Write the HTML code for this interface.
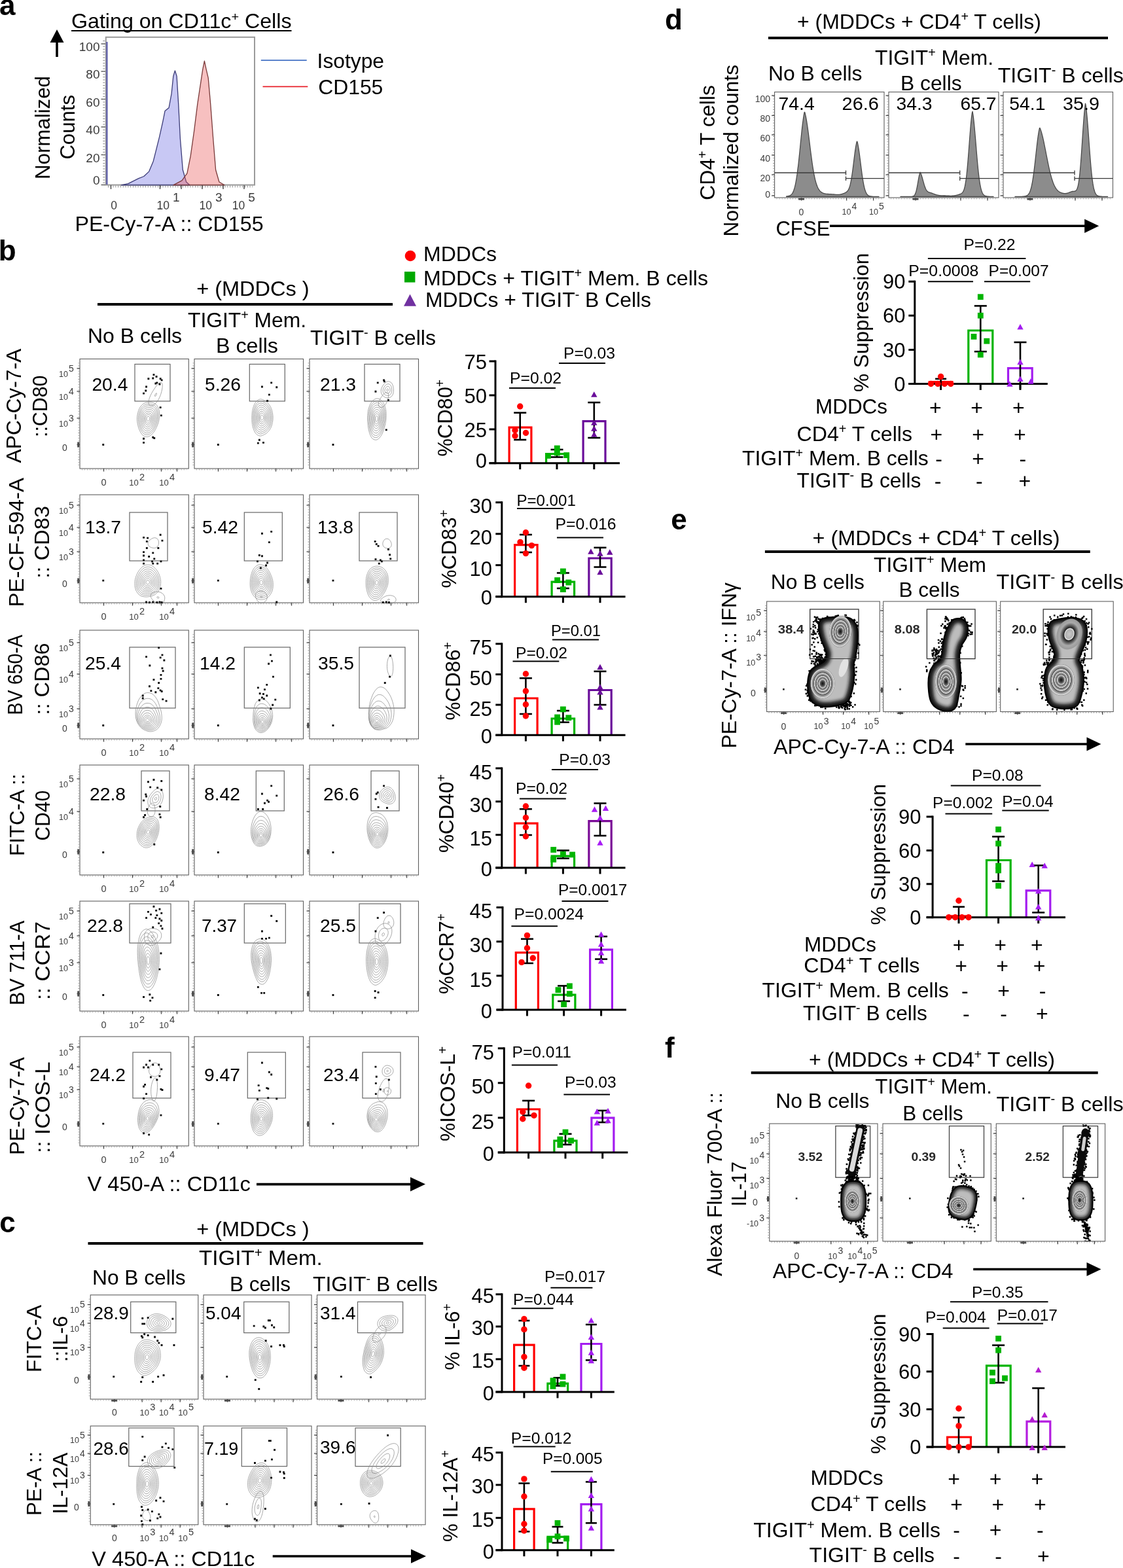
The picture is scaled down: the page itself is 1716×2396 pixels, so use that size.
<!DOCTYPE html>
<html lang="en"><head><meta charset="utf-8"><title>Figure</title>
<style>html,body{margin:0;padding:0;background:#fff}svg{display:block}text{font-family:"Liberation Sans",sans-serif}</style></head>
<body><svg width="1716" height="2396" viewBox="0 0 1716 2396">
<rect width="1716" height="2396" fill="#fff"/>
<defs>
<radialGradient id="zb"><stop offset="0" stop-color="#0c0c0c"/><stop offset="0.16" stop-color="#4a4a4a"/><stop offset="0.27" stop-color="#a8a8a8"/><stop offset="0.30" stop-color="#f0f0f0"/><stop offset="0.33" stop-color="#5a5a5a"/><stop offset="0.46" stop-color="#b4b4b4"/><stop offset="0.49" stop-color="#f0f0f0"/><stop offset="0.52" stop-color="#555"/><stop offset="0.66" stop-color="#bdbdbd"/><stop offset="0.69" stop-color="#f0f0f0"/><stop offset="0.72" stop-color="#555"/><stop offset="0.88" stop-color="#b0b0b0"/><stop offset="0.96" stop-color="#e0e0e0"/><stop offset="1" stop-color="#777"/></radialGradient>
<radialGradient id="zl"><stop offset="0" stop-color="#c8c8c8"/><stop offset="0.30" stop-color="#b0b0b0"/><stop offset="0.36" stop-color="#f0f0f0"/><stop offset="0.42" stop-color="#222"/><stop offset="0.75" stop-color="#aaa"/><stop offset="1" stop-color="#999"/></radialGradient>
<radialGradient id="hull"><stop offset="0" stop-color="#e8e8e8"/><stop offset="0.55" stop-color="#cfcfcf"/><stop offset="0.85" stop-color="#8a8a8a"/><stop offset="1" stop-color="#1a1a1a"/></radialGradient>
<linearGradient id="stk" x1="0" y1="0" x2="1" y2="0"><stop offset="0" stop-color="#222"/><stop offset="0.3" stop-color="#aaa"/><stop offset="0.55" stop-color="#d2d2d2"/><stop offset="0.8" stop-color="#999"/><stop offset="1" stop-color="#222"/></linearGradient>
<filter id="bl" x="-20%" y="-20%" width="140%" height="140%"><feGaussianBlur stdDeviation="2.6"/></filter>
</defs>
<text x="-1.1" y="23.3" font-size="44" font-weight="bold">a</text>
<text x="109" y="42.6" font-size="30.5" textLength="336.5" lengthAdjust="spacingAndGlyphs">Gating on CD11c<tspan dy="-10.98" font-size="18.91">+</tspan><tspan dy="10.98"> Cells</tspan></text>
<line x1="109" y1="47" x2="445.5" y2="47" stroke="#000" stroke-width="2.2" />
<line x1="87" y1="87" x2="87" y2="63" stroke="#000" stroke-width="3.6" />
<polygon points="87,45 76.5,65 97.5,65" fill="#000"/>
<text font-size="31" textLength="158" lengthAdjust="spacingAndGlyphs" transform="translate(75.5,274) rotate(-90)">Normalized</text>
<text font-size="31" textLength="98.6" lengthAdjust="spacingAndGlyphs" transform="translate(113.8,243.6) rotate(-90)">Counts</text>
<rect x="161.8" y="56.8" width="227.2" height="225.8" fill="#fff" stroke="#9a9a9a" stroke-width="2" />
<path d="M185.3,282.8 L195.9,280.6 L211.8,272.7 L219.8,269.5 L227.7,262.1 L234.3,246.2 L238.3,230.3 L243.6,209.2 L248.9,185.3 L252.1,169.4 L258.1,164.7 L262.1,143 L264.8,116.5 L267.4,108 L270.1,116.5 L272.7,158.9 L275.4,211.8 L279.3,259.5 L284.6,278 L289.9,282.8 Z" fill="rgba(110,110,225,0.38)" stroke="#3c3c78" stroke-width="1.3" stroke-linejoin="round"/>
<path d="M264.8,282.8 L278,275.9 L285.9,264.8 L291.2,238.3 L296.5,201.2 L301.8,158.9 L305.8,132.4 L309.8,105.9 L312.4,93.2 L315.1,105.9 L318.2,119.1 L321.7,158.9 L325.7,211.8 L329.6,259.5 L334.9,278 L342.9,282.8 Z" fill="rgba(235,90,90,0.38)" stroke="#7a3a3a" stroke-width="1.3" stroke-linejoin="round"/>
<line x1="163.4" y1="64" x2="163.4" y2="282" stroke="#5a5aa8" stroke-width="2.2" />
<text x="152.5" y="78.3" font-size="19" text-anchor="end" fill="#3a3a3a">100</text>
<line x1="154.5" y1="67" x2="161" y2="67" stroke="#555" stroke-width="1.4" />
<text x="152.5" y="120.4" font-size="19" text-anchor="end" fill="#3a3a3a">80</text>
<line x1="154.5" y1="109.1" x2="161" y2="109.1" stroke="#555" stroke-width="1.4" />
<text x="152.5" y="162.8" font-size="19" text-anchor="end" fill="#3a3a3a">60</text>
<line x1="154.5" y1="151.5" x2="161" y2="151.5" stroke="#555" stroke-width="1.4" />
<text x="152.5" y="205.3" font-size="19" text-anchor="end" fill="#3a3a3a">40</text>
<line x1="154.5" y1="194" x2="161" y2="194" stroke="#555" stroke-width="1.4" />
<text x="152.5" y="247.8" font-size="19" text-anchor="end" fill="#3a3a3a">20</text>
<line x1="154.5" y1="236.5" x2="161" y2="236.5" stroke="#555" stroke-width="1.4" />
<text x="152.5" y="281.8" font-size="19" text-anchor="end" fill="#3a3a3a">0</text>
<line x1="154.5" y1="282.5" x2="161" y2="282.5" stroke="#555" stroke-width="1.4" />
<line x1="158.8" y1="62" x2="158.8" y2="282" stroke="#888" stroke-width="3" stroke-dasharray="0.9 3.35"/>
<line x1="165" y1="285" x2="386" y2="285" stroke="#888" stroke-width="3" stroke-dasharray="0.9 2.9"/>
<line x1="169.5" y1="283" x2="169.5" y2="289" stroke="#444" stroke-width="1.4" />
<line x1="244.5" y1="283" x2="244.5" y2="289" stroke="#444" stroke-width="1.4" />
<line x1="277" y1="283" x2="277" y2="289" stroke="#444" stroke-width="1.4" />
<line x1="309" y1="283" x2="309" y2="289" stroke="#444" stroke-width="1.4" />
<line x1="341" y1="283" x2="341" y2="289" stroke="#444" stroke-width="1.4" />
<line x1="373" y1="283" x2="373" y2="289" stroke="#444" stroke-width="1.4" />
<text x="174" y="320" font-size="17.5" text-anchor="middle" fill="#3a3a3a">0</text>
<text x="239.6" y="320" font-size="17.5" fill="#3a3a3a">10</text>
<text x="264.1" y="308" font-size="19" fill="#3a3a3a">1</text>
<text x="304.5" y="320" font-size="17.5" fill="#3a3a3a">10</text>
<text x="329" y="308" font-size="19" fill="#3a3a3a">3</text>
<text x="354.8" y="320" font-size="17.5" fill="#3a3a3a">10</text>
<text x="379.3" y="308" font-size="19" fill="#3a3a3a">5</text>
<text x="114.4" y="353.4" font-size="32" textLength="288.2" lengthAdjust="spacingAndGlyphs">PE-Cy-7-A :: CD155</text>
<line x1="398.8" y1="92.2" x2="468.7" y2="92.2" stroke="#4472c4" stroke-width="1.8" />
<text x="484.6" y="104.3" font-size="32" textLength="102.4" lengthAdjust="spacingAndGlyphs">Isotype</text>
<line x1="401.5" y1="132.4" x2="470.3" y2="132.4" stroke="#e8202a" stroke-width="1.8" />
<text x="486.2" y="144" font-size="32" textLength="99.1" lengthAdjust="spacingAndGlyphs">CD155</text>
<rect x="122" y="548.5" width="166.3" height="167.5" fill="#fff" stroke="#5e5e5e" stroke-width="1.1" />
<line x1="120.5" y1="554.5" x2="120.5" y2="713" stroke="#999" stroke-width="2.2" stroke-dasharray="0.8 3.3"/>
<line x1="125" y1="717.5" x2="285.3" y2="717.5" stroke="#999" stroke-width="2.2" stroke-dasharray="0.8 3.3"/>
<line x1="117.5" y1="563" x2="122" y2="563" stroke="#444" stroke-width="1.3" />
<line x1="117.5" y1="598" x2="122" y2="598" stroke="#444" stroke-width="1.3" />
<line x1="117.5" y1="639" x2="122" y2="639" stroke="#444" stroke-width="1.3" />
<line x1="117.5" y1="679.5" x2="122" y2="679.5" stroke="#444" stroke-width="1.3" />
<line x1="158.5" y1="716" x2="158.5" y2="720.5" stroke="#444" stroke-width="1.3" />
<line x1="202.5" y1="716" x2="202.5" y2="720.5" stroke="#444" stroke-width="1.3" />
<line x1="246.5" y1="716" x2="246.5" y2="720.5" stroke="#444" stroke-width="1.3" />
<line x1="270.5" y1="716" x2="270.5" y2="720.5" stroke="#444" stroke-width="1.3" />
<rect x="118.2" y="675.5" width="3" height="8" fill="#4a4a4a"/>
<rect x="206" y="556.5" width="54" height="56.5" fill="none" stroke="#666" stroke-width="1.2" />
<g transform="translate(226.4,639.8) rotate(8)" fill="none" stroke="#8c8c8c" stroke-width="0.75"><path id="k1" d="M16.61,0C16.41,4.17 15.36,8.4 14.23,11.99C13.1,15.58 11.6,18.99 9.82,21.5C8.04,24.1 5.78,26.4 3.56,27.3C1.34,28.2 -1.31,27.8 -3.49,26.8C-5.67,25.7 -7.72,23.3 -9.51,20.9C-11.29,18.4 -12.97,15.46 -14.22,11.99C-15.48,8.51 -16.8,4.19 -17.03,0C-17.26,-4.19 -16.79,-9.51 -15.61,-13.16C-14.44,-16.81 -12.04,-19.95 -9.98,-21.9C-7.92,-23.9 -5.46,-24.3 -3.24,-24.9C-1.03,-25.4 1.06,-25.7 3.29,-25.2C5.52,-24.8 8.12,-24.3 10.14,-22.3C12.17,-20.2 14.36,-16.72 15.44,-13.01C16.52,-9.3 16.81,-4.17 16.61,0Z" vector-effect="non-scaling-stroke"/><use href="#k1" transform="scale(0.89,0.89)"/><use href="#k1" transform="scale(0.79,0.79)"/><use href="#k1" transform="scale(0.68,0.68)"/><use href="#k1" transform="scale(0.57,0.57)"/><use href="#k1" transform="scale(0.46,0.46)"/><use href="#k1" transform="scale(0.35,0.35)"/><use href="#k1" transform="scale(0.25,0.25)"/><use href="#k1" transform="scale(0.14,0.14)"/></g>
<g transform="translate(238,603.2) rotate(25)" fill="none" stroke="#8c8c8c" stroke-width="0.75"><path id="k2" d="M6.97,0C7.03,2.72 6.87,5.96 6.42,8.39C5.97,10.82 5.11,13.04 4.29,14.6C3.47,16.16 2.47,17.08 1.49,17.76C0.52,18.44 -0.54,18.99 -1.57,18.69C-2.6,18.38 -3.84,17.61 -4.68,15.93C-5.52,14.26 -6.28,11.3 -6.61,8.64C-6.94,5.99 -6.81,2.69 -6.66,0C-6.52,-2.69 -6.14,-5.08 -5.74,-7.5C-5.34,-9.92 -4.95,-12.5 -4.27,-14.54C-3.59,-16.58 -2.65,-18.88 -1.66,-19.74C-0.67,-20.6 0.66,-20.5 1.65,-19.64C2.65,-18.8 3.58,-16.65 4.32,-14.69C5.05,-12.74 5.61,-10.36 6.05,-7.91C6.49,-5.46 6.91,-2.72 6.97,0Z" vector-effect="non-scaling-stroke"/><use href="#k2" transform="scale(0.14,0.14)"/></g>
<path d="M233.5,571.2h2.9v2.9h-2.9zM237.6,574.1h2.9v2.9h-2.9zM243.7,577.3h2.9v2.9h-2.9zM225.4,577.3h2.9v2.9h-2.9zM232.3,576.5h2.9v2.9h-2.9zM238.4,583.4h2.9v2.9h-2.9zM242.5,585.5h2.9v2.9h-2.9zM236.4,584.6h2.9v2.9h-2.9zM245.7,579.4h2.9v2.9h-2.9zM222.1,589.5h2.9v2.9h-2.9zM221.3,595.6h2.9v2.9h-2.9zM218.1,599.7h2.9v2.9h-2.9zM243.7,621.2h2.9v2.9h-2.9zM244.9,633.4h2.9v2.9h-2.9zM218.1,668.8h2.9v2.9h-2.9zM218.1,674.9h2.9v2.9h-2.9zM232.3,666.8h2.9v2.9h-2.9zM234.3,668h2.9v2.9h-2.9zM156.3,678.1h2.9v2.9h-2.9z" fill="#111"/>
<text x="140.4" y="596.5" font-size="28" textLength="55" lengthAdjust="spacingAndGlyphs">20.4</text>
<rect x="297" y="548.5" width="166.5" height="167.5" fill="#fff" stroke="#5e5e5e" stroke-width="1.1" />
<line x1="295.5" y1="554.5" x2="295.5" y2="713" stroke="#999" stroke-width="2.2" stroke-dasharray="0.8 3.3"/>
<line x1="300" y1="717.5" x2="460.5" y2="717.5" stroke="#999" stroke-width="2.2" stroke-dasharray="0.8 3.3"/>
<line x1="292.5" y1="563" x2="297" y2="563" stroke="#444" stroke-width="1.3" />
<line x1="292.5" y1="598" x2="297" y2="598" stroke="#444" stroke-width="1.3" />
<line x1="292.5" y1="639" x2="297" y2="639" stroke="#444" stroke-width="1.3" />
<line x1="292.5" y1="679.5" x2="297" y2="679.5" stroke="#444" stroke-width="1.3" />
<line x1="333.5" y1="716" x2="333.5" y2="720.5" stroke="#444" stroke-width="1.3" />
<line x1="377.5" y1="716" x2="377.5" y2="720.5" stroke="#444" stroke-width="1.3" />
<line x1="421.5" y1="716" x2="421.5" y2="720.5" stroke="#444" stroke-width="1.3" />
<line x1="445.5" y1="716" x2="445.5" y2="720.5" stroke="#444" stroke-width="1.3" />
<rect x="293.2" y="675.5" width="3" height="8" fill="#4a4a4a"/>
<rect x="381.3" y="556.5" width="54" height="56.5" fill="none" stroke="#666" stroke-width="1.2" />
<g transform="translate(400.3,638.1) rotate(0)" fill="none" stroke="#8c8c8c" stroke-width="0.75"><path id="k3" d="M16.82,0C16.83,4.59 15.65,10.11 14.31,13.78C12.97,17.46 10.68,19.99 8.8,22.1C6.91,24.1 4.99,25.3 2.99,26.2C1,27.2 -1.09,28.3 -3.19,28C-5.29,27.6 -7.79,26.5 -9.62,24.1C-11.44,21.7 -13.16,17.64 -14.14,13.62C-15.12,9.6 -15.54,4.51 -15.51,0C-15.47,-4.51 -14.93,-9.45 -13.93,-13.42C-12.93,-17.39 -11.29,-21.4 -9.5,-23.8C-7.71,-26.3 -5.29,-27.6 -3.2,-28C-1.11,-28.5 1.02,-27.5 3.03,-26.6C5.04,-25.6 6.97,-24.3 8.84,-22.2C10.72,-20 12.96,-17.46 14.29,-13.76C15.62,-10.07 16.82,-4.59 16.82,0Z" vector-effect="non-scaling-stroke"/><use href="#k3" transform="scale(0.89,0.89)"/><use href="#k3" transform="scale(0.79,0.79)"/><use href="#k3" transform="scale(0.68,0.68)"/><use href="#k3" transform="scale(0.57,0.57)"/><use href="#k3" transform="scale(0.46,0.46)"/><use href="#k3" transform="scale(0.35,0.35)"/><use href="#k3" transform="scale(0.25,0.25)"/><use href="#k3" transform="scale(0.14,0.14)"/></g>
<path d="M399,589.5h2.9v2.9h-2.9zM413.2,583.4h2.9v2.9h-2.9zM421.3,590.3h2.9v2.9h-2.9zM409.9,601.7h2.9v2.9h-2.9zM407.1,611.1h2.9v2.9h-2.9zM394.9,670.8h2.9v2.9h-2.9zM392.9,675.7h2.9v2.9h-2.9zM401,674.9h2.9v2.9h-2.9zM331.9,678.1h2.9v2.9h-2.9z" fill="#111"/>
<text x="313" y="596.5" font-size="28" textLength="55" lengthAdjust="spacingAndGlyphs">5.26</text>
<rect x="473" y="548.5" width="166.5" height="167.5" fill="#fff" stroke="#5e5e5e" stroke-width="1.1" />
<line x1="471.5" y1="554.5" x2="471.5" y2="713" stroke="#999" stroke-width="2.2" stroke-dasharray="0.8 3.3"/>
<line x1="476" y1="717.5" x2="636.5" y2="717.5" stroke="#999" stroke-width="2.2" stroke-dasharray="0.8 3.3"/>
<line x1="468.5" y1="563" x2="473" y2="563" stroke="#444" stroke-width="1.3" />
<line x1="468.5" y1="598" x2="473" y2="598" stroke="#444" stroke-width="1.3" />
<line x1="468.5" y1="639" x2="473" y2="639" stroke="#444" stroke-width="1.3" />
<line x1="468.5" y1="679.5" x2="473" y2="679.5" stroke="#444" stroke-width="1.3" />
<line x1="509.5" y1="716" x2="509.5" y2="720.5" stroke="#444" stroke-width="1.3" />
<line x1="553.5" y1="716" x2="553.5" y2="720.5" stroke="#444" stroke-width="1.3" />
<line x1="597.5" y1="716" x2="597.5" y2="720.5" stroke="#444" stroke-width="1.3" />
<line x1="621.5" y1="716" x2="621.5" y2="720.5" stroke="#444" stroke-width="1.3" />
<rect x="469.2" y="675.5" width="3" height="8" fill="#4a4a4a"/>
<rect x="557" y="556.5" width="54" height="56.5" fill="none" stroke="#666" stroke-width="1.2" />
<g transform="translate(575.6,639.8) rotate(5)" fill="none" stroke="#8c8c8c" stroke-width="0.75"><path id="k4" d="M14.27,0C14.23,4.2 13.75,8.49 12.97,12.49C12.19,16.49 11.13,20.8 9.58,24C8.02,27.2 5.81,30.6 3.63,31.8C1.44,32.9 -1.44,32.6 -3.55,31.1C-5.67,29.6 -7.62,26 -9.07,22.8C-10.52,19.54 -11.41,15.6 -12.25,11.8C-13.09,8.01 -13.85,4.19 -14.11,0C-14.38,-4.19 -14.53,-9.17 -13.84,-13.33C-13.14,-17.48 -11.67,-22.1 -9.94,-24.9C-8.21,-27.8 -5.68,-29.6 -3.47,-30.4C-1.25,-31.1 1.23,-30.6 3.35,-29.4C5.48,-28.2 7.63,-26 9.26,-23.2C10.9,-20.5 12.35,-16.57 13.18,-12.7C14.02,-8.83 14.31,-4.2 14.27,0Z" vector-effect="non-scaling-stroke"/><use href="#k4" transform="scale(0.89,0.89)"/><use href="#k4" transform="scale(0.79,0.79)"/><use href="#k4" transform="scale(0.68,0.68)"/><use href="#k4" transform="scale(0.57,0.57)"/><use href="#k4" transform="scale(0.46,0.46)"/><use href="#k4" transform="scale(0.35,0.35)"/><use href="#k4" transform="scale(0.25,0.25)"/><use href="#k4" transform="scale(0.14,0.14)"/></g>
<g transform="translate(592.2,595.9) rotate(0)" fill="none" stroke="#8c8c8c" stroke-width="0.75"><path id="k5" d="M9.18,0C9.19,1.67 9.19,3.44 8.73,5.04C8.26,6.64 7.45,8.44 6.37,9.59C5.3,10.74 3.7,11.56 2.27,11.92C0.83,12.28 -0.79,12.13 -2.23,11.75C-3.68,11.37 -5.21,10.69 -6.41,9.64C-7.61,8.59 -8.83,7.05 -9.42,5.45C-10.01,3.84 -10.15,1.7 -9.95,0C-9.76,-1.7 -8.96,-3.33 -8.26,-4.78C-7.56,-6.22 -6.75,-7.45 -5.75,-8.65C-4.75,-9.86 -3.65,-11.28 -2.28,-12C-0.91,-12.72 0.98,-13.29 2.46,-12.96C3.95,-12.62 5.62,-11.33 6.65,-10.01C7.68,-8.68 8.23,-6.67 8.65,-5C9.07,-3.33 9.17,-1.67 9.18,0Z" vector-effect="non-scaling-stroke"/><use href="#k5" transform="scale(0.71,0.71)"/><use href="#k5" transform="scale(0.43,0.43)"/><use href="#k5" transform="scale(0.14,0.14)"/></g>
<g transform="translate(586.2,611.5) rotate(25)" fill="none" stroke="#8c8c8c" stroke-width="0.75"><path id="k6" d="M5.75,0C5.79,1.68 5.67,3.59 5.32,5.13C4.98,6.66 4.35,8.15 3.68,9.23C3.02,10.32 2.17,11.13 1.33,11.63C0.48,12.13 -0.5,12.47 -1.4,12.23C-2.29,11.98 -3.35,11.29 -4.04,10.14C-4.74,8.99 -5.3,7.04 -5.55,5.35C-5.8,3.66 -5.65,1.66 -5.53,0C-5.41,-1.66 -5.13,-3.11 -4.81,-4.64C-4.5,-6.17 -4.23,-7.85 -3.66,-9.19C-3.1,-10.53 -2.3,-12.11 -1.45,-12.7C-0.6,-13.3 0.59,-13.3 1.46,-12.76C2.33,-12.22 3.16,-10.77 3.77,-9.47C4.39,-8.16 4.8,-6.52 5.13,-4.94C5.46,-3.37 5.72,-1.68 5.75,0Z" vector-effect="non-scaling-stroke"/></g>
<path d="M575.8,583.4h2.9v2.9h-2.9zM585.1,579.4h2.9v2.9h-2.9zM585.9,581.4h2.9v2.9h-2.9zM572.5,596.8h2.9v2.9h-2.9zM592,609.9h2.9v2.9h-2.9zM588.8,655.4h2.9v2.9h-2.9zM507.5,678.1h2.9v2.9h-2.9z" fill="#111"/>
<text x="489" y="596.5" font-size="28" textLength="55" lengthAdjust="spacingAndGlyphs">21.3</text>
<text x="90" y="575.5" font-size="12.5" fill="#3c3c3c">10</text>
<text x="105.1" y="567.8" font-size="14" fill="#3c3c3c">5</text>
<text x="90" y="610.5" font-size="12.5" fill="#3c3c3c">10</text>
<text x="105.1" y="602.8" font-size="14" fill="#3c3c3c">4</text>
<text x="90" y="651.5" font-size="12.5" fill="#3c3c3c">10</text>
<text x="105.1" y="643.8" font-size="14" fill="#3c3c3c">3</text>
<text x="99" y="689" font-size="14" text-anchor="middle" fill="#3c3c3c">0</text>
<text x="158.5" y="742.2" font-size="14.5" text-anchor="middle" fill="#3c3c3c">0</text>
<text x="197.3" y="741.7" font-size="13" fill="#3c3c3c">10</text>
<text x="213" y="733.6" font-size="14.56" fill="#3c3c3c">2</text>
<text x="243.2" y="741.7" font-size="13" fill="#3c3c3c">10</text>
<text x="258.9" y="733.6" font-size="14.56" fill="#3c3c3c">4</text>
<rect x="122" y="756" width="166.3" height="165" fill="#fff" stroke="#5e5e5e" stroke-width="1.1" />
<line x1="120.5" y1="762" x2="120.5" y2="918" stroke="#999" stroke-width="2.2" stroke-dasharray="0.8 3.3"/>
<line x1="125" y1="922.5" x2="285.3" y2="922.5" stroke="#999" stroke-width="2.2" stroke-dasharray="0.8 3.3"/>
<line x1="117.5" y1="772" x2="122" y2="772" stroke="#444" stroke-width="1.3" />
<line x1="117.5" y1="806" x2="122" y2="806" stroke="#444" stroke-width="1.3" />
<line x1="117.5" y1="843" x2="122" y2="843" stroke="#444" stroke-width="1.3" />
<line x1="117.5" y1="887.5" x2="122" y2="887.5" stroke="#444" stroke-width="1.3" />
<line x1="158.5" y1="921" x2="158.5" y2="925.5" stroke="#444" stroke-width="1.3" />
<line x1="202.5" y1="921" x2="202.5" y2="925.5" stroke="#444" stroke-width="1.3" />
<line x1="246.5" y1="921" x2="246.5" y2="925.5" stroke="#444" stroke-width="1.3" />
<line x1="270.5" y1="921" x2="270.5" y2="925.5" stroke="#444" stroke-width="1.3" />
<rect x="118.2" y="883.5" width="3" height="8" fill="#4a4a4a"/>
<rect x="198" y="783" width="58" height="74" fill="none" stroke="#666" stroke-width="1.2" />
<g transform="translate(225.7,889.7) rotate(0)" fill="none" stroke="#8c8c8c" stroke-width="0.75"><defs><path id="k7" d="M19.93,0C20.1,3.78 19.27,8.43 17.82,11.6C16.37,14.77 13.59,17.35 11.23,19.03C8.87,20.7 6.16,21.1 3.66,21.7C1.16,22.2 -1.19,22.7 -3.79,22.4C-6.38,22.2 -9.49,21.9 -11.92,20.2C-14.35,18.46 -17.07,15.31 -18.35,11.94C-19.63,8.58 -19.95,3.76 -19.61,0C-19.28,-3.76 -17.79,-7.54 -16.35,-10.64C-14.91,-13.74 -13.03,-16.44 -10.97,-18.59C-8.91,-20.8 -6.48,-22.7 -3.98,-23.6C-1.48,-24.4 1.47,-24.5 4.02,-23.8C6.57,-23.1 9.15,-21.3 11.31,-19.16C13.47,-17.04 15.57,-14.26 17.01,-11.07C18.44,-7.87 19.79,-3.78 19.93,0Z" vector-effect="non-scaling-stroke"/></defs><use href="#k7" transform="translate(0,-1.25) scale(1,1.05)"/><use href="#k7" transform="translate(0,-0.89) scale(0.89,0.93)"/><use href="#k7" transform="translate(0,-0.6) scale(0.79,0.81)"/><use href="#k7" transform="translate(0,-0.39) scale(0.68,0.69)"/><use href="#k7" transform="translate(0,-0.23) scale(0.57,0.58)"/><use href="#k7" transform="translate(0,-0.12) scale(0.46,0.47)"/><use href="#k7" transform="translate(0,-0.06) scale(0.35,0.36)"/><use href="#k7" transform="translate(0,-0.02) scale(0.25,0.25)"/><use href="#k7" transform="translate(0,-0) scale(0.14,0.14)"/></g>
<g transform="translate(241.4,913) rotate(30)" fill="none" stroke="#8c8c8c" stroke-width="0.75"><path id="k8" d="M10.75,0C10.85,1.1 11.08,2.31 10.61,3.41C10.13,4.51 9.2,5.81 7.9,6.6C6.6,7.39 4.55,7.94 2.79,8.15C1.03,8.36 -0.96,8.16 -2.69,7.85C-4.41,7.54 -6.16,7.03 -7.55,6.31C-8.94,5.59 -10.33,4.59 -11.02,3.54C-11.71,2.49 -11.88,1.12 -11.7,0C-11.52,-1.12 -10.69,-2.2 -9.92,-3.19C-9.15,-4.17 -8.27,-5.08 -7.09,-5.93C-5.91,-6.78 -4.51,-7.8 -2.83,-8.27C-1.15,-8.74 1.22,-9.03 2.99,-8.75C4.77,-8.46 6.66,-7.46 7.82,-6.54C8.98,-5.61 9.46,-4.28 9.95,-3.19C10.44,-2.11 10.64,-1.1 10.75,0Z" vector-effect="non-scaling-stroke"/><use href="#k8" transform="scale(0.14,0.14)"/></g>
<g transform="translate(234.7,829.8) rotate(0)" fill="none" stroke="#8c8c8c" stroke-width="0.75"><path id="k9" d="M7.83,0C7.79,1.17 7.62,2.39 7.15,3.45C6.69,4.5 5.93,5.62 5.03,6.3C4.12,6.99 2.85,7.4 1.73,7.58C0.61,7.75 -0.56,7.56 -1.67,7.33C-2.79,7.1 -3.93,6.8 -4.95,6.21C-5.98,5.61 -7.19,4.8 -7.82,3.76C-8.44,2.73 -8.83,1.2 -8.71,0C-8.59,-1.2 -7.79,-2.48 -7.08,-3.41C-6.37,-4.34 -5.36,-4.94 -4.45,-5.58C-3.55,-6.23 -2.71,-6.84 -1.66,-7.26C-0.61,-7.68 0.68,-8.18 1.85,-8.09C3.02,-8 4.45,-7.49 5.37,-6.73C6.29,-5.98 6.98,-4.68 7.39,-3.56C7.8,-2.43 7.87,-1.17 7.83,0Z" vector-effect="non-scaling-stroke"/></g>
<path d="M218.1,819.9h2.9v2.9h-2.9zM224.2,820.7h2.9v2.9h-2.9zM243.7,815.8h2.9v2.9h-2.9zM222.9,825.9h2.9v2.9h-2.9zM246.5,824.7h2.9v2.9h-2.9zM222.9,836.1h2.9v2.9h-2.9zM240.4,836.1h2.9v2.9h-2.9zM218.1,842.2h2.9v2.9h-2.9zM232.3,843.4h2.9v2.9h-2.9zM218.1,847.5h2.9v2.9h-2.9zM226.2,849.1h2.9v2.9h-2.9zM234.3,852.4h2.9v2.9h-2.9zM218.1,854.4h2.9v2.9h-2.9zM231.1,856.4h2.9v2.9h-2.9zM218.1,859.7h2.9v2.9h-2.9zM232.3,859.7h2.9v2.9h-2.9zM239.2,859.7h2.9v2.9h-2.9zM244.5,856.4h2.9v2.9h-2.9zM244.5,897.9h2.9v2.9h-2.9zM156.3,885.7h2.9v2.9h-2.9zM222.1,918.6h2.9v2.9h-2.9zM227,919h2.9v2.9h-2.9zM232.3,918.6h2.9v2.9h-2.9zM238.4,919h2.9v2.9h-2.9zM242.5,918.6h2.9v2.9h-2.9zM245.7,919h2.9v2.9h-2.9z" fill="#111"/>
<text x="130" y="815" font-size="28" textLength="55" lengthAdjust="spacingAndGlyphs">13.7</text>
<rect x="297" y="756" width="166.5" height="165" fill="#fff" stroke="#5e5e5e" stroke-width="1.1" />
<line x1="295.5" y1="762" x2="295.5" y2="918" stroke="#999" stroke-width="2.2" stroke-dasharray="0.8 3.3"/>
<line x1="300" y1="922.5" x2="460.5" y2="922.5" stroke="#999" stroke-width="2.2" stroke-dasharray="0.8 3.3"/>
<line x1="292.5" y1="772" x2="297" y2="772" stroke="#444" stroke-width="1.3" />
<line x1="292.5" y1="806" x2="297" y2="806" stroke="#444" stroke-width="1.3" />
<line x1="292.5" y1="843" x2="297" y2="843" stroke="#444" stroke-width="1.3" />
<line x1="292.5" y1="887.5" x2="297" y2="887.5" stroke="#444" stroke-width="1.3" />
<line x1="333.5" y1="921" x2="333.5" y2="925.5" stroke="#444" stroke-width="1.3" />
<line x1="377.5" y1="921" x2="377.5" y2="925.5" stroke="#444" stroke-width="1.3" />
<line x1="421.5" y1="921" x2="421.5" y2="925.5" stroke="#444" stroke-width="1.3" />
<line x1="445.5" y1="921" x2="445.5" y2="925.5" stroke="#444" stroke-width="1.3" />
<rect x="293.2" y="883.5" width="3" height="8" fill="#4a4a4a"/>
<rect x="373.3" y="783" width="58" height="74" fill="none" stroke="#666" stroke-width="1.2" />
<g transform="translate(399.3,890.3) rotate(0)" fill="none" stroke="#8c8c8c" stroke-width="0.75"><path id="k10" d="M17.86,0C18.14,3.71 17.91,8.24 16.86,11.73C15.81,15.21 13.7,18.65 11.56,20.9C9.42,23.2 6.61,24.7 4.02,25.4C1.42,26.2 -1.46,26.2 -4.02,25.4C-6.57,24.6 -9.34,22.9 -11.32,20.5C-13.31,18.12 -14.98,14.51 -15.94,11.09C-16.9,7.67 -17.13,3.68 -17.1,0C-17.07,-3.68 -16.66,-7.43 -15.76,-10.96C-14.86,-14.49 -13.6,-18.46 -11.69,-21.2C-9.78,-23.9 -6.94,-26.5 -4.31,-27.3C-1.68,-28.1 1.61,-27.3 4.1,-25.9C6.58,-24.6 8.77,-21.8 10.61,-19.21C12.45,-16.65 13.94,-13.74 15.15,-10.54C16.36,-7.33 17.57,-3.71 17.86,0Z" vector-effect="non-scaling-stroke"/><use href="#k10" transform="scale(0.89,0.89)"/><use href="#k10" transform="scale(0.79,0.79)"/><use href="#k10" transform="scale(0.68,0.68)"/><use href="#k10" transform="scale(0.57,0.57)"/><use href="#k10" transform="scale(0.46,0.46)"/><use href="#k10" transform="scale(0.35,0.35)"/><use href="#k10" transform="scale(0.25,0.25)"/><use href="#k10" transform="scale(0.14,0.14)"/></g>
<g transform="translate(399.3,912) rotate(0)" fill="none" stroke="#8c8c8c" stroke-width="0.75"><path id="k11" d="M9.02,0C9.05,1.3 8.71,2.72 8.17,3.93C7.63,5.15 6.81,6.38 5.8,7.27C4.79,8.16 3.42,8.99 2.12,9.28C0.81,9.56 -0.82,9.42 -2.05,8.98C-3.28,8.54 -4.4,7.54 -5.29,6.63C-6.17,5.72 -6.77,4.64 -7.34,3.54C-7.92,2.43 -8.52,1.29 -8.74,0C-8.96,-1.29 -9.12,-2.9 -8.68,-4.18C-8.25,-5.46 -7.23,-6.89 -6.13,-7.68C-5.02,-8.48 -3.38,-8.84 -2.04,-8.95C-0.71,-9.06 0.67,-8.7 1.9,-8.32C3.12,-7.94 4.29,-7.4 5.31,-6.65C6.32,-5.91 7.35,-4.95 7.97,-3.84C8.58,-2.73 8.98,-1.3 9.02,0Z" vector-effect="non-scaling-stroke"/><use href="#k11" transform="scale(0.14,0.14)"/></g>
<path d="M399,813.8h2.9v2.9h-2.9zM413.2,810.9h2.9v2.9h-2.9zM409.9,827.2h2.9v2.9h-2.9zM394.9,847.1h2.9v2.9h-2.9zM399,848.3h2.9v2.9h-2.9zM392,856.4h2.9v2.9h-2.9zM407.1,858.5h2.9v2.9h-2.9zM405.1,862.5h2.9v2.9h-2.9zM396.9,866.6h2.9v2.9h-2.9zM421.3,918.6h2.9v2.9h-2.9zM331.9,885.7h2.9v2.9h-2.9z" fill="#111"/>
<text x="309" y="815" font-size="28" textLength="55" lengthAdjust="spacingAndGlyphs">5.42</text>
<rect x="473" y="756" width="166.5" height="165" fill="#fff" stroke="#5e5e5e" stroke-width="1.1" />
<line x1="471.5" y1="762" x2="471.5" y2="918" stroke="#999" stroke-width="2.2" stroke-dasharray="0.8 3.3"/>
<line x1="476" y1="922.5" x2="636.5" y2="922.5" stroke="#999" stroke-width="2.2" stroke-dasharray="0.8 3.3"/>
<line x1="468.5" y1="772" x2="473" y2="772" stroke="#444" stroke-width="1.3" />
<line x1="468.5" y1="806" x2="473" y2="806" stroke="#444" stroke-width="1.3" />
<line x1="468.5" y1="843" x2="473" y2="843" stroke="#444" stroke-width="1.3" />
<line x1="468.5" y1="887.5" x2="473" y2="887.5" stroke="#444" stroke-width="1.3" />
<line x1="509.5" y1="921" x2="509.5" y2="925.5" stroke="#444" stroke-width="1.3" />
<line x1="553.5" y1="921" x2="553.5" y2="925.5" stroke="#444" stroke-width="1.3" />
<line x1="597.5" y1="921" x2="597.5" y2="925.5" stroke="#444" stroke-width="1.3" />
<line x1="621.5" y1="921" x2="621.5" y2="925.5" stroke="#444" stroke-width="1.3" />
<rect x="469.2" y="883.5" width="3" height="8" fill="#4a4a4a"/>
<rect x="549" y="783" width="58" height="74" fill="none" stroke="#666" stroke-width="1.2" />
<g transform="translate(575.6,890.3) rotate(0)" fill="none" stroke="#8c8c8c" stroke-width="0.75"><path id="k12" d="M17.49,0C17.11,3.78 15.57,7.43 14.26,10.5C12.95,13.58 11.37,16.02 9.62,18.44C7.86,20.9 6.02,23.6 3.74,25.1C1.46,26.5 -1.55,27.7 -4.05,27.2C-6.55,26.6 -9.39,24.3 -11.26,21.6C-13.13,18.95 -14.4,14.84 -15.26,11.24C-16.12,7.64 -16.45,3.73 -16.43,0C-16.41,-3.73 -16.1,-7.76 -15.12,-11.13C-14.14,-14.5 -12.45,-17.97 -10.54,-20.2C-8.64,-22.5 -6.05,-23.9 -3.68,-24.6C-1.3,-25.4 1.25,-25.3 3.69,-24.8C6.14,-24.2 8.85,-23.2 10.99,-21.1C13.14,-18.99 15.46,-15.7 16.54,-12.18C17.63,-8.67 17.87,-3.78 17.49,0Z" vector-effect="non-scaling-stroke"/><use href="#k12" transform="scale(0.89,0.89)"/><use href="#k12" transform="scale(0.79,0.79)"/><use href="#k12" transform="scale(0.68,0.68)"/><use href="#k12" transform="scale(0.57,0.57)"/><use href="#k12" transform="scale(0.46,0.46)"/><use href="#k12" transform="scale(0.35,0.35)"/><use href="#k12" transform="scale(0.25,0.25)"/><use href="#k12" transform="scale(0.14,0.14)"/></g>
<g transform="translate(593.9,916.3) rotate(0)" fill="none" stroke="#8c8c8c" stroke-width="0.75"><path id="k13" d="M11.21,0C11.22,0.84 11.16,1.75 10.54,2.54C9.92,3.32 8.82,4.16 7.5,4.71C6.19,5.25 4.33,5.59 2.64,5.78C0.95,5.97 -0.91,5.97 -2.66,5.83C-4.41,5.68 -6.38,5.44 -7.88,4.94C-9.37,4.43 -10.96,3.63 -11.65,2.8C-12.33,1.98 -12.33,0.86 -12,0C-11.68,-0.86 -10.57,-1.63 -9.7,-2.34C-8.82,-3.04 -7.91,-3.63 -6.75,-4.23C-5.59,-4.84 -4.35,-5.6 -2.73,-5.98C-1.11,-6.35 1.18,-6.66 2.97,-6.5C4.76,-6.34 6.76,-5.69 8.01,-5.02C9.26,-4.36 9.95,-3.36 10.48,-2.52C11.02,-1.69 11.2,-0.84 11.21,0Z" vector-effect="non-scaling-stroke"/><use href="#k13" transform="scale(0.14,0.14)"/></g>
<g transform="translate(591.5,830.8) rotate(0)" fill="none" stroke="#8c8c8c" stroke-width="0.75"><path id="k14" d="M6.63,0C6.77,0.98 6.84,2.16 6.52,3.14C6.19,4.11 5.47,5.18 4.66,5.84C3.84,6.5 2.65,6.91 1.61,7.08C0.58,7.24 -0.57,7.1 -1.56,6.82C-2.54,6.54 -3.54,6.04 -4.3,5.4C-5.06,4.75 -5.74,3.85 -6.13,2.95C-6.52,2.05 -6.67,0.98 -6.66,0C-6.65,-0.98 -6.45,-1.99 -6.09,-2.93C-5.73,-3.88 -5.24,-4.9 -4.51,-5.65C-3.78,-6.4 -2.72,-7.17 -1.7,-7.43C-0.67,-7.69 0.67,-7.58 1.65,-7.21C2.63,-6.85 3.51,-6 4.19,-5.25C4.86,-4.51 5.29,-3.62 5.7,-2.74C6.1,-1.87 6.5,-0.98 6.63,0Z" vector-effect="non-scaling-stroke"/></g>
<path d="M571.7,825.9h2.9v2.9h-2.9zM573.8,830h2.9v2.9h-2.9zM576.6,832.9h2.9v2.9h-2.9zM592,838.1h2.9v2.9h-2.9zM594.1,846.3h2.9v2.9h-2.9zM595.3,852.4h2.9v2.9h-2.9zM572.5,853.2h2.9v2.9h-2.9zM579.9,854.4h2.9v2.9h-2.9zM581.9,856.4h2.9v2.9h-2.9zM577.8,859.7h2.9v2.9h-2.9zM507.5,885.7h2.9v2.9h-2.9zM583.9,919h2.9v2.9h-2.9zM588.8,918.6h2.9v2.9h-2.9zM592.9,919h2.9v2.9h-2.9z" fill="#111"/>
<text x="485" y="815" font-size="28" textLength="55" lengthAdjust="spacingAndGlyphs">13.8</text>
<text x="90" y="784.5" font-size="12.5" fill="#3c3c3c">10</text>
<text x="105.1" y="776.8" font-size="14" fill="#3c3c3c">5</text>
<text x="90" y="818.5" font-size="12.5" fill="#3c3c3c">10</text>
<text x="105.1" y="810.8" font-size="14" fill="#3c3c3c">4</text>
<text x="90" y="855.5" font-size="12.5" fill="#3c3c3c">10</text>
<text x="105.1" y="847.8" font-size="14" fill="#3c3c3c">3</text>
<text x="99" y="897" font-size="14" text-anchor="middle" fill="#3c3c3c">0</text>
<text x="158.5" y="947.2" font-size="14.5" text-anchor="middle" fill="#3c3c3c">0</text>
<text x="197.3" y="946.7" font-size="13" fill="#3c3c3c">10</text>
<text x="213" y="938.6" font-size="14.56" fill="#3c3c3c">2</text>
<text x="243.2" y="946.7" font-size="13" fill="#3c3c3c">10</text>
<text x="258.9" y="938.6" font-size="14.56" fill="#3c3c3c">4</text>
<rect x="122" y="963" width="166.3" height="166" fill="#fff" stroke="#5e5e5e" stroke-width="1.1" />
<line x1="120.5" y1="969" x2="120.5" y2="1126" stroke="#999" stroke-width="2.2" stroke-dasharray="0.8 3.3"/>
<line x1="125" y1="1130.5" x2="285.3" y2="1130.5" stroke="#999" stroke-width="2.2" stroke-dasharray="0.8 3.3"/>
<line x1="117.5" y1="982" x2="122" y2="982" stroke="#444" stroke-width="1.3" />
<line x1="117.5" y1="1030" x2="122" y2="1030" stroke="#444" stroke-width="1.3" />
<line x1="117.5" y1="1083" x2="122" y2="1083" stroke="#444" stroke-width="1.3" />
<line x1="117.5" y1="1108.5" x2="122" y2="1108.5" stroke="#444" stroke-width="1.3" />
<line x1="158.5" y1="1129" x2="158.5" y2="1133.5" stroke="#444" stroke-width="1.3" />
<line x1="202.5" y1="1129" x2="202.5" y2="1133.5" stroke="#444" stroke-width="1.3" />
<line x1="246.5" y1="1129" x2="246.5" y2="1133.5" stroke="#444" stroke-width="1.3" />
<line x1="270.5" y1="1129" x2="270.5" y2="1133.5" stroke="#444" stroke-width="1.3" />
<rect x="118.2" y="1104.5" width="3" height="8" fill="#4a4a4a"/>
<rect x="198" y="989" width="70" height="93" fill="none" stroke="#666" stroke-width="1.2" />
<g transform="translate(225.4,1100.3) rotate(0)" fill="none" stroke="#8c8c8c" stroke-width="0.75"><defs><path id="k15" d="M19.58,0C20.1,2.37 20.6,5.29 19.75,7.7C18.86,10.11 16.73,12.87 14.25,14.46C11.77,16.06 8.02,16.96 4.87,17.28C1.73,17.6 -1.67,17.1 -4.62,16.38C-7.56,15.67 -10.49,14.52 -12.79,12.99C-15.1,11.45 -17.23,9.35 -18.44,7.19C-19.65,5.02 -20.1,2.38 -20,0C-19.98,-2.38 -19.24,-4.79 -18.15,-7.07C-17.05,-9.35 -15.64,-11.82 -13.48,-13.68C-11.31,-15.54 -8.23,-17.57 -5.15,-18.25C-2.06,-18.93 2.07,-18.71 5.02,-17.79C7.96,-16.86 10.58,-14.59 12.52,-12.71C14.46,-10.83 15.48,-8.61 16.66,-6.49C17.84,-4.38 19.07,-2.37 19.58,0Z" vector-effect="non-scaling-stroke"/></defs><use href="#k15" transform="translate(1.66,-11.05) scale(1,1.65)"/><use href="#k15" transform="translate(1.18,-7.86) scale(0.89,1.35)"/><use href="#k15" transform="translate(0.8,-5.35) scale(0.79,1.1)"/><use href="#k15" transform="translate(0.52,-3.44) scale(0.68,0.88)"/><use href="#k15" transform="translate(0.31,-2.05) scale(0.57,0.69)"/><use href="#k15" transform="translate(0.16,-1.09) scale(0.46,0.53)"/><use href="#k15" transform="translate(0.07,-0.49) scale(0.35,0.38)"/><use href="#k15" transform="translate(0.03,-0.17) scale(0.25,0.26)"/><use href="#k15" transform="translate(0,-0.03) scale(0.14,0.14)"/></g>
<path d="M241.2,988.4h2.9v2.9h-2.9zM246.5,999.4h2.9v2.9h-2.9zM243.7,1003.4h2.9v2.9h-2.9zM249.4,1007.5h2.9v2.9h-2.9zM222.1,1002.2h2.9v2.9h-2.9zM227.4,1015.6h2.9v2.9h-2.9zM246.5,1019.7h2.9v2.9h-2.9zM247.7,1023.8h2.9v2.9h-2.9zM244.5,1029.9h2.9v2.9h-2.9zM233.5,1037.2h2.9v2.9h-2.9zM244.5,1035.9h2.9v2.9h-2.9zM241.2,1042h2.9v2.9h-2.9zM227,1047.3h2.9v2.9h-2.9zM240.4,1050.2h2.9v2.9h-2.9zM243.7,1053.4h2.9v2.9h-2.9zM229.4,1054.2h2.9v2.9h-2.9zM236.4,1056.3h2.9v2.9h-2.9zM245.7,1055.1h2.9v2.9h-2.9zM216.8,1061.6h2.9v2.9h-2.9zM216.8,1065.6h2.9v2.9h-2.9zM247.3,1067.2h2.9v2.9h-2.9zM252.6,1069.7h2.9v2.9h-2.9zM156.3,1107.1h2.9v2.9h-2.9z" fill="#111"/>
<text x="130" y="1023" font-size="28" textLength="55" lengthAdjust="spacingAndGlyphs">25.4</text>
<rect x="297" y="963" width="166.5" height="166" fill="#fff" stroke="#5e5e5e" stroke-width="1.1" />
<line x1="295.5" y1="969" x2="295.5" y2="1126" stroke="#999" stroke-width="2.2" stroke-dasharray="0.8 3.3"/>
<line x1="300" y1="1130.5" x2="460.5" y2="1130.5" stroke="#999" stroke-width="2.2" stroke-dasharray="0.8 3.3"/>
<line x1="292.5" y1="982" x2="297" y2="982" stroke="#444" stroke-width="1.3" />
<line x1="292.5" y1="1030" x2="297" y2="1030" stroke="#444" stroke-width="1.3" />
<line x1="292.5" y1="1083" x2="297" y2="1083" stroke="#444" stroke-width="1.3" />
<line x1="292.5" y1="1108.5" x2="297" y2="1108.5" stroke="#444" stroke-width="1.3" />
<line x1="333.5" y1="1129" x2="333.5" y2="1133.5" stroke="#444" stroke-width="1.3" />
<line x1="377.5" y1="1129" x2="377.5" y2="1133.5" stroke="#444" stroke-width="1.3" />
<line x1="421.5" y1="1129" x2="421.5" y2="1133.5" stroke="#444" stroke-width="1.3" />
<line x1="445.5" y1="1129" x2="445.5" y2="1133.5" stroke="#444" stroke-width="1.3" />
<rect x="293.2" y="1104.5" width="3" height="8" fill="#4a4a4a"/>
<rect x="373.3" y="989" width="70" height="93" fill="none" stroke="#666" stroke-width="1.2" />
<g transform="translate(401,1103) rotate(0)" fill="none" stroke="#8c8c8c" stroke-width="0.75"><defs><path id="k16" d="M15.63,0C15.62,2.1 14.92,4.4 13.92,6.28C12.92,8.17 11.33,9.86 9.61,11.3C7.89,12.73 5.87,14.11 3.62,14.88C1.38,15.65 -1.48,16.3 -3.88,15.92C-6.27,15.55 -9.06,14.24 -10.75,12.63C-12.43,11.03 -13.42,8.42 -13.99,6.32C-14.56,4.21 -14.28,2.05 -14.16,0C-14.05,-2.05 -13.94,-3.98 -13.31,-6.01C-12.67,-8.03 -11.9,-10.49 -10.33,-12.15C-8.77,-13.81 -6.24,-15.45 -3.89,-15.98C-1.55,-16.51 1.45,-16.09 3.74,-15.35C6.02,-14.61 8.12,-13.06 9.82,-11.55C11.53,-10.04 13,-8.23 13.96,-6.3C14.93,-4.38 15.63,-2.1 15.63,0Z" vector-effect="non-scaling-stroke"/></defs><use href="#k16" transform="translate(0,-9) scale(1,1.6)"/><use href="#k16" transform="translate(0,-6.4) scale(0.89,1.32)"/><use href="#k16" transform="translate(0,-4.35) scale(0.79,1.08)"/><use href="#k16" transform="translate(0,-2.8) scale(0.68,0.86)"/><use href="#k16" transform="translate(0,-1.67) scale(0.57,0.68)"/><use href="#k16" transform="translate(0,-0.89) scale(0.46,0.52)"/><use href="#k16" transform="translate(0,-0.4) scale(0.35,0.38)"/><use href="#k16" transform="translate(0,-0.14) scale(0.25,0.26)"/><use href="#k16" transform="translate(0,-0.02) scale(0.14,0.14)"/></g>
<path d="M412,999.4h2.9v2.9h-2.9zM414,1008.7h2.9v2.9h-2.9zM409.1,1012.8h2.9v2.9h-2.9zM416,1032.7h2.9v2.9h-2.9zM406.3,1044.9h2.9v2.9h-2.9zM392.9,1049.4h2.9v2.9h-2.9zM403,1052.2h2.9v2.9h-2.9zM395.7,1058.3h2.9v2.9h-2.9zM401,1059.1h2.9v2.9h-2.9zM406.3,1061.6h2.9v2.9h-2.9zM399,1064.4h2.9v2.9h-2.9zM401.8,1066.4h2.9v2.9h-2.9zM394.9,1068.5h2.9v2.9h-2.9zM419.3,1067.7h2.9v2.9h-2.9zM415.2,1075.8h2.9v2.9h-2.9zM412.4,1081.5h2.9v2.9h-2.9zM331.9,1107.1h2.9v2.9h-2.9z" fill="#111"/>
<text x="305" y="1023" font-size="28" textLength="55" lengthAdjust="spacingAndGlyphs">14.2</text>
<rect x="473" y="963" width="166.5" height="166" fill="#fff" stroke="#5e5e5e" stroke-width="1.1" />
<line x1="471.5" y1="969" x2="471.5" y2="1126" stroke="#999" stroke-width="2.2" stroke-dasharray="0.8 3.3"/>
<line x1="476" y1="1130.5" x2="636.5" y2="1130.5" stroke="#999" stroke-width="2.2" stroke-dasharray="0.8 3.3"/>
<line x1="468.5" y1="982" x2="473" y2="982" stroke="#444" stroke-width="1.3" />
<line x1="468.5" y1="1030" x2="473" y2="1030" stroke="#444" stroke-width="1.3" />
<line x1="468.5" y1="1083" x2="473" y2="1083" stroke="#444" stroke-width="1.3" />
<line x1="468.5" y1="1108.5" x2="473" y2="1108.5" stroke="#444" stroke-width="1.3" />
<line x1="509.5" y1="1129" x2="509.5" y2="1133.5" stroke="#444" stroke-width="1.3" />
<line x1="553.5" y1="1129" x2="553.5" y2="1133.5" stroke="#444" stroke-width="1.3" />
<line x1="597.5" y1="1129" x2="597.5" y2="1133.5" stroke="#444" stroke-width="1.3" />
<line x1="621.5" y1="1129" x2="621.5" y2="1133.5" stroke="#444" stroke-width="1.3" />
<rect x="469.2" y="1104.5" width="3" height="8" fill="#4a4a4a"/>
<rect x="549" y="989" width="70" height="93" fill="none" stroke="#666" stroke-width="1.2" />
<g transform="translate(575.6,1101.3) rotate(0)" fill="none" stroke="#8c8c8c" stroke-width="0.75"><defs><path id="k17" d="M19.68,0C19.9,2.73 19.14,6.24 17.68,8.52C16.22,10.8 13.28,12.55 10.91,13.68C8.55,14.81 5.92,14.92 3.49,15.31C1.07,15.71 -1.13,16.16 -3.66,16.06C-6.2,15.95 -9.35,15.94 -11.72,14.7C-14.09,13.46 -16.72,11.07 -17.91,8.63C-19.1,6.18 -19.2,2.7 -18.85,0C-18.49,-2.7 -17.11,-5.33 -15.78,-7.6C-14.44,-9.86 -12.81,-11.98 -10.84,-13.6C-8.87,-15.22 -6.41,-16.75 -3.96,-17.33C-1.5,-17.91 1.45,-17.71 3.89,-17.06C6.34,-16.41 8.64,-14.97 10.72,-13.44C12.79,-11.91 14.84,-10.11 16.34,-7.87C17.83,-5.63 19.46,-2.73 19.68,0Z" vector-effect="non-scaling-stroke"/></defs><use href="#k17" transform="translate(6.84,-17.1) scale(1,1.95)"/><use href="#k17" transform="translate(4.86,-12.16) scale(0.89,1.57)"/><use href="#k17" transform="translate(3.31,-8.27) scale(0.79,1.24)"/><use href="#k17" transform="translate(2.13,-5.32) scale(0.68,0.97)"/><use href="#k17" transform="translate(1.27,-3.17) scale(0.57,0.75)"/><use href="#k17" transform="translate(0.68,-1.69) scale(0.46,0.56)"/><use href="#k17" transform="translate(0.31,-0.77) scale(0.35,0.4)"/><use href="#k17" transform="translate(0.1,-0.26) scale(0.25,0.26)"/><use href="#k17" transform="translate(0.02,-0.05) scale(0.14,0.14)"/></g>
<g transform="translate(596.2,1018.2) rotate(0)" fill="none" stroke="#8c8c8c" stroke-width="0.75"><path id="k18" d="M4.48,0C4.54,2.34 4.53,5.1 4.28,7.33C4.04,9.57 3.55,12.02 3.01,13.41C2.46,14.81 1.66,15.53 1.01,15.7C0.35,15.87 -0.33,15.14 -0.93,14.45C-1.53,13.76 -2.07,12.82 -2.59,11.57C-3.12,10.32 -3.69,8.87 -4.05,6.94C-4.42,5.01 -4.74,2.37 -4.77,0C-4.81,-2.37 -4.58,-5.19 -4.26,-7.29C-3.93,-9.38 -3.36,-11.22 -2.82,-12.55C-2.27,-13.89 -1.62,-14.86 -0.98,-15.32C-0.35,-15.79 0.37,-15.87 0.99,-15.35C1.6,-14.83 2.25,-13.63 2.73,-12.19C3.22,-10.75 3.62,-8.73 3.91,-6.7C4.2,-4.66 4.42,-2.34 4.48,0Z" vector-effect="non-scaling-stroke"/></g>
<path d="M594.9,1000.6h2.9v2.9h-2.9zM594.1,1032.7h2.9v2.9h-2.9zM586.8,1042h2.9v2.9h-2.9zM507.5,1107.1h2.9v2.9h-2.9z" fill="#111"/>
<text x="486" y="1023" font-size="28" textLength="55" lengthAdjust="spacingAndGlyphs">35.5</text>
<text x="90" y="994.5" font-size="12.5" fill="#3c3c3c">10</text>
<text x="105.1" y="986.8" font-size="14" fill="#3c3c3c">5</text>
<text x="90" y="1042.5" font-size="12.5" fill="#3c3c3c">10</text>
<text x="105.1" y="1034.8" font-size="14" fill="#3c3c3c">4</text>
<text x="90" y="1095.5" font-size="12.5" fill="#3c3c3c">10</text>
<text x="105.1" y="1087.8" font-size="14" fill="#3c3c3c">3</text>
<text x="99" y="1118" font-size="14" text-anchor="middle" fill="#3c3c3c">0</text>
<text x="158.5" y="1155.2" font-size="14.5" text-anchor="middle" fill="#3c3c3c">0</text>
<text x="197.3" y="1154.7" font-size="13" fill="#3c3c3c">10</text>
<text x="213" y="1146.6" font-size="14.56" fill="#3c3c3c">2</text>
<text x="243.2" y="1154.7" font-size="13" fill="#3c3c3c">10</text>
<text x="258.9" y="1146.6" font-size="14.56" fill="#3c3c3c">4</text>
<rect x="122" y="1169" width="166.3" height="168" fill="#fff" stroke="#5e5e5e" stroke-width="1.1" />
<line x1="120.5" y1="1175" x2="120.5" y2="1334" stroke="#999" stroke-width="2.2" stroke-dasharray="0.8 3.3"/>
<line x1="125" y1="1338.5" x2="285.3" y2="1338.5" stroke="#999" stroke-width="2.2" stroke-dasharray="0.8 3.3"/>
<line x1="117.5" y1="1190" x2="122" y2="1190" stroke="#444" stroke-width="1.3" />
<line x1="117.5" y1="1240" x2="122" y2="1240" stroke="#444" stroke-width="1.3" />
<line x1="117.5" y1="1301.5" x2="122" y2="1301.5" stroke="#444" stroke-width="1.3" />
<line x1="158.5" y1="1337" x2="158.5" y2="1341.5" stroke="#444" stroke-width="1.3" />
<line x1="202.5" y1="1337" x2="202.5" y2="1341.5" stroke="#444" stroke-width="1.3" />
<line x1="246.5" y1="1337" x2="246.5" y2="1341.5" stroke="#444" stroke-width="1.3" />
<line x1="270.5" y1="1337" x2="270.5" y2="1341.5" stroke="#444" stroke-width="1.3" />
<rect x="118.2" y="1297.5" width="3" height="8" fill="#4a4a4a"/>
<rect x="216" y="1178" width="43" height="61" fill="none" stroke="#666" stroke-width="1.2" />
<g transform="translate(226.4,1271.4) rotate(15)" fill="none" stroke="#8c8c8c" stroke-width="0.75"><path id="k19" d="M15.58,0C15.53,3.9 14.9,8.19 13.85,11.56C12.8,14.93 11.09,18.16 9.3,20.2C7.52,22.3 5.22,23.4 3.15,24C1.09,24.5 -1.03,24.1 -3.08,23.4C-5.13,22.7 -7.24,21.8 -9.14,19.86C-11.03,17.97 -13.22,15.38 -14.45,12.06C-15.68,8.75 -16.6,3.95 -16.52,0C-16.43,-3.95 -15.24,-8.47 -13.94,-11.64C-12.65,-14.81 -10.57,-17.11 -8.75,-19.02C-6.93,-20.9 -5.04,-22.2 -3.04,-23.1C-1.05,-24 1.12,-24.9 3.23,-24.5C5.34,-24.2 7.81,-23.1 9.63,-20.9C11.46,-18.82 13.18,-15.32 14.17,-11.83C15.16,-8.34 15.64,-3.9 15.58,0Z" vector-effect="non-scaling-stroke"/><use href="#k19" transform="scale(0.89,0.89)"/><use href="#k19" transform="scale(0.79,0.79)"/><use href="#k19" transform="scale(0.68,0.68)"/><use href="#k19" transform="scale(0.57,0.57)"/><use href="#k19" transform="scale(0.46,0.46)"/><use href="#k19" transform="scale(0.35,0.35)"/><use href="#k19" transform="scale(0.25,0.25)"/><use href="#k19" transform="scale(0.14,0.14)"/></g>
<g transform="translate(238,1220.5) rotate(20)" fill="none" stroke="#8c8c8c" stroke-width="0.75"><path id="k20" d="M10.64,0C10.64,2.12 10.32,4.45 9.65,6.34C8.98,8.23 7.85,10.01 6.64,11.35C5.43,12.68 3.93,13.7 2.4,14.34C0.87,14.98 -0.9,15.45 -2.54,15.18C-4.18,14.91 -6.14,14.12 -7.44,12.72C-8.75,11.33 -9.88,8.93 -10.37,6.81C-10.87,4.69 -10.65,2.11 -10.4,0C-10.15,-2.11 -9.5,-3.95 -8.86,-5.82C-8.22,-7.68 -7.59,-9.59 -6.55,-11.19C-5.5,-12.79 -4.11,-14.64 -2.58,-15.42C-1.05,-16.2 1.04,-16.4 2.65,-15.85C4.26,-15.3 5.9,-13.68 7.08,-12.1C8.25,-10.52 9.09,-8.37 9.68,-6.36C10.28,-4.34 10.65,-2.12 10.64,0Z" vector-effect="non-scaling-stroke"/><use href="#k20" transform="scale(0.71,0.71)"/><use href="#k20" transform="scale(0.43,0.43)"/><use href="#k20" transform="scale(0.14,0.14)"/></g>
<g transform="translate(231.4,1238) rotate(10)" fill="none" stroke="#8c8c8c" stroke-width="0.75"><path id="k21" d="M5.72,0C5.88,1.41 6.03,3.21 5.76,4.62C5.48,6.03 4.78,7.59 4.05,8.46C3.31,9.33 2.24,9.7 1.35,9.86C0.46,10.02 -0.45,9.77 -1.29,9.42C-2.13,9.06 -3,8.56 -3.69,7.72C-4.38,6.87 -5.07,5.64 -5.42,4.35C-5.77,3.06 -5.86,1.41 -5.81,0C-5.76,-1.41 -5.48,-2.81 -5.15,-4.13C-4.81,-5.46 -4.42,-6.86 -3.8,-7.95C-3.19,-9.04 -2.33,-10.27 -1.46,-10.68C-0.59,-11.09 0.59,-10.96 1.43,-10.41C2.26,-9.87 2.99,-8.52 3.55,-7.42C4.11,-6.32 4.41,-5.07 4.77,-3.83C5.14,-2.6 5.56,-1.41 5.72,0Z" vector-effect="non-scaling-stroke"/></g>
<path d="M225,1193.3h2.9v2.9h-2.9zM233.5,1190h2.9v2.9h-2.9zM245.3,1192h2.9v2.9h-2.9zM228.2,1201.4h2.9v2.9h-2.9zM239.2,1202.2h2.9v2.9h-2.9zM245.3,1205.5h2.9v2.9h-2.9zM221.3,1212.4h2.9v2.9h-2.9zM222.1,1215.6h2.9v2.9h-2.9zM218.1,1221.7h2.9v2.9h-2.9zM223.3,1235.1h2.9v2.9h-2.9zM243.3,1231.1h2.9v2.9h-2.9zM220.1,1244.1h2.9v2.9h-2.9zM218.1,1247.3h2.9v2.9h-2.9zM242.5,1242.9h2.9v2.9h-2.9zM243.7,1247.3h2.9v2.9h-2.9zM234.3,1288.8h2.9v2.9h-2.9zM156.3,1301h2.9v2.9h-2.9z" fill="#111"/>
<text x="137" y="1223" font-size="28" textLength="55" lengthAdjust="spacingAndGlyphs">22.8</text>
<rect x="297" y="1169" width="166.5" height="168" fill="#fff" stroke="#5e5e5e" stroke-width="1.1" />
<line x1="295.5" y1="1175" x2="295.5" y2="1334" stroke="#999" stroke-width="2.2" stroke-dasharray="0.8 3.3"/>
<line x1="300" y1="1338.5" x2="460.5" y2="1338.5" stroke="#999" stroke-width="2.2" stroke-dasharray="0.8 3.3"/>
<line x1="292.5" y1="1190" x2="297" y2="1190" stroke="#444" stroke-width="1.3" />
<line x1="292.5" y1="1240" x2="297" y2="1240" stroke="#444" stroke-width="1.3" />
<line x1="292.5" y1="1301.5" x2="297" y2="1301.5" stroke="#444" stroke-width="1.3" />
<line x1="333.5" y1="1337" x2="333.5" y2="1341.5" stroke="#444" stroke-width="1.3" />
<line x1="377.5" y1="1337" x2="377.5" y2="1341.5" stroke="#444" stroke-width="1.3" />
<line x1="421.5" y1="1337" x2="421.5" y2="1341.5" stroke="#444" stroke-width="1.3" />
<line x1="445.5" y1="1337" x2="445.5" y2="1341.5" stroke="#444" stroke-width="1.3" />
<rect x="293.2" y="1297.5" width="3" height="8" fill="#4a4a4a"/>
<rect x="391.3" y="1178" width="43" height="61" fill="none" stroke="#666" stroke-width="1.2" />
<g transform="translate(398.7,1276.4) rotate(0)" fill="none" stroke="#8c8c8c" stroke-width="0.75"><defs><path id="k22" d="M15.53,0C15.57,2.85 14.83,6.25 13.69,8.64C12.55,11.03 10.51,12.96 8.72,14.33C6.93,15.69 4.89,16.3 2.93,16.83C0.97,17.36 -1.01,17.77 -3.05,17.52C-5.1,17.28 -7.51,16.8 -9.35,15.36C-11.18,13.92 -13.1,11.43 -14.06,8.87C-15.03,6.31 -15.31,2.84 -15.12,0C-14.93,-2.84 -13.97,-5.75 -12.91,-8.15C-11.85,-10.54 -10.37,-12.72 -8.74,-14.36C-7.11,-15.99 -5.11,-17.35 -3.13,-17.96C-1.15,-18.56 1.13,-18.54 3.13,-17.98C5.14,-17.43 7.18,-16.2 8.9,-14.62C10.62,-13.04 12.34,-10.92 13.45,-8.49C14.56,-6.05 15.49,-2.85 15.53,0Z" vector-effect="non-scaling-stroke"/></defs><use href="#k22" transform="translate(0,-9.03) scale(1,1.48)"/><use href="#k22" transform="translate(0,-6.42) scale(0.89,1.23)"/><use href="#k22" transform="translate(0,-4.37) scale(0.79,1.01)"/><use href="#k22" transform="translate(0,-2.81) scale(0.68,0.83)"/><use href="#k22" transform="translate(0,-1.67) scale(0.57,0.66)"/><use href="#k22" transform="translate(0,-0.89) scale(0.46,0.51)"/><use href="#k22" transform="translate(0,-0.4) scale(0.35,0.38)"/><use href="#k22" transform="translate(0,-0.14) scale(0.25,0.25)"/><use href="#k22" transform="translate(0,-0.02) scale(0.14,0.14)"/></g>
<path d="M413.2,1199.4h2.9v2.9h-2.9zM399,1211.6h2.9v2.9h-2.9zM421.3,1214.4h2.9v2.9h-2.9zM407.1,1221.7h2.9v2.9h-2.9zM409.1,1223.8h2.9v2.9h-2.9zM403,1225.8h2.9v2.9h-2.9zM392.9,1235.1h2.9v2.9h-2.9zM400.2,1235.1h2.9v2.9h-2.9zM331.9,1301h2.9v2.9h-2.9z" fill="#111"/>
<text x="312" y="1223" font-size="28" textLength="55" lengthAdjust="spacingAndGlyphs">8.42</text>
<rect x="473" y="1169" width="166.5" height="168" fill="#fff" stroke="#5e5e5e" stroke-width="1.1" />
<line x1="471.5" y1="1175" x2="471.5" y2="1334" stroke="#999" stroke-width="2.2" stroke-dasharray="0.8 3.3"/>
<line x1="476" y1="1338.5" x2="636.5" y2="1338.5" stroke="#999" stroke-width="2.2" stroke-dasharray="0.8 3.3"/>
<line x1="468.5" y1="1190" x2="473" y2="1190" stroke="#444" stroke-width="1.3" />
<line x1="468.5" y1="1240" x2="473" y2="1240" stroke="#444" stroke-width="1.3" />
<line x1="468.5" y1="1301.5" x2="473" y2="1301.5" stroke="#444" stroke-width="1.3" />
<line x1="509.5" y1="1337" x2="509.5" y2="1341.5" stroke="#444" stroke-width="1.3" />
<line x1="553.5" y1="1337" x2="553.5" y2="1341.5" stroke="#444" stroke-width="1.3" />
<line x1="597.5" y1="1337" x2="597.5" y2="1341.5" stroke="#444" stroke-width="1.3" />
<line x1="621.5" y1="1337" x2="621.5" y2="1341.5" stroke="#444" stroke-width="1.3" />
<rect x="469.2" y="1297.5" width="3" height="8" fill="#4a4a4a"/>
<rect x="567" y="1178" width="43" height="61" fill="none" stroke="#666" stroke-width="1.2" />
<g transform="translate(576.6,1274.7) rotate(0)" fill="none" stroke="#8c8c8c" stroke-width="0.75"><defs><path id="k23" d="M16.16,0C16.1,3.31 15.06,7.01 13.89,9.81C12.72,12.61 10.91,14.98 9.14,16.8C7.36,18.62 5.29,20.1 3.23,20.7C1.16,21.4 -1.2,21.5 -3.25,20.9C-5.3,20.2 -7.41,18.63 -9.09,16.72C-10.77,14.81 -12.27,12.22 -13.35,9.43C-14.44,6.65 -15.39,3.28 -15.59,0C-15.79,-3.28 -15.53,-7.3 -14.54,-10.27C-13.56,-13.24 -11.59,-16.16 -9.69,-17.82C-7.79,-19.49 -5.27,-20 -3.16,-20.3C-1.04,-20.5 0.99,-20 3.02,-19.39C5.05,-18.78 7.14,-18.12 9.01,-16.56C10.88,-15.01 13.04,-12.81 14.23,-10.05C15.43,-7.29 16.22,-3.31 16.16,0Z" vector-effect="non-scaling-stroke"/></defs><use href="#k23" transform="translate(0,-6.6) scale(1,1.3)"/><use href="#k23" transform="translate(0,-4.69) scale(0.89,1.11)"/><use href="#k23" transform="translate(0,-3.19) scale(0.79,0.93)"/><use href="#k23" transform="translate(0,-2.05) scale(0.68,0.77)"/><use href="#k23" transform="translate(0,-1.22) scale(0.57,0.63)"/><use href="#k23" transform="translate(0,-0.65) scale(0.46,0.49)"/><use href="#k23" transform="translate(0,-0.3) scale(0.35,0.37)"/><use href="#k23" transform="translate(0,-0.1) scale(0.25,0.25)"/><use href="#k23" transform="translate(0,-0.02) scale(0.14,0.14)"/></g>
<g transform="translate(592.2,1215.9) rotate(0)" fill="none" stroke="#8c8c8c" stroke-width="0.75"><path id="k24" d="M11.63,0C11.91,1.88 12.18,4.2 11.61,6.06C11.04,7.92 9.72,10.06 8.23,11.18C6.74,12.29 4.46,12.68 2.68,12.74C0.91,12.8 -0.82,12.08 -2.43,11.53C-4.03,10.98 -5.52,10.4 -6.95,9.44C-8.38,8.48 -10.06,7.32 -11.02,5.75C-11.97,4.18 -12.68,1.91 -12.68,0C-12.67,-1.91 -11.87,-4.06 -10.99,-5.73C-10.11,-7.4 -8.77,-8.85 -7.38,-10.03C-6,-11.22 -4.39,-12.34 -2.7,-12.83C-1.02,-13.33 1.08,-13.49 2.74,-13C4.4,-12.51 6.07,-11.19 7.28,-9.89C8.49,-8.59 9.25,-6.85 9.98,-5.2C10.7,-3.56 11.36,-1.88 11.63,0Z" vector-effect="non-scaling-stroke"/><use href="#k24" transform="scale(0.79,0.79)"/><use href="#k24" transform="scale(0.57,0.57)"/><use href="#k24" transform="scale(0.35,0.35)"/><use href="#k24" transform="scale(0.14,0.14)"/></g>
<path d="M585.1,1199.4h2.9v2.9h-2.9zM575.8,1209.5h2.9v2.9h-2.9zM573.8,1211.6h2.9v2.9h-2.9zM572.5,1219.7h2.9v2.9h-2.9zM576.6,1231.9h2.9v2.9h-2.9zM590,1233.1h2.9v2.9h-2.9zM507.5,1301h2.9v2.9h-2.9z" fill="#111"/>
<text x="494" y="1223" font-size="28" textLength="55" lengthAdjust="spacingAndGlyphs">26.6</text>
<text x="90" y="1202.5" font-size="12.5" fill="#3c3c3c">10</text>
<text x="105.1" y="1194.8" font-size="14" fill="#3c3c3c">5</text>
<text x="90" y="1252.5" font-size="12.5" fill="#3c3c3c">10</text>
<text x="105.1" y="1244.8" font-size="14" fill="#3c3c3c">4</text>
<text x="99" y="1311" font-size="14" text-anchor="middle" fill="#3c3c3c">0</text>
<text x="158.5" y="1363.2" font-size="14.5" text-anchor="middle" fill="#3c3c3c">0</text>
<text x="197.3" y="1362.7" font-size="13" fill="#3c3c3c">10</text>
<text x="213" y="1354.6" font-size="14.56" fill="#3c3c3c">2</text>
<text x="243.2" y="1362.7" font-size="13" fill="#3c3c3c">10</text>
<text x="258.9" y="1354.6" font-size="14.56" fill="#3c3c3c">4</text>
<rect x="122" y="1377" width="166.3" height="168" fill="#fff" stroke="#5e5e5e" stroke-width="1.1" />
<line x1="120.5" y1="1383" x2="120.5" y2="1542" stroke="#999" stroke-width="2.2" stroke-dasharray="0.8 3.3"/>
<line x1="125" y1="1546.5" x2="285.3" y2="1546.5" stroke="#999" stroke-width="2.2" stroke-dasharray="0.8 3.3"/>
<line x1="117.5" y1="1392" x2="122" y2="1392" stroke="#444" stroke-width="1.3" />
<line x1="117.5" y1="1430" x2="122" y2="1430" stroke="#444" stroke-width="1.3" />
<line x1="117.5" y1="1471" x2="122" y2="1471" stroke="#444" stroke-width="1.3" />
<line x1="117.5" y1="1518.5" x2="122" y2="1518.5" stroke="#444" stroke-width="1.3" />
<line x1="158.5" y1="1545" x2="158.5" y2="1549.5" stroke="#444" stroke-width="1.3" />
<line x1="202.5" y1="1545" x2="202.5" y2="1549.5" stroke="#444" stroke-width="1.3" />
<line x1="246.5" y1="1545" x2="246.5" y2="1549.5" stroke="#444" stroke-width="1.3" />
<line x1="270.5" y1="1545" x2="270.5" y2="1549.5" stroke="#444" stroke-width="1.3" />
<rect x="118.2" y="1514.5" width="3" height="8" fill="#4a4a4a"/>
<rect x="198" y="1381" width="63" height="60" fill="none" stroke="#666" stroke-width="1.2" />
<g transform="translate(226.4,1467.8) rotate(0)" fill="none" stroke="#8c8c8c" stroke-width="0.75"><defs><path id="k25" d="M16.97,0C16.98,6.13 16.19,12.8 15.14,18.44C14.09,24.1 12.54,29.6 10.68,33.9C8.82,38.2 6.44,42.5 3.99,44.2C1.55,46 -1.6,46.2 -4,44.3C-6.39,42.4 -8.73,37.5 -10.38,32.9C-12.02,28.3 -12.95,22.4 -13.87,16.9C-14.79,11.41 -15.55,6.04 -15.89,0C-16.23,-6.04 -16.62,-13.25 -15.9,-19.37C-15.19,-25.5 -13.58,-32.7 -11.59,-36.8C-9.59,-40.8 -6.49,-43.1 -3.95,-43.7C-1.41,-44.4 1.32,-42.5 3.65,-40.5C5.99,-38.5 8.17,-35.6 10.07,-31.9C11.97,-28.3 13.92,-23.7 15.07,-18.35C16.22,-13.03 16.96,-6.13 16.97,0Z" vector-effect="non-scaling-stroke"/></defs><use href="#k25" transform="translate(0,-2.15) scale(1,1.05)"/><use href="#k25" transform="translate(0,-1.53) scale(0.89,0.93)"/><use href="#k25" transform="translate(0,-1.04) scale(0.79,0.81)"/><use href="#k25" transform="translate(0,-0.67) scale(0.68,0.69)"/><use href="#k25" transform="translate(0,-0.4) scale(0.57,0.58)"/><use href="#k25" transform="translate(0,-0.21) scale(0.46,0.47)"/><use href="#k25" transform="translate(0,-0.1) scale(0.35,0.36)"/><use href="#k25" transform="translate(0,-0.03) scale(0.25,0.25)"/><use href="#k25" transform="translate(0,-0.01) scale(0.14,0.14)"/></g>
<g transform="translate(233,1431.2) rotate(30)" fill="none" stroke="#8c8c8c" stroke-width="0.75"><path id="k26" d="M12.04,0C11.77,1.81 11.18,3.4 10.5,5.06C9.82,6.72 9.19,8.55 7.96,9.98C6.72,11.4 4.95,13.02 3.11,13.62C1.27,14.22 -1.23,14.16 -3.1,13.59C-4.98,13.02 -6.77,11.56 -8.14,10.21C-9.51,8.85 -10.55,7.15 -11.32,5.45C-12.09,3.75 -12.71,1.84 -12.75,0C-12.79,-1.84 -12.38,-3.93 -11.56,-5.57C-10.75,-7.21 -9.3,-8.69 -7.84,-9.83C-6.38,-10.97 -4.64,-11.82 -2.83,-12.39C-1.02,-12.96 1.08,-13.45 3.02,-13.23C4.96,-13.01 7.31,-12.3 8.82,-11.06C10.34,-9.83 11.56,-7.67 12.1,-5.83C12.63,-3.98 12.3,-1.81 12.04,0Z" vector-effect="non-scaling-stroke"/><use href="#k26" transform="scale(0.57,0.57)"/><use href="#k26" transform="scale(0.14,0.14)"/></g>
<path d="M233.5,1383.8h2.9v2.9h-2.9zM225,1391.9h2.9v2.9h-2.9zM237.2,1389.9h2.9v2.9h-2.9zM242.5,1387.8h2.9v2.9h-2.9zM229,1395.9h2.9v2.9h-2.9zM238.4,1397.2h2.9v2.9h-2.9zM245.3,1393.9h2.9v2.9h-2.9zM222.1,1401.2h2.9v2.9h-2.9zM236.4,1401.2h2.9v2.9h-2.9zM242.5,1402.5h2.9v2.9h-2.9zM245.3,1405.3h2.9v2.9h-2.9zM241.2,1409.4h2.9v2.9h-2.9zM232.3,1415.5h2.9v2.9h-2.9zM244.5,1413.4h2.9v2.9h-2.9zM246.5,1417.5h2.9v2.9h-2.9zM244.5,1455.3h2.9v2.9h-2.9zM242.5,1479.7h2.9v2.9h-2.9zM218.1,1522h2.9v2.9h-2.9zM227.4,1518.3h2.9v2.9h-2.9zM231.5,1523.2h2.9v2.9h-2.9zM228.2,1527.7h2.9v2.9h-2.9zM156.3,1519.1h2.9v2.9h-2.9z" fill="#111"/>
<text x="133" y="1424" font-size="28" textLength="55" lengthAdjust="spacingAndGlyphs">22.8</text>
<rect x="297" y="1377" width="166.5" height="168" fill="#fff" stroke="#5e5e5e" stroke-width="1.1" />
<line x1="295.5" y1="1383" x2="295.5" y2="1542" stroke="#999" stroke-width="2.2" stroke-dasharray="0.8 3.3"/>
<line x1="300" y1="1546.5" x2="460.5" y2="1546.5" stroke="#999" stroke-width="2.2" stroke-dasharray="0.8 3.3"/>
<line x1="292.5" y1="1392" x2="297" y2="1392" stroke="#444" stroke-width="1.3" />
<line x1="292.5" y1="1430" x2="297" y2="1430" stroke="#444" stroke-width="1.3" />
<line x1="292.5" y1="1471" x2="297" y2="1471" stroke="#444" stroke-width="1.3" />
<line x1="292.5" y1="1518.5" x2="297" y2="1518.5" stroke="#444" stroke-width="1.3" />
<line x1="333.5" y1="1545" x2="333.5" y2="1549.5" stroke="#444" stroke-width="1.3" />
<line x1="377.5" y1="1545" x2="377.5" y2="1549.5" stroke="#444" stroke-width="1.3" />
<line x1="421.5" y1="1545" x2="421.5" y2="1549.5" stroke="#444" stroke-width="1.3" />
<line x1="445.5" y1="1545" x2="445.5" y2="1549.5" stroke="#444" stroke-width="1.3" />
<rect x="293.2" y="1514.5" width="3" height="8" fill="#4a4a4a"/>
<rect x="373.3" y="1381" width="63" height="60" fill="none" stroke="#666" stroke-width="1.2" />
<g transform="translate(399.3,1467.8) rotate(0)" fill="none" stroke="#8c8c8c" stroke-width="0.75"><path id="k27" d="M15.16,0C15.11,4.85 14.49,9.82 13.63,14.4C12.77,18.98 11.63,23.9 9.98,27.5C8.33,31 5.99,34.7 3.73,35.8C1.47,37 -1.45,36.2 -3.57,34.3C-5.69,32.5 -7.5,28.3 -9,24.7C-10.49,21.2 -11.51,17.38 -12.55,13.25C-13.59,9.13 -14.81,4.86 -15.23,0C-15.64,-4.86 -15.86,-11.14 -15.05,-15.9C-14.24,-20.7 -12.31,-25.7 -10.38,-28.5C-8.44,-31.4 -5.72,-32.6 -3.44,-33.1C-1.16,-33.6 1.15,-32.9 3.3,-31.7C5.45,-30.6 7.7,-28.9 9.47,-26C11.24,-23.2 12.99,-19.06 13.94,-14.72C14.89,-10.38 15.21,-4.85 15.16,0Z" vector-effect="non-scaling-stroke"/><use href="#k27" transform="scale(0.89,0.89)"/><use href="#k27" transform="scale(0.79,0.79)"/><use href="#k27" transform="scale(0.68,0.68)"/><use href="#k27" transform="scale(0.57,0.57)"/><use href="#k27" transform="scale(0.46,0.46)"/><use href="#k27" transform="scale(0.35,0.35)"/><use href="#k27" transform="scale(0.25,0.25)"/><use href="#k27" transform="scale(0.14,0.14)"/></g>
<path d="M413.2,1398h2.9v2.9h-2.9zM421.3,1406.1h2.9v2.9h-2.9zM399,1421.6h2.9v2.9h-2.9zM399,1432.9h2.9v2.9h-2.9zM405.1,1432.9h2.9v2.9h-2.9zM409.9,1431.7h2.9v2.9h-2.9zM392.9,1506.9h2.9v2.9h-2.9zM398.1,1515.9h2.9v2.9h-2.9zM402.2,1515.9h2.9v2.9h-2.9zM331.9,1519.1h2.9v2.9h-2.9z" fill="#111"/>
<text x="308" y="1424" font-size="28" textLength="54" lengthAdjust="spacingAndGlyphs">7.37</text>
<rect x="473" y="1377" width="166.5" height="168" fill="#fff" stroke="#5e5e5e" stroke-width="1.1" />
<line x1="471.5" y1="1383" x2="471.5" y2="1542" stroke="#999" stroke-width="2.2" stroke-dasharray="0.8 3.3"/>
<line x1="476" y1="1546.5" x2="636.5" y2="1546.5" stroke="#999" stroke-width="2.2" stroke-dasharray="0.8 3.3"/>
<line x1="468.5" y1="1392" x2="473" y2="1392" stroke="#444" stroke-width="1.3" />
<line x1="468.5" y1="1430" x2="473" y2="1430" stroke="#444" stroke-width="1.3" />
<line x1="468.5" y1="1471" x2="473" y2="1471" stroke="#444" stroke-width="1.3" />
<line x1="468.5" y1="1518.5" x2="473" y2="1518.5" stroke="#444" stroke-width="1.3" />
<line x1="509.5" y1="1545" x2="509.5" y2="1549.5" stroke="#444" stroke-width="1.3" />
<line x1="553.5" y1="1545" x2="553.5" y2="1549.5" stroke="#444" stroke-width="1.3" />
<line x1="597.5" y1="1545" x2="597.5" y2="1549.5" stroke="#444" stroke-width="1.3" />
<line x1="621.5" y1="1545" x2="621.5" y2="1549.5" stroke="#444" stroke-width="1.3" />
<rect x="469.2" y="1514.5" width="3" height="8" fill="#4a4a4a"/>
<rect x="549" y="1381" width="63" height="60" fill="none" stroke="#666" stroke-width="1.2" />
<g transform="translate(575.6,1469.4) rotate(0)" fill="none" stroke="#8c8c8c" stroke-width="0.75"><path id="k28" d="M17.36,0C17.32,5.81 16.01,12.61 14.64,17.28C13.27,22 11.03,25.2 9.12,28C7.21,30.8 5.24,32.7 3.16,34C1.09,35.3 -1.18,36.5 -3.33,35.8C-5.49,35.1 -7.94,33.2 -9.76,30C-11.58,26.8 -13.19,21.8 -14.24,16.81C-15.28,11.81 -15.93,5.71 -16.02,0C-16.11,-5.71 -15.77,-12.31 -14.76,-17.43C-13.76,-22.5 -11.91,-27.8 -9.99,-30.7C-8.08,-33.7 -5.45,-34.8 -3.27,-35.2C-1.1,-35.5 1,-34.2 3.07,-33C5.14,-31.8 7.15,-30.6 9.13,-28.1C11.1,-25.5 13.53,-22.3 14.9,-17.59C16.27,-12.91 17.41,-5.81 17.36,0Z" vector-effect="non-scaling-stroke"/><use href="#k28" transform="scale(0.89,0.89)"/><use href="#k28" transform="scale(0.79,0.79)"/><use href="#k28" transform="scale(0.68,0.68)"/><use href="#k28" transform="scale(0.57,0.57)"/><use href="#k28" transform="scale(0.46,0.46)"/><use href="#k28" transform="scale(0.35,0.35)"/><use href="#k28" transform="scale(0.25,0.25)"/><use href="#k28" transform="scale(0.14,0.14)"/></g>
<g transform="translate(593.9,1409.6) rotate(0)" fill="none" stroke="#8c8c8c" stroke-width="0.75"><path id="k29" d="M7.9,0C7.91,1.43 7.7,3.06 7.19,4.33C6.68,5.59 5.76,6.77 4.84,7.59C3.93,8.42 2.8,8.93 1.7,9.29C0.59,9.65 -0.61,9.91 -1.78,9.77C-2.96,9.62 -4.38,9.27 -5.37,8.42C-6.37,7.57 -7.34,6.07 -7.75,4.67C-8.16,3.26 -8.05,1.43 -7.85,0C-7.64,-1.43 -7.04,-2.7 -6.51,-3.92C-5.98,-5.14 -5.45,-6.3 -4.67,-7.32C-3.89,-8.34 -2.93,-9.53 -1.84,-10.05C-0.74,-10.58 0.75,-10.78 1.91,-10.44C3.07,-10.11 4.27,-9.08 5.14,-8.05C6,-7.02 6.64,-5.61 7.1,-4.27C7.56,-2.93 7.88,-1.43 7.9,0Z" vector-effect="non-scaling-stroke"/><use href="#k29" transform="scale(0.14,0.14)"/></g>
<g transform="translate(585.6,1427.9) rotate(30)" fill="none" stroke="#8c8c8c" stroke-width="0.75"><path id="k30" d="M11.84,0C11.93,2.6 11.73,5.51 11.09,8.01C10.45,10.51 9.37,13.28 7.99,15.02C6.61,16.76 4.57,18.12 2.81,18.45C1.04,18.79 -0.99,17.99 -2.59,17.05C-4.19,16.1 -5.54,14.4 -6.8,12.78C-8.05,11.16 -9.21,9.46 -10.14,7.32C-11.07,5.19 -12.09,2.63 -12.35,0C-12.61,-2.63 -12.44,-5.98 -11.69,-8.44C-10.94,-10.91 -9.37,-13.3 -7.86,-14.78C-6.35,-16.26 -4.38,-16.99 -2.64,-17.34C-0.9,-17.69 0.92,-17.48 2.56,-16.86C4.21,-16.23 5.91,-15.15 7.24,-13.61C8.56,-12.07 9.77,-9.88 10.54,-7.61C11.31,-5.35 11.75,-2.6 11.84,0Z" vector-effect="non-scaling-stroke"/><use href="#k30" transform="scale(0.57,0.57)"/><use href="#k30" transform="scale(0.14,0.14)"/></g>
<path d="M585.1,1393.1h2.9v2.9h-2.9zM575.8,1401.2h2.9v2.9h-2.9zM572.5,1421.6h2.9v2.9h-2.9zM571.7,1513h2.9v2.9h-2.9zM576.6,1515.1h2.9v2.9h-2.9zM571.7,1523.2h2.9v2.9h-2.9zM507.5,1519.1h2.9v2.9h-2.9z" fill="#111"/>
<text x="489" y="1424" font-size="28" textLength="55" lengthAdjust="spacingAndGlyphs">25.5</text>
<text x="90" y="1404.5" font-size="12.5" fill="#3c3c3c">10</text>
<text x="105.1" y="1396.8" font-size="14" fill="#3c3c3c">5</text>
<text x="90" y="1442.5" font-size="12.5" fill="#3c3c3c">10</text>
<text x="105.1" y="1434.8" font-size="14" fill="#3c3c3c">4</text>
<text x="90" y="1483.5" font-size="12.5" fill="#3c3c3c">10</text>
<text x="105.1" y="1475.8" font-size="14" fill="#3c3c3c">3</text>
<text x="99" y="1528" font-size="14" text-anchor="middle" fill="#3c3c3c">0</text>
<text x="158.5" y="1571.2" font-size="14.5" text-anchor="middle" fill="#3c3c3c">0</text>
<text x="197.3" y="1570.7" font-size="13" fill="#3c3c3c">10</text>
<text x="213" y="1562.6" font-size="14.56" fill="#3c3c3c">2</text>
<text x="243.2" y="1570.7" font-size="13" fill="#3c3c3c">10</text>
<text x="258.9" y="1562.6" font-size="14.56" fill="#3c3c3c">4</text>
<rect x="122" y="1584" width="166.3" height="167" fill="#fff" stroke="#5e5e5e" stroke-width="1.1" />
<line x1="120.5" y1="1590" x2="120.5" y2="1748" stroke="#999" stroke-width="2.2" stroke-dasharray="0.8 3.3"/>
<line x1="125" y1="1752.5" x2="285.3" y2="1752.5" stroke="#999" stroke-width="2.2" stroke-dasharray="0.8 3.3"/>
<line x1="117.5" y1="1600" x2="122" y2="1600" stroke="#444" stroke-width="1.3" />
<line x1="117.5" y1="1630" x2="122" y2="1630" stroke="#444" stroke-width="1.3" />
<line x1="117.5" y1="1665" x2="122" y2="1665" stroke="#444" stroke-width="1.3" />
<line x1="117.5" y1="1717.5" x2="122" y2="1717.5" stroke="#444" stroke-width="1.3" />
<line x1="158.5" y1="1751" x2="158.5" y2="1755.5" stroke="#444" stroke-width="1.3" />
<line x1="202.5" y1="1751" x2="202.5" y2="1755.5" stroke="#444" stroke-width="1.3" />
<line x1="246.5" y1="1751" x2="246.5" y2="1755.5" stroke="#444" stroke-width="1.3" />
<line x1="270.5" y1="1751" x2="270.5" y2="1755.5" stroke="#444" stroke-width="1.3" />
<rect x="118.2" y="1713.5" width="3" height="8" fill="#4a4a4a"/>
<rect x="203" y="1608" width="58" height="70" fill="none" stroke="#666" stroke-width="1.2" />
<g transform="translate(225.4,1709) rotate(10)" fill="none" stroke="#8c8c8c" stroke-width="0.75"><defs><path id="k31" d="M15.4,0C15.04,2.9 13.96,5.51 12.96,8.04C11.96,10.56 10.93,12.99 9.39,15.16C7.85,17.33 5.95,19.9 3.73,21C1.51,22.2 -1.55,22.7 -3.91,22C-6.27,21.3 -8.75,19.06 -10.42,16.83C-12.09,14.59 -13.14,11.44 -13.92,8.63C-14.71,5.83 -15.11,2.89 -15.12,0C-15.14,-2.89 -14.89,-6.03 -14.02,-8.69C-13.15,-11.36 -11.64,-14.08 -9.89,-15.97C-8.14,-17.85 -5.8,-19.24 -3.55,-20C-1.29,-20.8 1.29,-21.1 3.65,-20.6C6.01,-20.1 8.7,-19 10.61,-17.13C12.52,-15.26 14.29,-12.21 15.09,-9.36C15.89,-6.5 15.75,-2.9 15.4,0Z" vector-effect="non-scaling-stroke"/></defs><use href="#k31" transform="translate(0,-4.12) scale(1,1.2)"/><use href="#k31" transform="translate(0,-2.93) scale(0.89,1.03)"/><use href="#k31" transform="translate(0,-1.99) scale(0.79,0.88)"/><use href="#k31" transform="translate(0,-1.28) scale(0.68,0.74)"/><use href="#k31" transform="translate(0,-0.76) scale(0.57,0.61)"/><use href="#k31" transform="translate(0,-0.41) scale(0.46,0.48)"/><use href="#k31" transform="translate(0,-0.18) scale(0.35,0.36)"/><use href="#k31" transform="translate(0,-0.06) scale(0.25,0.25)"/><use href="#k31" transform="translate(0,-0.01) scale(0.14,0.14)"/></g>
<g transform="translate(235.7,1664.8) rotate(3)" fill="none" stroke="#8c8c8c" stroke-width="0.75"><path id="k32" d="M4.66,0C4.65,2.39 4.57,4.81 4.33,7.09C4.08,9.36 3.72,11.92 3.2,13.63C2.67,15.35 1.89,16.85 1.17,17.39C0.45,17.93 -0.43,17.59 -1.13,16.88C-1.84,16.17 -2.53,14.73 -3.08,13.13C-3.63,11.54 -4.14,9.49 -4.46,7.3C-4.78,5.12 -4.99,2.42 -4.98,0C-4.97,-2.42 -4.74,-5.07 -4.41,-7.22C-4.09,-9.38 -3.57,-11.33 -3.03,-12.9C-2.48,-14.48 -1.82,-15.91 -1.12,-16.67C-0.42,-17.44 0.44,-17.93 1.17,-17.47C1.9,-17.01 2.72,-15.63 3.26,-13.92C3.81,-12.21 4.19,-9.56 4.42,-7.24C4.65,-4.92 4.68,-2.39 4.66,0Z" vector-effect="non-scaling-stroke"/></g>
<g transform="translate(236.4,1634.9) rotate(0)" fill="none" stroke="#8c8c8c" stroke-width="0.75"><path id="k33" d="M8.53,0C8.6,1.41 8.56,3 8.08,4.33C7.61,5.65 6.72,7.04 5.7,7.95C4.69,8.85 3.29,9.45 2.01,9.76C0.72,10.08 -0.71,10.09 -2.02,9.82C-3.32,9.54 -4.77,9.01 -5.83,8.12C-6.89,7.23 -7.9,5.84 -8.39,4.49C-8.87,3.13 -8.87,1.41 -8.72,0C-8.56,-1.41 -8,-2.73 -7.45,-3.99C-6.89,-5.24 -6.28,-6.46 -5.39,-7.52C-4.5,-8.57 -3.37,-9.78 -2.11,-10.29C-0.85,-10.8 0.87,-10.97 2.18,-10.59C3.48,-10.2 4.81,-9.06 5.73,-7.98C6.64,-6.9 7.21,-5.44 7.68,-4.11C8.15,-2.78 8.47,-1.41 8.53,0Z" vector-effect="non-scaling-stroke"/></g>
<path d="M227.4,1619.4h2.9v2.9h-2.9zM222.1,1625.5h2.9v2.9h-2.9zM232.3,1625.5h2.9v2.9h-2.9zM241.2,1625.5h2.9v2.9h-2.9zM218.1,1629.5h2.9v2.9h-2.9zM225,1629.5h2.9v2.9h-2.9zM245.3,1632.4h2.9v2.9h-2.9zM229,1644.6h2.9v2.9h-2.9zM238.4,1648.6h2.9v2.9h-2.9zM242.5,1642.9h2.9v2.9h-2.9zM220.1,1655.9h2.9v2.9h-2.9zM218.1,1658.8h2.9v2.9h-2.9zM222.1,1670.2h2.9v2.9h-2.9zM244.5,1662.9h2.9v2.9h-2.9zM246.5,1664.1h2.9v2.9h-2.9zM218.1,1677.1h2.9v2.9h-2.9zM244.5,1702.7h2.9v2.9h-2.9zM218.1,1730.3h2.9v2.9h-2.9zM226.2,1732.4h2.9v2.9h-2.9zM156.3,1715.7h2.9v2.9h-2.9z" fill="#111"/>
<text x="137" y="1652" font-size="28" textLength="55" lengthAdjust="spacingAndGlyphs">24.2</text>
<rect x="297" y="1584" width="166.5" height="167" fill="#fff" stroke="#5e5e5e" stroke-width="1.1" />
<line x1="295.5" y1="1590" x2="295.5" y2="1748" stroke="#999" stroke-width="2.2" stroke-dasharray="0.8 3.3"/>
<line x1="300" y1="1752.5" x2="460.5" y2="1752.5" stroke="#999" stroke-width="2.2" stroke-dasharray="0.8 3.3"/>
<line x1="292.5" y1="1600" x2="297" y2="1600" stroke="#444" stroke-width="1.3" />
<line x1="292.5" y1="1630" x2="297" y2="1630" stroke="#444" stroke-width="1.3" />
<line x1="292.5" y1="1665" x2="297" y2="1665" stroke="#444" stroke-width="1.3" />
<line x1="292.5" y1="1717.5" x2="297" y2="1717.5" stroke="#444" stroke-width="1.3" />
<line x1="333.5" y1="1751" x2="333.5" y2="1755.5" stroke="#444" stroke-width="1.3" />
<line x1="377.5" y1="1751" x2="377.5" y2="1755.5" stroke="#444" stroke-width="1.3" />
<line x1="421.5" y1="1751" x2="421.5" y2="1755.5" stroke="#444" stroke-width="1.3" />
<line x1="445.5" y1="1751" x2="445.5" y2="1755.5" stroke="#444" stroke-width="1.3" />
<rect x="293.2" y="1713.5" width="3" height="8" fill="#4a4a4a"/>
<rect x="378.3" y="1608" width="58" height="70" fill="none" stroke="#666" stroke-width="1.2" />
<g transform="translate(399.3,1709.7) rotate(0)" fill="none" stroke="#8c8c8c" stroke-width="0.75"><defs><path id="k34" d="M17.13,0C16.87,3.44 15.63,6.9 14.41,9.79C13.19,12.69 11.58,15.1 9.81,17.36C8.03,19.62 6.09,22 3.77,23.3C1.46,24.7 -1.56,25.8 -4.08,25.3C-6.61,24.7 -9.52,22.6 -11.37,20.1C-13.22,17.64 -14.43,13.68 -15.19,10.33C-15.95,6.97 -16,3.38 -15.92,0C-15.83,-3.38 -15.54,-6.83 -14.66,-9.97C-13.78,-13.11 -12.44,-16.54 -10.64,-18.84C-8.84,-21.1 -6.25,-23 -3.84,-23.8C-1.43,-24.6 1.37,-24.4 3.82,-23.6C6.26,-22.8 8.83,-21.3 10.85,-19.2C12.86,-17.07 14.89,-14.03 15.93,-10.83C16.98,-7.63 17.38,-3.44 17.13,0Z" vector-effect="non-scaling-stroke"/></defs><use href="#k34" transform="translate(0,-2.4) scale(1,1.1)"/><use href="#k34" transform="translate(0,-1.71) scale(0.89,0.96)"/><use href="#k34" transform="translate(0,-1.16) scale(0.79,0.83)"/><use href="#k34" transform="translate(0,-0.75) scale(0.68,0.71)"/><use href="#k34" transform="translate(0,-0.44) scale(0.57,0.59)"/><use href="#k34" transform="translate(0,-0.24) scale(0.46,0.47)"/><use href="#k34" transform="translate(0,-0.11) scale(0.35,0.36)"/><use href="#k34" transform="translate(0,-0.04) scale(0.25,0.25)"/><use href="#k34" transform="translate(0,-0.01) scale(0.14,0.14)"/></g>
<path d="M399,1622.6h2.9v2.9h-2.9zM409.9,1636.8h2.9v2.9h-2.9zM413.2,1640.5h2.9v2.9h-2.9zM393.7,1657.2h2.9v2.9h-2.9zM394.9,1664.9h2.9v2.9h-2.9zM406.3,1661.2h2.9v2.9h-2.9zM408.3,1662h2.9v2.9h-2.9zM392,1678.3h2.9v2.9h-2.9zM408.3,1676.3h2.9v2.9h-2.9zM421.3,1677.5h2.9v2.9h-2.9zM331.9,1715.7h2.9v2.9h-2.9z" fill="#111"/>
<text x="312" y="1652" font-size="28" textLength="55" lengthAdjust="spacingAndGlyphs">9.47</text>
<rect x="473" y="1584" width="166.5" height="167" fill="#fff" stroke="#5e5e5e" stroke-width="1.1" />
<line x1="471.5" y1="1590" x2="471.5" y2="1748" stroke="#999" stroke-width="2.2" stroke-dasharray="0.8 3.3"/>
<line x1="476" y1="1752.5" x2="636.5" y2="1752.5" stroke="#999" stroke-width="2.2" stroke-dasharray="0.8 3.3"/>
<line x1="468.5" y1="1600" x2="473" y2="1600" stroke="#444" stroke-width="1.3" />
<line x1="468.5" y1="1630" x2="473" y2="1630" stroke="#444" stroke-width="1.3" />
<line x1="468.5" y1="1665" x2="473" y2="1665" stroke="#444" stroke-width="1.3" />
<line x1="468.5" y1="1717.5" x2="473" y2="1717.5" stroke="#444" stroke-width="1.3" />
<line x1="509.5" y1="1751" x2="509.5" y2="1755.5" stroke="#444" stroke-width="1.3" />
<line x1="553.5" y1="1751" x2="553.5" y2="1755.5" stroke="#444" stroke-width="1.3" />
<line x1="597.5" y1="1751" x2="597.5" y2="1755.5" stroke="#444" stroke-width="1.3" />
<line x1="621.5" y1="1751" x2="621.5" y2="1755.5" stroke="#444" stroke-width="1.3" />
<rect x="469.2" y="1713.5" width="3" height="8" fill="#4a4a4a"/>
<rect x="554" y="1608" width="58" height="70" fill="none" stroke="#666" stroke-width="1.2" />
<g transform="translate(574.9,1710.7) rotate(0)" fill="none" stroke="#8c8c8c" stroke-width="0.75"><defs><path id="k35" d="M15.19,0C14.92,2.79 13.97,5.51 12.95,7.9C11.92,10.29 10.64,12.6 9.03,14.35C7.43,16.1 5.38,17.75 3.32,18.43C1.26,19.1 -1.22,19.04 -3.32,18.42C-5.41,17.8 -7.5,16.35 -9.24,14.68C-10.99,13.02 -12.68,10.86 -13.78,8.41C-14.89,5.96 -15.85,2.82 -15.88,0C-15.92,-2.82 -15.15,-6.17 -13.99,-8.53C-12.82,-10.89 -10.74,-12.77 -8.92,-14.17C-7.1,-15.56 -5.07,-16.27 -3.05,-16.9C-1.02,-17.53 1.08,-18.16 3.24,-17.97C5.4,-17.78 8.03,-17.26 9.91,-15.75C11.8,-14.23 13.67,-11.5 14.54,-8.87C15.42,-6.25 15.45,-2.79 15.19,0Z" vector-effect="non-scaling-stroke"/></defs><use href="#k35" transform="translate(1.9,-4.75) scale(1,1.25)"/><use href="#k35" transform="translate(1.35,-3.38) scale(0.89,1.07)"/><use href="#k35" transform="translate(0.92,-2.3) scale(0.79,0.91)"/><use href="#k35" transform="translate(0.59,-1.48) scale(0.68,0.76)"/><use href="#k35" transform="translate(0.35,-0.88) scale(0.57,0.62)"/><use href="#k35" transform="translate(0.19,-0.47) scale(0.46,0.49)"/><use href="#k35" transform="translate(0.09,-0.21) scale(0.35,0.37)"/><use href="#k35" transform="translate(0.03,-0.07) scale(0.25,0.25)"/><use href="#k35" transform="translate(0.01,-0.01) scale(0.14,0.14)"/></g>
<g transform="translate(586.2,1666.5) rotate(15)" fill="none" stroke="#8c8c8c" stroke-width="0.75"><path id="k36" d="M7.6,0C7.73,2.37 7.77,5.24 7.36,7.53C6.96,9.83 6.09,12.23 5.17,13.76C4.24,15.3 2.96,16.25 1.8,16.76C0.64,17.27 -0.65,17.33 -1.81,16.83C-2.97,16.33 -4.26,15.33 -5.16,13.76C-6.07,12.19 -6.86,9.7 -7.24,7.41C-7.62,5.12 -7.56,2.36 -7.46,0C-7.35,-2.36 -7.02,-4.54 -6.61,-6.77C-6.21,-9 -5.8,-11.46 -5.02,-13.38C-4.25,-15.3 -3.12,-17.51 -1.96,-18.27C-0.8,-19.04 0.79,-18.86 1.93,-17.98C3.07,-17.09 4.09,-14.84 4.86,-12.96C5.63,-11.08 6.09,-8.86 6.55,-6.7C7,-4.54 7.46,-2.37 7.6,0Z" vector-effect="non-scaling-stroke"/><use href="#k36" transform="scale(0.14,0.14)"/></g>
<g transform="translate(592.2,1636.5) rotate(0)" fill="none" stroke="#8c8c8c" stroke-width="0.75"><path id="k37" d="M8.81,0C8.78,1.36 8.15,2.95 7.46,4.04C6.76,5.13 5.62,5.9 4.64,6.55C3.67,7.19 2.67,7.59 1.61,7.92C0.55,8.25 -0.59,8.61 -1.73,8.52C-2.87,8.42 -4.24,8.09 -5.22,7.36C-6.2,6.63 -7.13,5.36 -7.63,4.13C-8.13,2.91 -8.29,1.34 -8.23,0C-8.16,-1.34 -7.8,-2.77 -7.25,-3.93C-6.7,-5.09 -5.87,-6.23 -4.94,-6.97C-4.02,-7.72 -2.81,-8.2 -1.71,-8.41C-0.6,-8.61 0.57,-8.46 1.66,-8.2C2.76,-7.94 3.86,-7.53 4.86,-6.86C5.86,-6.18 7,-5.29 7.66,-4.15C8.32,-3.01 8.85,-1.36 8.81,0Z" vector-effect="non-scaling-stroke"/><use href="#k37" transform="scale(0.57,0.57)"/><use href="#k37" transform="scale(0.14,0.14)"/></g>
<g transform="translate(592.2,1667.4) rotate(0)" fill="none" stroke="#8c8c8c" stroke-width="0.75"><path id="k38" d="M5.37,0C5.35,0.9 5.02,1.91 4.64,2.68C4.26,3.45 3.67,4.12 3.07,4.63C2.48,5.13 1.77,5.51 1.08,5.69C0.39,5.86 -0.4,5.85 -1.08,5.65C-1.75,5.46 -2.43,5.02 -3,4.51C-3.56,3.99 -4.07,3.32 -4.44,2.57C-4.81,1.81 -5.16,0.9 -5.24,0C-5.31,-0.9 -5.22,-2.01 -4.88,-2.82C-4.55,-3.63 -3.87,-4.41 -3.23,-4.86C-2.59,-5.31 -1.75,-5.43 -1.05,-5.5C-0.34,-5.57 0.33,-5.45 1,-5.28C1.68,-5.12 2.38,-4.94 3,-4.52C3.62,-4.1 4.34,-3.49 4.73,-2.73C5.13,-1.98 5.38,-0.9 5.37,0Z" vector-effect="non-scaling-stroke"/><use href="#k38" transform="scale(0.14,0.14)"/></g>
<path d="M572.5,1628.7h2.9v2.9h-2.9zM573.8,1643.8h2.9v2.9h-2.9zM572.9,1653.9h2.9v2.9h-2.9zM592.9,1648.6h2.9v2.9h-2.9zM579.9,1663.3h2.9v2.9h-2.9zM572.9,1670.2h2.9v2.9h-2.9zM507.5,1715.7h2.9v2.9h-2.9z" fill="#111"/>
<text x="494" y="1652" font-size="28" textLength="55" lengthAdjust="spacingAndGlyphs">23.4</text>
<text x="90" y="1612.5" font-size="12.5" fill="#3c3c3c">10</text>
<text x="105.1" y="1604.8" font-size="14" fill="#3c3c3c">5</text>
<text x="90" y="1642.5" font-size="12.5" fill="#3c3c3c">10</text>
<text x="105.1" y="1634.8" font-size="14" fill="#3c3c3c">4</text>
<text x="90" y="1677.5" font-size="12.5" fill="#3c3c3c">10</text>
<text x="105.1" y="1669.8" font-size="14" fill="#3c3c3c">3</text>
<text x="99" y="1727" font-size="14" text-anchor="middle" fill="#3c3c3c">0</text>
<text x="158.5" y="1777.2" font-size="14.5" text-anchor="middle" fill="#3c3c3c">0</text>
<text x="197.3" y="1776.7" font-size="13" fill="#3c3c3c">10</text>
<text x="213" y="1768.6" font-size="14.56" fill="#3c3c3c">2</text>
<text x="243.2" y="1776.7" font-size="13" fill="#3c3c3c">10</text>
<text x="258.9" y="1768.6" font-size="14.56" fill="#3c3c3c">4</text>
<text font-size="32" textLength="174.8" lengthAdjust="spacingAndGlyphs" transform="translate(31.6,707.5) rotate(-90)">APC-Cy-7-A</text>
<text font-size="32" textLength="94.4" lengthAdjust="spacingAndGlyphs" transform="translate(72,668) rotate(-90)">::CD80</text>
<text font-size="32" textLength="197.5" lengthAdjust="spacingAndGlyphs" transform="translate(36,927.5) rotate(-90)">PE-CF-594-A</text>
<text font-size="32" textLength="110.8" lengthAdjust="spacingAndGlyphs" transform="translate(74.7,883.8) rotate(-90)">:: CD83</text>
<text font-size="32" textLength="122.7" lengthAdjust="spacingAndGlyphs" transform="translate(34.4,1092.5) rotate(-90)">BV 650-A</text>
<text font-size="32" textLength="110" lengthAdjust="spacingAndGlyphs" transform="translate(74.7,1092.5) rotate(-90)">:: CD86</text>
<text font-size="32" textLength="125.6" lengthAdjust="spacingAndGlyphs" transform="translate(36.7,1308) rotate(-90)">FITC-A ::</text>
<text font-size="32" textLength="77" lengthAdjust="spacingAndGlyphs" transform="translate(76,1284.8) rotate(-90)">CD40</text>
<text font-size="32" textLength="129.7" lengthAdjust="spacingAndGlyphs" transform="translate(36.7,1536.3) rotate(-90)">BV 711-A</text>
<text font-size="32" textLength="119.9" lengthAdjust="spacingAndGlyphs" transform="translate(76,1527.9) rotate(-90)">:: CCR7</text>
<text font-size="32" textLength="149.5" lengthAdjust="spacingAndGlyphs" transform="translate(36.7,1764.8) rotate(-90)">PE-Cy-7-A</text>
<text font-size="32" textLength="139.6" lengthAdjust="spacingAndGlyphs" transform="translate(76,1762) rotate(-90)">:: ICOS-L</text>
<text x="-2.3" y="398" font-size="44" font-weight="bold">b</text>
<text x="300.2" y="452" font-size="32" textLength="172.4" lengthAdjust="spacingAndGlyphs">+ (MDDCs )</text>
<line x1="149" y1="465" x2="600" y2="465" stroke="#000" stroke-width="4" />
<text x="134" y="524" font-size="32" textLength="144" lengthAdjust="spacingAndGlyphs">No B cells</text>
<text x="287" y="500" font-size="32" textLength="181" lengthAdjust="spacingAndGlyphs">TIGIT<tspan dy="-11.52" font-size="19.84">+</tspan><tspan dy="11.52"> Mem.</tspan></text>
<text x="330" y="539" font-size="32" textLength="95" lengthAdjust="spacingAndGlyphs">B cells</text>
<text x="474" y="527" font-size="32" textLength="192" lengthAdjust="spacingAndGlyphs">TIGIT<tspan dy="-11.52" font-size="19.84">-</tspan><tspan dy="11.52"> B cells</tspan></text>
<text x="133.6" y="1820" font-size="32" textLength="249.2" lengthAdjust="spacingAndGlyphs">V 450-A :: CD11c</text>
<line x1="392" y1="1809.6" x2="629" y2="1809.6" stroke="#000" stroke-width="3.6" />
<polygon points="650,1809.6 627,1798.8 627,1820.4" fill="#000"/>
<circle cx="627" cy="391" r="8.3" fill="#ff0000"/>
<text x="647" y="399" font-size="32" textLength="112" lengthAdjust="spacingAndGlyphs">MDDCs</text>
<rect x="618" y="415.1" width="16.4" height="16.4" fill="#00a800"/>
<text x="647" y="436" font-size="32" textLength="435" lengthAdjust="spacingAndGlyphs">MDDCs + TIGIT<tspan dy="-11.52" font-size="19.84">+</tspan><tspan dy="11.52"> Mem. B cells</tspan></text>
<polygon points="626.5,449.5 617,467.7 636,467.7" fill="#7030a0"/>
<text x="650" y="469" font-size="32" textLength="345" lengthAdjust="spacingAndGlyphs">MDDCs + TIGIT<tspan dy="-11.52" font-size="19.84">-</tspan><tspan dy="11.52"> B Cells</tspan></text>
<path d="M778.1,707.7 V653.1 H811.9 V707.7" fill="none" stroke="#ff0000" stroke-width="3.2"/>
<path d="M834.6,707.7 V693.6 H868.4 V707.7" fill="none" stroke="#00b400" stroke-width="3.2"/>
<path d="M891.1,707.7 V643.6 H925 V707.7" fill="none" stroke="#6a0d9a" stroke-width="3.2"/>
<line x1="794.7" y1="630.7" x2="794.7" y2="672" stroke="#000" stroke-width="2.6" />
<line x1="785.2" y1="630.7" x2="804.2" y2="630.7" stroke="#000" stroke-width="2.6" />
<line x1="785.2" y1="672" x2="804.2" y2="672" stroke="#000" stroke-width="2.6" />
<line x1="851" y1="687" x2="851" y2="698.5" stroke="#000" stroke-width="2.6" />
<line x1="841.5" y1="687" x2="860.5" y2="687" stroke="#000" stroke-width="2.6" />
<line x1="841.5" y1="698.5" x2="860.5" y2="698.5" stroke="#000" stroke-width="2.6" />
<line x1="907.8" y1="615" x2="907.8" y2="669" stroke="#000" stroke-width="2.6" />
<line x1="898.3" y1="615" x2="917.3" y2="615" stroke="#000" stroke-width="2.6" />
<line x1="898.3" y1="669" x2="917.3" y2="669" stroke="#000" stroke-width="2.6" />
<line x1="757" y1="550.5" x2="757" y2="709.2" stroke="#000" stroke-width="3" />
<line x1="747.5" y1="707.7" x2="947" y2="707.7" stroke="#000" stroke-width="3" />
<line x1="747.5" y1="552" x2="757" y2="552" stroke="#000" stroke-width="3" />
<text x="744" y="564.1" font-size="31" text-anchor="end">75</text>
<line x1="747.5" y1="604" x2="757" y2="604" stroke="#000" stroke-width="3" />
<text x="744" y="616.1" font-size="31" text-anchor="end">50</text>
<line x1="747.5" y1="656" x2="757" y2="656" stroke="#000" stroke-width="3" />
<text x="744" y="668.1" font-size="31" text-anchor="end">25</text>
<line x1="747.5" y1="707.7" x2="757" y2="707.7" stroke="#000" stroke-width="3" />
<text x="744" y="714.8" font-size="31" text-anchor="end">0</text>
<line x1="794.7" y1="707.7" x2="794.7" y2="717.2" stroke="#000" stroke-width="3" />
<line x1="851" y1="707.7" x2="851" y2="717.2" stroke="#000" stroke-width="3" />
<line x1="907.8" y1="707.7" x2="907.8" y2="717.2" stroke="#000" stroke-width="3" />
<circle cx="794.7" cy="621" r="4.7" fill="#ff0000"/>
<circle cx="787" cy="657.5" r="4.7" fill="#ff0000"/>
<circle cx="787" cy="666" r="4.7" fill="#ff0000"/>
<circle cx="803.5" cy="661.5" r="4.7" fill="#ff0000"/>
<rect x="846.9" y="680.6" width="8.8" height="8.8" fill="#00b400"/>
<rect x="846.9" y="687.6" width="8.8" height="8.8" fill="#00b400"/>
<rect x="833.1" y="692" width="8.8" height="8.8" fill="#00b400"/>
<rect x="861.3" y="691.2" width="8.8" height="8.8" fill="#00b400"/>
<polygon points="907.8,598.3 903.1,606.8 912.5,606.8" fill="#6a0d9a"/>
<polygon points="907.8,641.3 903.1,649.8 912.5,649.8" fill="#6a0d9a"/>
<polygon points="907.8,650.3 903.1,658.8 912.5,658.8" fill="#6a0d9a"/>
<polygon points="907.8,659.3 903.1,667.8 912.5,667.8" fill="#6a0d9a"/>
<text x="779" y="586" font-size="24.5" textLength="79" lengthAdjust="spacingAndGlyphs">P=0.02</text>
<line x1="778" y1="593" x2="849" y2="593" stroke="#000" stroke-width="2" />
<text x="861" y="548.4" font-size="24.5" textLength="79" lengthAdjust="spacingAndGlyphs">P=0.03</text>
<line x1="854" y1="555" x2="925" y2="555" stroke="#000" stroke-width="2" />
<text font-size="32" textLength="117.6" lengthAdjust="spacingAndGlyphs" transform="translate(691,697.6) rotate(-90)">%CD80<tspan dy="-11.52" font-size="19.84">+</tspan></text>
<path d="M786.6,911.7 V832.6 H821.1 V911.7" fill="none" stroke="#ff0000" stroke-width="3.2"/>
<path d="M843.1,911.7 V889.1 H877.6 V911.7" fill="none" stroke="#00b400" stroke-width="3.2"/>
<path d="M899.9,911.7 V853 H934.2 V911.7" fill="none" stroke="#6a0d9a" stroke-width="3.2"/>
<line x1="803.4" y1="817" x2="803.4" y2="844" stroke="#000" stroke-width="2.6" />
<line x1="793.9" y1="817" x2="812.9" y2="817" stroke="#000" stroke-width="2.6" />
<line x1="793.9" y1="844" x2="812.9" y2="844" stroke="#000" stroke-width="2.6" />
<line x1="860.4" y1="875.5" x2="860.4" y2="899" stroke="#000" stroke-width="2.6" />
<line x1="850.9" y1="875.5" x2="869.9" y2="875.5" stroke="#000" stroke-width="2.6" />
<line x1="850.9" y1="899" x2="869.9" y2="899" stroke="#000" stroke-width="2.6" />
<line x1="917" y1="836.8" x2="917" y2="866.5" stroke="#000" stroke-width="2.6" />
<line x1="907.5" y1="836.8" x2="926.5" y2="836.8" stroke="#000" stroke-width="2.6" />
<line x1="907.5" y1="866.5" x2="926.5" y2="866.5" stroke="#000" stroke-width="2.6" />
<line x1="766.8" y1="766.2" x2="766.8" y2="913.2" stroke="#000" stroke-width="3" />
<line x1="757.3" y1="911.7" x2="955.6" y2="911.7" stroke="#000" stroke-width="3" />
<line x1="757.3" y1="767.7" x2="766.8" y2="767.7" stroke="#000" stroke-width="3" />
<text x="752" y="784.3" font-size="31" text-anchor="end">30</text>
<line x1="757.3" y1="815.8" x2="766.8" y2="815.8" stroke="#000" stroke-width="3" />
<text x="752" y="832.4" font-size="31" text-anchor="end">20</text>
<line x1="757.3" y1="863.6" x2="766.8" y2="863.6" stroke="#000" stroke-width="3" />
<text x="752" y="880.2" font-size="31" text-anchor="end">10</text>
<line x1="757.3" y1="911.7" x2="766.8" y2="911.7" stroke="#000" stroke-width="3" />
<text x="752" y="924.3" font-size="31" text-anchor="end">0</text>
<line x1="803.4" y1="911.7" x2="803.4" y2="921.2" stroke="#000" stroke-width="3" />
<line x1="860.4" y1="911.7" x2="860.4" y2="921.2" stroke="#000" stroke-width="3" />
<line x1="917" y1="911.7" x2="917" y2="921.2" stroke="#000" stroke-width="3" />
<circle cx="803.4" cy="813.8" r="4.7" fill="#ff0000"/>
<circle cx="795" cy="828.4" r="4.7" fill="#ff0000"/>
<circle cx="812.4" cy="833.6" r="4.7" fill="#ff0000"/>
<circle cx="803.4" cy="845.6" r="4.7" fill="#ff0000"/>
<rect x="856" y="868.6" width="8.8" height="8.8" fill="#00b400"/>
<rect x="847.2" y="882.2" width="8.8" height="8.8" fill="#00b400"/>
<rect x="864.4" y="885.6" width="8.8" height="8.8" fill="#00b400"/>
<rect x="856" y="896.2" width="8.8" height="8.8" fill="#00b400"/>
<polygon points="902.9,838.3 898.2,846.8 907.6,846.8" fill="#6a0d9a"/>
<polygon points="917,841.3 912.3,849.8 921.7,849.8" fill="#6a0d9a"/>
<polygon points="931.8,839.3 927.1,847.8 936.5,847.8" fill="#6a0d9a"/>
<polygon points="917,869.8 912.3,878.3 921.7,878.3" fill="#6a0d9a"/>
<text x="789.4" y="773" font-size="24.5" textLength="90.4" lengthAdjust="spacingAndGlyphs">P=0.001</text>
<line x1="790" y1="777" x2="861" y2="777" stroke="#000" stroke-width="2" />
<text x="848.4" y="809" font-size="24.5" textLength="93.2" lengthAdjust="spacingAndGlyphs">P=0.016</text>
<line x1="851" y1="821.5" x2="922" y2="821.5" stroke="#000" stroke-width="2" />
<text font-size="32" textLength="119.5" lengthAdjust="spacingAndGlyphs" transform="translate(696.6,898.5) rotate(-90)">%CD83<tspan dy="-11.52" font-size="19.84">+</tspan></text>
<path d="M786.6,1123.2 V1067 H821.1 V1123.2" fill="none" stroke="#ff0000" stroke-width="3.2"/>
<path d="M843.1,1123.2 V1098 H877.6 V1123.2" fill="none" stroke="#00b400" stroke-width="3.2"/>
<path d="M899.9,1123.2 V1054.5 H934.2 V1123.2" fill="none" stroke="#6a0d9a" stroke-width="3.2"/>
<line x1="803.4" y1="1036.3" x2="803.4" y2="1091" stroke="#000" stroke-width="2.6" />
<line x1="793.9" y1="1036.3" x2="812.9" y2="1036.3" stroke="#000" stroke-width="2.6" />
<line x1="793.9" y1="1091" x2="812.9" y2="1091" stroke="#000" stroke-width="2.6" />
<line x1="860.4" y1="1086" x2="860.4" y2="1103.7" stroke="#000" stroke-width="2.6" />
<line x1="850.9" y1="1086" x2="869.9" y2="1086" stroke="#000" stroke-width="2.6" />
<line x1="850.9" y1="1103.7" x2="869.9" y2="1103.7" stroke="#000" stroke-width="2.6" />
<line x1="917" y1="1025.9" x2="917" y2="1077" stroke="#000" stroke-width="2.6" />
<line x1="907.5" y1="1025.9" x2="926.5" y2="1025.9" stroke="#000" stroke-width="2.6" />
<line x1="907.5" y1="1077" x2="926.5" y2="1077" stroke="#000" stroke-width="2.6" />
<line x1="766.8" y1="982.3" x2="766.8" y2="1124.7" stroke="#000" stroke-width="3" />
<line x1="757.3" y1="1123.2" x2="955.6" y2="1123.2" stroke="#000" stroke-width="3" />
<line x1="757.3" y1="983.8" x2="766.8" y2="983.8" stroke="#000" stroke-width="3" />
<text x="752" y="1000.4" font-size="31" text-anchor="end">75</text>
<line x1="757.3" y1="1030.5" x2="766.8" y2="1030.5" stroke="#000" stroke-width="3" />
<text x="752" y="1047.1" font-size="31" text-anchor="end">50</text>
<line x1="757.3" y1="1077" x2="766.8" y2="1077" stroke="#000" stroke-width="3" />
<text x="752" y="1093.6" font-size="31" text-anchor="end">25</text>
<line x1="757.3" y1="1123.2" x2="766.8" y2="1123.2" stroke="#000" stroke-width="3" />
<text x="752" y="1135.8" font-size="31" text-anchor="end">0</text>
<line x1="803.4" y1="1123.2" x2="803.4" y2="1132.7" stroke="#000" stroke-width="3" />
<line x1="860.4" y1="1123.2" x2="860.4" y2="1132.7" stroke="#000" stroke-width="3" />
<line x1="917" y1="1123.2" x2="917" y2="1132.7" stroke="#000" stroke-width="3" />
<circle cx="803.4" cy="1029.8" r="4.7" fill="#ff0000"/>
<circle cx="803.4" cy="1056" r="4.7" fill="#ff0000"/>
<circle cx="803.4" cy="1076.5" r="4.7" fill="#ff0000"/>
<circle cx="803.4" cy="1094" r="4.7" fill="#ff0000"/>
<rect x="856" y="1079.5" width="8.8" height="8.8" fill="#00b400"/>
<rect x="847.2" y="1091.6" width="8.8" height="8.8" fill="#00b400"/>
<rect x="864.4" y="1092.4" width="8.8" height="8.8" fill="#00b400"/>
<rect x="847.2" y="1098.9" width="8.8" height="8.8" fill="#00b400"/>
<polygon points="917,1014.7 912.3,1023.2 921.7,1023.2" fill="#6a0d9a"/>
<polygon points="917,1045.3 912.3,1053.8 921.7,1053.8" fill="#6a0d9a"/>
<polygon points="917,1053 912.3,1061.5 921.7,1061.5" fill="#6a0d9a"/>
<polygon points="917,1076 912.3,1084.5 921.7,1084.5" fill="#6a0d9a"/>
<text x="842" y="971.8" font-size="24.5" textLength="76" lengthAdjust="spacingAndGlyphs">P=0.01</text>
<line x1="844" y1="977.5" x2="915" y2="977.5" stroke="#000" stroke-width="2" />
<text x="788" y="1006" font-size="24.5" textLength="78.9" lengthAdjust="spacingAndGlyphs">P=0.02</text>
<line x1="783.5" y1="1010.6" x2="854.3" y2="1010.6" stroke="#000" stroke-width="2" />
<text font-size="32" textLength="119.6" lengthAdjust="spacingAndGlyphs" transform="translate(702.9,1100.6) rotate(-90)">%CD86<tspan dy="-11.52" font-size="19.84">+</tspan></text>
<path d="M786.6,1326 V1258.2 H821.1 V1326" fill="none" stroke="#ff0000" stroke-width="3.2"/>
<path d="M843.1,1326 V1308.1 H877.6 V1326" fill="none" stroke="#00b400" stroke-width="3.2"/>
<path d="M899.9,1326 V1254.6 H934.2 V1326" fill="none" stroke="#7a0a96" stroke-width="3.2"/>
<line x1="803.4" y1="1236.3" x2="803.4" y2="1276" stroke="#000" stroke-width="2.6" />
<line x1="793.9" y1="1236.3" x2="812.9" y2="1236.3" stroke="#000" stroke-width="2.6" />
<line x1="793.9" y1="1276" x2="812.9" y2="1276" stroke="#000" stroke-width="2.6" />
<line x1="860.4" y1="1299.5" x2="860.4" y2="1311.7" stroke="#000" stroke-width="2.6" />
<line x1="850.9" y1="1299.5" x2="869.9" y2="1299.5" stroke="#000" stroke-width="2.6" />
<line x1="850.9" y1="1311.7" x2="869.9" y2="1311.7" stroke="#000" stroke-width="2.6" />
<line x1="917" y1="1227.5" x2="917" y2="1277" stroke="#000" stroke-width="2.6" />
<line x1="907.5" y1="1227.5" x2="926.5" y2="1227.5" stroke="#000" stroke-width="2.6" />
<line x1="907.5" y1="1277" x2="926.5" y2="1277" stroke="#000" stroke-width="2.6" />
<line x1="766.8" y1="1172.5" x2="766.8" y2="1327.5" stroke="#000" stroke-width="3" />
<line x1="757.3" y1="1326" x2="955.6" y2="1326" stroke="#000" stroke-width="3" />
<line x1="757.3" y1="1174" x2="766.8" y2="1174" stroke="#000" stroke-width="3" />
<text x="752" y="1190.6" font-size="31" text-anchor="end">45</text>
<line x1="757.3" y1="1224.8" x2="766.8" y2="1224.8" stroke="#000" stroke-width="3" />
<text x="752" y="1241.4" font-size="31" text-anchor="end">30</text>
<line x1="757.3" y1="1275.7" x2="766.8" y2="1275.7" stroke="#000" stroke-width="3" />
<text x="752" y="1292.3" font-size="31" text-anchor="end">15</text>
<line x1="757.3" y1="1326" x2="766.8" y2="1326" stroke="#000" stroke-width="3" />
<text x="752" y="1338.6" font-size="31" text-anchor="end">0</text>
<line x1="803.4" y1="1326" x2="803.4" y2="1335.5" stroke="#000" stroke-width="3" />
<line x1="860.4" y1="1326" x2="860.4" y2="1335.5" stroke="#000" stroke-width="3" />
<line x1="917" y1="1326" x2="917" y2="1335.5" stroke="#000" stroke-width="3" />
<circle cx="803.4" cy="1232" r="4.7" fill="#ff0000"/>
<circle cx="803.4" cy="1249.5" r="4.7" fill="#ff0000"/>
<circle cx="803.4" cy="1264" r="4.7" fill="#ff0000"/>
<circle cx="803.4" cy="1278" r="4.7" fill="#ff0000"/>
<rect x="841.3" y="1294.1" width="8.8" height="8.8" fill="#00b400"/>
<rect x="856" y="1301" width="8.8" height="8.8" fill="#00b400"/>
<rect x="870.2" y="1301.6" width="8.8" height="8.8" fill="#00b400"/>
<rect x="841.3" y="1309" width="8.8" height="8.8" fill="#00b400"/>
<polygon points="908.5,1232.3 903.8,1240.8 913.2,1240.8" fill="#a81cf5"/>
<polygon points="925.5,1230.6 920.8,1239.1 930.2,1239.1" fill="#a81cf5"/>
<polygon points="917,1245.3 912.3,1253.8 921.7,1253.8" fill="#a81cf5"/>
<polygon points="917,1283.3 912.3,1291.8 921.7,1291.8" fill="#a81cf5"/>
<text x="854.3" y="1169.3" font-size="24.5" textLength="78.5" lengthAdjust="spacingAndGlyphs">P=0.03</text>
<line x1="843" y1="1176" x2="914" y2="1176" stroke="#000" stroke-width="2" />
<text x="788" y="1213" font-size="24.5" textLength="79" lengthAdjust="spacingAndGlyphs">P=0.02</text>
<line x1="794" y1="1220.6" x2="864.8" y2="1220.6" stroke="#000" stroke-width="2" />
<text font-size="32" textLength="120" lengthAdjust="spacingAndGlyphs" transform="translate(692.5,1303) rotate(-90)">%CD40<tspan dy="-11.52" font-size="19.84">+</tspan></text>
<path d="M788.3,1543 V1455.6 H822.4 V1543" fill="none" stroke="#ff0000" stroke-width="3.2"/>
<path d="M844.8,1543 V1520.2 H878.9 V1543" fill="none" stroke="#00b400" stroke-width="3.2"/>
<path d="M901.6,1543 V1451.1 H935.4 V1543" fill="none" stroke="#a31cf0" stroke-width="3.2"/>
<line x1="805.5" y1="1434.8" x2="805.5" y2="1471.9" stroke="#000" stroke-width="2.6" />
<line x1="796" y1="1434.8" x2="815" y2="1434.8" stroke="#000" stroke-width="2.6" />
<line x1="796" y1="1471.9" x2="815" y2="1471.9" stroke="#000" stroke-width="2.6" />
<line x1="861.6" y1="1506.4" x2="861.6" y2="1529.9" stroke="#000" stroke-width="2.6" />
<line x1="852.1" y1="1506.4" x2="871.1" y2="1506.4" stroke="#000" stroke-width="2.6" />
<line x1="852.1" y1="1529.9" x2="871.1" y2="1529.9" stroke="#000" stroke-width="2.6" />
<line x1="918.6" y1="1431" x2="918.6" y2="1465.6" stroke="#000" stroke-width="2.6" />
<line x1="909.1" y1="1431" x2="928.1" y2="1431" stroke="#000" stroke-width="2.6" />
<line x1="909.1" y1="1465.6" x2="928.1" y2="1465.6" stroke="#000" stroke-width="2.6" />
<line x1="768" y1="1385.1" x2="768" y2="1544.5" stroke="#000" stroke-width="3" />
<line x1="758.5" y1="1543" x2="957" y2="1543" stroke="#000" stroke-width="3" />
<line x1="758.5" y1="1386.6" x2="768" y2="1386.6" stroke="#000" stroke-width="3" />
<text x="752" y="1403.2" font-size="31" text-anchor="end">45</text>
<line x1="758.5" y1="1438.8" x2="768" y2="1438.8" stroke="#000" stroke-width="3" />
<text x="752" y="1455.4" font-size="31" text-anchor="end">30</text>
<line x1="758.5" y1="1491" x2="768" y2="1491" stroke="#000" stroke-width="3" />
<text x="752" y="1507.6" font-size="31" text-anchor="end">15</text>
<line x1="758.5" y1="1543" x2="768" y2="1543" stroke="#000" stroke-width="3" />
<text x="752" y="1555.6" font-size="31" text-anchor="end">0</text>
<line x1="805.5" y1="1543" x2="805.5" y2="1552.5" stroke="#000" stroke-width="3" />
<line x1="861.6" y1="1543" x2="861.6" y2="1552.5" stroke="#000" stroke-width="3" />
<line x1="918.6" y1="1543" x2="918.6" y2="1552.5" stroke="#000" stroke-width="3" />
<circle cx="805.5" cy="1429.4" r="4.7" fill="#ff0000"/>
<circle cx="805.5" cy="1448.8" r="4.7" fill="#ff0000"/>
<circle cx="797" cy="1470.4" r="4.7" fill="#ff0000"/>
<circle cx="814.3" cy="1464" r="4.7" fill="#ff0000"/>
<rect x="866" y="1502.4" width="8.8" height="8.8" fill="#00b400"/>
<rect x="848.6" y="1508.3" width="8.8" height="8.8" fill="#00b400"/>
<rect x="866" y="1514.2" width="8.8" height="8.8" fill="#00b400"/>
<rect x="857.2" y="1530.3" width="8.8" height="8.8" fill="#00b400"/>
<polygon points="918.6,1423.3 913.9,1431.8 923.3,1431.8" fill="#a31cf0"/>
<polygon points="918.6,1438.3 913.9,1446.8 923.3,1446.8" fill="#a31cf0"/>
<polygon points="918.6,1451.3 913.9,1459.8 923.3,1459.8" fill="#a31cf0"/>
<polygon points="918.6,1464 913.9,1472.5 923.3,1472.5" fill="#a31cf0"/>
<text x="853" y="1367.8" font-size="24.5" textLength="105.4" lengthAdjust="spacingAndGlyphs">P=0.0017</text>
<line x1="858.5" y1="1377" x2="929.5" y2="1377" stroke="#000" stroke-width="2" />
<text x="785.6" y="1404.9" font-size="24.5" textLength="106.4" lengthAdjust="spacingAndGlyphs">P=0.0024</text>
<line x1="781.4" y1="1415.3" x2="852" y2="1415.3" stroke="#000" stroke-width="2" />
<text font-size="32" textLength="123" lengthAdjust="spacingAndGlyphs" transform="translate(692.5,1519) rotate(-90)">%CCR7<tspan dy="-11.52" font-size="19.84">+</tspan></text>
<path d="M790.4,1761 V1695 H824.4 V1761" fill="none" stroke="#ff0000" stroke-width="3.2"/>
<path d="M846.9,1761 V1743.1 H881 V1761" fill="none" stroke="#00b400" stroke-width="3.2"/>
<path d="M903.9,1761 V1708.2 H937.9 V1761" fill="none" stroke="#a31cf0" stroke-width="3.2"/>
<line x1="807.6" y1="1681.9" x2="807.6" y2="1704.5" stroke="#000" stroke-width="2.6" />
<line x1="798.1" y1="1681.9" x2="817.1" y2="1681.9" stroke="#000" stroke-width="2.6" />
<line x1="798.1" y1="1704.5" x2="817.1" y2="1704.5" stroke="#000" stroke-width="2.6" />
<line x1="864" y1="1732.7" x2="864" y2="1749" stroke="#000" stroke-width="2.6" />
<line x1="854.5" y1="1732.7" x2="873.5" y2="1732.7" stroke="#000" stroke-width="2.6" />
<line x1="854.5" y1="1749" x2="873.5" y2="1749" stroke="#000" stroke-width="2.6" />
<line x1="920.7" y1="1697" x2="920.7" y2="1715" stroke="#000" stroke-width="2.6" />
<line x1="911.2" y1="1697" x2="930.2" y2="1697" stroke="#000" stroke-width="2.6" />
<line x1="911.2" y1="1715" x2="930.2" y2="1715" stroke="#000" stroke-width="2.6" />
<line x1="770.3" y1="1600.4" x2="770.3" y2="1762.5" stroke="#000" stroke-width="3" />
<line x1="760.8" y1="1761" x2="959.4" y2="1761" stroke="#000" stroke-width="3" />
<line x1="760.8" y1="1601.9" x2="770.3" y2="1601.9" stroke="#000" stroke-width="3" />
<text x="755" y="1618.5" font-size="31" text-anchor="end">75</text>
<line x1="760.8" y1="1654.8" x2="770.3" y2="1654.8" stroke="#000" stroke-width="3" />
<text x="755" y="1671.4" font-size="31" text-anchor="end">50</text>
<line x1="760.8" y1="1708" x2="770.3" y2="1708" stroke="#000" stroke-width="3" />
<text x="755" y="1724.6" font-size="31" text-anchor="end">25</text>
<line x1="760.8" y1="1761" x2="770.3" y2="1761" stroke="#000" stroke-width="3" />
<text x="755" y="1773.6" font-size="31" text-anchor="end">0</text>
<line x1="807.6" y1="1761" x2="807.6" y2="1770.5" stroke="#000" stroke-width="3" />
<line x1="864" y1="1761" x2="864" y2="1770.5" stroke="#000" stroke-width="3" />
<line x1="920.7" y1="1761" x2="920.7" y2="1770.5" stroke="#000" stroke-width="3" />
<circle cx="807.6" cy="1659" r="4.7" fill="#ff0000"/>
<circle cx="798.8" cy="1699" r="4.7" fill="#ff0000"/>
<circle cx="816" cy="1704.5" r="4.7" fill="#ff0000"/>
<circle cx="798.8" cy="1709.7" r="4.7" fill="#ff0000"/>
<rect x="859.6" y="1725.6" width="8.8" height="8.8" fill="#00b400"/>
<rect x="851.4" y="1736.6" width="8.8" height="8.8" fill="#00b400"/>
<rect x="868.1" y="1738.6" width="8.8" height="8.8" fill="#00b400"/>
<rect x="851.4" y="1745.1" width="8.8" height="8.8" fill="#00b400"/>
<polygon points="912.3,1693.9 907.6,1702.4 917,1702.4" fill="#a31cf0"/>
<polygon points="929,1692.9 924.3,1701.4 933.7,1701.4" fill="#a31cf0"/>
<polygon points="912.3,1711.3 907.6,1719.8 917,1719.8" fill="#a31cf0"/>
<polygon points="929,1707.7 924.3,1716.2 933.7,1716.2" fill="#a31cf0"/>
<text x="782.5" y="1615.5" font-size="24.5" textLength="90.5" lengthAdjust="spacingAndGlyphs">P=0.011</text>
<line x1="781.9" y1="1627.4" x2="852" y2="1627.4" stroke="#000" stroke-width="2" />
<text x="863" y="1662" font-size="24.5" textLength="78.6" lengthAdjust="spacingAndGlyphs">P=0.03</text>
<line x1="861.4" y1="1672.6" x2="932" y2="1672.6" stroke="#000" stroke-width="2" />
<text font-size="32" textLength="145.3" lengthAdjust="spacingAndGlyphs" transform="translate(694.5,1744) rotate(-90)">%ICOS-L<tspan dy="-11.52" font-size="19.84">+</tspan></text>
<rect x="138.2" y="1978.8" width="164.6" height="159.2" fill="#fff" stroke="#5e5e5e" stroke-width="1.1" />
<line x1="136.7" y1="1984.8" x2="136.7" y2="2135" stroke="#999" stroke-width="2.2" stroke-dasharray="0.8 3.3"/>
<line x1="141.2" y1="2139.5" x2="299.8" y2="2139.5" stroke="#999" stroke-width="2.2" stroke-dasharray="0.8 3.3"/>
<line x1="133.7" y1="1993.5" x2="138.2" y2="1993.5" stroke="#444" stroke-width="1.3" />
<line x1="133.7" y1="2022" x2="138.2" y2="2022" stroke="#444" stroke-width="1.3" />
<line x1="133.7" y1="2058.9" x2="138.2" y2="2058.9" stroke="#444" stroke-width="1.3" />
<line x1="133.7" y1="2104.2" x2="138.2" y2="2104.2" stroke="#444" stroke-width="1.3" />
<line x1="174.7" y1="2138" x2="174.7" y2="2142.5" stroke="#444" stroke-width="1.3" />
<line x1="217.2" y1="2138" x2="217.2" y2="2142.5" stroke="#444" stroke-width="1.3" />
<line x1="246.2" y1="2138" x2="246.2" y2="2142.5" stroke="#444" stroke-width="1.3" />
<line x1="275.2" y1="2138" x2="275.2" y2="2142.5" stroke="#444" stroke-width="1.3" />
<rect x="134.4" y="2100.2" width="3" height="8" fill="#4a4a4a"/>
<rect x="170.2" y="2138.8" width="9" height="2.8" fill="#4a4a4a"/>
<rect x="199.7" y="1989.3" width="69.1" height="47.3" fill="none" stroke="#666" stroke-width="1.2" />
<g transform="translate(224.8,2073.8) rotate(3)" fill="none" stroke="#8c8c8c" stroke-width="0.75"><path id="k39" d="M20.4,0C20.1,4.4 18.36,9.17 16.72,12.62C15.07,16.07 12.68,18.45 10.53,20.7C8.37,22.9 6.24,24.8 3.8,26.1C1.36,27.3 -1.47,28.6 -4.1,28.2C-6.73,27.7 -9.81,26.1 -12,23.6C-14.19,21.1 -16.08,16.95 -17.25,13.02C-18.41,9.09 -19.01,4.33 -18.99,0C-18.97,-4.33 -18.39,-9.17 -17.14,-12.94C-15.9,-16.71 -13.73,-20.4 -11.52,-22.6C-9.3,-24.9 -6.4,-25.9 -3.85,-26.4C-1.3,-27 1.22,-26.5 3.77,-25.9C6.32,-25.2 9.03,-24.5 11.44,-22.5C13.85,-20.5 16.74,-17.51 18.23,-13.76C19.71,-10.01 20.6,-4.4 20.4,0Z" vector-effect="non-scaling-stroke"/><use href="#k39" transform="scale(0.89,0.89)"/><use href="#k39" transform="scale(0.79,0.79)"/><use href="#k39" transform="scale(0.68,0.68)"/><use href="#k39" transform="scale(0.57,0.57)"/><use href="#k39" transform="scale(0.46,0.46)"/><use href="#k39" transform="scale(0.35,0.35)"/><use href="#k39" transform="scale(0.25,0.25)"/><use href="#k39" transform="scale(0.14,0.14)"/></g>
<g transform="translate(242,2021.5) rotate(0)" fill="none" stroke="#8c8c8c" stroke-width="0.75"><path id="k40" d="M19.07,0C19.34,1.85 18.86,4.11 17.67,5.82C16.49,7.53 14.21,9.12 11.97,10.27C9.73,11.42 6.96,12.25 4.24,12.72C1.52,13.18 -1.62,13.44 -4.36,13.06C-7.09,12.68 -10.15,11.72 -12.18,10.45C-14.21,9.18 -15.65,7.19 -16.52,5.44C-17.4,3.7 -17.42,1.82 -17.43,0C-17.43,-1.82 -17.34,-3.64 -16.54,-5.45C-15.74,-7.26 -14.63,-9.44 -12.64,-10.85C-10.66,-12.25 -7.45,-13.54 -4.63,-13.88C-1.81,-14.21 1.68,-13.59 4.29,-12.85C6.89,-12.12 9.05,-10.71 11.01,-9.45C12.97,-8.19 14.7,-6.86 16.05,-5.29C17.39,-3.71 18.8,-1.85 19.07,0Z" vector-effect="non-scaling-stroke"/><use href="#k40" transform="scale(0.83,0.83)"/><use href="#k40" transform="scale(0.66,0.66)"/><use href="#k40" transform="scale(0.48,0.48)"/><use href="#k40" transform="scale(0.31,0.31)"/><use href="#k40" transform="scale(0.14,0.14)"/></g>
<path d="M216.3,2013h2.9v2.9h-2.9zM224.7,2012.2h2.9v2.9h-2.9zM262.4,2013.8h2.9v2.9h-2.9zM216.3,2021.4h2.9v2.9h-2.9zM219.2,2021.4h2.9v2.9h-2.9zM215,2040.2h2.9v2.9h-2.9zM219.2,2037.3h2.9v2.9h-2.9zM224.7,2039h2.9v2.9h-2.9zM235.1,2041.5h2.9v2.9h-2.9zM216.3,2042.3h2.9v2.9h-2.9zM239.3,2047.3h2.9v2.9h-2.9zM241.4,2050.7h2.9v2.9h-2.9zM245.6,2054h2.9v2.9h-2.9zM264.5,2054h2.9v2.9h-2.9zM248.6,2100.1h2.9v2.9h-2.9zM240.2,2102.2h2.9v2.9h-2.9zM216.3,2103h2.9v2.9h-2.9zM214.2,2110.1h2.9v2.9h-2.9zM232.2,2110.1h2.9v2.9h-2.9zM172.3,2102.2h2.9v2.9h-2.9z" fill="#111"/>
<text x="142.4" y="2015.7" font-size="28" textLength="54.4" lengthAdjust="spacingAndGlyphs">28.9</text>
<rect x="311" y="1978.8" width="165" height="159.2" fill="#fff" stroke="#5e5e5e" stroke-width="1.1" />
<line x1="309.5" y1="1984.8" x2="309.5" y2="2135" stroke="#999" stroke-width="2.2" stroke-dasharray="0.8 3.3"/>
<line x1="314" y1="2139.5" x2="473" y2="2139.5" stroke="#999" stroke-width="2.2" stroke-dasharray="0.8 3.3"/>
<line x1="306.5" y1="1993.5" x2="311" y2="1993.5" stroke="#444" stroke-width="1.3" />
<line x1="306.5" y1="2022" x2="311" y2="2022" stroke="#444" stroke-width="1.3" />
<line x1="306.5" y1="2058.9" x2="311" y2="2058.9" stroke="#444" stroke-width="1.3" />
<line x1="306.5" y1="2104.2" x2="311" y2="2104.2" stroke="#444" stroke-width="1.3" />
<line x1="347.5" y1="2138" x2="347.5" y2="2142.5" stroke="#444" stroke-width="1.3" />
<line x1="390" y1="2138" x2="390" y2="2142.5" stroke="#444" stroke-width="1.3" />
<line x1="419" y1="2138" x2="419" y2="2142.5" stroke="#444" stroke-width="1.3" />
<line x1="448" y1="2138" x2="448" y2="2142.5" stroke="#444" stroke-width="1.3" />
<rect x="307.2" y="2100.2" width="3" height="8" fill="#4a4a4a"/>
<rect x="343" y="2138.8" width="9" height="2.8" fill="#4a4a4a"/>
<rect x="372.7" y="1989.3" width="69.1" height="47.3" fill="none" stroke="#666" stroke-width="1.2" />
<g transform="translate(397,2074) rotate(0)" fill="none" stroke="#8c8c8c" stroke-width="0.75"><path id="k41" d="M16.27,0C16.25,4.27 15.6,8.77 14.64,12.74C13.68,16.72 12.31,20.8 10.52,23.8C8.74,26.9 6.31,29.9 3.92,31C1.52,32.1 -1.53,31.9 -3.86,30.5C-6.18,29.1 -8.37,25.8 -10.03,22.7C-11.68,19.63 -12.79,15.78 -13.78,11.99C-14.76,8.2 -15.64,4.25 -15.93,0C-16.22,-4.25 -16.33,-9.34 -15.51,-13.49C-14.68,-17.65 -12.96,-22.2 -11,-24.9C-9.05,-27.7 -6.22,-29.3 -3.78,-29.9C-1.34,-30.6 1.31,-29.9 3.62,-28.7C5.94,-27.5 8.27,-25.6 10.13,-22.9C11.98,-20.3 13.75,-16.69 14.78,-12.86C15.8,-9.04 16.29,-4.27 16.27,0Z" vector-effect="non-scaling-stroke"/><use href="#k41" transform="scale(0.89,0.89)"/><use href="#k41" transform="scale(0.79,0.79)"/><use href="#k41" transform="scale(0.68,0.68)"/><use href="#k41" transform="scale(0.57,0.57)"/><use href="#k41" transform="scale(0.46,0.46)"/><use href="#k41" transform="scale(0.35,0.35)"/><use href="#k41" transform="scale(0.25,0.25)"/><use href="#k41" transform="scale(0.14,0.14)"/></g>
<path d="M411,2016.3h2.9v2.9h-2.9zM408.9,2016.3h2.9v2.9h-2.9zM386.7,2024.7h2.9v2.9h-2.9zM414,2023.5h2.9v2.9h-2.9zM401.4,2025.6h2.9v2.9h-2.9zM403.9,2027.6h2.9v2.9h-2.9zM417.3,2026.8h2.9v2.9h-2.9zM404.7,2047.3h2.9v2.9h-2.9zM413.1,2056.1h2.9v2.9h-2.9zM426.5,2054h2.9v2.9h-2.9zM432,2054h2.9v2.9h-2.9zM432.8,2056.1h2.9v2.9h-2.9zM388.8,2107.2h2.9v2.9h-2.9zM394.3,2121h2.9v2.9h-2.9zM345.3,2102.2h2.9v2.9h-2.9z" fill="#111"/>
<text x="314" y="2015.7" font-size="28" textLength="54.5" lengthAdjust="spacingAndGlyphs">5.04</text>
<rect x="484.5" y="1978.8" width="165.5" height="159.2" fill="#fff" stroke="#5e5e5e" stroke-width="1.1" />
<line x1="483" y1="1984.8" x2="483" y2="2135" stroke="#999" stroke-width="2.2" stroke-dasharray="0.8 3.3"/>
<line x1="487.5" y1="2139.5" x2="647" y2="2139.5" stroke="#999" stroke-width="2.2" stroke-dasharray="0.8 3.3"/>
<line x1="480" y1="1993.5" x2="484.5" y2="1993.5" stroke="#444" stroke-width="1.3" />
<line x1="480" y1="2022" x2="484.5" y2="2022" stroke="#444" stroke-width="1.3" />
<line x1="480" y1="2058.9" x2="484.5" y2="2058.9" stroke="#444" stroke-width="1.3" />
<line x1="480" y1="2104.2" x2="484.5" y2="2104.2" stroke="#444" stroke-width="1.3" />
<line x1="521" y1="2138" x2="521" y2="2142.5" stroke="#444" stroke-width="1.3" />
<line x1="563.5" y1="2138" x2="563.5" y2="2142.5" stroke="#444" stroke-width="1.3" />
<line x1="592.5" y1="2138" x2="592.5" y2="2142.5" stroke="#444" stroke-width="1.3" />
<line x1="621.5" y1="2138" x2="621.5" y2="2142.5" stroke="#444" stroke-width="1.3" />
<rect x="480.7" y="2100.2" width="3" height="8" fill="#4a4a4a"/>
<rect x="516.5" y="2138.8" width="9" height="2.8" fill="#4a4a4a"/>
<rect x="546.5" y="1989.3" width="69.1" height="47.3" fill="none" stroke="#666" stroke-width="1.2" />
<g transform="translate(570,2069) rotate(5)" fill="none" stroke="#8c8c8c" stroke-width="0.75"><path id="k42" d="M16.1,0C15.94,4.35 14.77,9.11 13.54,12.62C12.3,16.13 10.4,18.62 8.68,21.1C6.96,23.5 5.28,25.7 3.22,27.3C1.17,29 -1.3,31.1 -3.65,30.9C-6,30.8 -9.03,29.3 -10.87,26.4C-12.72,23.5 -14.11,18.11 -14.72,13.72C-15.32,9.32 -14.85,4.25 -14.51,0C-14.16,-4.25 -13.52,-8 -12.67,-11.81C-11.82,-15.62 -10.93,-19.78 -9.41,-22.8C-7.89,-25.9 -5.71,-28.9 -3.55,-30.1C-1.39,-31.3 1.31,-31 3.54,-30C5.76,-28.9 7.98,-26.5 9.81,-23.8C11.63,-21.1 13.44,-17.47 14.49,-13.51C15.54,-9.54 16.26,-4.35 16.1,0Z" vector-effect="non-scaling-stroke"/><use href="#k42" transform="scale(0.89,0.89)"/><use href="#k42" transform="scale(0.79,0.79)"/><use href="#k42" transform="scale(0.68,0.68)"/><use href="#k42" transform="scale(0.57,0.57)"/><use href="#k42" transform="scale(0.46,0.46)"/><use href="#k42" transform="scale(0.35,0.35)"/><use href="#k42" transform="scale(0.25,0.25)"/><use href="#k42" transform="scale(0.14,0.14)"/></g>
<g transform="translate(592.2,2021.5) rotate(-25)" fill="none" stroke="#8c8c8c" stroke-width="0.75"><path id="k43" d="M16.69,0C16.75,1.82 15.66,4.03 14.38,5.54C13.11,7.05 10.91,8.17 9.03,9.06C7.16,9.96 5.15,10.52 3.11,10.9C1.07,11.27 -1.15,11.57 -3.23,11.32C-5.3,11.06 -7.62,10.38 -9.33,9.36C-11.04,8.34 -12.51,6.76 -13.49,5.2C-14.47,3.64 -15.09,1.79 -15.23,0C-15.37,-1.79 -15.21,-3.86 -14.32,-5.52C-13.44,-7.18 -11.76,-8.97 -9.92,-9.95C-8.08,-10.94 -5.42,-11.36 -3.26,-11.44C-1.11,-11.53 1.01,-10.92 2.98,-10.45C4.96,-9.98 6.75,-9.46 8.59,-8.62C10.43,-7.77 12.66,-6.83 14.01,-5.4C15.36,-3.96 16.62,-1.82 16.69,0Z" vector-effect="non-scaling-stroke"/><use href="#k43" transform="scale(0.79,0.79)"/><use href="#k43" transform="scale(0.57,0.57)"/><use href="#k43" transform="scale(0.35,0.35)"/><use href="#k43" transform="scale(0.14,0.14)"/></g>
<g transform="translate(580,2038.2) rotate(35)" fill="none" stroke="#8c8c8c" stroke-width="0.75"><path id="k44" d="M7.94,0C7.92,1.99 7.52,4.11 7.01,5.91C6.51,7.7 5.77,9.4 4.91,10.77C4.05,12.15 2.98,13.54 1.85,14.17C0.71,14.8 -0.75,15.06 -1.9,14.55C-3.05,14.04 -4.25,12.58 -5.06,11.1C-5.87,9.62 -6.35,7.54 -6.75,5.69C-7.14,3.84 -7.35,1.96 -7.43,0C-7.51,-1.96 -7.57,-4.15 -7.21,-6.08C-6.86,-8.02 -6.18,-10.25 -5.29,-11.61C-4.4,-12.97 -3.04,-13.93 -1.86,-14.25C-0.68,-14.57 0.65,-14.13 1.77,-13.54C2.89,-12.94 3.97,-11.93 4.87,-10.68C5.76,-9.42 6.64,-7.81 7.16,-6.03C7.67,-4.25 7.97,-1.99 7.94,0Z" vector-effect="non-scaling-stroke"/><use href="#k44" transform="scale(0.14,0.14)"/></g>
<path d="M565.1,2103h2.9v2.9h-2.9zM519.9,2102.2h2.9v2.9h-2.9z" fill="#111"/>
<text x="489" y="2015.7" font-size="28" textLength="54.5" lengthAdjust="spacingAndGlyphs">31.4</text>
<text x="107" y="2006" font-size="12.5" fill="#3c3c3c">10</text>
<text x="122.1" y="1998.2" font-size="14" fill="#3c3c3c">5</text>
<text x="107" y="2034.5" font-size="12.5" fill="#3c3c3c">10</text>
<text x="122.1" y="2026.8" font-size="14" fill="#3c3c3c">4</text>
<text x="107" y="2071.4" font-size="12.5" fill="#3c3c3c">10</text>
<text x="122.1" y="2063.7" font-size="14" fill="#3c3c3c">3</text>
<text x="117" y="2113.7" font-size="14" text-anchor="middle" fill="#3c3c3c">0</text>
<text x="175" y="2163" font-size="14" text-anchor="middle" fill="#3c3c3c">0</text>
<text x="213.6" y="2162.7" font-size="13" fill="#3c3c3c">10</text>
<text x="229.3" y="2154.6" font-size="14.56" fill="#3c3c3c">3</text>
<text x="242.9" y="2162.7" font-size="13" fill="#3c3c3c">10</text>
<text x="258.6" y="2154.6" font-size="14.56" fill="#3c3c3c">4</text>
<text x="272.2" y="2162.7" font-size="13" fill="#3c3c3c">10</text>
<text x="287.9" y="2154.6" font-size="14.56" fill="#3c3c3c">5</text>
<rect x="138.2" y="2179" width="164.6" height="150.8" fill="#fff" stroke="#5e5e5e" stroke-width="1.1" />
<line x1="136.7" y1="2185" x2="136.7" y2="2326.8" stroke="#999" stroke-width="2.2" stroke-dasharray="0.8 3.3"/>
<line x1="141.2" y1="2331.3" x2="299.8" y2="2331.3" stroke="#999" stroke-width="2.2" stroke-dasharray="0.8 3.3"/>
<line x1="133.7" y1="2192.9" x2="138.2" y2="2192.9" stroke="#444" stroke-width="1.3" />
<line x1="133.7" y1="2221" x2="138.2" y2="2221" stroke="#444" stroke-width="1.3" />
<line x1="133.7" y1="2254.4" x2="138.2" y2="2254.4" stroke="#444" stroke-width="1.3" />
<line x1="133.7" y1="2298" x2="138.2" y2="2298" stroke="#444" stroke-width="1.3" />
<line x1="174.7" y1="2329.8" x2="174.7" y2="2334.3" stroke="#444" stroke-width="1.3" />
<line x1="217.2" y1="2329.8" x2="217.2" y2="2334.3" stroke="#444" stroke-width="1.3" />
<line x1="246.2" y1="2329.8" x2="246.2" y2="2334.3" stroke="#444" stroke-width="1.3" />
<line x1="275.2" y1="2329.8" x2="275.2" y2="2334.3" stroke="#444" stroke-width="1.3" />
<rect x="134.4" y="2294" width="3" height="8" fill="#4a4a4a"/>
<rect x="170.2" y="2330.6" width="9" height="2.8" fill="#4a4a4a"/>
<rect x="196.8" y="2182" width="69.2" height="58.6" fill="none" stroke="#666" stroke-width="1.2" />
<g transform="translate(224.8,2267.6) rotate(3)" fill="none" stroke="#8c8c8c" stroke-width="0.75"><path id="k45" d="M17.39,0C17.41,4.39 16.63,9.26 15.52,13.24C14.41,17.21 12.65,20.9 10.73,23.8C8.81,26.8 6.49,29.7 4,31.1C1.52,32.5 -1.62,33.3 -4.16,32.3C-6.71,31.3 -9.48,28.3 -11.27,25C-13.06,21.8 -14.11,16.87 -14.89,12.7C-15.66,8.53 -15.83,4.31 -15.91,0C-16,-4.31 -16.11,-8.83 -15.39,-13.13C-14.68,-17.43 -13.49,-22.6 -11.62,-25.8C-9.74,-29 -6.76,-31.6 -4.17,-32.4C-1.58,-33.2 1.48,-32 3.92,-30.4C6.37,-28.9 8.59,-26.2 10.5,-23.3C12.4,-20.4 14.21,-16.98 15.35,-13.1C16.5,-9.21 17.36,-4.39 17.39,0Z" vector-effect="non-scaling-stroke"/><use href="#k45" transform="scale(0.89,0.89)"/><use href="#k45" transform="scale(0.79,0.79)"/><use href="#k45" transform="scale(0.68,0.68)"/><use href="#k45" transform="scale(0.57,0.57)"/><use href="#k45" transform="scale(0.46,0.46)"/><use href="#k45" transform="scale(0.35,0.35)"/><use href="#k45" transform="scale(0.25,0.25)"/><use href="#k45" transform="scale(0.14,0.14)"/></g>
<g transform="translate(243,2229.4) rotate(-20)" fill="none" stroke="#8c8c8c" stroke-width="0.75"><path id="k46" d="M18.99,0C18.56,1.93 16.84,3.82 15.36,5.34C13.88,6.86 12.01,8.02 10.09,9.13C8.16,10.25 6.17,11.39 3.81,12.04C1.44,12.7 -1.51,13.27 -4.13,13.06C-6.74,12.85 -9.77,11.97 -11.89,10.77C-14.02,9.57 -15.81,7.67 -16.88,5.87C-17.95,4.08 -18.44,1.91 -18.31,0C-18.19,-1.91 -17.41,-3.99 -16.15,-5.62C-14.89,-7.24 -12.82,-8.71 -10.75,-9.73C-8.68,-10.76 -6.15,-11.35 -3.72,-11.76C-1.28,-12.17 1.26,-12.36 3.85,-12.18C6.44,-12 9.45,-11.68 11.8,-10.69C14.15,-9.7 16.74,-8.02 17.94,-6.24C19.14,-4.46 19.42,-1.93 18.99,0Z" vector-effect="non-scaling-stroke"/><use href="#k46" transform="scale(0.83,0.83)"/><use href="#k46" transform="scale(0.66,0.66)"/><use href="#k46" transform="scale(0.48,0.48)"/><use href="#k46" transform="scale(0.31,0.31)"/><use href="#k46" transform="scale(0.14,0.14)"/></g>
<g transform="translate(223.8,2315.9) rotate(0)" fill="none" stroke="#8c8c8c" stroke-width="0.75"><path id="k47" d="M5.89,0C6.09,1.15 6.28,2.69 5.99,3.85C5.7,5.01 4.94,6.31 4.17,6.97C3.39,7.62 2.23,7.77 1.33,7.79C0.44,7.81 -0.41,7.42 -1.21,7.1C-2.02,6.77 -2.79,6.44 -3.49,5.84C-4.19,5.24 -4.98,4.46 -5.42,3.48C-5.87,2.51 -6.13,1.16 -6.14,0C-6.14,-1.16 -5.83,-2.43 -5.45,-3.5C-5.07,-4.57 -4.52,-5.63 -3.84,-6.43C-3.17,-7.22 -2.28,-8.01 -1.42,-8.27C-0.55,-8.53 0.55,-8.4 1.37,-7.98C2.18,-7.56 2.88,-6.59 3.45,-5.77C4.02,-4.96 4.38,-4.04 4.79,-3.07C5.19,-2.11 5.69,-1.15 5.89,0Z" vector-effect="non-scaling-stroke"/></g>
<path d="M216.3,2193.9h2.9v2.9h-2.9zM251.9,2204.4h2.9v2.9h-2.9zM246.5,2209.8h2.9v2.9h-2.9zM256.1,2211.1h2.9v2.9h-2.9zM262.4,2213.2h2.9v2.9h-2.9zM219.7,2224.5h2.9v2.9h-2.9zM216.3,2229.9h2.9v2.9h-2.9zM265.3,2241.2h2.9v2.9h-2.9zM243.5,2287.3h2.9v2.9h-2.9zM237.2,2291.5h2.9v2.9h-2.9zM248.6,2292.7h2.9v2.9h-2.9zM215,2301.1h2.9v2.9h-2.9zM216.3,2306.1h2.9v2.9h-2.9zM224.7,2305.3h2.9v2.9h-2.9zM214.2,2314.5h2.9v2.9h-2.9zM231,2308.2h2.9v2.9h-2.9zM241.4,2312.4h2.9v2.9h-2.9zM243.5,2316.6h2.9v2.9h-2.9zM239.3,2318.7h2.9v2.9h-2.9zM215,2322.9h2.9v2.9h-2.9zM216.3,2327.9h2.9v2.9h-2.9zM228,2322h2.9v2.9h-2.9zM172.3,2296.9h2.9v2.9h-2.9z" fill="#111"/>
<text x="142.4" y="2223" font-size="28" textLength="54.4" lengthAdjust="spacingAndGlyphs">28.6</text>
<rect x="311" y="2179" width="165" height="150.8" fill="#fff" stroke="#5e5e5e" stroke-width="1.1" />
<line x1="309.5" y1="2185" x2="309.5" y2="2326.8" stroke="#999" stroke-width="2.2" stroke-dasharray="0.8 3.3"/>
<line x1="314" y1="2331.3" x2="473" y2="2331.3" stroke="#999" stroke-width="2.2" stroke-dasharray="0.8 3.3"/>
<line x1="306.5" y1="2192.9" x2="311" y2="2192.9" stroke="#444" stroke-width="1.3" />
<line x1="306.5" y1="2221" x2="311" y2="2221" stroke="#444" stroke-width="1.3" />
<line x1="306.5" y1="2254.4" x2="311" y2="2254.4" stroke="#444" stroke-width="1.3" />
<line x1="306.5" y1="2298" x2="311" y2="2298" stroke="#444" stroke-width="1.3" />
<line x1="347.5" y1="2329.8" x2="347.5" y2="2334.3" stroke="#444" stroke-width="1.3" />
<line x1="390" y1="2329.8" x2="390" y2="2334.3" stroke="#444" stroke-width="1.3" />
<line x1="419" y1="2329.8" x2="419" y2="2334.3" stroke="#444" stroke-width="1.3" />
<line x1="448" y1="2329.8" x2="448" y2="2334.3" stroke="#444" stroke-width="1.3" />
<rect x="307.2" y="2294" width="3" height="8" fill="#4a4a4a"/>
<rect x="343" y="2330.6" width="9" height="2.8" fill="#4a4a4a"/>
<rect x="369.3" y="2182" width="69.2" height="58.6" fill="none" stroke="#666" stroke-width="1.2" />
<g transform="translate(397,2262.6) rotate(0)" fill="none" stroke="#8c8c8c" stroke-width="0.75"><path id="k48" d="M17.83,0C17.72,3.97 16.95,8.33 15.71,11.67C14.47,15.02 12.4,17.99 10.38,20.1C8.37,22.2 5.95,23.4 3.59,24.3C1.23,25.2 -1.23,25.8 -3.77,25.5C-6.31,25.2 -9.34,24.6 -11.62,22.5C-13.91,20.4 -16.38,16.74 -17.48,12.99C-18.59,9.24 -18.69,3.99 -18.23,0C-17.77,-3.99 -16.12,-7.77 -14.72,-10.94C-13.32,-14.11 -11.66,-16.62 -9.83,-19.02C-8,-21.4 -6.06,-24 -3.75,-25.4C-1.44,-26.7 1.49,-27.8 4.04,-27.3C6.58,-26.8 9.47,-24.8 11.51,-22.3C13.56,-19.75 15.28,-15.85 16.33,-12.14C17.39,-8.42 17.93,-3.97 17.83,0Z" vector-effect="non-scaling-stroke"/><use href="#k48" transform="scale(0.89,0.89)"/><use href="#k48" transform="scale(0.79,0.79)"/><use href="#k48" transform="scale(0.68,0.68)"/><use href="#k48" transform="scale(0.57,0.57)"/><use href="#k48" transform="scale(0.46,0.46)"/><use href="#k48" transform="scale(0.35,0.35)"/><use href="#k48" transform="scale(0.25,0.25)"/><use href="#k48" transform="scale(0.14,0.14)"/></g>
<g transform="translate(394.4,2302.5) rotate(8)" fill="none" stroke="#8c8c8c" stroke-width="0.75"><path id="k49" d="M8.07,0C8.13,3.03 8.25,6.25 7.89,9.29C7.53,12.32 6.9,15.94 5.94,18.19C4.97,20.4 3.46,22.2 2.13,22.8C0.8,23.4 -0.75,22.7 -2.03,21.8C-3.32,20.8 -4.56,19.1 -5.56,17.05C-6.57,15 -7.52,12.32 -8.05,9.48C-8.59,6.64 -8.84,3.08 -8.78,0C-8.71,-3.08 -8.22,-6.24 -7.66,-9.02C-7.1,-11.79 -6.35,-14.38 -5.43,-16.63C-4.5,-18.88 -3.38,-21.4 -2.1,-22.5C-0.83,-23.7 0.88,-24.4 2.21,-23.6C3.53,-22.8 4.95,-20.4 5.84,-17.91C6.73,-15.45 7.17,-11.86 7.54,-8.88C7.91,-5.89 8.02,-3.03 8.07,0Z" vector-effect="non-scaling-stroke"/><use href="#k49" transform="scale(0.57,0.57)"/><use href="#k49" transform="scale(0.14,0.14)"/></g>
<path d="M409.8,2200.2h2.9v2.9h-2.9zM411.9,2200.2h2.9v2.9h-2.9zM418.1,2214h2.9v2.9h-2.9zM414,2228.7h2.9v2.9h-2.9zM403.9,2230.7h2.9v2.9h-2.9zM388,2234.1h2.9v2.9h-2.9zM426.5,2247.5h2.9v2.9h-2.9zM432,2248.3h2.9v2.9h-2.9zM432.8,2250.4h2.9v2.9h-2.9zM413.1,2256.7h2.9v2.9h-2.9zM432.8,2257.1h2.9v2.9h-2.9zM403.9,2304h2.9v2.9h-2.9zM388,2319.5h2.9v2.9h-2.9zM390.9,2321.6h2.9v2.9h-2.9zM345.3,2296.9h2.9v2.9h-2.9z" fill="#111"/>
<text x="312" y="2223" font-size="28" textLength="52.3" lengthAdjust="spacingAndGlyphs">7.19</text>
<rect x="484.5" y="2179" width="165.5" height="150.8" fill="#fff" stroke="#5e5e5e" stroke-width="1.1" />
<line x1="483" y1="2185" x2="483" y2="2326.8" stroke="#999" stroke-width="2.2" stroke-dasharray="0.8 3.3"/>
<line x1="487.5" y1="2331.3" x2="647" y2="2331.3" stroke="#999" stroke-width="2.2" stroke-dasharray="0.8 3.3"/>
<line x1="480" y1="2192.9" x2="484.5" y2="2192.9" stroke="#444" stroke-width="1.3" />
<line x1="480" y1="2221" x2="484.5" y2="2221" stroke="#444" stroke-width="1.3" />
<line x1="480" y1="2254.4" x2="484.5" y2="2254.4" stroke="#444" stroke-width="1.3" />
<line x1="480" y1="2298" x2="484.5" y2="2298" stroke="#444" stroke-width="1.3" />
<line x1="521" y1="2329.8" x2="521" y2="2334.3" stroke="#444" stroke-width="1.3" />
<line x1="563.5" y1="2329.8" x2="563.5" y2="2334.3" stroke="#444" stroke-width="1.3" />
<line x1="592.5" y1="2329.8" x2="592.5" y2="2334.3" stroke="#444" stroke-width="1.3" />
<line x1="621.5" y1="2329.8" x2="621.5" y2="2334.3" stroke="#444" stroke-width="1.3" />
<rect x="480.7" y="2294" width="3" height="8" fill="#4a4a4a"/>
<rect x="516.5" y="2330.6" width="9" height="2.8" fill="#4a4a4a"/>
<rect x="543" y="2182" width="69.2" height="58.6" fill="none" stroke="#666" stroke-width="1.2" />
<g transform="translate(567.3,2266.6) rotate(0)" fill="none" stroke="#8c8c8c" stroke-width="0.75"><path id="k50" d="M17.67,0C17.55,3.14 16.31,6.59 14.99,9.18C13.66,11.78 11.66,13.84 9.75,15.56C7.83,17.28 5.73,18.69 3.5,19.49C1.26,20.3 -1.33,20.8 -3.65,20.4C-5.98,19.91 -8.57,18.57 -10.47,16.71C-12.37,14.85 -14.01,12.02 -15.06,9.23C-16.12,6.45 -16.74,3.1 -16.78,0C-16.83,-3.1 -16.37,-6.62 -15.31,-9.38C-14.25,-12.15 -12.37,-14.9 -10.4,-16.6C-8.44,-18.31 -5.83,-19.21 -3.52,-19.63C-1.21,-20 1.16,-19.71 3.43,-19.13C5.71,-18.56 8.07,-17.74 10.12,-16.16C12.18,-14.58 14.49,-12.34 15.74,-9.65C17,-6.96 17.8,-3.14 17.67,0Z" vector-effect="non-scaling-stroke"/><use href="#k50" transform="scale(0.89,0.89)"/><use href="#k50" transform="scale(0.79,0.79)"/><use href="#k50" transform="scale(0.68,0.68)"/><use href="#k50" transform="scale(0.57,0.57)"/><use href="#k50" transform="scale(0.46,0.46)"/><use href="#k50" transform="scale(0.35,0.35)"/><use href="#k50" transform="scale(0.25,0.25)"/><use href="#k50" transform="scale(0.14,0.14)"/></g>
<g transform="translate(585.6,2232.7) rotate(38)" fill="none" stroke="#8c8c8c" stroke-width="0.75"><path id="k51" d="M13.91,0C13.69,4.55 12.71,9.08 11.73,12.92C10.75,16.75 9.47,19.99 8.03,23C6.59,26 5,29.2 3.1,31C1.2,32.8 -1.27,34.4 -3.38,33.8C-5.48,33.2 -7.96,30.6 -9.52,27.3C-11.08,24 -12.15,18.57 -12.74,14.02C-13.33,9.47 -13.22,4.49 -13.06,0C-12.89,-4.49 -12.49,-8.83 -11.74,-12.92C-10.99,-17.01 -9.99,-21.4 -8.56,-24.5C-7.13,-27.7 -5.14,-30.6 -3.18,-31.8C-1.22,-33.1 1.18,-33.2 3.22,-32.3C5.27,-31.3 7.45,-29 9.09,-26.1C10.74,-23.1 12.28,-18.75 13.08,-14.4C13.89,-10.06 14.14,-4.55 13.91,0Z" vector-effect="non-scaling-stroke"/><use href="#k51" transform="scale(0.71,0.71)"/><use href="#k51" transform="scale(0.43,0.43)"/><use href="#k51" transform="scale(0.14,0.14)"/></g>
<g transform="translate(572.3,2317.5) rotate(0)" fill="none" stroke="#8c8c8c" stroke-width="0.75"><path id="k52" d="M6.33,0C6.39,1.25 6.49,2.57 6.24,3.87C6,5.17 5.59,6.82 4.84,7.8C4.09,8.79 2.8,9.62 1.74,9.77C0.67,9.93 -0.61,9.3 -1.55,8.72C-2.49,8.14 -3.19,7.14 -3.9,6.28C-4.6,5.43 -5.26,4.63 -5.79,3.58C-6.32,2.54 -6.93,1.28 -7.07,0C-7.22,-1.28 -7.07,-2.9 -6.64,-4.11C-6.21,-5.32 -5.34,-6.45 -4.49,-7.25C-3.65,-8.05 -2.6,-8.62 -1.58,-8.92C-0.57,-9.22 0.61,-9.34 1.6,-9.03C2.6,-8.73 3.68,-7.98 4.39,-7.08C5.11,-6.18 5.56,-4.82 5.88,-3.64C6.21,-2.46 6.27,-1.25 6.33,0Z" vector-effect="non-scaling-stroke"/><use href="#k52" transform="scale(0.14,0.14)"/></g>
<path d="M591.1,2191.8h2.9v2.9h-2.9zM562.6,2296.1h2.9v2.9h-2.9zM519.9,2296.9h2.9v2.9h-2.9z" fill="#111"/>
<text x="489" y="2220.5" font-size="28" textLength="54.5" lengthAdjust="spacingAndGlyphs">39.6</text>
<text x="107" y="2205.4" font-size="12.5" fill="#3c3c3c">10</text>
<text x="122.1" y="2197.7" font-size="14" fill="#3c3c3c">5</text>
<text x="107" y="2233.5" font-size="12.5" fill="#3c3c3c">10</text>
<text x="122.1" y="2225.8" font-size="14" fill="#3c3c3c">4</text>
<text x="107" y="2266.9" font-size="12.5" fill="#3c3c3c">10</text>
<text x="122.1" y="2259.2" font-size="14" fill="#3c3c3c">3</text>
<text x="117" y="2307.5" font-size="14" text-anchor="middle" fill="#3c3c3c">0</text>
<text x="175" y="2354.8" font-size="14" text-anchor="middle" fill="#3c3c3c">0</text>
<text x="213.6" y="2354.5" font-size="13" fill="#3c3c3c">10</text>
<text x="229.3" y="2346.4" font-size="14.56" fill="#3c3c3c">3</text>
<text x="242.9" y="2354.5" font-size="13" fill="#3c3c3c">10</text>
<text x="258.6" y="2346.4" font-size="14.56" fill="#3c3c3c">4</text>
<text x="272.2" y="2354.5" font-size="13" fill="#3c3c3c">10</text>
<text x="287.9" y="2346.4" font-size="14.56" fill="#3c3c3c">5</text>
<text font-size="32" textLength="103" lengthAdjust="spacingAndGlyphs" transform="translate(62.8,2097) rotate(-90)">FITC-A</text>
<text font-size="32" textLength="70" lengthAdjust="spacingAndGlyphs" transform="translate(102.6,2081) rotate(-90)">::IL-6</text>
<text font-size="32" textLength="98" lengthAdjust="spacingAndGlyphs" transform="translate(62.8,2316) rotate(-90)">PE-A ::</text>
<text font-size="32" textLength="94.2" lengthAdjust="spacingAndGlyphs" transform="translate(102.6,2313.8) rotate(-90)">IL-12A</text>
<text x="-0.7" y="1882.8" font-size="44" font-weight="bold">c</text>
<text x="300.2" y="1889" font-size="32" textLength="172.4" lengthAdjust="spacingAndGlyphs">+ (MDDCs )</text>
<line x1="134.5" y1="1900" x2="646.5" y2="1900" stroke="#000" stroke-width="4" />
<text x="304" y="1933" font-size="32" textLength="188.7" lengthAdjust="spacingAndGlyphs">TIGIT<tspan dy="-11.52" font-size="19.84">+</tspan><tspan dy="11.52">  Mem.</tspan></text>
<text x="141" y="1962.6" font-size="32" textLength="142.6" lengthAdjust="spacingAndGlyphs">No B cells</text>
<text x="351" y="1972.5" font-size="32" textLength="93" lengthAdjust="spacingAndGlyphs">B cells</text>
<text x="478" y="1972.5" font-size="32" textLength="191" lengthAdjust="spacingAndGlyphs">TIGIT<tspan dy="-11.52" font-size="19.84">-</tspan><tspan dy="11.52"> B cells</tspan></text>
<text x="140.3" y="2393.4" font-size="32" textLength="249.1" lengthAdjust="spacingAndGlyphs">V 450-A :: CD11c</text>
<line x1="416.7" y1="2378" x2="630" y2="2378" stroke="#000" stroke-width="3.6" />
<polygon points="651,2378 628,2367.2 628,2388.8" fill="#000"/>
<path d="M785.6,2126.9 V2055.2 H816.1 V2126.9" fill="none" stroke="#ff0000" stroke-width="3.2"/>
<path d="M836.9,2126.9 V2114.1 H867.6 V2126.9" fill="none" stroke="#00b400" stroke-width="3.2"/>
<path d="M888,2126.9 V2053.5 H918.9 V2126.9" fill="none" stroke="#a31cf0" stroke-width="3.2"/>
<line x1="800.9" y1="2018" x2="800.9" y2="2087" stroke="#000" stroke-width="2.6" />
<line x1="792.4" y1="2018" x2="809.4" y2="2018" stroke="#000" stroke-width="2.6" />
<line x1="792.4" y1="2087" x2="809.4" y2="2087" stroke="#000" stroke-width="2.6" />
<line x1="852" y1="2105.3" x2="852" y2="2117.6" stroke="#000" stroke-width="2.6" />
<line x1="845.5" y1="2105.3" x2="858.5" y2="2105.3" stroke="#000" stroke-width="2.6" />
<line x1="845.5" y1="2117.6" x2="858.5" y2="2117.6" stroke="#000" stroke-width="2.6" />
<line x1="903.4" y1="2024" x2="903.4" y2="2078.4" stroke="#000" stroke-width="2.6" />
<line x1="894.9" y1="2024" x2="911.9" y2="2024" stroke="#000" stroke-width="2.6" />
<line x1="894.9" y1="2078.4" x2="911.9" y2="2078.4" stroke="#000" stroke-width="2.6" />
<line x1="767" y1="1976.3" x2="767" y2="2128.4" stroke="#000" stroke-width="3" />
<line x1="757.5" y1="2126.9" x2="938.8" y2="2126.9" stroke="#000" stroke-width="3" />
<line x1="757.5" y1="1977.8" x2="767" y2="1977.8" stroke="#000" stroke-width="3" />
<text x="755" y="1990.9" font-size="31" text-anchor="end">45</text>
<line x1="757.5" y1="2027" x2="767" y2="2027" stroke="#000" stroke-width="3" />
<text x="755" y="2040.1" font-size="31" text-anchor="end">30</text>
<line x1="757.5" y1="2076.9" x2="767" y2="2076.9" stroke="#000" stroke-width="3" />
<text x="755" y="2090" font-size="31" text-anchor="end">15</text>
<line x1="757.5" y1="2126.9" x2="767" y2="2126.9" stroke="#000" stroke-width="3" />
<text x="755" y="2140" font-size="31" text-anchor="end">0</text>
<line x1="800.9" y1="2126.9" x2="800.9" y2="2136.4" stroke="#000" stroke-width="3" />
<line x1="852" y1="2126.9" x2="852" y2="2136.4" stroke="#000" stroke-width="3" />
<line x1="903.4" y1="2126.9" x2="903.4" y2="2136.4" stroke="#000" stroke-width="3" />
<circle cx="800.9" cy="2015.5" r="4.7" fill="#ff0000"/>
<circle cx="800.9" cy="2031.4" r="4.7" fill="#ff0000"/>
<circle cx="800.9" cy="2073.4" r="4.7" fill="#ff0000"/>
<circle cx="800.9" cy="2090.3" r="4.7" fill="#ff0000"/>
<rect x="855.6" y="2099.4" width="8.8" height="8.8" fill="#00b400"/>
<rect x="840.6" y="2105.3" width="8.8" height="8.8" fill="#00b400"/>
<rect x="855.6" y="2110.6" width="8.8" height="8.8" fill="#00b400"/>
<rect x="840.6" y="2113.9" width="8.8" height="8.8" fill="#00b400"/>
<polygon points="903.4,2012.9 898.7,2021.4 908.1,2021.4" fill="#a31cf0"/>
<polygon points="903.4,2038.6 898.7,2047.1 908.1,2047.1" fill="#a31cf0"/>
<polygon points="903.4,2062.3 898.7,2070.8 908.1,2070.8" fill="#a31cf0"/>
<polygon points="903.4,2074.8 898.7,2083.3 908.1,2083.3" fill="#a31cf0"/>
<text x="832" y="1958.8" font-size="24.5" textLength="93" lengthAdjust="spacingAndGlyphs">P=0.017</text>
<line x1="841.4" y1="1967.8" x2="905.4" y2="1967.8" stroke="#000" stroke-width="2" />
<text x="784" y="1994" font-size="24.5" textLength="92.7" lengthAdjust="spacingAndGlyphs">P=0.044</text>
<line x1="781.5" y1="1999.3" x2="845.5" y2="1999.3" stroke="#000" stroke-width="2" />
<text font-size="32" textLength="101.5" lengthAdjust="spacingAndGlyphs" transform="translate(701.7,2093.5) rotate(-90)">% IL-6<tspan dy="-11.52" font-size="19.84">+</tspan></text>
<path d="M785.6,2368.7 V2305.9 H816.1 V2368.7" fill="none" stroke="#ff0000" stroke-width="3.2"/>
<path d="M836.9,2368.7 V2348.3 H867.6 V2368.7" fill="none" stroke="#00b400" stroke-width="3.2"/>
<path d="M888,2368.7 V2298.6 H918.9 V2368.7" fill="none" stroke="#a31cf0" stroke-width="3.2"/>
<line x1="800.9" y1="2266.6" x2="800.9" y2="2340.3" stroke="#000" stroke-width="2.6" />
<line x1="792.4" y1="2266.6" x2="809.4" y2="2266.6" stroke="#000" stroke-width="2.6" />
<line x1="792.4" y1="2340.3" x2="809.4" y2="2340.3" stroke="#000" stroke-width="2.6" />
<line x1="852" y1="2333" x2="852" y2="2357.5" stroke="#000" stroke-width="2.6" />
<line x1="843.5" y1="2333" x2="860.5" y2="2333" stroke="#000" stroke-width="2.6" />
<line x1="843.5" y1="2357.5" x2="860.5" y2="2357.5" stroke="#000" stroke-width="2.6" />
<line x1="903.4" y1="2264.4" x2="903.4" y2="2327.3" stroke="#000" stroke-width="2.6" />
<line x1="894.9" y1="2264.4" x2="911.9" y2="2264.4" stroke="#000" stroke-width="2.6" />
<line x1="894.9" y1="2327.3" x2="911.9" y2="2327.3" stroke="#000" stroke-width="2.6" />
<line x1="767" y1="2218.1" x2="767" y2="2370.2" stroke="#000" stroke-width="3" />
<line x1="757.5" y1="2368.7" x2="938.8" y2="2368.7" stroke="#000" stroke-width="3" />
<line x1="757.5" y1="2219.6" x2="767" y2="2219.6" stroke="#000" stroke-width="3" />
<text x="755" y="2232.7" font-size="31" text-anchor="end">45</text>
<line x1="757.5" y1="2269" x2="767" y2="2269" stroke="#000" stroke-width="3" />
<text x="755" y="2282.1" font-size="31" text-anchor="end">30</text>
<line x1="757.5" y1="2319.4" x2="767" y2="2319.4" stroke="#000" stroke-width="3" />
<text x="755" y="2332.5" font-size="31" text-anchor="end">15</text>
<line x1="757.5" y1="2368.7" x2="767" y2="2368.7" stroke="#000" stroke-width="3" />
<text x="755" y="2381.8" font-size="31" text-anchor="end">0</text>
<line x1="800.9" y1="2368.7" x2="800.9" y2="2378.2" stroke="#000" stroke-width="3" />
<line x1="852" y1="2368.7" x2="852" y2="2378.2" stroke="#000" stroke-width="3" />
<line x1="903.4" y1="2368.7" x2="903.4" y2="2378.2" stroke="#000" stroke-width="3" />
<circle cx="800.9" cy="2259.9" r="4.7" fill="#ff0000"/>
<circle cx="800.9" cy="2286.8" r="4.7" fill="#ff0000"/>
<circle cx="800.9" cy="2328.8" r="4.7" fill="#ff0000"/>
<circle cx="800.9" cy="2339" r="4.7" fill="#ff0000"/>
<rect x="847.6" y="2322.9" width="8.8" height="8.8" fill="#00b400"/>
<rect x="847.6" y="2343.4" width="8.8" height="8.8" fill="#00b400"/>
<rect x="861.1" y="2346.6" width="8.8" height="8.8" fill="#00b400"/>
<rect x="835.3" y="2348.6" width="8.8" height="8.8" fill="#00b400"/>
<polygon points="903.4,2255.8 898.7,2264.3 908.1,2264.3" fill="#a31cf0"/>
<polygon points="903.4,2280.6 898.7,2289.1 908.1,2289.1" fill="#a31cf0"/>
<polygon points="903.4,2301.1 898.7,2309.6 908.1,2309.6" fill="#a31cf0"/>
<polygon points="903.4,2330.2 898.7,2338.7 908.1,2338.7" fill="#a31cf0"/>
<text x="780.8" y="2205.6" font-size="24.5" textLength="92.7" lengthAdjust="spacingAndGlyphs">P=0.012</text>
<line x1="784.7" y1="2210.5" x2="848.7" y2="2210.5" stroke="#000" stroke-width="2" />
<text x="828.9" y="2237" font-size="24.5" textLength="91.6" lengthAdjust="spacingAndGlyphs">P=0.005</text>
<line x1="841.8" y1="2248.7" x2="905.8" y2="2248.7" stroke="#000" stroke-width="2" />
<text font-size="32" textLength="140" lengthAdjust="spacingAndGlyphs" transform="translate(698.5,2356) rotate(-90)">% IL-12A<tspan dy="-11.52" font-size="19.84">+</tspan></text>
<text x="1015.9" y="45" font-size="44" font-weight="bold">d</text>
<text x="1218" y="44" font-size="32" textLength="372.8" lengthAdjust="spacingAndGlyphs">+ (MDDCs + CD4<tspan dy="-11.52" font-size="19.84">+</tspan><tspan dy="11.52"> T cells)</tspan></text>
<line x1="1174" y1="58" x2="1693" y2="58" stroke="#000" stroke-width="4" />
<text x="1174" y="122.6" font-size="32" textLength="143.5" lengthAdjust="spacingAndGlyphs">No B cells</text>
<text x="1337" y="99" font-size="32" textLength="181" lengthAdjust="spacingAndGlyphs">TIGIT<tspan dy="-11.52" font-size="19.84">+</tspan><tspan dy="11.52"> Mem.</tspan></text>
<text x="1376" y="137.6" font-size="32" textLength="93.6" lengthAdjust="spacingAndGlyphs">B cells</text>
<text x="1524.7" y="125.7" font-size="32" textLength="192" lengthAdjust="spacingAndGlyphs">TIGIT<tspan dy="-11.52" font-size="19.84">-</tspan><tspan dy="11.52"> B cells</tspan></text>
<rect x="1183.6" y="140.6" width="167.4" height="161.4" fill="#fff" stroke="#5e5e5e" stroke-width="1.1" />
<line x1="1182.1" y1="146.6" x2="1182.1" y2="299" stroke="#999" stroke-width="2.2" stroke-dasharray="0.8 3.3"/>
<line x1="1186.6" y1="303.5" x2="1348" y2="303.5" stroke="#999" stroke-width="2.2" stroke-dasharray="0.8 3.3"/>
<line x1="1179.1" y1="146" x2="1183.6" y2="146" stroke="#444" stroke-width="1.3" />
<line x1="1179.1" y1="176.5" x2="1183.6" y2="176.5" stroke="#444" stroke-width="1.3" />
<line x1="1179.1" y1="206" x2="1183.6" y2="206" stroke="#444" stroke-width="1.3" />
<line x1="1179.1" y1="237" x2="1183.6" y2="237" stroke="#444" stroke-width="1.3" />
<line x1="1179.1" y1="267" x2="1183.6" y2="267" stroke="#444" stroke-width="1.3" />
<line x1="1179.1" y1="299" x2="1183.6" y2="299" stroke="#444" stroke-width="1.3" />
<line x1="1224.6" y1="302" x2="1224.6" y2="306.5" stroke="#444" stroke-width="1.3" />
<line x1="1293.6" y1="302" x2="1293.6" y2="306.5" stroke="#444" stroke-width="1.3" />
<line x1="1334.6" y1="302" x2="1334.6" y2="306.5" stroke="#444" stroke-width="1.3" />
<rect x="1220.1" y="302.8" width="9" height="2.8" fill="#4a4a4a"/>
<clipPath id="hc0"><rect x="1184.6" y="140.6" width="165.4" height="161.4"/></clipPath>
<g clip-path="url(#hc0)">
<path d="M1201.6,300.5 L1201.6,300.1 L1202.1,300 L1202.6,300 L1203.1,299.9 L1203.6,299.8 L1204.1,299.7 L1204.6,299.6 L1205.1,299.5 L1205.6,299.4 L1206.1,299.2 L1206.6,299 L1207.1,298.8 L1207.6,298.5 L1208.1,298.2 L1208.6,297.8 L1209.1,297.4 L1209.6,296.9 L1210.1,296.3 L1210.6,295.6 L1211.1,294.8 L1211.6,293.9 L1212.1,292.9 L1212.6,291.7 L1213.1,290.3 L1213.6,288.8 L1214.1,287.1 L1214.6,285.2 L1215.1,283.1 L1215.6,280.8 L1216.1,278.2 L1216.6,275.4 L1217.1,272.3 L1217.6,269 L1218.1,265.5 L1218.6,261.7 L1219.1,257.7 L1219.7,253.5 L1220.2,249 L1220.7,244.4 L1221.2,239.6 L1221.7,234.7 L1222.2,229.7 L1222.7,224.7 L1223.2,219.6 L1223.7,214.5 L1224.2,209.6 L1224.7,204.7 L1225.2,199.9 L1225.7,195.4 L1226.2,191.1 L1226.7,187 L1227.2,183.3 L1227.7,179.8 L1228.2,176.7 L1228.7,173.9 L1229.2,171.5 L1229.7,171.4 L1230.2,173.2 L1230.7,175.3 L1231.2,177.6 L1231.7,180.1 L1232.2,182.9 L1232.7,185.8 L1233.2,189 L1233.7,192.4 L1234.2,195.9 L1234.7,199.6 L1235.2,203.4 L1235.7,207.3 L1236.2,211.3 L1236.7,215.3 L1237.2,219.4 L1237.7,223.5 L1238.2,227.5 L1238.7,231.5 L1239.2,235.4 L1239.7,239.2 L1240.2,242.9 L1240.7,246.6 L1241.2,250.1 L1241.7,253.4 L1242.2,256.6 L1242.7,259.7 L1243.2,262.6 L1243.7,265.3 L1244.2,267.9 L1244.7,270.3 L1245.2,272.6 L1245.7,274.7 L1246.2,276.6 L1246.7,278.5 L1247.2,280.1 L1247.7,281.7 L1248.2,283.1 L1248.7,284.4 L1249.2,285.6 L1249.7,286.7 L1250.2,287.7 L1250.7,288.6 L1251.2,289.4 L1251.7,290.2 L1252.2,290.9 L1252.7,291.5 L1253.2,292.1 L1253.7,292.6 L1254.2,293 L1254.8,293.4 L1255.3,293.8 L1255.8,294.1 L1256.3,294.4 L1256.8,294.7 L1257.3,295 L1257.8,295.2 L1258.3,295.4 L1258.8,295.5 L1259.3,295.7 L1259.8,295.8 L1260.3,295.9 L1260.8,296 L1261.3,296.1 L1261.8,296.2 L1262.3,296.3 L1262.8,296.3 L1263.3,296.4 L1263.8,296.4 L1264.3,296.5 L1264.8,296.5 L1265.3,296.5 L1265.8,296.5 L1266.3,296.6 L1266.8,296.6 L1267.3,296.6 L1267.8,296.6 L1268.3,296.6 L1268.8,296.7 L1269.3,296.7 L1269.8,296.7 L1270.3,296.7 L1270.8,296.8 L1271.3,296.8 L1271.8,296.8 L1272.3,296.9 L1272.8,296.9 L1273.3,296.9 L1273.8,297 L1274.3,297 L1274.8,297.1 L1275.3,297.1 L1275.8,297.2 L1276.3,297.2 L1276.8,297.3 L1277.3,297.3 L1277.8,297.3 L1278.3,297.4 L1278.8,297.4 L1279.3,297.4 L1279.8,297.4 L1280.3,297.4 L1280.8,297.4 L1281.3,297.4 L1281.8,297.4 L1282.3,297.4 L1282.8,297.3 L1283.3,297.2 L1283.8,297.2 L1284.3,297.1 L1284.8,297 L1285.3,296.9 L1285.8,296.7 L1286.3,296.6 L1286.8,296.4 L1287.3,296.3 L1287.8,296.1 L1288.3,295.9 L1288.8,295.7 L1289.3,295.5 L1289.8,295.3 L1290.4,295.1 L1290.9,294.8 L1291.4,294.6 L1291.9,294.3 L1292.4,294.1 L1292.9,293.7 L1293.4,293.4 L1293.9,293 L1294.4,292.6 L1294.9,292 L1295.4,291.4 L1295.9,290.7 L1296.4,289.9 L1296.9,288.9 L1297.4,287.8 L1297.9,286.4 L1298.4,284.9 L1298.9,283.2 L1299.4,281.2 L1299.9,278.9 L1300.4,276.4 L1300.9,273.7 L1301.4,270.7 L1301.9,267.4 L1302.4,264 L1302.9,260.3 L1303.4,256.5 L1303.9,252.5 L1304.4,248.5 L1304.9,244.4 L1305.4,240.4 L1305.9,236.5 L1306.4,232.7 L1306.9,229.2 L1307.4,225.9 L1307.9,222.9 L1308.4,220.3 L1308.9,218 L1309.4,216.1 L1309.9,216.5 L1310.4,218.5 L1310.9,220.8 L1311.4,223.5 L1311.9,226.4 L1312.4,229.6 L1312.9,233.1 L1313.4,236.7 L1313.9,240.5 L1314.4,244.4 L1314.9,248.4 L1315.4,252.4 L1315.9,256.3 L1316.4,260.2 L1316.9,264 L1317.4,267.6 L1317.9,271 L1318.4,274.2 L1318.9,277.3 L1319.4,280.1 L1319.9,282.6 L1320.4,284.9 L1320.9,287 L1321.4,288.9 L1321.9,290.6 L1322.4,292.1 L1322.9,293.3 L1323.4,294.4 L1323.9,295.4 L1324.4,296.2 L1324.9,296.9 L1325.5,297.5 L1326,298 L1326.5,298.4 L1327,298.8 L1327.5,299.1 L1328,299.3 L1328.5,299.5 L1329,299.6 L1329.5,299.8 L1330,299.9 L1330.5,300 L1331,300 L1331.5,300.1 L1332,300.2 L1332.5,300.2 L1333,300.2 L1333.5,300.3 L1334,300.3 L1334.5,300.3 L1335,300.3 L1335.5,300.3 L1336,300.4 L1336.5,300.4 L1337,300.4 L1337.5,300.4 L1338,300.4 L1338.5,300.4 L1339,300.4 L1339.5,300.4 L1340,300.4 L1340.5,300.4 L1341,300.4 L1341.5,300.5 L1342,300.5 L1342.5,300.5 L1343,300.5 L1343,300.5 Z" fill="#8c8c8c" stroke="#4a4a4a" stroke-width="1.3" stroke-linejoin="round"/>
</g>
<line x1="1183.6" y1="264" x2="1292.5" y2="264" stroke="#3a3a3a" stroke-width="1.3" />
<line x1="1292.5" y1="260.5" x2="1292.5" y2="267.5" stroke="#3a3a3a" stroke-width="1.3" />
<line x1="1292.5" y1="272.6" x2="1351" y2="272.6" stroke="#3a3a3a" stroke-width="1.3" />
<line x1="1292.5" y1="269.5" x2="1292.5" y2="276" stroke="#3a3a3a" stroke-width="1.3" />
<text x="1189.6" y="167.5" font-size="28" textLength="55.1" lengthAdjust="spacingAndGlyphs">74.4</text>
<text x="1286.6" y="167.5" font-size="28" textLength="56.4" lengthAdjust="spacingAndGlyphs">26.6</text>
<rect x="1358" y="140.6" width="168" height="161.4" fill="#fff" stroke="#5e5e5e" stroke-width="1.1" />
<line x1="1356.5" y1="146.6" x2="1356.5" y2="299" stroke="#999" stroke-width="2.2" stroke-dasharray="0.8 3.3"/>
<line x1="1361" y1="303.5" x2="1523" y2="303.5" stroke="#999" stroke-width="2.2" stroke-dasharray="0.8 3.3"/>
<line x1="1353.5" y1="146" x2="1358" y2="146" stroke="#444" stroke-width="1.3" />
<line x1="1353.5" y1="176.5" x2="1358" y2="176.5" stroke="#444" stroke-width="1.3" />
<line x1="1353.5" y1="206" x2="1358" y2="206" stroke="#444" stroke-width="1.3" />
<line x1="1353.5" y1="237" x2="1358" y2="237" stroke="#444" stroke-width="1.3" />
<line x1="1353.5" y1="267" x2="1358" y2="267" stroke="#444" stroke-width="1.3" />
<line x1="1353.5" y1="299" x2="1358" y2="299" stroke="#444" stroke-width="1.3" />
<line x1="1399" y1="302" x2="1399" y2="306.5" stroke="#444" stroke-width="1.3" />
<line x1="1468" y1="302" x2="1468" y2="306.5" stroke="#444" stroke-width="1.3" />
<line x1="1509" y1="302" x2="1509" y2="306.5" stroke="#444" stroke-width="1.3" />
<rect x="1394.5" y="302.8" width="9" height="2.8" fill="#4a4a4a"/>
<clipPath id="hc1"><rect x="1359" y="140.6" width="166" height="161.4"/></clipPath>
<g clip-path="url(#hc1)">
<path d="M1376,300.5 L1376,300.5 L1376.5,300.5 L1377,300.5 L1377.5,300.5 L1378,300.5 L1378.5,300.5 L1379,300.5 L1379.5,300.5 L1380,300.5 L1380.5,300.5 L1381,300.5 L1381.5,300.5 L1382,300.5 L1382.5,300.5 L1383,300.5 L1383.5,300.5 L1384,300.5 L1384.5,300.5 L1385,300.5 L1385.5,300.5 L1386,300.5 L1386.5,300.5 L1387,300.5 L1387.5,300.5 L1388,300.5 L1388.5,300.5 L1389,300.5 L1389.5,300.4 L1390,300.4 L1390.5,300.4 L1391,300.4 L1391.5,300.4 L1392,300.4 L1392.5,300.3 L1393,300.3 L1393.5,300.3 L1394,300.2 L1394.5,300.1 L1395,299.9 L1395.5,299.8 L1396,299.5 L1396.5,299.2 L1397,298.7 L1397.5,298.1 L1398,297.3 L1398.5,296.4 L1399,295.1 L1399.5,293.7 L1400,291.9 L1400.5,289.9 L1401,287.6 L1401.5,285.1 L1402,282.4 L1402.5,279.5 L1403,276.6 L1403.5,273.8 L1404,271.1 L1404.5,268.6 L1405,266.4 L1405.5,264.6 L1406,263.2 L1406.5,264 L1407,265 L1407.5,266.2 L1408,267.5 L1408.5,269.1 L1409,270.7 L1409.5,272.5 L1410,274.3 L1410.5,276.1 L1411,277.9 L1411.5,279.7 L1412,281.5 L1412.5,283.1 L1413,284.6 L1413.5,286.1 L1414,287.3 L1414.5,288.5 L1415,289.5 L1415.5,290.3 L1416,291.1 L1416.5,291.7 L1417,292.2 L1417.5,292.7 L1418,293 L1418.5,293.3 L1419,293.6 L1419.5,293.8 L1420,294 L1420.5,294.1 L1421,294.3 L1421.5,294.4 L1422,294.6 L1422.5,294.7 L1423,294.9 L1423.5,295 L1424,295.2 L1424.5,295.4 L1425,295.6 L1425.5,295.8 L1426,296 L1426.5,296.2 L1427,296.4 L1427.5,296.6 L1428,296.7 L1428.5,296.9 L1429,297.1 L1429.5,297.3 L1430,297.5 L1430.5,297.6 L1431,297.8 L1431.5,297.9 L1432,298 L1432.5,298.1 L1433,298.2 L1433.5,298.3 L1434,298.4 L1434.5,298.5 L1435,298.6 L1435.5,298.6 L1436,298.7 L1436.5,298.7 L1437,298.8 L1437.5,298.8 L1438,298.8 L1438.5,298.8 L1439,298.9 L1439.5,298.9 L1440,298.9 L1440.5,298.9 L1441,298.9 L1441.5,299 L1442,299 L1442.5,299 L1443,299 L1443.5,299 L1444,299 L1444.5,299 L1445,299.1 L1445.5,299.1 L1446,299.1 L1446.5,299.1 L1447,299.1 L1447.5,299.1 L1448,299.2 L1448.5,299.2 L1449,299.2 L1449.5,299.2 L1450,299.2 L1450.5,299.2 L1451,299.3 L1451.5,299.3 L1452,299.3 L1452.5,299.3 L1453,299.3 L1453.5,299.3 L1454,299.3 L1454.5,299.3 L1455,299.2 L1455.5,299.2 L1456,299.2 L1456.5,299.1 L1457,299.1 L1457.5,299.1 L1458,299 L1458.5,298.9 L1459,298.8 L1459.5,298.8 L1460,298.7 L1460.5,298.6 L1461,298.5 L1461.5,298.3 L1462,298.2 L1462.5,298.1 L1463,298 L1463.5,297.8 L1464,297.7 L1464.5,297.5 L1465,297.4 L1465.5,297.2 L1466,297 L1466.5,296.9 L1467,296.7 L1467.5,296.5 L1468,296.2 L1468.5,296 L1469,295.7 L1469.5,295.3 L1470,294.9 L1470.5,294.4 L1471,293.8 L1471.5,293 L1472,292.1 L1472.5,291 L1473,289.7 L1473.5,288.2 L1474,286.3 L1474.5,284.2 L1475,281.6 L1475.5,278.7 L1476,275.4 L1476.5,271.7 L1477,267.5 L1477.5,262.9 L1478,257.9 L1478.5,252.4 L1479,246.6 L1479.5,240.4 L1480,234.1 L1480.5,227.5 L1481,220.8 L1481.5,214.1 L1482,207.6 L1482.5,201.2 L1483,195.1 L1483.5,189.4 L1484,184.2 L1484.5,179.6 L1485,175.5 L1485.5,172.1 L1486,170.3 L1486.5,173 L1487,176.3 L1487.5,180.1 L1488,184.4 L1488.5,189.2 L1489,194.3 L1489.5,199.7 L1490,205.5 L1490.5,211.4 L1491,217.5 L1491.5,223.6 L1492,229.7 L1492.5,235.7 L1493,241.5 L1493.5,247.2 L1494,252.6 L1494.5,257.7 L1495,262.5 L1495.5,267 L1496,271.1 L1496.5,274.8 L1497,278.2 L1497.5,281.3 L1498,284 L1498.5,286.4 L1499,288.5 L1499.5,290.3 L1500,291.9 L1500.5,293.3 L1501,294.5 L1501.5,295.5 L1502,296.3 L1502.5,297 L1503,297.6 L1503.5,298.1 L1504,298.5 L1504.5,298.8 L1505,299.1 L1505.5,299.3 L1506,299.5 L1506.5,299.6 L1507,299.7 L1507.5,299.8 L1508,299.9 L1508.5,300 L1509,300.1 L1509.5,300.1 L1510,300.2 L1510.5,300.2 L1511,300.2 L1511.5,300.2 L1512,300.3 L1512.5,300.3 L1513,300.3 L1513.5,300.3 L1514,300.3 L1514.5,300.4 L1515,300.4 L1515.5,300.4 L1516,300.4 L1516.5,300.4 L1517,300.4 L1517.5,300.4 L1518,300.4 L1518,300.5 Z" fill="#8c8c8c" stroke="#4a4a4a" stroke-width="1.3" stroke-linejoin="round"/>
</g>
<line x1="1358" y1="264" x2="1466.7" y2="264" stroke="#3a3a3a" stroke-width="1.3" />
<line x1="1466.7" y1="260.5" x2="1466.7" y2="267.5" stroke="#3a3a3a" stroke-width="1.3" />
<line x1="1466.7" y1="272.6" x2="1526" y2="272.6" stroke="#3a3a3a" stroke-width="1.3" />
<line x1="1466.7" y1="269.5" x2="1466.7" y2="276" stroke="#3a3a3a" stroke-width="1.3" />
<text x="1369.5" y="167.5" font-size="28" textLength="55.1" lengthAdjust="spacingAndGlyphs">34.3</text>
<text x="1467.4" y="167.5" font-size="28" textLength="55.1" lengthAdjust="spacingAndGlyphs">65.7</text>
<rect x="1533" y="140.6" width="167.5" height="161.4" fill="#fff" stroke="#5e5e5e" stroke-width="1.1" />
<line x1="1531.5" y1="146.6" x2="1531.5" y2="299" stroke="#999" stroke-width="2.2" stroke-dasharray="0.8 3.3"/>
<line x1="1536" y1="303.5" x2="1697.5" y2="303.5" stroke="#999" stroke-width="2.2" stroke-dasharray="0.8 3.3"/>
<line x1="1528.5" y1="146" x2="1533" y2="146" stroke="#444" stroke-width="1.3" />
<line x1="1528.5" y1="176.5" x2="1533" y2="176.5" stroke="#444" stroke-width="1.3" />
<line x1="1528.5" y1="206" x2="1533" y2="206" stroke="#444" stroke-width="1.3" />
<line x1="1528.5" y1="237" x2="1533" y2="237" stroke="#444" stroke-width="1.3" />
<line x1="1528.5" y1="267" x2="1533" y2="267" stroke="#444" stroke-width="1.3" />
<line x1="1528.5" y1="299" x2="1533" y2="299" stroke="#444" stroke-width="1.3" />
<line x1="1574" y1="302" x2="1574" y2="306.5" stroke="#444" stroke-width="1.3" />
<line x1="1643" y1="302" x2="1643" y2="306.5" stroke="#444" stroke-width="1.3" />
<line x1="1684" y1="302" x2="1684" y2="306.5" stroke="#444" stroke-width="1.3" />
<rect x="1569.5" y="302.8" width="9" height="2.8" fill="#4a4a4a"/>
<clipPath id="hc2"><rect x="1534" y="140.6" width="165.5" height="161.4"/></clipPath>
<g clip-path="url(#hc2)">
<path d="M1551,300.5 L1551,300.5 L1551.5,300.5 L1552,300.5 L1552.5,300.5 L1553,300.5 L1553.5,300.4 L1554,300.4 L1554.5,300.4 L1555,300.4 L1555.5,300.4 L1556,300.4 L1556.5,300.4 L1557,300.4 L1557.5,300.4 L1558,300.4 L1558.5,300.4 L1559,300.4 L1559.5,300.3 L1560,300.3 L1560.5,300.3 L1561,300.3 L1561.5,300.3 L1562,300.3 L1562.5,300.2 L1563,300.2 L1563.5,300.2 L1564,300.1 L1564.5,300.1 L1565,300 L1565.5,299.9 L1566,299.9 L1566.5,299.8 L1567,299.6 L1567.5,299.5 L1568,299.3 L1568.5,299.1 L1569,298.9 L1569.5,298.6 L1570,298.3 L1570.5,297.9 L1571,297.4 L1571.5,296.8 L1572,296.2 L1572.5,295.4 L1573,294.5 L1573.5,293.4 L1574,292.2 L1574.5,290.9 L1575,289.3 L1575.5,287.6 L1576,285.6 L1576.5,283.4 L1577,281 L1577.5,278.3 L1578,275.4 L1578.5,272.2 L1579,268.8 L1579.5,265.2 L1580,261.4 L1580.5,257.3 L1581,253.1 L1581.5,248.8 L1582,244.3 L1582.5,239.8 L1583,235.2 L1583.5,230.7 L1584,226.2 L1584.5,221.9 L1585,217.7 L1585.5,213.7 L1586,209.9 L1586.5,206.4 L1587,203.2 L1587.5,200.4 L1588,197.8 L1588.5,195.7 L1589,195.5 L1589.5,196.7 L1590,197.9 L1590.5,199.3 L1591,200.9 L1591.5,202.5 L1592,204.3 L1592.5,206.1 L1593,208.1 L1593.5,210.2 L1594,212.4 L1594.5,214.6 L1595,217 L1595.5,219.3 L1596,221.8 L1596.5,224.3 L1597,226.8 L1597.5,229.4 L1598,231.9 L1598.5,234.5 L1599,237.1 L1599.5,239.6 L1600,242.2 L1600.5,244.7 L1601,247.2 L1601.5,249.6 L1602,252 L1602.5,254.3 L1603,256.6 L1603.5,258.8 L1604,261 L1604.5,263.1 L1605,265.1 L1605.5,267 L1606,268.9 L1606.5,270.7 L1607,272.4 L1607.5,274 L1608,275.5 L1608.5,277 L1609,278.4 L1609.5,279.7 L1610,281 L1610.5,282.2 L1611,283.3 L1611.5,284.3 L1612,285.3 L1612.5,286.2 L1613,287 L1613.5,287.8 L1614,288.6 L1614.5,289.2 L1615,289.9 L1615.5,290.4 L1616,291 L1616.5,291.5 L1617,291.9 L1617.5,292.3 L1618,292.7 L1618.5,293 L1619,293.3 L1619.5,293.6 L1620,293.9 L1620.5,294.1 L1621,294.3 L1621.5,294.5 L1622,294.7 L1622.5,294.9 L1623,295 L1623.5,295.1 L1624,295.3 L1624.5,295.4 L1625,295.4 L1625.5,295.5 L1626,295.6 L1626.5,295.6 L1627,295.6 L1627.5,295.6 L1628,295.6 L1628.5,295.6 L1629,295.5 L1629.5,295.5 L1630,295.4 L1630.5,295.3 L1631,295.1 L1631.5,295 L1632,294.8 L1632.5,294.7 L1633,294.5 L1633.5,294.3 L1634,294.1 L1634.5,293.9 L1635,293.7 L1635.5,293.5 L1636,293.3 L1636.5,293.1 L1637,292.9 L1637.5,292.8 L1638,292.6 L1638.5,292.5 L1639,292.5 L1639.5,292.4 L1640,292.4 L1640.5,292.3 L1641,292.3 L1641.5,292.3 L1642,292.2 L1642.5,292.1 L1643,291.9 L1643.5,291.7 L1644,291.4 L1644.5,290.9 L1645,290.2 L1645.5,289.3 L1646,288.2 L1646.5,286.8 L1647,285 L1647.5,282.9 L1648,280.3 L1648.5,277.2 L1649,273.7 L1649.5,269.6 L1650,265 L1650.5,259.8 L1651,254.2 L1651.5,248 L1652,241.4 L1652.5,234.4 L1653,227.1 L1653.5,219.5 L1654,211.9 L1654.5,204.3 L1655,196.9 L1655.5,189.7 L1656,182.9 L1656.5,176.7 L1657,171 L1657.5,166 L1658,161.7 L1658.5,158.2 L1659,160 L1659.5,163.5 L1660,167.6 L1660.5,172.3 L1661,177.5 L1661.5,183.2 L1662,189.3 L1662.5,195.7 L1663,202.4 L1663.5,209.2 L1664,216.2 L1664.5,223.1 L1665,229.9 L1665.5,236.5 L1666,242.8 L1666.5,248.9 L1667,254.7 L1667.5,260 L1668,265 L1668.5,269.5 L1669,273.6 L1669.5,277.3 L1670,280.7 L1670.5,283.6 L1671,286.2 L1671.5,288.4 L1672,290.3 L1672.5,292 L1673,293.4 L1673.5,294.6 L1674,295.6 L1674.5,296.4 L1675,297.1 L1675.5,297.7 L1676,298.2 L1676.5,298.6 L1677,298.9 L1677.5,299.1 L1678,299.4 L1678.5,299.5 L1679,299.7 L1679.5,299.8 L1680,299.9 L1680.5,300 L1681,300 L1681.5,300.1 L1682,300.1 L1682.5,300.2 L1683,300.2 L1683.5,300.2 L1684,300.3 L1684.5,300.3 L1685,300.3 L1685.5,300.3 L1686,300.3 L1686.5,300.4 L1687,300.4 L1687.5,300.4 L1688,300.4 L1688.5,300.4 L1689,300.4 L1689.5,300.4 L1690,300.4 L1690.5,300.4 L1691,300.4 L1691.5,300.4 L1692,300.4 L1692.5,300.5 L1692.5,300.5 Z" fill="#8c8c8c" stroke="#4a4a4a" stroke-width="1.3" stroke-linejoin="round"/>
</g>
<line x1="1533" y1="264" x2="1642" y2="264" stroke="#3a3a3a" stroke-width="1.3" />
<line x1="1642" y1="260.5" x2="1642" y2="267.5" stroke="#3a3a3a" stroke-width="1.3" />
<line x1="1642" y1="272.6" x2="1700.5" y2="272.6" stroke="#3a3a3a" stroke-width="1.3" />
<line x1="1642" y1="269.5" x2="1642" y2="276" stroke="#3a3a3a" stroke-width="1.3" />
<text x="1542.3" y="167.5" font-size="28" textLength="55.1" lengthAdjust="spacingAndGlyphs">54.1</text>
<text x="1623.9" y="167.5" font-size="28" textLength="56.1" lengthAdjust="spacingAndGlyphs">35.9</text>
<text x="1177" y="155.6" font-size="14" text-anchor="end" fill="#3c3c3c">100</text>
<text x="1177" y="186.4" font-size="14" text-anchor="end" fill="#3c3c3c">80</text>
<text x="1177" y="215.9" font-size="14" text-anchor="end" fill="#3c3c3c">60</text>
<text x="1177" y="246.7" font-size="14" text-anchor="end" fill="#3c3c3c">40</text>
<text x="1177" y="276.9" font-size="14" text-anchor="end" fill="#3c3c3c">20</text>
<text x="1177" y="301.7" font-size="14" text-anchor="end" fill="#3c3c3c">0</text>
<text x="1224.4" y="328.5" font-size="14" text-anchor="middle" fill="#3c3c3c">0</text>
<text x="1286.5" y="328" font-size="12.5" fill="#3c3c3c">10</text>
<text x="1301.6" y="320.2" font-size="14" fill="#3c3c3c">4</text>
<text x="1328" y="328" font-size="12.5" fill="#3c3c3c">10</text>
<text x="1343.1" y="320.2" font-size="14" fill="#3c3c3c">5</text>
<text x="1185.4" y="359.9" font-size="32" textLength="83" lengthAdjust="spacingAndGlyphs">CFSE</text>
<line x1="1268" y1="345.3" x2="1659.2" y2="345.3" stroke="#000" stroke-width="3.6" />
<polygon points="1679.2,345.3 1657.2,334.7 1657.2,355.9" fill="#000"/>
<text font-size="32" textLength="176" lengthAdjust="spacingAndGlyphs" transform="translate(1091.7,306) rotate(-90)">CD4<tspan dy="-11.52" font-size="19.84">+</tspan><tspan dy="11.52"> T cells</tspan></text>
<text font-size="32" textLength="262.5" lengthAdjust="spacingAndGlyphs" transform="translate(1127.9,361.5) rotate(-90)">Normalized counts</text>
<path d="M1420.3,586.5 V583.6 H1455 V586.5" fill="none" stroke="#ff0000" stroke-width="3.2"/>
<path d="M1479.8,586.5 V505 H1516.8 V586.5" fill="none" stroke="#00b400" stroke-width="3.2"/>
<path d="M1540.5,586.5 V562.6 H1577.2 V586.5" fill="none" stroke="#a31cf0" stroke-width="3.2"/>
<line x1="1437.6" y1="578.9" x2="1437.6" y2="585" stroke="#000" stroke-width="2.6" />
<line x1="1429.1" y1="578.9" x2="1446.1" y2="578.9" stroke="#000" stroke-width="2.6" />
<line x1="1498.3" y1="467.4" x2="1498.3" y2="537.2" stroke="#000" stroke-width="2.6" />
<line x1="1488.8" y1="467.4" x2="1507.8" y2="467.4" stroke="#000" stroke-width="2.6" />
<line x1="1488.8" y1="537.2" x2="1507.8" y2="537.2" stroke="#000" stroke-width="2.6" />
<line x1="1559" y1="523" x2="1559" y2="594" stroke="#000" stroke-width="2.6" />
<line x1="1549.5" y1="523" x2="1568.5" y2="523" stroke="#000" stroke-width="2.6" />
<line x1="1397.8" y1="428.7" x2="1397.8" y2="588" stroke="#000" stroke-width="3" />
<line x1="1388.3" y1="586.5" x2="1600.8" y2="586.5" stroke="#000" stroke-width="3" />
<line x1="1388.3" y1="430.2" x2="1397.8" y2="430.2" stroke="#000" stroke-width="3" />
<text x="1383.5" y="441.3" font-size="31" text-anchor="end">90</text>
<line x1="1388.3" y1="482.2" x2="1397.8" y2="482.2" stroke="#000" stroke-width="3" />
<text x="1383.5" y="493.3" font-size="31" text-anchor="end">60</text>
<line x1="1388.3" y1="534.5" x2="1397.8" y2="534.5" stroke="#000" stroke-width="3" />
<text x="1383.5" y="545.6" font-size="31" text-anchor="end">30</text>
<line x1="1388.3" y1="586.5" x2="1397.8" y2="586.5" stroke="#000" stroke-width="3" />
<text x="1383.5" y="597.6" font-size="31" text-anchor="end">0</text>
<line x1="1437.6" y1="586.5" x2="1437.6" y2="596" stroke="#000" stroke-width="3" />
<line x1="1498.3" y1="586.5" x2="1498.3" y2="596" stroke="#000" stroke-width="3" />
<line x1="1559" y1="586.5" x2="1559" y2="596" stroke="#000" stroke-width="3" />
<circle cx="1437.6" cy="575.5" r="4.7" fill="#ff0000"/>
<circle cx="1422.5" cy="586.5" r="4.7" fill="#ff0000"/>
<circle cx="1433" cy="586.5" r="4.7" fill="#ff0000"/>
<circle cx="1443.3" cy="586.5" r="4.7" fill="#ff0000"/>
<circle cx="1452.8" cy="586.5" r="4.7" fill="#ff0000"/>
<rect x="1493.9" y="449.3" width="8.8" height="8.8" fill="#00b400"/>
<rect x="1493.9" y="477.8" width="8.8" height="8.8" fill="#00b400"/>
<rect x="1483.6" y="510" width="8.8" height="8.8" fill="#00b400"/>
<rect x="1503.4" y="516.8" width="8.8" height="8.8" fill="#00b400"/>
<rect x="1493.9" y="537.6" width="8.8" height="8.8" fill="#00b400"/>
<polygon points="1559,494.9 1554.3,503.4 1563.7,503.4" fill="#a31cf0"/>
<polygon points="1559,548.8 1554.3,557.3 1563.7,557.3" fill="#a31cf0"/>
<polygon points="1559,574.6 1554.3,583.1 1563.7,583.1" fill="#a31cf0"/>
<polygon points="1543,582.2 1538.3,590.7 1547.7,590.7" fill="#a31cf0"/>
<polygon points="1575,578.3 1570.3,586.8 1579.7,586.8" fill="#a31cf0"/>
<text x="1472.5" y="382" font-size="24.5" textLength="78.9" lengthAdjust="spacingAndGlyphs">P=0.22</text>
<line x1="1417.9" y1="394.9" x2="1567.4" y2="394.9" stroke="#000" stroke-width="2" />
<text x="1388.3" y="421.5" font-size="24.5" textLength="107" lengthAdjust="spacingAndGlyphs">P=0.0008</text>
<line x1="1417.9" y1="430.2" x2="1487" y2="430.2" stroke="#000" stroke-width="2" />
<text x="1510.5" y="421.5" font-size="24.5" textLength="92.2" lengthAdjust="spacingAndGlyphs">P=0.007</text>
<line x1="1504" y1="430.2" x2="1574.2" y2="430.2" stroke="#000" stroke-width="2" />
<text font-size="32" textLength="212.4" lengthAdjust="spacingAndGlyphs" transform="translate(1326.9,599) rotate(-90)">% Suppression</text>
<text x="1246" y="632.4" font-size="32" textLength="110" lengthAdjust="spacingAndGlyphs">MDDCs</text>
<text x="1217.6" y="674" font-size="32" textLength="176.4" lengthAdjust="spacingAndGlyphs">CD4<tspan dy="-11.52" font-size="19.84">+</tspan><tspan dy="11.52"> T cells</tspan></text>
<text x="1134" y="711" font-size="32" textLength="284.7" lengthAdjust="spacingAndGlyphs">TIGIT<tspan dy="-11.52" font-size="19.84">+</tspan><tspan dy="11.52"> Mem. B cells</tspan></text>
<text x="1217.6" y="745" font-size="32" textLength="189.7" lengthAdjust="spacingAndGlyphs">TIGIT<tspan dy="-11.52" font-size="19.84">-</tspan><tspan dy="11.52"> B cells</tspan></text>
<text x="1429.3" y="633.7" font-size="32" text-anchor="middle">+</text>
<text x="1492.6" y="633.7" font-size="32" text-anchor="middle">+</text>
<text x="1556.4" y="633.7" font-size="32" text-anchor="middle">+</text>
<text x="1430.8" y="674.7" font-size="32" text-anchor="middle">+</text>
<text x="1494.5" y="674.7" font-size="32" text-anchor="middle">+</text>
<text x="1558.3" y="674.7" font-size="32" text-anchor="middle">+</text>
<text x="1434.6" y="711.5" font-size="32" text-anchor="middle">-</text>
<text x="1494.5" y="711.5" font-size="32" text-anchor="middle">+</text>
<text x="1562.8" y="711.5" font-size="32" text-anchor="middle">-</text>
<text x="1433" y="746" font-size="32" text-anchor="middle">-</text>
<text x="1496.4" y="746" font-size="32" text-anchor="middle">-</text>
<text x="1565.9" y="746" font-size="32" text-anchor="middle">+</text>
<text x="1025.2" y="809" font-size="44" font-weight="bold">e</text>
<text x="1241.6" y="832.8" font-size="32" textLength="377.9" lengthAdjust="spacingAndGlyphs">+ (MDDCs + CD4<tspan dy="-11.52" font-size="19.84">+</tspan><tspan dy="11.52"> T cells)</tspan></text>
<line x1="1168.9" y1="842.9" x2="1665.8" y2="842.9" stroke="#000" stroke-width="4" />
<text x="1335" y="873.8" font-size="32" textLength="172" lengthAdjust="spacingAndGlyphs">TIGIT<tspan dy="-11.52" font-size="19.84">+</tspan><tspan dy="11.52"> Mem</tspan></text>
<text x="1177.7" y="900.2" font-size="32" textLength="143.3" lengthAdjust="spacingAndGlyphs">No B cells</text>
<text x="1373.5" y="912" font-size="32" textLength="93" lengthAdjust="spacingAndGlyphs">B cells</text>
<text x="1522.5" y="900.2" font-size="32" textLength="194.2" lengthAdjust="spacingAndGlyphs">TIGIT<tspan dy="-11.52" font-size="19.84">-</tspan><tspan dy="11.52"> B cells</tspan></text>
<rect x="1171.6" y="919" width="172.7" height="168.5" fill="#fff" stroke="#5e5e5e" stroke-width="1.1" />
<line x1="1170.1" y1="925" x2="1170.1" y2="1084.5" stroke="#999" stroke-width="2.2" stroke-dasharray="0.8 3.3"/>
<line x1="1174.6" y1="1089" x2="1341.3" y2="1089" stroke="#999" stroke-width="2.2" stroke-dasharray="0.8 3.3"/>
<line x1="1167.1" y1="933" x2="1171.6" y2="933" stroke="#444" stroke-width="1.3" />
<line x1="1167.1" y1="965" x2="1171.6" y2="965" stroke="#444" stroke-width="1.3" />
<line x1="1167.1" y1="1001.5" x2="1171.6" y2="1001.5" stroke="#444" stroke-width="1.3" />
<line x1="1167.1" y1="1054.5" x2="1171.6" y2="1054.5" stroke="#444" stroke-width="1.3" />
<line x1="1197.6" y1="1087.5" x2="1197.6" y2="1092" stroke="#444" stroke-width="1.3" />
<line x1="1257.6" y1="1087.5" x2="1257.6" y2="1092" stroke="#444" stroke-width="1.3" />
<line x1="1288.6" y1="1087.5" x2="1288.6" y2="1092" stroke="#444" stroke-width="1.3" />
<line x1="1327.6" y1="1087.5" x2="1327.6" y2="1092" stroke="#444" stroke-width="1.3" />
<rect x="1167.8" y="1050.5" width="3" height="8" fill="#4a4a4a"/>
<rect x="1193.1" y="1088.3" width="9" height="2.8" fill="#4a4a4a"/>
<rect x="1237.7" y="931" width="74.3" height="75.6" fill="none" stroke="#333" stroke-width="1.3" />
<rect x="1196.1" y="1052" width="2.6" height="2.6" fill="#222"/>
<clipPath id="ec0"><rect x="1172.6" y="920" width="170.7" height="167.5"/></clipPath>
<rect x="1349.7" y="919" width="172.7" height="168.5" fill="#fff" stroke="#5e5e5e" stroke-width="1.1" />
<line x1="1348.2" y1="925" x2="1348.2" y2="1084.5" stroke="#999" stroke-width="2.2" stroke-dasharray="0.8 3.3"/>
<line x1="1352.7" y1="1089" x2="1519.4" y2="1089" stroke="#999" stroke-width="2.2" stroke-dasharray="0.8 3.3"/>
<line x1="1345.2" y1="933" x2="1349.7" y2="933" stroke="#444" stroke-width="1.3" />
<line x1="1345.2" y1="965" x2="1349.7" y2="965" stroke="#444" stroke-width="1.3" />
<line x1="1345.2" y1="1001.5" x2="1349.7" y2="1001.5" stroke="#444" stroke-width="1.3" />
<line x1="1345.2" y1="1054.5" x2="1349.7" y2="1054.5" stroke="#444" stroke-width="1.3" />
<line x1="1375.7" y1="1087.5" x2="1375.7" y2="1092" stroke="#444" stroke-width="1.3" />
<line x1="1435.7" y1="1087.5" x2="1435.7" y2="1092" stroke="#444" stroke-width="1.3" />
<line x1="1466.7" y1="1087.5" x2="1466.7" y2="1092" stroke="#444" stroke-width="1.3" />
<line x1="1505.7" y1="1087.5" x2="1505.7" y2="1092" stroke="#444" stroke-width="1.3" />
<rect x="1345.9" y="1050.5" width="3" height="8" fill="#4a4a4a"/>
<rect x="1371.2" y="1088.3" width="9" height="2.8" fill="#4a4a4a"/>
<rect x="1416.4" y="931" width="73.6" height="75.6" fill="none" stroke="#333" stroke-width="1.3" />
<rect x="1374.2" y="1052" width="2.6" height="2.6" fill="#222"/>
<clipPath id="ec1"><rect x="1350.7" y="920" width="170.7" height="167.5"/></clipPath>
<rect x="1528.7" y="919" width="172.5" height="168.5" fill="#fff" stroke="#5e5e5e" stroke-width="1.1" />
<line x1="1527.2" y1="925" x2="1527.2" y2="1084.5" stroke="#999" stroke-width="2.2" stroke-dasharray="0.8 3.3"/>
<line x1="1531.7" y1="1089" x2="1698.2" y2="1089" stroke="#999" stroke-width="2.2" stroke-dasharray="0.8 3.3"/>
<line x1="1524.2" y1="933" x2="1528.7" y2="933" stroke="#444" stroke-width="1.3" />
<line x1="1524.2" y1="965" x2="1528.7" y2="965" stroke="#444" stroke-width="1.3" />
<line x1="1524.2" y1="1001.5" x2="1528.7" y2="1001.5" stroke="#444" stroke-width="1.3" />
<line x1="1524.2" y1="1054.5" x2="1528.7" y2="1054.5" stroke="#444" stroke-width="1.3" />
<line x1="1554.7" y1="1087.5" x2="1554.7" y2="1092" stroke="#444" stroke-width="1.3" />
<line x1="1614.7" y1="1087.5" x2="1614.7" y2="1092" stroke="#444" stroke-width="1.3" />
<line x1="1645.7" y1="1087.5" x2="1645.7" y2="1092" stroke="#444" stroke-width="1.3" />
<line x1="1684.7" y1="1087.5" x2="1684.7" y2="1092" stroke="#444" stroke-width="1.3" />
<rect x="1524.9" y="1050.5" width="3" height="8" fill="#4a4a4a"/>
<rect x="1550.2" y="1088.3" width="9" height="2.8" fill="#4a4a4a"/>
<rect x="1594.2" y="931" width="74.1" height="75.6" fill="none" stroke="#333" stroke-width="1.3" />
<rect x="1553.2" y="1052" width="2.6" height="2.6" fill="#222"/>
<clipPath id="ec2"><rect x="1529.7" y="920" width="170.5" height="167.5"/></clipPath>
<g clip-path="url(#ec0)">
<path d="M1262.3,986.7h2.5v2.5h-2.5zM1249.2,1021.9h2.5v2.5h-2.5zM1270.7,988.4h2.5v2.5h-2.5zM1262.7,1010.7h2.5v2.5h-2.5zM1251.5,1020.8h2.5v2.5h-2.5zM1256,1011.1h2.5v2.5h-2.5zM1267,1004.8h2.5v2.5h-2.5zM1254.7,1016.4h2.5v2.5h-2.5zM1268.6,1012.5h2.5v2.5h-2.5zM1266.2,991.9h2.5v2.5h-2.5zM1241.5,968.5h2.5v2.5h-2.5zM1264.9,1010.6h2.5v2.5h-2.5zM1265.6,1007.5h2.5v2.5h-2.5zM1256.1,1019.3h2.5v2.5h-2.5zM1258.7,975.7h2.5v2.5h-2.5zM1271.3,989.6h2.5v2.5h-2.5zM1270.2,992h2.5v2.5h-2.5zM1253.6,947.1h2.5v2.5h-2.5zM1270.4,989.1h2.5v2.5h-2.5zM1245.3,946.7h2.5v2.5h-2.5zM1248.9,1020.1h2.5v2.5h-2.5zM1239.3,968h2.5v2.5h-2.5zM1265.5,984h2.5v2.5h-2.5zM1239.4,983.9h2.5v2.5h-2.5zM1243,966.4h2.5v2.5h-2.5zM1241.2,965h2.5v2.5h-2.5zM1262.1,1021.4h2.5v2.5h-2.5zM1253.7,977.3h2.5v2.5h-2.5zM1245.9,944.2h2.5v2.5h-2.5zM1251.2,945.4h2.5v2.5h-2.5zM1256.5,973.1h2.5v2.5h-2.5zM1263,979.6h2.5v2.5h-2.5zM1266.8,983.2h2.5v2.5h-2.5zM1264.8,1002.8h2.5v2.5h-2.5zM1248.9,980.6h2.5v2.5h-2.5zM1265.6,975.3h2.5v2.5h-2.5zM1244,975.1h2.5v2.5h-2.5zM1248.4,948.7h2.5v2.5h-2.5zM1253.4,973h2.5v2.5h-2.5zM1266.3,1010.5h2.5v2.5h-2.5zM1254.9,1019.5h2.5v2.5h-2.5zM1261.3,995.2h2.5v2.5h-2.5zM1244.9,966.8h2.5v2.5h-2.5zM1266.3,1003.8h2.5v2.5h-2.5zM1241.6,961.9h2.5v2.5h-2.5zM1262.3,970.7h2.5v2.5h-2.5zM1241.5,993.1h2.5v2.5h-2.5zM1255.9,981.5h2.5v2.5h-2.5zM1250.5,949.9h2.5v2.5h-2.5zM1259.8,1004.7h2.5v2.5h-2.5zM1253.9,971.5h2.5v2.5h-2.5zM1271.7,1007.5h2.5v2.5h-2.5zM1241.4,973.8h2.5v2.5h-2.5zM1243.9,966.8h2.5v2.5h-2.5zM1264.6,990.1h2.5v2.5h-2.5zM1262.5,1021.9h2.5v2.5h-2.5zM1258.2,979.3h2.5v2.5h-2.5zM1261.7,1009.6h2.5v2.5h-2.5zM1268.1,990.5h2.5v2.5h-2.5zM1240.3,974h2.5v2.5h-2.5zM1243.1,967.2h2.5v2.5h-2.5zM1256.3,1013.8h2.5v2.5h-2.5zM1246.1,942.4h2.5v2.5h-2.5zM1270.9,989.1h2.5v2.5h-2.5zM1264.8,988h2.5v2.5h-2.5zM1242.1,980.2h2.5v2.5h-2.5zM1237.6,959.6h2.5v2.5h-2.5zM1250.6,958.7h2.5v2.5h-2.5zM1255.6,975.9h2.5v2.5h-2.5zM1242.2,964.9h2.5v2.5h-2.5zM1258,1015.8h2.5v2.5h-2.5zM1272.4,1005.8h2.5v2.5h-2.5zM1262,972.3h2.5v2.5h-2.5zM1261.8,986.7h2.5v2.5h-2.5zM1263.5,1010.1h2.5v2.5h-2.5zM1268.2,993.9h2.5v2.5h-2.5zM1244.8,957.9h2.5v2.5h-2.5zM1244.3,947.5h2.5v2.5h-2.5zM1236.7,991h2.5v2.5h-2.5zM1246.4,996h2.5v2.5h-2.5zM1267,1007.2h2.5v2.5h-2.5zM1261.7,1022h2.5v2.5h-2.5zM1264.2,977.3h2.5v2.5h-2.5zM1255,1012.5h2.5v2.5h-2.5zM1264.9,1011.5h2.5v2.5h-2.5zM1254.2,975.3h2.5v2.5h-2.5zM1243.5,987.2h2.5v2.5h-2.5zM1267.3,994.7h2.5v2.5h-2.5zM1251.6,1027.8h2.5v2.5h-2.5zM1241.9,949h2.5v2.5h-2.5zM1270.2,1008.3h2.5v2.5h-2.5zM1247.4,1008h2.5v2.5h-2.5zM1261,1007h2.5v2.5h-2.5zM1245.3,967.6h2.5v2.5h-2.5zM1241.6,952.9h2.5v2.5h-2.5zM1266.1,986h2.5v2.5h-2.5zM1241.5,1009.5h2.5v2.5h-2.5zM1251.5,970.3h2.5v2.5h-2.5zM1247.6,973h2.5v2.5h-2.5zM1269.6,1005.9h2.5v2.5h-2.5zM1263.8,1009.4h2.5v2.5h-2.5zM1250.9,953.3h2.5v2.5h-2.5zM1246.3,946.5h2.5v2.5h-2.5zM1236,999.4h2.5v2.5h-2.5zM1249.6,1017.3h2.5v2.5h-2.5zM1248.5,951.3h2.5v2.5h-2.5zM1260.8,1021.6h2.5v2.5h-2.5zM1268.1,978.2h2.5v2.5h-2.5zM1242.7,964.5h2.5v2.5h-2.5zM1264.8,976.3h2.5v2.5h-2.5zM1241.4,956.5h2.5v2.5h-2.5zM1269.2,984.7h2.5v2.5h-2.5zM1261.6,1000.4h2.5v2.5h-2.5zM1251.7,1016.8h2.5v2.5h-2.5zM1251.3,952.1h2.5v2.5h-2.5zM1250.9,951.3h2.5v2.5h-2.5zM1244.1,954.9h2.5v2.5h-2.5zM1249.5,949.8h2.5v2.5h-2.5zM1263.2,999.4h2.5v2.5h-2.5zM1253,1018.9h2.5v2.5h-2.5zM1252.8,946.1h2.5v2.5h-2.5zM1256.6,971.2h2.5v2.5h-2.5zM1259.9,983.4h2.5v2.5h-2.5zM1248.4,949.3h2.5v2.5h-2.5zM1254.5,981.4h2.5v2.5h-2.5zM1262.5,991.9h2.5v2.5h-2.5zM1252.5,1026.4h2.5v2.5h-2.5zM1261.7,998.8h2.5v2.5h-2.5zM1271.8,991.8h2.5v2.5h-2.5zM1259.4,1006.7h2.5v2.5h-2.5zM1261.1,972h2.5v2.5h-2.5zM1266.2,992h2.5v2.5h-2.5zM1242.4,963.4h2.5v2.5h-2.5zM1253.8,1023.7h2.5v2.5h-2.5zM1259.2,1004.7h2.5v2.5h-2.5zM1258.4,1021.1h2.5v2.5h-2.5zM1253.9,1014h2.5v2.5h-2.5zM1263.4,987.3h2.5v2.5h-2.5zM1262.4,986h2.5v2.5h-2.5zM1258.6,991.9h2.5v2.5h-2.5zM1250.8,951.9h2.5v2.5h-2.5zM1260.1,1007h2.5v2.5h-2.5zM1265.3,989.6h2.5v2.5h-2.5zM1264.6,1008.2h2.5v2.5h-2.5zM1268.7,1009.8h2.5v2.5h-2.5zM1260.5,998.5h2.5v2.5h-2.5zM1249.8,962.7h2.5v2.5h-2.5zM1261.4,982h2.5v2.5h-2.5zM1249.3,944.5h2.5v2.5h-2.5zM1265.7,975.4h2.5v2.5h-2.5zM1250.1,967.2h2.5v2.5h-2.5zM1269.4,1009.1h2.5v2.5h-2.5zM1252.7,947.2h2.5v2.5h-2.5zM1268.2,984.3h2.5v2.5h-2.5zM1250.6,1024.5h2.5v2.5h-2.5zM1259.5,994h2.5v2.5h-2.5zM1243.7,941.4h2.5v2.5h-2.5zM1247.8,942h2.5v2.5h-2.5zM1246.5,949.2h2.5v2.5h-2.5zM1257.7,1006.2h2.5v2.5h-2.5zM1270.2,983.9h2.5v2.5h-2.5zM1252.6,966.5h2.5v2.5h-2.5zM1262.1,995.7h2.5v2.5h-2.5zM1265.5,992.6h2.5v2.5h-2.5zM1248.6,960.8h2.5v2.5h-2.5zM1252,945h2.5v2.5h-2.5zM1250.5,1022h2.5v2.5h-2.5zM1260.7,986.1h2.5v2.5h-2.5zM1270.1,1012.6h2.5v2.5h-2.5zM1239.5,998h2.5v2.5h-2.5zM1243.4,993.4h2.5v2.5h-2.5zM1244.1,1076.9h2.5v2.5h-2.5zM1308.2,949.7h2.5v2.5h-2.5zM1232.8,1061.4h2.5v2.5h-2.5zM1235.9,1067.3h2.5v2.5h-2.5zM1232.6,1062.3h2.5v2.5h-2.5zM1263.1,941h2.5v2.5h-2.5zM1304.6,1002.8h2.5v2.5h-2.5zM1294.8,1070.4h2.5v2.5h-2.5zM1253.1,1079.2h2.5v2.5h-2.5zM1232.1,1044.5h2.5v2.5h-2.5zM1259.7,944.7h2.5v2.5h-2.5zM1235,1056.8h2.5v2.5h-2.5zM1235,1068.6h2.5v2.5h-2.5zM1307.2,1025.1h2.5v2.5h-2.5zM1303.7,1010.2h2.5v2.5h-2.5zM1254.4,1078.1h2.5v2.5h-2.5zM1238.5,1069.4h2.5v2.5h-2.5zM1277.9,939.8h2.5v2.5h-2.5zM1293.6,942.7h2.5v2.5h-2.5zM1302.3,1039.5h2.5v2.5h-2.5zM1246.4,1075.6h2.5v2.5h-2.5zM1304.8,946.9h2.5v2.5h-2.5zM1303,1041.2h2.5v2.5h-2.5zM1255,1076.7h2.5v2.5h-2.5zM1229.7,1052.6h2.5v2.5h-2.5zM1246.2,1076.8h2.5v2.5h-2.5zM1232.9,1056.5h2.5v2.5h-2.5zM1307.2,1018.8h2.5v2.5h-2.5zM1307.7,983.3h2.5v2.5h-2.5zM1236.2,1065.5h2.5v2.5h-2.5zM1250,958.9h2.5v2.5h-2.5zM1303.1,948.7h2.5v2.5h-2.5zM1243.7,1072.7h2.5v2.5h-2.5zM1240.2,1071.6h2.5v2.5h-2.5zM1307.2,954.1h2.5v2.5h-2.5zM1303.1,950.5h2.5v2.5h-2.5zM1298.5,1058.7h2.5v2.5h-2.5zM1310.3,996.8h2.5v2.5h-2.5zM1302.6,1032.6h2.5v2.5h-2.5zM1286.6,1076.7h2.5v2.5h-2.5zM1296.8,1071.1h2.5v2.5h-2.5zM1271.2,943.2h2.5v2.5h-2.5zM1302.4,1039.7h2.5v2.5h-2.5zM1304,1019.7h2.5v2.5h-2.5zM1295.8,1069h2.5v2.5h-2.5zM1262.9,940.8h2.5v2.5h-2.5zM1230.9,1046.7h2.5v2.5h-2.5zM1284.4,940.9h2.5v2.5h-2.5zM1248,964.1h2.5v2.5h-2.5zM1306.9,1037.4h2.5v2.5h-2.5zM1232.5,1053.7h2.5v2.5h-2.5zM1301.3,1050.7h2.5v2.5h-2.5zM1303.5,1019.3h2.5v2.5h-2.5zM1241.4,1072.5h2.5v2.5h-2.5zM1307.8,974h2.5v2.5h-2.5zM1232.9,1057.4h2.5v2.5h-2.5zM1305.2,1007.3h2.5v2.5h-2.5zM1255.2,1079.2h2.5v2.5h-2.5zM1306.2,1003.3h2.5v2.5h-2.5zM1290,941.9h2.5v2.5h-2.5zM1235.2,1036.5h2.5v2.5h-2.5zM1277,1079.2h2.5v2.5h-2.5zM1308.2,989.6h2.5v2.5h-2.5zM1275.5,940.2h2.5v2.5h-2.5zM1299.3,1063.1h2.5v2.5h-2.5zM1312,984.2h2.5v2.5h-2.5zM1291.2,1073.2h2.5v2.5h-2.5zM1306,1044.1h2.5v2.5h-2.5zM1255.6,943.8h2.5v2.5h-2.5zM1237.3,1069.9h2.5v2.5h-2.5zM1291.5,939h2.5v2.5h-2.5zM1230.6,1058.8h2.5v2.5h-2.5zM1303.7,1010.8h2.5v2.5h-2.5zM1309.2,954.5h2.5v2.5h-2.5zM1260,1081.4h2.5v2.5h-2.5zM1263.1,943h2.5v2.5h-2.5zM1278.6,941.6h2.5v2.5h-2.5zM1308.8,955.7h2.5v2.5h-2.5zM1268.9,1076.9h2.5v2.5h-2.5zM1290.3,938.7h2.5v2.5h-2.5zM1307.5,989.7h2.5v2.5h-2.5zM1235.4,1024h2.5v2.5h-2.5zM1257.6,1078.3h2.5v2.5h-2.5zM1304.6,1007.4h2.5v2.5h-2.5zM1306.8,1002.7h2.5v2.5h-2.5zM1303.7,1029h2.5v2.5h-2.5zM1283.8,1075.2h2.5v2.5h-2.5zM1263.5,1078.3h2.5v2.5h-2.5zM1279.5,939.3h2.5v2.5h-2.5zM1295.2,1067.4h2.5v2.5h-2.5zM1304.2,1041.9h2.5v2.5h-2.5zM1307.1,991.9h2.5v2.5h-2.5zM1308,986.5h2.5v2.5h-2.5zM1306,1030.3h2.5v2.5h-2.5zM1240.4,1009.6h2.5v2.5h-2.5zM1263.7,1077.4h2.5v2.5h-2.5zM1238.7,1012.6h2.5v2.5h-2.5zM1310.6,982.6h2.5v2.5h-2.5zM1284.4,1074.2h2.5v2.5h-2.5zM1291.5,1074.7h2.5v2.5h-2.5zM1303.6,1058.3h2.5v2.5h-2.5zM1308.4,967h2.5v2.5h-2.5zM1236,1058.7h2.5v2.5h-2.5zM1289,1077.9h2.5v2.5h-2.5zM1259.5,1076.9h2.5v2.5h-2.5zM1304.2,1014.4h2.5v2.5h-2.5zM1304.2,945.7h2.5v2.5h-2.5zM1292.6,1074.8h2.5v2.5h-2.5zM1284,1077.9h2.5v2.5h-2.5zM1253.1,1011.8h2.5v2.5h-2.5zM1246.7,1007.8h2.5v2.5h-2.5zM1250.3,1002.1h2.5v2.5h-2.5zM1248.5,1004.9h2.5v2.5h-2.5zM1247,1003.9h2.5v2.5h-2.5zM1246.4,1010h2.5v2.5h-2.5zM1251,1006.2h2.5v2.5h-2.5zM1251,1007.3h2.5v2.5h-2.5zM1247,1004.5h2.5v2.5h-2.5zM1244.3,1014.9h2.5v2.5h-2.5zM1260.2,1008.7h2.5v2.5h-2.5zM1246.2,998.3h2.5v2.5h-2.5zM1248,1013.6h2.5v2.5h-2.5zM1242,1002.2h2.5v2.5h-2.5zM1251.6,1006.5h2.5v2.5h-2.5zM1251.4,1005.8h2.5v2.5h-2.5zM1249.4,1002.2h2.5v2.5h-2.5zM1252.5,999h2.5v2.5h-2.5zM1260,1002.6h2.5v2.5h-2.5zM1255.2,1010.4h2.5v2.5h-2.5zM1263,1007.3h2.5v2.5h-2.5zM1247.7,1013.2h2.5v2.5h-2.5zM1252.6,1008.7h2.5v2.5h-2.5zM1254.7,1003.3h2.5v2.5h-2.5zM1252.4,1001h2.5v2.5h-2.5zM1245.6,1006.5h2.5v2.5h-2.5zM1253.6,1010.2h2.5v2.5h-2.5zM1247,1002.9h2.5v2.5h-2.5zM1248.7,1006.3h2.5v2.5h-2.5zM1249.5,1007.2h2.5v2.5h-2.5zM1258.2,1009.5h2.5v2.5h-2.5zM1252.2,1010.8h2.5v2.5h-2.5zM1263.5,1006.1h2.5v2.5h-2.5zM1251.6,1007.9h2.5v2.5h-2.5zM1239.3,1008.9h2.5v2.5h-2.5zM1251.4,1012.1h2.5v2.5h-2.5zM1252.2,999.3h2.5v2.5h-2.5zM1251.5,1003.9h2.5v2.5h-2.5zM1250.1,1009.4h2.5v2.5h-2.5zM1250.7,1009.3h2.5v2.5h-2.5zM1248.5,1007.4h2.5v2.5h-2.5zM1251.1,1009.5h2.5v2.5h-2.5zM1252.8,1005.7h2.5v2.5h-2.5zM1253.8,1007.7h2.5v2.5h-2.5zM1250.9,1012h2.5v2.5h-2.5zM1250,1005.9h2.5v2.5h-2.5zM1250.3,1006.8h2.5v2.5h-2.5zM1262.4,1007h2.5v2.5h-2.5zM1251.5,1011.2h2.5v2.5h-2.5zM1242.6,1012.9h2.5v2.5h-2.5zM1250.8,1007.2h2.5v2.5h-2.5zM1241.9,1001.9h2.5v2.5h-2.5zM1251.1,1007.4h2.5v2.5h-2.5zM1248.4,1006.6h2.5v2.5h-2.5zM1242.6,1002.1h2.5v2.5h-2.5zM1250.7,1006.7h2.5v2.5h-2.5zM1244.7,1001.4h2.5v2.5h-2.5zM1250.5,1007.1h2.5v2.5h-2.5zM1250.4,1007.1h2.5v2.5h-2.5zM1251.3,1006.7h2.5v2.5h-2.5zM1249.4,997.8h2.5v2.5h-2.5zM1255,999.3h2.5v2.5h-2.5zM1246.6,1008.7h2.5v2.5h-2.5zM1250,1006.2h2.5v2.5h-2.5zM1257.2,1007.7h2.5v2.5h-2.5zM1245.4,1007.2h2.5v2.5h-2.5zM1253.2,1000.4h2.5v2.5h-2.5zM1254.7,1011.1h2.5v2.5h-2.5zM1247.7,1003.5h2.5v2.5h-2.5zM1249,1016.4h2.5v2.5h-2.5zM1248,1003.2h2.5v2.5h-2.5zM1260.1,1009.1h2.5v2.5h-2.5zM1254.8,1004h2.5v2.5h-2.5zM1260.8,1007.6h2.5v2.5h-2.5zM1253.5,1000.7h2.5v2.5h-2.5zM1246.6,1009.3h2.5v2.5h-2.5zM1256.1,1005.2h2.5v2.5h-2.5zM1251.6,1007.7h2.5v2.5h-2.5zM1257.2,1009.8h2.5v2.5h-2.5zM1244,1012.5h2.5v2.5h-2.5zM1251.2,1007.1h2.5v2.5h-2.5zM1257.4,1013h2.5v2.5h-2.5zM1244.7,1010.2h2.5v2.5h-2.5zM1259.5,1003.5h2.5v2.5h-2.5zM1252.9,1009.8h2.5v2.5h-2.5zM1251.9,1008.2h2.5v2.5h-2.5zM1255.4,1008.3h2.5v2.5h-2.5zM1251,998.9h2.5v2.5h-2.5zM1252.1,1003.9h2.5v2.5h-2.5zM1251,1006.4h2.5v2.5h-2.5zM1295.6,1075.7h2.5v2.5h-2.5zM1281.7,1074.2h2.5v2.5h-2.5zM1301.9,1079.1h2.5v2.5h-2.5zM1284.6,1071.4h2.5v2.5h-2.5zM1280.8,1072.5h2.5v2.5h-2.5zM1282.6,1074h2.5v2.5h-2.5zM1293.6,1079.6h2.5v2.5h-2.5zM1290.1,1076.6h2.5v2.5h-2.5zM1293.4,1076.4h2.5v2.5h-2.5zM1289,1077.5h2.5v2.5h-2.5zM1305.3,1075.8h2.5v2.5h-2.5zM1296.4,1082.1h2.5v2.5h-2.5zM1297.5,1073.1h2.5v2.5h-2.5zM1287.8,1074.9h2.5v2.5h-2.5zM1284.4,1078.6h2.5v2.5h-2.5zM1299,1072.6h2.5v2.5h-2.5zM1287.4,1075.1h2.5v2.5h-2.5zM1290.8,1079.3h2.5v2.5h-2.5zM1284.6,1079.2h2.5v2.5h-2.5zM1290.8,1076.8h2.5v2.5h-2.5zM1299.2,1076.5h2.5v2.5h-2.5zM1280.1,1078.1h2.5v2.5h-2.5zM1297.1,1071.8h2.5v2.5h-2.5zM1293.5,1074.3h2.5v2.5h-2.5zM1296.7,1077.7h2.5v2.5h-2.5zM1281.1,1080.7h2.5v2.5h-2.5zM1278.8,1076.6h2.5v2.5h-2.5zM1293,1077h2.5v2.5h-2.5zM1295.8,1075.8h2.5v2.5h-2.5zM1290.5,1076.2h2.5v2.5h-2.5zM1291,1070.9h2.5v2.5h-2.5zM1282.6,1072.6h2.5v2.5h-2.5zM1291.9,1076.8h2.5v2.5h-2.5zM1281.2,1073.8h2.5v2.5h-2.5zM1292.6,1077.3h2.5v2.5h-2.5zM1294.7,1075.5h2.5v2.5h-2.5zM1296.2,1072h2.5v2.5h-2.5zM1285.6,1072.4h2.5v2.5h-2.5zM1293.5,1082.1h2.5v2.5h-2.5zM1287.2,1075.7h2.5v2.5h-2.5zM1285.8,1080.3h2.5v2.5h-2.5zM1297.6,1075.1h2.5v2.5h-2.5zM1290.3,1083h2.5v2.5h-2.5zM1280.1,1077.2h2.5v2.5h-2.5zM1287.5,1075.7h2.5v2.5h-2.5zM1288.2,1077.7h2.5v2.5h-2.5zM1281.2,1079.1h2.5v2.5h-2.5zM1289.7,1078.8h2.5v2.5h-2.5zM1280.4,1080.3h2.5v2.5h-2.5zM1289.5,1081.7h2.5v2.5h-2.5z" fill="#000"/>
<clipPath id="hp1"><path d="M1255.6,946.2 C1258.2,944.2 1261.5,944 1266.7,943.4 C1271.9,942.9 1281.5,942.6 1287,942.9 C1292.6,943.2 1296.7,943.8 1300,945.3 C1303.2,946.7 1304.7,949.1 1306.4,951.7 C1308.1,954.3 1309.5,955.7 1310.1,961 C1310.7,966.2 1310.6,976.1 1310.1,983.1 C1309.7,990.2 1308.3,998.2 1307.4,1003.5 C1306.4,1008.7 1304.9,1010.2 1304.6,1014.5 C1304.3,1018.8 1305.7,1023.8 1305.5,1029.3 C1305.3,1034.9 1304.6,1042.3 1303.7,1047.8 C1302.7,1053.3 1301.3,1058.6 1300,1062.6 C1298.6,1066.6 1297.5,1069.5 1295.3,1071.8 C1293.2,1074.1 1292.4,1075 1287,1076.4 C1281.6,1077.8 1269.5,1080 1263,1080.1 C1256.5,1080.3 1252.2,1079 1248.2,1077.4 C1244.2,1075.7 1241.2,1073.3 1239,1070 C1236.8,1066.6 1235.7,1062 1234.9,1057 C1234.2,1052.1 1233.9,1045.6 1234.4,1040.4 C1234.9,1035.2 1236.1,1029.3 1238.1,1025.6 C1240.1,1021.9 1242.8,1020.7 1246.4,1018.2 C1249.9,1015.8 1256.5,1013.9 1259.3,1010.8 C1262.1,1007.8 1263,1003.5 1263,999.8 C1263,996.1 1260.9,993 1259.3,988.7 C1257.8,984.4 1255.2,979.4 1253.8,973.9 C1252.4,968.4 1250.7,960 1251,955.4 C1251.3,950.8 1253,948.2 1255.6,946.2Z"/></clipPath>
<g clip-path="url(#hp1)"><path d="M1255.6,946.2 C1258.2,944.2 1261.5,944 1266.7,943.4 C1271.9,942.9 1281.5,942.6 1287,942.9 C1292.6,943.2 1296.7,943.8 1300,945.3 C1303.2,946.7 1304.7,949.1 1306.4,951.7 C1308.1,954.3 1309.5,955.7 1310.1,961 C1310.7,966.2 1310.6,976.1 1310.1,983.1 C1309.7,990.2 1308.3,998.2 1307.4,1003.5 C1306.4,1008.7 1304.9,1010.2 1304.6,1014.5 C1304.3,1018.8 1305.7,1023.8 1305.5,1029.3 C1305.3,1034.9 1304.6,1042.3 1303.7,1047.8 C1302.7,1053.3 1301.3,1058.6 1300,1062.6 C1298.6,1066.6 1297.5,1069.5 1295.3,1071.8 C1293.2,1074.1 1292.4,1075 1287,1076.4 C1281.6,1077.8 1269.5,1080 1263,1080.1 C1256.5,1080.3 1252.2,1079 1248.2,1077.4 C1244.2,1075.7 1241.2,1073.3 1239,1070 C1236.8,1066.6 1235.7,1062 1234.9,1057 C1234.2,1052.1 1233.9,1045.6 1234.4,1040.4 C1234.9,1035.2 1236.1,1029.3 1238.1,1025.6 C1240.1,1021.9 1242.8,1020.7 1246.4,1018.2 C1249.9,1015.8 1256.5,1013.9 1259.3,1010.8 C1262.1,1007.8 1263,1003.5 1263,999.8 C1263,996.1 1260.9,993 1259.3,988.7 C1257.8,984.4 1255.2,979.4 1253.8,973.9 C1252.4,968.4 1250.7,960 1251,955.4 C1251.3,950.8 1253,948.2 1255.6,946.2Z" fill="#bdbdbd"/><path d="M1255.6,946.2 C1258.2,944.2 1261.5,944 1266.7,943.4 C1271.9,942.9 1281.5,942.6 1287,942.9 C1292.6,943.2 1296.7,943.8 1300,945.3 C1303.2,946.7 1304.7,949.1 1306.4,951.7 C1308.1,954.3 1309.5,955.7 1310.1,961 C1310.7,966.2 1310.6,976.1 1310.1,983.1 C1309.7,990.2 1308.3,998.2 1307.4,1003.5 C1306.4,1008.7 1304.9,1010.2 1304.6,1014.5 C1304.3,1018.8 1305.7,1023.8 1305.5,1029.3 C1305.3,1034.9 1304.6,1042.3 1303.7,1047.8 C1302.7,1053.3 1301.3,1058.6 1300,1062.6 C1298.6,1066.6 1297.5,1069.5 1295.3,1071.8 C1293.2,1074.1 1292.4,1075 1287,1076.4 C1281.6,1077.8 1269.5,1080 1263,1080.1 C1256.5,1080.3 1252.2,1079 1248.2,1077.4 C1244.2,1075.7 1241.2,1073.3 1239,1070 C1236.8,1066.6 1235.7,1062 1234.9,1057 C1234.2,1052.1 1233.9,1045.6 1234.4,1040.4 C1234.9,1035.2 1236.1,1029.3 1238.1,1025.6 C1240.1,1021.9 1242.8,1020.7 1246.4,1018.2 C1249.9,1015.8 1256.5,1013.9 1259.3,1010.8 C1262.1,1007.8 1263,1003.5 1263,999.8 C1263,996.1 1260.9,993 1259.3,988.7 C1257.8,984.4 1255.2,979.4 1253.8,973.9 C1252.4,968.4 1250.7,960 1251,955.4 C1251.3,950.8 1253,948.2 1255.6,946.2Z" fill="none" stroke="#161616" stroke-width="14" filter="url(#bl)" style="--b:3"/></g>
<path d="M1255.6,946.2 C1258.2,944.2 1261.5,944 1266.7,943.4 C1271.9,942.9 1281.5,942.6 1287,942.9 C1292.6,943.2 1296.7,943.8 1300,945.3 C1303.2,946.7 1304.7,949.1 1306.4,951.7 C1308.1,954.3 1309.5,955.7 1310.1,961 C1310.7,966.2 1310.6,976.1 1310.1,983.1 C1309.7,990.2 1308.3,998.2 1307.4,1003.5 C1306.4,1008.7 1304.9,1010.2 1304.6,1014.5 C1304.3,1018.8 1305.7,1023.8 1305.5,1029.3 C1305.3,1034.9 1304.6,1042.3 1303.7,1047.8 C1302.7,1053.3 1301.3,1058.6 1300,1062.6 C1298.6,1066.6 1297.5,1069.5 1295.3,1071.8 C1293.2,1074.1 1292.4,1075 1287,1076.4 C1281.6,1077.8 1269.5,1080 1263,1080.1 C1256.5,1080.3 1252.2,1079 1248.2,1077.4 C1244.2,1075.7 1241.2,1073.3 1239,1070 C1236.8,1066.6 1235.7,1062 1234.9,1057 C1234.2,1052.1 1233.9,1045.6 1234.4,1040.4 C1234.9,1035.2 1236.1,1029.3 1238.1,1025.6 C1240.1,1021.9 1242.8,1020.7 1246.4,1018.2 C1249.9,1015.8 1256.5,1013.9 1259.3,1010.8 C1262.1,1007.8 1263,1003.5 1263,999.8 C1263,996.1 1260.9,993 1259.3,988.7 C1257.8,984.4 1255.2,979.4 1253.8,973.9 C1252.4,968.4 1250.7,960 1251,955.4 C1251.3,950.8 1253,948.2 1255.6,946.2Z" fill="none" stroke="#000" stroke-width="2.2" stroke-linejoin="round"/>
<ellipse cx="0" cy="0" rx="17" ry="24" transform="translate(1284,965) rotate(5)" fill="url(#zb)" stroke="none" stroke-width="0"/>
<ellipse cx="0" cy="0" rx="6" ry="15" transform="translate(1289,1020) rotate(18)" fill="#e2e2e2" stroke="none" stroke-width="0"/>
<ellipse cx="0" cy="0" rx="18.5" ry="23" transform="translate(1257,1044.5) rotate(0)" fill="url(#zb)" stroke="none" stroke-width="0"/>
<line x1="1237.7" y1="1006.6" x2="1312" y2="1006.6" stroke="#333" stroke-width="1" />
</g>
<g clip-path="url(#ec1)">
<path d="M1426.1,1021.1h2.5v2.5h-2.5zM1433.2,981.2h2.5v2.5h-2.5zM1453.5,948h2.5v2.5h-2.5zM1447.2,968.3h2.5v2.5h-2.5zM1437.9,975.3h2.5v2.5h-2.5zM1440.1,1001.9h2.5v2.5h-2.5zM1450.1,952.3h2.5v2.5h-2.5zM1443.3,965.2h2.5v2.5h-2.5zM1433.5,987.6h2.5v2.5h-2.5zM1426.7,991.4h2.5v2.5h-2.5zM1445.6,1001.6h2.5v2.5h-2.5zM1431,1018.9h2.5v2.5h-2.5zM1442.7,988.7h2.5v2.5h-2.5zM1420.9,1027.3h2.5v2.5h-2.5zM1446.3,961h2.5v2.5h-2.5zM1442.2,971.7h2.5v2.5h-2.5zM1440.6,1002.6h2.5v2.5h-2.5zM1438.1,1001.1h2.5v2.5h-2.5zM1445.1,964.2h2.5v2.5h-2.5zM1426.7,1016.2h2.5v2.5h-2.5zM1429.4,1010.9h2.5v2.5h-2.5zM1439.1,1015.7h2.5v2.5h-2.5zM1451.7,982.4h2.5v2.5h-2.5zM1428.6,1022.2h2.5v2.5h-2.5zM1442.9,1002.5h2.5v2.5h-2.5zM1453,964.6h2.5v2.5h-2.5zM1426.2,1012.2h2.5v2.5h-2.5zM1425.9,1022.8h2.5v2.5h-2.5zM1433.5,1022.1h2.5v2.5h-2.5zM1424,1030.9h2.5v2.5h-2.5zM1427.6,1014.5h2.5v2.5h-2.5zM1450.6,969h2.5v2.5h-2.5zM1441,981h2.5v2.5h-2.5zM1441.7,1008.8h2.5v2.5h-2.5zM1445.6,945.2h2.5v2.5h-2.5zM1425.2,1025.2h2.5v2.5h-2.5zM1445.8,995.4h2.5v2.5h-2.5zM1427.6,1012.9h2.5v2.5h-2.5zM1431.6,1010.2h2.5v2.5h-2.5zM1444.3,941.5h2.5v2.5h-2.5zM1439.3,999.9h2.5v2.5h-2.5zM1451.2,968.6h2.5v2.5h-2.5zM1447.5,962.4h2.5v2.5h-2.5zM1429.6,1018.2h2.5v2.5h-2.5zM1429,1014.1h2.5v2.5h-2.5zM1446.6,957.9h2.5v2.5h-2.5zM1439.1,1006.4h2.5v2.5h-2.5zM1452.1,976.5h2.5v2.5h-2.5zM1443.8,941.2h2.5v2.5h-2.5zM1414.9,1024.7h2.5v2.5h-2.5zM1436.8,990.4h2.5v2.5h-2.5zM1429.1,1026h2.5v2.5h-2.5zM1453.5,965.6h2.5v2.5h-2.5zM1439.3,984.4h2.5v2.5h-2.5zM1426.2,1012.6h2.5v2.5h-2.5zM1423.6,1020.1h2.5v2.5h-2.5zM1431.4,1008.8h2.5v2.5h-2.5zM1436.2,1015.4h2.5v2.5h-2.5zM1446.6,960.7h2.5v2.5h-2.5zM1430.2,993.4h2.5v2.5h-2.5zM1415,1022.4h2.5v2.5h-2.5zM1437.2,954.9h2.5v2.5h-2.5zM1454,947.1h2.5v2.5h-2.5zM1426.8,1012.3h2.5v2.5h-2.5zM1413.9,1017.6h2.5v2.5h-2.5zM1430.6,1020.1h2.5v2.5h-2.5zM1436.8,1002.1h2.5v2.5h-2.5zM1426.2,1008h2.5v2.5h-2.5zM1437.9,1004.3h2.5v2.5h-2.5zM1437.9,1005.3h2.5v2.5h-2.5zM1443.1,944.2h2.5v2.5h-2.5zM1415.1,1023.3h2.5v2.5h-2.5zM1436.3,966.4h2.5v2.5h-2.5zM1435.7,978.4h2.5v2.5h-2.5zM1446.6,952.4h2.5v2.5h-2.5zM1423.6,1021.6h2.5v2.5h-2.5zM1419.1,1011.8h2.5v2.5h-2.5zM1434,1005.2h2.5v2.5h-2.5zM1433.4,1019.4h2.5v2.5h-2.5zM1423.2,1030.6h2.5v2.5h-2.5zM1449.5,984.3h2.5v2.5h-2.5zM1451,986.4h2.5v2.5h-2.5zM1452.6,976.3h2.5v2.5h-2.5zM1448.4,1001.3h2.5v2.5h-2.5zM1430.2,1011h2.5v2.5h-2.5zM1448,947h2.5v2.5h-2.5zM1450.5,952.9h2.5v2.5h-2.5zM1439.8,1004.6h2.5v2.5h-2.5zM1448.9,980.5h2.5v2.5h-2.5zM1439.2,979.4h2.5v2.5h-2.5zM1431,1015.8h2.5v2.5h-2.5zM1446.4,970.3h2.5v2.5h-2.5zM1443.4,955.3h2.5v2.5h-2.5zM1450.9,970h2.5v2.5h-2.5zM1446.7,967.9h2.5v2.5h-2.5zM1446.4,1004.5h2.5v2.5h-2.5zM1448.3,984.8h2.5v2.5h-2.5zM1434.5,1017.5h2.5v2.5h-2.5zM1437,1000.9h2.5v2.5h-2.5zM1447.6,985.1h2.5v2.5h-2.5zM1444,975.1h2.5v2.5h-2.5zM1447.1,945.2h2.5v2.5h-2.5zM1445.1,958h2.5v2.5h-2.5zM1440,1001.5h2.5v2.5h-2.5zM1429.2,1013.1h2.5v2.5h-2.5zM1453.9,945.9h2.5v2.5h-2.5zM1443.1,957.8h2.5v2.5h-2.5zM1438,1015.7h2.5v2.5h-2.5zM1438.9,990.9h2.5v2.5h-2.5zM1429.9,1029.2h2.5v2.5h-2.5zM1442.2,995.8h2.5v2.5h-2.5zM1437.5,981.5h2.5v2.5h-2.5zM1449,957.4h2.5v2.5h-2.5zM1440.7,1001.7h2.5v2.5h-2.5zM1439,952.4h2.5v2.5h-2.5zM1443.2,948.1h2.5v2.5h-2.5zM1447.7,981.3h2.5v2.5h-2.5zM1445.8,943.3h2.5v2.5h-2.5zM1449.3,951.6h2.5v2.5h-2.5zM1434.3,1013.8h2.5v2.5h-2.5zM1443.4,1006.9h2.5v2.5h-2.5zM1442.7,992h2.5v2.5h-2.5zM1449.5,950.8h2.5v2.5h-2.5zM1438.2,986.9h2.5v2.5h-2.5zM1432.8,976.8h2.5v2.5h-2.5zM1441.2,958.3h2.5v2.5h-2.5zM1445.2,943.2h2.5v2.5h-2.5zM1424.1,1030.5h2.5v2.5h-2.5zM1439,1018.6h2.5v2.5h-2.5zM1430.3,1010.8h2.5v2.5h-2.5zM1444,970.4h2.5v2.5h-2.5zM1446.6,987.4h2.5v2.5h-2.5zM1438.4,975.4h2.5v2.5h-2.5zM1452.9,946.3h2.5v2.5h-2.5zM1442.3,955.6h2.5v2.5h-2.5zM1429.8,1021.3h2.5v2.5h-2.5zM1443.9,959.3h2.5v2.5h-2.5zM1438,994.8h2.5v2.5h-2.5zM1447.3,985.3h2.5v2.5h-2.5zM1443.3,973.6h2.5v2.5h-2.5zM1463.1,1036.6h2.5v2.5h-2.5zM1461.1,979.9h2.5v2.5h-2.5zM1466.4,1042.6h2.5v2.5h-2.5zM1481.9,955.3h2.5v2.5h-2.5zM1471,1053.4h2.5v2.5h-2.5zM1482,964.7h2.5v2.5h-2.5zM1464.8,1025.5h2.5v2.5h-2.5zM1467.3,1074.5h2.5v2.5h-2.5zM1473.4,1047h2.5v2.5h-2.5zM1460.4,992.8h2.5v2.5h-2.5zM1463.2,1030.5h2.5v2.5h-2.5zM1462,988.1h2.5v2.5h-2.5zM1462.3,1006.2h2.5v2.5h-2.5zM1478.7,954.7h2.5v2.5h-2.5zM1466.3,996.5h2.5v2.5h-2.5zM1457.7,956.4h2.5v2.5h-2.5zM1478.5,966.7h2.5v2.5h-2.5zM1460.6,1077.4h2.5v2.5h-2.5zM1477.5,955h2.5v2.5h-2.5zM1483.3,952.2h2.5v2.5h-2.5zM1478,970.1h2.5v2.5h-2.5zM1479.9,962.3h2.5v2.5h-2.5zM1470.6,1065.8h2.5v2.5h-2.5zM1465.4,947h2.5v2.5h-2.5zM1467.2,1077.2h2.5v2.5h-2.5zM1471.3,978.2h2.5v2.5h-2.5zM1479.7,955.3h2.5v2.5h-2.5zM1477.3,953.9h2.5v2.5h-2.5zM1466.6,980.6h2.5v2.5h-2.5zM1466.8,1062.7h2.5v2.5h-2.5zM1477.1,968.9h2.5v2.5h-2.5zM1483.9,967.7h2.5v2.5h-2.5zM1467.3,943h2.5v2.5h-2.5zM1460.4,1011.9h2.5v2.5h-2.5zM1468.8,1046.8h2.5v2.5h-2.5zM1477,949.7h2.5v2.5h-2.5zM1464.7,944.9h2.5v2.5h-2.5zM1466,1011.4h2.5v2.5h-2.5zM1473.4,1050.1h2.5v2.5h-2.5zM1468.2,942.3h2.5v2.5h-2.5zM1484.3,964.9h2.5v2.5h-2.5zM1458.5,1004.1h2.5v2.5h-2.5zM1460.9,1075.3h2.5v2.5h-2.5zM1465,1022.5h2.5v2.5h-2.5zM1473.3,946.3h2.5v2.5h-2.5zM1469.6,1047.6h2.5v2.5h-2.5zM1463.3,996h2.5v2.5h-2.5zM1465,976.9h2.5v2.5h-2.5zM1459.1,1001.7h2.5v2.5h-2.5zM1481.4,967.9h2.5v2.5h-2.5zM1470.6,941.9h2.5v2.5h-2.5zM1467.5,1027.1h2.5v2.5h-2.5zM1469,986.2h2.5v2.5h-2.5zM1470.5,1052.6h2.5v2.5h-2.5zM1464.3,1078.9h2.5v2.5h-2.5zM1454.4,1059.2h2.5v2.5h-2.5zM1464.8,960.7h2.5v2.5h-2.5zM1472.6,944h2.5v2.5h-2.5zM1477.8,960.4h2.5v2.5h-2.5zM1468.6,946.2h2.5v2.5h-2.5zM1429.8,998.7h2.5v2.5h-2.5zM1430.5,997.7h2.5v2.5h-2.5zM1427.8,1006h2.5v2.5h-2.5zM1430.7,997.2h2.5v2.5h-2.5zM1429.9,998.8h2.5v2.5h-2.5zM1425.7,996.2h2.5v2.5h-2.5zM1433,995.9h2.5v2.5h-2.5zM1423.5,997.5h2.5v2.5h-2.5zM1430.2,994.2h2.5v2.5h-2.5zM1428.7,994.6h2.5v2.5h-2.5zM1434.5,1001.8h2.5v2.5h-2.5zM1423.4,992.7h2.5v2.5h-2.5zM1429.1,997.3h2.5v2.5h-2.5zM1430.3,992.8h2.5v2.5h-2.5zM1432.9,1001.3h2.5v2.5h-2.5zM1433.6,994.5h2.5v2.5h-2.5zM1429.7,998.8h2.5v2.5h-2.5zM1426.1,989.3h2.5v2.5h-2.5zM1430.8,996.9h2.5v2.5h-2.5zM1432.4,1002.3h2.5v2.5h-2.5zM1429.1,1004.9h2.5v2.5h-2.5zM1424.3,1001.2h2.5v2.5h-2.5zM1432.2,996.9h2.5v2.5h-2.5zM1429.7,991.1h2.5v2.5h-2.5zM1433.3,1005.3h2.5v2.5h-2.5zM1428.6,1004.7h2.5v2.5h-2.5zM1424.6,998.8h2.5v2.5h-2.5zM1435.2,992.3h2.5v2.5h-2.5zM1430,998.9h2.5v2.5h-2.5zM1436.1,1002.4h2.5v2.5h-2.5zM1427.9,992.5h2.5v2.5h-2.5zM1427.9,1001h2.5v2.5h-2.5zM1423.8,992.6h2.5v2.5h-2.5zM1432.1,993h2.5v2.5h-2.5zM1426.8,1008.3h2.5v2.5h-2.5zM1429.2,993.6h2.5v2.5h-2.5zM1433.5,1007.9h2.5v2.5h-2.5zM1435.2,1005.8h2.5v2.5h-2.5zM1432.9,1006.3h2.5v2.5h-2.5zM1423.8,1000h2.5v2.5h-2.5zM1427.7,999.6h2.5v2.5h-2.5zM1429.8,995.1h2.5v2.5h-2.5zM1428.9,1005.5h2.5v2.5h-2.5zM1426.2,991.6h2.5v2.5h-2.5zM1424.3,993.1h2.5v2.5h-2.5zM1429.7,998.6h2.5v2.5h-2.5zM1433.5,1006.2h2.5v2.5h-2.5zM1423.3,993.3h2.5v2.5h-2.5zM1429.8,1003h2.5v2.5h-2.5zM1425.5,1004.7h2.5v2.5h-2.5z" fill="#000"/>
<clipPath id="hp2"><path d="M1455.8,947.5 C1459,944.6 1462.9,944.8 1466.2,945.1 C1469.5,945.5 1473.3,947.3 1475.4,949.8 C1477.6,952.3 1478.7,956.1 1478.9,960.2 C1479.1,964.3 1478.1,969.8 1476.6,974.1 C1475.1,978.3 1471.4,981.4 1469.7,985.7 C1467.9,989.9 1466.6,994.5 1466.2,999.6 C1465.7,1004.6 1466.5,1009.2 1466.9,1015.8 C1467.3,1022.3 1468.8,1031.2 1468.5,1038.9 C1468.2,1046.6 1466.4,1055.1 1465,1062.1 C1463.7,1069 1463.1,1076.4 1460.4,1080.6 C1457.7,1084.8 1453.5,1086.7 1448.8,1087.1 C1444.2,1087.5 1437.1,1085.5 1432.6,1082.9 C1428.2,1080.3 1424.5,1076.7 1422.2,1071.3 C1419.9,1065.9 1419.1,1057.4 1418.7,1050.5 C1418.3,1043.6 1418.5,1035.4 1419.9,1029.7 C1421.2,1023.9 1424.1,1019.2 1426.8,1015.8 C1429.5,1012.3 1434,1011.9 1436.1,1008.8 C1438.2,1005.7 1438.6,1002.3 1439.6,997.2 C1440.5,992.2 1440.7,984.5 1441.9,978.7 C1443,972.9 1444.2,967.7 1446.5,962.5 C1448.8,957.3 1452.5,950.4 1455.8,947.5Z"/></clipPath>
<g clip-path="url(#hp2)"><path d="M1455.8,947.5 C1459,944.6 1462.9,944.8 1466.2,945.1 C1469.5,945.5 1473.3,947.3 1475.4,949.8 C1477.6,952.3 1478.7,956.1 1478.9,960.2 C1479.1,964.3 1478.1,969.8 1476.6,974.1 C1475.1,978.3 1471.4,981.4 1469.7,985.7 C1467.9,989.9 1466.6,994.5 1466.2,999.6 C1465.7,1004.6 1466.5,1009.2 1466.9,1015.8 C1467.3,1022.3 1468.8,1031.2 1468.5,1038.9 C1468.2,1046.6 1466.4,1055.1 1465,1062.1 C1463.7,1069 1463.1,1076.4 1460.4,1080.6 C1457.7,1084.8 1453.5,1086.7 1448.8,1087.1 C1444.2,1087.5 1437.1,1085.5 1432.6,1082.9 C1428.2,1080.3 1424.5,1076.7 1422.2,1071.3 C1419.9,1065.9 1419.1,1057.4 1418.7,1050.5 C1418.3,1043.6 1418.5,1035.4 1419.9,1029.7 C1421.2,1023.9 1424.1,1019.2 1426.8,1015.8 C1429.5,1012.3 1434,1011.9 1436.1,1008.8 C1438.2,1005.7 1438.6,1002.3 1439.6,997.2 C1440.5,992.2 1440.7,984.5 1441.9,978.7 C1443,972.9 1444.2,967.7 1446.5,962.5 C1448.8,957.3 1452.5,950.4 1455.8,947.5Z" fill="#bdbdbd"/><path d="M1455.8,947.5 C1459,944.6 1462.9,944.8 1466.2,945.1 C1469.5,945.5 1473.3,947.3 1475.4,949.8 C1477.6,952.3 1478.7,956.1 1478.9,960.2 C1479.1,964.3 1478.1,969.8 1476.6,974.1 C1475.1,978.3 1471.4,981.4 1469.7,985.7 C1467.9,989.9 1466.6,994.5 1466.2,999.6 C1465.7,1004.6 1466.5,1009.2 1466.9,1015.8 C1467.3,1022.3 1468.8,1031.2 1468.5,1038.9 C1468.2,1046.6 1466.4,1055.1 1465,1062.1 C1463.7,1069 1463.1,1076.4 1460.4,1080.6 C1457.7,1084.8 1453.5,1086.7 1448.8,1087.1 C1444.2,1087.5 1437.1,1085.5 1432.6,1082.9 C1428.2,1080.3 1424.5,1076.7 1422.2,1071.3 C1419.9,1065.9 1419.1,1057.4 1418.7,1050.5 C1418.3,1043.6 1418.5,1035.4 1419.9,1029.7 C1421.2,1023.9 1424.1,1019.2 1426.8,1015.8 C1429.5,1012.3 1434,1011.9 1436.1,1008.8 C1438.2,1005.7 1438.6,1002.3 1439.6,997.2 C1440.5,992.2 1440.7,984.5 1441.9,978.7 C1443,972.9 1444.2,967.7 1446.5,962.5 C1448.8,957.3 1452.5,950.4 1455.8,947.5Z" fill="none" stroke="#161616" stroke-width="14" filter="url(#bl)" style="--b:3"/></g>
<path d="M1455.8,947.5 C1459,944.6 1462.9,944.8 1466.2,945.1 C1469.5,945.5 1473.3,947.3 1475.4,949.8 C1477.6,952.3 1478.7,956.1 1478.9,960.2 C1479.1,964.3 1478.1,969.8 1476.6,974.1 C1475.1,978.3 1471.4,981.4 1469.7,985.7 C1467.9,989.9 1466.6,994.5 1466.2,999.6 C1465.7,1004.6 1466.5,1009.2 1466.9,1015.8 C1467.3,1022.3 1468.8,1031.2 1468.5,1038.9 C1468.2,1046.6 1466.4,1055.1 1465,1062.1 C1463.7,1069 1463.1,1076.4 1460.4,1080.6 C1457.7,1084.8 1453.5,1086.7 1448.8,1087.1 C1444.2,1087.5 1437.1,1085.5 1432.6,1082.9 C1428.2,1080.3 1424.5,1076.7 1422.2,1071.3 C1419.9,1065.9 1419.1,1057.4 1418.7,1050.5 C1418.3,1043.6 1418.5,1035.4 1419.9,1029.7 C1421.2,1023.9 1424.1,1019.2 1426.8,1015.8 C1429.5,1012.3 1434,1011.9 1436.1,1008.8 C1438.2,1005.7 1438.6,1002.3 1439.6,997.2 C1440.5,992.2 1440.7,984.5 1441.9,978.7 C1443,972.9 1444.2,967.7 1446.5,962.5 C1448.8,957.3 1452.5,950.4 1455.8,947.5Z" fill="none" stroke="#000" stroke-width="2.2" stroke-linejoin="round"/>
<ellipse cx="0" cy="0" rx="16.5" ry="26" transform="translate(1445.5,1041.5) rotate(0)" fill="url(#zb)" stroke="none" stroke-width="0"/>
<line x1="1416.4" y1="1006.6" x2="1490" y2="1006.6" stroke="#333" stroke-width="1" />
</g>
<g clip-path="url(#ec2)">
<path d="M1652.7,1016.5h2.5v2.5h-2.5zM1609.9,946h2.5v2.5h-2.5zM1660,990.5h2.5v2.5h-2.5zM1626.6,943.7h2.5v2.5h-2.5zM1601.4,996h2.5v2.5h-2.5zM1602.1,998.9h2.5v2.5h-2.5zM1635.4,1083h2.5v2.5h-2.5zM1597,1022.8h2.5v2.5h-2.5zM1648.4,1011.5h2.5v2.5h-2.5zM1616.1,1080h2.5v2.5h-2.5zM1652.4,1030.2h2.5v2.5h-2.5zM1616.4,1078.9h2.5v2.5h-2.5zM1630.2,1081.3h2.5v2.5h-2.5zM1605.1,986.7h2.5v2.5h-2.5zM1599,1013.2h2.5v2.5h-2.5zM1651,998.3h2.5v2.5h-2.5zM1653.8,992.8h2.5v2.5h-2.5zM1603.5,986.4h2.5v2.5h-2.5zM1606.4,1008.7h2.5v2.5h-2.5zM1596.4,1030.8h2.5v2.5h-2.5zM1603.2,955.6h2.5v2.5h-2.5zM1648.8,1071.2h2.5v2.5h-2.5zM1604.8,1012.5h2.5v2.5h-2.5zM1654.3,1009.4h2.5v2.5h-2.5zM1596.1,1026.7h2.5v2.5h-2.5zM1660.9,1026.1h2.5v2.5h-2.5zM1596.8,983.5h2.5v2.5h-2.5zM1656.1,1034.6h2.5v2.5h-2.5zM1654.5,984h2.5v2.5h-2.5zM1631.1,936.5h2.5v2.5h-2.5zM1589.3,1050.2h2.5v2.5h-2.5zM1653.2,942.4h2.5v2.5h-2.5zM1657.1,955.8h2.5v2.5h-2.5zM1651.6,1071.8h2.5v2.5h-2.5zM1600.1,1012.8h2.5v2.5h-2.5zM1656.4,984.6h2.5v2.5h-2.5zM1655.6,1006.8h2.5v2.5h-2.5zM1644.2,1080.9h2.5v2.5h-2.5zM1618.9,945.7h2.5v2.5h-2.5zM1602,1007.8h2.5v2.5h-2.5zM1594.9,1036.7h2.5v2.5h-2.5zM1618.9,939.4h2.5v2.5h-2.5zM1655.4,1051.7h2.5v2.5h-2.5zM1599.4,959.4h2.5v2.5h-2.5zM1655.4,1026.1h2.5v2.5h-2.5zM1622.2,1081.6h2.5v2.5h-2.5zM1665.3,976.3h2.5v2.5h-2.5zM1594.9,1044.3h2.5v2.5h-2.5zM1623.7,937.3h2.5v2.5h-2.5zM1654.9,940.7h2.5v2.5h-2.5zM1666.1,973.8h2.5v2.5h-2.5zM1607.3,1082.1h2.5v2.5h-2.5zM1593.1,1038.5h2.5v2.5h-2.5zM1654.2,1011.4h2.5v2.5h-2.5zM1664.5,965.4h2.5v2.5h-2.5zM1656.8,992h2.5v2.5h-2.5zM1658.8,967.1h2.5v2.5h-2.5zM1601.7,1070.3h2.5v2.5h-2.5zM1655.1,1029.6h2.5v2.5h-2.5zM1656,982.1h2.5v2.5h-2.5zM1595.2,1039.9h2.5v2.5h-2.5zM1593.5,1013.8h2.5v2.5h-2.5zM1655.5,1004.3h2.5v2.5h-2.5zM1655.5,950.2h2.5v2.5h-2.5zM1636.6,1080h2.5v2.5h-2.5zM1651.6,1018.5h2.5v2.5h-2.5zM1653.4,1047.3h2.5v2.5h-2.5zM1658.8,1041.7h2.5v2.5h-2.5zM1593.3,1042.3h2.5v2.5h-2.5zM1664.9,967.5h2.5v2.5h-2.5zM1599.6,1014.5h2.5v2.5h-2.5zM1638.1,942.3h2.5v2.5h-2.5zM1602.3,994.9h2.5v2.5h-2.5zM1602.2,1006.7h2.5v2.5h-2.5zM1655.3,1004.8h2.5v2.5h-2.5zM1595.3,966.4h2.5v2.5h-2.5zM1660.9,982.8h2.5v2.5h-2.5zM1600.3,949.5h2.5v2.5h-2.5zM1656.1,997.6h2.5v2.5h-2.5zM1598.3,1010.8h2.5v2.5h-2.5zM1630.7,941.5h2.5v2.5h-2.5zM1658.5,1058.2h2.5v2.5h-2.5zM1592.6,1035.6h2.5v2.5h-2.5zM1590.3,1034.3h2.5v2.5h-2.5zM1654.7,1007.3h2.5v2.5h-2.5zM1645,1082.2h2.5v2.5h-2.5zM1606.9,984.5h2.5v2.5h-2.5zM1602.1,1003.2h2.5v2.5h-2.5zM1643.1,938.3h2.5v2.5h-2.5zM1652.1,1076.1h2.5v2.5h-2.5zM1605.3,981.8h2.5v2.5h-2.5zM1662,957h2.5v2.5h-2.5zM1593.8,1014.7h2.5v2.5h-2.5zM1667.1,959.8h2.5v2.5h-2.5zM1650.8,1014.7h2.5v2.5h-2.5zM1660.1,1044.4h2.5v2.5h-2.5zM1603.3,941.4h2.5v2.5h-2.5zM1656.6,1000.9h2.5v2.5h-2.5zM1599.8,952.7h2.5v2.5h-2.5zM1589.9,1059.1h2.5v2.5h-2.5zM1657.6,978.2h2.5v2.5h-2.5zM1591,1025.8h2.5v2.5h-2.5zM1656.4,947.7h2.5v2.5h-2.5zM1659.5,969h2.5v2.5h-2.5zM1652.2,1007.8h2.5v2.5h-2.5zM1621.1,1087.1h2.5v2.5h-2.5zM1599.8,955.5h2.5v2.5h-2.5zM1599.2,969.3h2.5v2.5h-2.5zM1635.5,941.3h2.5v2.5h-2.5zM1656.7,1015.3h2.5v2.5h-2.5zM1597.3,983.6h2.5v2.5h-2.5zM1608.4,1076.8h2.5v2.5h-2.5zM1595.9,1014.1h2.5v2.5h-2.5zM1640.4,1080.6h2.5v2.5h-2.5zM1600.9,961.3h2.5v2.5h-2.5zM1660.2,979.7h2.5v2.5h-2.5zM1604.6,1011h2.5v2.5h-2.5zM1591.9,1063.9h2.5v2.5h-2.5zM1589.3,1046.8h2.5v2.5h-2.5zM1621.6,939.3h2.5v2.5h-2.5zM1659,1035.6h2.5v2.5h-2.5zM1596.1,951.9h2.5v2.5h-2.5zM1602.8,975.8h2.5v2.5h-2.5zM1610,939.3h2.5v2.5h-2.5zM1656.2,1040.6h2.5v2.5h-2.5zM1661.3,981.2h2.5v2.5h-2.5zM1608,1009.2h2.5v2.5h-2.5zM1606,986.1h2.5v2.5h-2.5zM1662.8,950.2h2.5v2.5h-2.5zM1599.3,1068.2h2.5v2.5h-2.5zM1650.4,945h2.5v2.5h-2.5zM1591.6,1047.1h2.5v2.5h-2.5zM1598.7,955.1h2.5v2.5h-2.5zM1636.7,1082.8h2.5v2.5h-2.5zM1595.4,970.6h2.5v2.5h-2.5zM1608.8,946.8h2.5v2.5h-2.5zM1598,1007.7h2.5v2.5h-2.5zM1625.2,1083.4h2.5v2.5h-2.5zM1650.8,1010.7h2.5v2.5h-2.5zM1661,1023.4h2.5v2.5h-2.5zM1653.3,1038.8h2.5v2.5h-2.5zM1601.8,1006.1h2.5v2.5h-2.5zM1592,1045.9h2.5v2.5h-2.5zM1590.4,1053.2h2.5v2.5h-2.5zM1594.8,1011.4h2.5v2.5h-2.5zM1663.8,967h2.5v2.5h-2.5zM1663,971.7h2.5v2.5h-2.5zM1657.8,1033.9h2.5v2.5h-2.5zM1591.1,1031.9h2.5v2.5h-2.5zM1604.9,949.7h2.5v2.5h-2.5zM1658.8,944.8h2.5v2.5h-2.5zM1606.7,994.6h2.5v2.5h-2.5zM1602.5,995.5h2.5v2.5h-2.5zM1658.7,1034.8h2.5v2.5h-2.5zM1607,1082.7h2.5v2.5h-2.5zM1653.6,1054.6h2.5v2.5h-2.5zM1614,1083.3h2.5v2.5h-2.5zM1596.3,955.1h2.5v2.5h-2.5zM1594.6,1030.4h2.5v2.5h-2.5zM1609,1004.1h2.5v2.5h-2.5zM1606.4,989.3h2.5v2.5h-2.5zM1655.1,1068.6h2.5v2.5h-2.5zM1652.7,1018.5h2.5v2.5h-2.5zM1591,1066h2.5v2.5h-2.5zM1604.7,944.6h2.5v2.5h-2.5zM1592.1,1031.5h2.5v2.5h-2.5zM1660.8,1051.3h2.5v2.5h-2.5zM1602.7,1006h2.5v2.5h-2.5zM1600.2,1071.6h2.5v2.5h-2.5zM1598.4,966.9h2.5v2.5h-2.5zM1615,942h2.5v2.5h-2.5zM1658.9,950.7h2.5v2.5h-2.5zM1599.3,952.8h2.5v2.5h-2.5zM1651,1008.1h2.5v2.5h-2.5zM1588.1,1043.8h2.5v2.5h-2.5zM1604,990.9h2.5v2.5h-2.5zM1642.6,942.1h2.5v2.5h-2.5zM1652.3,943.4h2.5v2.5h-2.5zM1658.6,954.4h2.5v2.5h-2.5zM1652.9,1077.2h2.5v2.5h-2.5zM1596.8,1068.4h2.5v2.5h-2.5zM1595,1012.1h2.5v2.5h-2.5zM1599.5,1076.1h2.5v2.5h-2.5zM1598.6,976.3h2.5v2.5h-2.5zM1604.4,953.5h2.5v2.5h-2.5zM1606.2,1076.2h2.5v2.5h-2.5zM1607.1,1007.4h2.5v2.5h-2.5zM1661.4,952h2.5v2.5h-2.5zM1656.3,999.7h2.5v2.5h-2.5zM1603.4,992.7h2.5v2.5h-2.5zM1609.2,1001.6h2.5v2.5h-2.5zM1649.6,1000.7h2.5v2.5h-2.5zM1657.8,988.2h2.5v2.5h-2.5zM1606.6,948h2.5v2.5h-2.5zM1601,1011.5h2.5v2.5h-2.5zM1599.3,1063.6h2.5v2.5h-2.5zM1615,941.5h2.5v2.5h-2.5zM1660.5,972.3h2.5v2.5h-2.5zM1662.2,979.7h2.5v2.5h-2.5zM1608.9,994.9h2.5v2.5h-2.5z" fill="#000"/>
<clipPath id="hp3"><path d="M1606.3,949.8 C1609.7,946.9 1616.7,946.1 1622.5,945.1 C1628.3,944.2 1635.6,943.4 1641,944 C1646.4,944.6 1651.6,945.9 1654.9,948.6 C1658.2,951.3 1659.9,955.2 1660.7,960.2 C1661.4,965.2 1660.9,972.5 1659.5,978.7 C1658.2,984.9 1654.3,992.2 1652.6,997.2 C1650.8,1002.3 1648.9,1005 1649.1,1008.8 C1649.3,1012.7 1652.6,1015.4 1653.7,1020.4 C1654.9,1025.4 1656.2,1032 1656,1038.9 C1655.9,1045.9 1654.3,1055.5 1652.6,1062.1 C1650.8,1068.6 1649.9,1074.8 1645.6,1078.3 C1641.4,1081.8 1633.7,1082.9 1627.1,1082.9 C1620.5,1082.9 1611.1,1081.8 1606.3,1078.3 C1601.4,1074.8 1599.9,1068.6 1598.2,1062.1 C1596.4,1055.5 1595.7,1045.9 1595.8,1038.9 C1596,1032 1597,1025.4 1599.3,1020.4 C1601.6,1015.4 1607.8,1012.7 1609.7,1008.8 C1611.7,1005 1611.9,1002.3 1610.9,997.2 C1609.9,992.2 1605.5,984.5 1603.9,978.7 C1602.4,972.9 1601.2,967.3 1601.6,962.5 C1602,957.7 1602.8,952.7 1606.3,949.8Z"/></clipPath>
<g clip-path="url(#hp3)"><path d="M1606.3,949.8 C1609.7,946.9 1616.7,946.1 1622.5,945.1 C1628.3,944.2 1635.6,943.4 1641,944 C1646.4,944.6 1651.6,945.9 1654.9,948.6 C1658.2,951.3 1659.9,955.2 1660.7,960.2 C1661.4,965.2 1660.9,972.5 1659.5,978.7 C1658.2,984.9 1654.3,992.2 1652.6,997.2 C1650.8,1002.3 1648.9,1005 1649.1,1008.8 C1649.3,1012.7 1652.6,1015.4 1653.7,1020.4 C1654.9,1025.4 1656.2,1032 1656,1038.9 C1655.9,1045.9 1654.3,1055.5 1652.6,1062.1 C1650.8,1068.6 1649.9,1074.8 1645.6,1078.3 C1641.4,1081.8 1633.7,1082.9 1627.1,1082.9 C1620.5,1082.9 1611.1,1081.8 1606.3,1078.3 C1601.4,1074.8 1599.9,1068.6 1598.2,1062.1 C1596.4,1055.5 1595.7,1045.9 1595.8,1038.9 C1596,1032 1597,1025.4 1599.3,1020.4 C1601.6,1015.4 1607.8,1012.7 1609.7,1008.8 C1611.7,1005 1611.9,1002.3 1610.9,997.2 C1609.9,992.2 1605.5,984.5 1603.9,978.7 C1602.4,972.9 1601.2,967.3 1601.6,962.5 C1602,957.7 1602.8,952.7 1606.3,949.8Z" fill="#bdbdbd"/><path d="M1606.3,949.8 C1609.7,946.9 1616.7,946.1 1622.5,945.1 C1628.3,944.2 1635.6,943.4 1641,944 C1646.4,944.6 1651.6,945.9 1654.9,948.6 C1658.2,951.3 1659.9,955.2 1660.7,960.2 C1661.4,965.2 1660.9,972.5 1659.5,978.7 C1658.2,984.9 1654.3,992.2 1652.6,997.2 C1650.8,1002.3 1648.9,1005 1649.1,1008.8 C1649.3,1012.7 1652.6,1015.4 1653.7,1020.4 C1654.9,1025.4 1656.2,1032 1656,1038.9 C1655.9,1045.9 1654.3,1055.5 1652.6,1062.1 C1650.8,1068.6 1649.9,1074.8 1645.6,1078.3 C1641.4,1081.8 1633.7,1082.9 1627.1,1082.9 C1620.5,1082.9 1611.1,1081.8 1606.3,1078.3 C1601.4,1074.8 1599.9,1068.6 1598.2,1062.1 C1596.4,1055.5 1595.7,1045.9 1595.8,1038.9 C1596,1032 1597,1025.4 1599.3,1020.4 C1601.6,1015.4 1607.8,1012.7 1609.7,1008.8 C1611.7,1005 1611.9,1002.3 1610.9,997.2 C1609.9,992.2 1605.5,984.5 1603.9,978.7 C1602.4,972.9 1601.2,967.3 1601.6,962.5 C1602,957.7 1602.8,952.7 1606.3,949.8Z" fill="none" stroke="#161616" stroke-width="14" filter="url(#bl)" style="--b:3"/></g>
<path d="M1606.3,949.8 C1609.7,946.9 1616.7,946.1 1622.5,945.1 C1628.3,944.2 1635.6,943.4 1641,944 C1646.4,944.6 1651.6,945.9 1654.9,948.6 C1658.2,951.3 1659.9,955.2 1660.7,960.2 C1661.4,965.2 1660.9,972.5 1659.5,978.7 C1658.2,984.9 1654.3,992.2 1652.6,997.2 C1650.8,1002.3 1648.9,1005 1649.1,1008.8 C1649.3,1012.7 1652.6,1015.4 1653.7,1020.4 C1654.9,1025.4 1656.2,1032 1656,1038.9 C1655.9,1045.9 1654.3,1055.5 1652.6,1062.1 C1650.8,1068.6 1649.9,1074.8 1645.6,1078.3 C1641.4,1081.8 1633.7,1082.9 1627.1,1082.9 C1620.5,1082.9 1611.1,1081.8 1606.3,1078.3 C1601.4,1074.8 1599.9,1068.6 1598.2,1062.1 C1596.4,1055.5 1595.7,1045.9 1595.8,1038.9 C1596,1032 1597,1025.4 1599.3,1020.4 C1601.6,1015.4 1607.8,1012.7 1609.7,1008.8 C1611.7,1005 1611.9,1002.3 1610.9,997.2 C1609.9,992.2 1605.5,984.5 1603.9,978.7 C1602.4,972.9 1601.2,967.3 1601.6,962.5 C1602,957.7 1602.8,952.7 1606.3,949.8Z" fill="none" stroke="#000" stroke-width="2.2" stroke-linejoin="round"/>
<ellipse cx="0" cy="0" rx="19" ry="24" transform="translate(1634,969) rotate(20)" fill="url(#zl)" stroke="none" stroke-width="0"/>
<ellipse cx="0" cy="0" rx="20.5" ry="24" transform="translate(1621.5,1039) rotate(0)" fill="url(#zb)" stroke="none" stroke-width="0"/>
<line x1="1594.2" y1="1006.6" x2="1668.3" y2="1006.6" stroke="#333" stroke-width="1" />
</g>
<text x="1188.7" y="968" font-size="19" textLength="39.7" lengthAdjust="spacingAndGlyphs" fill="#2a2a2a" font-weight="bold">38.4</text>
<text x="1366.8" y="968" font-size="19" textLength="38.8" lengthAdjust="spacingAndGlyphs" fill="#2a2a2a" font-weight="bold">8.08</text>
<text x="1545.9" y="968" font-size="19" textLength="38.3" lengthAdjust="spacingAndGlyphs" fill="#2a2a2a" font-weight="bold">20.0</text>
<text x="1140.2" y="948.3" font-size="12.5" fill="#3c3c3c">10</text>
<text x="1155.3" y="940.5" font-size="14" fill="#3c3c3c">5</text>
<text x="1140.2" y="980" font-size="12.5" fill="#3c3c3c">10</text>
<text x="1155.3" y="972.2" font-size="14" fill="#3c3c3c">4</text>
<text x="1140.2" y="1016.5" font-size="12.5" fill="#3c3c3c">10</text>
<text x="1155.3" y="1008.8" font-size="14" fill="#3c3c3c">3</text>
<text x="1151" y="1064" font-size="14" text-anchor="middle" fill="#3c3c3c">0</text>
<text x="1197.4" y="1114.7" font-size="14" text-anchor="middle" fill="#3c3c3c">0</text>
<text x="1243.6" y="1114.2" font-size="12.5" fill="#3c3c3c">10</text>
<text x="1258.7" y="1106.5" font-size="14" fill="#3c3c3c">3</text>
<text x="1285.2" y="1114.2" font-size="12.5" fill="#3c3c3c">10</text>
<text x="1300.3" y="1106.5" font-size="14" fill="#3c3c3c">4</text>
<text x="1320.3" y="1114.2" font-size="12.5" fill="#3c3c3c">10</text>
<text x="1335.4" y="1106.5" font-size="14" fill="#3c3c3c">5</text>
<text x="1182" y="1152.4" font-size="32" textLength="276.6" lengthAdjust="spacingAndGlyphs">APC-Cy-7-A :: CD4</text>
<line x1="1475.3" y1="1137" x2="1662.5" y2="1137" stroke="#000" stroke-width="3.6" />
<polygon points="1682.5,1137 1660.5,1126.4 1660.5,1147.6" fill="#000"/>
<text font-size="32" textLength="253.6" lengthAdjust="spacingAndGlyphs" transform="translate(1124.8,1143.6) rotate(-90)">PE-Cy-7-A :: IFNγ</text>
<path d="M1447.6,1401.7 V1399.8 H1482.4 V1401.7" fill="none" stroke="#ff0000" stroke-width="3.2"/>
<path d="M1507.5,1401.7 V1314.5 H1544.2 V1401.7" fill="none" stroke="#00b400" stroke-width="3.2"/>
<path d="M1568.2,1401.7 V1360.8 H1604.8 V1401.7" fill="none" stroke="#a31cf0" stroke-width="3.2"/>
<line x1="1465" y1="1385.7" x2="1465" y2="1400" stroke="#000" stroke-width="2.6" />
<line x1="1456" y1="1385.7" x2="1474" y2="1385.7" stroke="#000" stroke-width="2.6" />
<line x1="1525.6" y1="1278.4" x2="1525.6" y2="1346.6" stroke="#000" stroke-width="2.6" />
<line x1="1516.1" y1="1278.4" x2="1535.1" y2="1278.4" stroke="#000" stroke-width="2.6" />
<line x1="1516.1" y1="1346.6" x2="1535.1" y2="1346.6" stroke="#000" stroke-width="2.6" />
<line x1="1586.7" y1="1322.4" x2="1586.7" y2="1394.4" stroke="#000" stroke-width="2.6" />
<line x1="1577.2" y1="1322.4" x2="1596.2" y2="1322.4" stroke="#000" stroke-width="2.6" />
<line x1="1577.2" y1="1394.4" x2="1596.2" y2="1394.4" stroke="#000" stroke-width="2.6" />
<line x1="1425.1" y1="1246.5" x2="1425.1" y2="1403.2" stroke="#000" stroke-width="3" />
<line x1="1415.6" y1="1401.7" x2="1628" y2="1401.7" stroke="#000" stroke-width="3" />
<line x1="1415.6" y1="1248" x2="1425.1" y2="1248" stroke="#000" stroke-width="3" />
<text x="1407.5" y="1259.1" font-size="31" text-anchor="end">90</text>
<line x1="1415.6" y1="1299.6" x2="1425.1" y2="1299.6" stroke="#000" stroke-width="3" />
<text x="1407.5" y="1310.7" font-size="31" text-anchor="end">60</text>
<line x1="1415.6" y1="1350.8" x2="1425.1" y2="1350.8" stroke="#000" stroke-width="3" />
<text x="1407.5" y="1361.9" font-size="31" text-anchor="end">30</text>
<line x1="1415.6" y1="1401.7" x2="1425.1" y2="1401.7" stroke="#000" stroke-width="3" />
<text x="1407.5" y="1412.8" font-size="31" text-anchor="end">0</text>
<line x1="1465" y1="1401.7" x2="1465" y2="1411.2" stroke="#000" stroke-width="3" />
<line x1="1525.6" y1="1401.7" x2="1525.6" y2="1411.2" stroke="#000" stroke-width="3" />
<line x1="1586.7" y1="1401.7" x2="1586.7" y2="1411.2" stroke="#000" stroke-width="3" />
<circle cx="1465" cy="1376.2" r="4.7" fill="#ff0000"/>
<circle cx="1449.8" cy="1401.7" r="4.7" fill="#ff0000"/>
<circle cx="1459.6" cy="1401.7" r="4.7" fill="#ff0000"/>
<circle cx="1469.9" cy="1401.7" r="4.7" fill="#ff0000"/>
<circle cx="1480" cy="1401.7" r="4.7" fill="#ff0000"/>
<rect x="1521.2" y="1263" width="8.8" height="8.8" fill="#00b400"/>
<rect x="1521.2" y="1284.6" width="8.8" height="8.8" fill="#00b400"/>
<rect x="1521.2" y="1318.6" width="8.8" height="8.8" fill="#00b400"/>
<rect x="1521.2" y="1325.6" width="8.8" height="8.8" fill="#00b400"/>
<rect x="1521.2" y="1349.1" width="8.8" height="8.8" fill="#00b400"/>
<polygon points="1577.2,1316.5 1572.5,1325 1581.9,1325" fill="#a31cf0"/>
<polygon points="1596.2,1318.3 1591.5,1326.8 1600.9,1326.8" fill="#a31cf0"/>
<polygon points="1586.7,1357.1 1582,1365.6 1591.4,1365.6" fill="#a31cf0"/>
<polygon points="1586.7,1381 1582,1389.5 1591.4,1389.5" fill="#a31cf0"/>
<polygon points="1586.7,1398.1 1582,1406.6 1591.4,1406.6" fill="#a31cf0"/>
<text x="1485" y="1193.4" font-size="24.5" textLength="78.6" lengthAdjust="spacingAndGlyphs">P=0.08</text>
<line x1="1452.8" y1="1200.6" x2="1590.5" y2="1200.6" stroke="#000" stroke-width="2" />
<text x="1425" y="1234.7" font-size="24.5" textLength="92.3" lengthAdjust="spacingAndGlyphs">P=0.002</text>
<line x1="1444.5" y1="1243.5" x2="1516.2" y2="1243.5" stroke="#000" stroke-width="2" />
<text x="1531.3" y="1232.8" font-size="24.5" textLength="78.2" lengthAdjust="spacingAndGlyphs">P=0.04</text>
<line x1="1531.3" y1="1238.5" x2="1602.7" y2="1238.5" stroke="#000" stroke-width="2" />
<text font-size="32" textLength="215.4" lengthAdjust="spacingAndGlyphs" transform="translate(1353.4,1413.4) rotate(-90)">% Suppression</text>
<text x="1229" y="1454" font-size="32" textLength="110" lengthAdjust="spacingAndGlyphs">MDDCs</text>
<text x="1228.2" y="1486.3" font-size="32" textLength="177.2" lengthAdjust="spacingAndGlyphs">CD4<tspan dy="-11.52" font-size="19.84">+</tspan><tspan dy="11.52"> T cells</tspan></text>
<text x="1164.5" y="1524.2" font-size="32" textLength="285.3" lengthAdjust="spacingAndGlyphs">TIGIT<tspan dy="-11.52" font-size="19.84">+</tspan><tspan dy="11.52"> Mem. B cells</tspan></text>
<text x="1227" y="1559" font-size="32" textLength="189.8" lengthAdjust="spacingAndGlyphs">TIGIT<tspan dy="-11.52" font-size="19.84">-</tspan><tspan dy="11.52"> B cells</tspan></text>
<text x="1465" y="1454.6" font-size="32" text-anchor="middle">+</text>
<text x="1528.7" y="1454.6" font-size="32" text-anchor="middle">+</text>
<text x="1584.4" y="1454.6" font-size="32" text-anchor="middle">+</text>
<text x="1468.7" y="1487.2" font-size="32" text-anchor="middle">+</text>
<text x="1531.7" y="1487.2" font-size="32" text-anchor="middle">+</text>
<text x="1588.2" y="1487.2" font-size="32" text-anchor="middle">+</text>
<text x="1474.4" y="1525.2" font-size="32" text-anchor="middle">-</text>
<text x="1533.6" y="1525.2" font-size="32" text-anchor="middle">+</text>
<text x="1593.2" y="1525.2" font-size="32" text-anchor="middle">-</text>
<text x="1476.3" y="1560" font-size="32" text-anchor="middle">-</text>
<text x="1533.6" y="1560" font-size="32" text-anchor="middle">-</text>
<text x="1592.4" y="1560" font-size="32" text-anchor="middle">+</text>
<text x="1016" y="1615.8" font-size="44" font-weight="bold">f</text>
<text x="1235.9" y="1629.5" font-size="32" textLength="376.1" lengthAdjust="spacingAndGlyphs">+ (MDDCs + CD4<tspan dy="-11.52" font-size="19.84">+</tspan><tspan dy="11.52"> T cells)</tspan></text>
<line x1="1147.7" y1="1639.2" x2="1677.7" y2="1639.2" stroke="#000" stroke-width="4" />
<text x="1337.3" y="1671.4" font-size="32" textLength="178.6" lengthAdjust="spacingAndGlyphs">TIGIT<tspan dy="-11.52" font-size="19.84">+</tspan><tspan dy="11.52"> Mem.</tspan></text>
<text x="1185.2" y="1692.6" font-size="32" textLength="143.3" lengthAdjust="spacingAndGlyphs">No B cells</text>
<text x="1379.2" y="1712.4" font-size="32" textLength="92.6" lengthAdjust="spacingAndGlyphs">B cells</text>
<text x="1522.5" y="1697.9" font-size="32" textLength="194.2" lengthAdjust="spacingAndGlyphs">TIGIT<tspan dy="-11.52" font-size="19.84">-</tspan><tspan dy="11.52"> B cells</tspan></text>
<rect x="1175.8" y="1717" width="165.2" height="179.7" fill="#fff" stroke="#5e5e5e" stroke-width="1.1" />
<line x1="1174.3" y1="1723" x2="1174.3" y2="1893.7" stroke="#999" stroke-width="2.2" stroke-dasharray="0.8 3.3"/>
<line x1="1178.8" y1="1898.2" x2="1338" y2="1898.2" stroke="#999" stroke-width="2.2" stroke-dasharray="0.8 3.3"/>
<line x1="1171.3" y1="1732" x2="1175.8" y2="1732" stroke="#444" stroke-width="1.3" />
<line x1="1171.3" y1="1763" x2="1175.8" y2="1763" stroke="#444" stroke-width="1.3" />
<line x1="1171.3" y1="1800.5" x2="1175.8" y2="1800.5" stroke="#444" stroke-width="1.3" />
<line x1="1171.3" y1="1832" x2="1175.8" y2="1832" stroke="#444" stroke-width="1.3" />
<line x1="1171.3" y1="1861" x2="1175.8" y2="1861" stroke="#444" stroke-width="1.3" />
<line x1="1217.3" y1="1896.7" x2="1217.3" y2="1901.2" stroke="#444" stroke-width="1.3" />
<line x1="1269.8" y1="1896.7" x2="1269.8" y2="1901.2" stroke="#444" stroke-width="1.3" />
<line x1="1299.8" y1="1896.7" x2="1299.8" y2="1901.2" stroke="#444" stroke-width="1.3" />
<line x1="1325.8" y1="1896.7" x2="1325.8" y2="1901.2" stroke="#444" stroke-width="1.3" />
<rect x="1172" y="1828" width="3" height="8" fill="#4a4a4a"/>
<rect x="1212.8" y="1897.5" width="9" height="2.8" fill="#4a4a4a"/>
<rect x="1276.9" y="1720.6" width="52.7" height="78.6" fill="none" stroke="#444" stroke-width="1.3" />
<rect x="1215.8" y="1830" width="2.6" height="2.6" fill="#222"/>
<clipPath id="fc0"><rect x="1176.8" y="1718" width="163.2" height="178.7"/></clipPath>
<rect x="1349" y="1717" width="165.3" height="179.7" fill="#fff" stroke="#5e5e5e" stroke-width="1.1" />
<line x1="1347.5" y1="1723" x2="1347.5" y2="1893.7" stroke="#999" stroke-width="2.2" stroke-dasharray="0.8 3.3"/>
<line x1="1352" y1="1898.2" x2="1511.3" y2="1898.2" stroke="#999" stroke-width="2.2" stroke-dasharray="0.8 3.3"/>
<line x1="1344.5" y1="1732" x2="1349" y2="1732" stroke="#444" stroke-width="1.3" />
<line x1="1344.5" y1="1763" x2="1349" y2="1763" stroke="#444" stroke-width="1.3" />
<line x1="1344.5" y1="1800.5" x2="1349" y2="1800.5" stroke="#444" stroke-width="1.3" />
<line x1="1344.5" y1="1832" x2="1349" y2="1832" stroke="#444" stroke-width="1.3" />
<line x1="1344.5" y1="1861" x2="1349" y2="1861" stroke="#444" stroke-width="1.3" />
<line x1="1390.5" y1="1896.7" x2="1390.5" y2="1901.2" stroke="#444" stroke-width="1.3" />
<line x1="1443" y1="1896.7" x2="1443" y2="1901.2" stroke="#444" stroke-width="1.3" />
<line x1="1473" y1="1896.7" x2="1473" y2="1901.2" stroke="#444" stroke-width="1.3" />
<line x1="1499" y1="1896.7" x2="1499" y2="1901.2" stroke="#444" stroke-width="1.3" />
<rect x="1345.2" y="1828" width="3" height="8" fill="#4a4a4a"/>
<rect x="1386" y="1897.5" width="9" height="2.8" fill="#4a4a4a"/>
<rect x="1450.5" y="1720.6" width="53" height="78.6" fill="none" stroke="#444" stroke-width="1.3" />
<rect x="1389" y="1830" width="2.6" height="2.6" fill="#222"/>
<clipPath id="fc1"><rect x="1350" y="1718" width="163.3" height="178.7"/></clipPath>
<rect x="1522.3" y="1717" width="166.3" height="179.7" fill="#fff" stroke="#5e5e5e" stroke-width="1.1" />
<line x1="1520.8" y1="1723" x2="1520.8" y2="1893.7" stroke="#999" stroke-width="2.2" stroke-dasharray="0.8 3.3"/>
<line x1="1525.3" y1="1898.2" x2="1685.6" y2="1898.2" stroke="#999" stroke-width="2.2" stroke-dasharray="0.8 3.3"/>
<line x1="1517.8" y1="1732" x2="1522.3" y2="1732" stroke="#444" stroke-width="1.3" />
<line x1="1517.8" y1="1763" x2="1522.3" y2="1763" stroke="#444" stroke-width="1.3" />
<line x1="1517.8" y1="1800.5" x2="1522.3" y2="1800.5" stroke="#444" stroke-width="1.3" />
<line x1="1517.8" y1="1832" x2="1522.3" y2="1832" stroke="#444" stroke-width="1.3" />
<line x1="1517.8" y1="1861" x2="1522.3" y2="1861" stroke="#444" stroke-width="1.3" />
<line x1="1563.8" y1="1896.7" x2="1563.8" y2="1901.2" stroke="#444" stroke-width="1.3" />
<line x1="1616.3" y1="1896.7" x2="1616.3" y2="1901.2" stroke="#444" stroke-width="1.3" />
<line x1="1646.3" y1="1896.7" x2="1646.3" y2="1901.2" stroke="#444" stroke-width="1.3" />
<line x1="1672.3" y1="1896.7" x2="1672.3" y2="1901.2" stroke="#444" stroke-width="1.3" />
<rect x="1518.5" y="1828" width="3" height="8" fill="#4a4a4a"/>
<rect x="1559.3" y="1897.5" width="9" height="2.8" fill="#4a4a4a"/>
<rect x="1624.4" y="1720.6" width="53.1" height="78.6" fill="none" stroke="#444" stroke-width="1.3" />
<rect x="1562.3" y="1830" width="2.6" height="2.6" fill="#222"/>
<clipPath id="fc2"><rect x="1523.3" y="1718" width="164.3" height="178.7"/></clipPath>
<g clip-path="url(#fc0)">
<path d="M1295.5,1771.4h2.5v2.5h-2.5zM1318.4,1739.2h2.5v2.5h-2.5zM1298.6,1754.5h2.5v2.5h-2.5zM1300.8,1802.8h2.5v2.5h-2.5zM1308.7,1716.4h2.5v2.5h-2.5zM1307.8,1782.8h2.5v2.5h-2.5zM1308.6,1791.1h2.5v2.5h-2.5zM1311.3,1727.8h2.5v2.5h-2.5zM1318.9,1754.2h2.5v2.5h-2.5zM1310.6,1716.1h2.5v2.5h-2.5zM1304.2,1786h2.5v2.5h-2.5zM1302.3,1751.7h2.5v2.5h-2.5zM1301.6,1795.4h2.5v2.5h-2.5zM1312.8,1769h2.5v2.5h-2.5zM1292.9,1777.8h2.5v2.5h-2.5zM1299.1,1750.7h2.5v2.5h-2.5zM1297.6,1756.9h2.5v2.5h-2.5zM1297.7,1767.9h2.5v2.5h-2.5zM1317.9,1760.2h2.5v2.5h-2.5zM1321.4,1714.7h2.5v2.5h-2.5zM1296.6,1793.5h2.5v2.5h-2.5zM1298.4,1790.9h2.5v2.5h-2.5zM1316.8,1715.3h2.5v2.5h-2.5zM1318.7,1724h2.5v2.5h-2.5zM1319.7,1745.8h2.5v2.5h-2.5zM1313.3,1760.3h2.5v2.5h-2.5zM1318.8,1735.6h2.5v2.5h-2.5zM1315.5,1755h2.5v2.5h-2.5zM1309.9,1783h2.5v2.5h-2.5zM1316.3,1719.9h2.5v2.5h-2.5zM1308.4,1781.8h2.5v2.5h-2.5zM1318.8,1748.4h2.5v2.5h-2.5zM1306.2,1786.2h2.5v2.5h-2.5zM1307.2,1779.4h2.5v2.5h-2.5zM1316.1,1723.9h2.5v2.5h-2.5zM1302.9,1740.7h2.5v2.5h-2.5zM1299.5,1810h2.5v2.5h-2.5zM1304.9,1797.8h2.5v2.5h-2.5zM1306.2,1789.7h2.5v2.5h-2.5zM1300.1,1797.8h2.5v2.5h-2.5zM1318.6,1750.6h2.5v2.5h-2.5zM1291.5,1813.6h2.5v2.5h-2.5zM1299.6,1801.5h2.5v2.5h-2.5zM1320.9,1719.2h2.5v2.5h-2.5zM1307.8,1797.3h2.5v2.5h-2.5zM1300.2,1797.4h2.5v2.5h-2.5zM1316.5,1717.8h2.5v2.5h-2.5zM1298.2,1790.6h2.5v2.5h-2.5zM1308.4,1786.9h2.5v2.5h-2.5zM1296.5,1808.9h2.5v2.5h-2.5zM1294.3,1790.4h2.5v2.5h-2.5zM1317.1,1748.6h2.5v2.5h-2.5zM1303.2,1730.4h2.5v2.5h-2.5zM1302.3,1792.3h2.5v2.5h-2.5zM1321.7,1729.6h2.5v2.5h-2.5zM1298.9,1796h2.5v2.5h-2.5zM1318.9,1698h2.5v2.5h-2.5zM1298,1817.1h2.5v2.5h-2.5zM1320.4,1726.3h2.5v2.5h-2.5zM1297.9,1774h2.5v2.5h-2.5zM1314,1775.8h2.5v2.5h-2.5zM1296.1,1812.1h2.5v2.5h-2.5zM1294.2,1815.7h2.5v2.5h-2.5zM1305.8,1734.4h2.5v2.5h-2.5zM1300.8,1807.7h2.5v2.5h-2.5zM1309.4,1776.2h2.5v2.5h-2.5zM1301.8,1735.6h2.5v2.5h-2.5zM1307.1,1731.3h2.5v2.5h-2.5zM1316.5,1741.3h2.5v2.5h-2.5zM1312.8,1764.3h2.5v2.5h-2.5zM1298.9,1768.7h2.5v2.5h-2.5zM1302,1797.8h2.5v2.5h-2.5zM1304.5,1742h2.5v2.5h-2.5zM1290.5,1802.4h2.5v2.5h-2.5zM1317.1,1754.3h2.5v2.5h-2.5zM1313.4,1711.8h2.5v2.5h-2.5zM1305,1784.5h2.5v2.5h-2.5zM1315.7,1767.7h2.5v2.5h-2.5zM1315.9,1699.5h2.5v2.5h-2.5zM1314.2,1767.5h2.5v2.5h-2.5zM1296,1762.8h2.5v2.5h-2.5zM1290.1,1814.6h2.5v2.5h-2.5zM1309.6,1782.4h2.5v2.5h-2.5zM1318.5,1699.3h2.5v2.5h-2.5zM1317.3,1705.4h2.5v2.5h-2.5zM1321.8,1701.6h2.5v2.5h-2.5zM1292.2,1799.9h2.5v2.5h-2.5zM1322.3,1726.3h2.5v2.5h-2.5zM1292.3,1784.8h2.5v2.5h-2.5zM1320.3,1722.7h2.5v2.5h-2.5zM1307.9,1727h2.5v2.5h-2.5zM1304.4,1732.1h2.5v2.5h-2.5zM1309.3,1785.2h2.5v2.5h-2.5zM1317.6,1758.5h2.5v2.5h-2.5zM1314.9,1715.5h2.5v2.5h-2.5zM1316.4,1709.3h2.5v2.5h-2.5zM1292.9,1777.8h2.5v2.5h-2.5zM1309.2,1788h2.5v2.5h-2.5zM1313.4,1769.9h2.5v2.5h-2.5zM1299.1,1761.9h2.5v2.5h-2.5zM1313.6,1713.8h2.5v2.5h-2.5zM1307.3,1717.5h2.5v2.5h-2.5zM1299.8,1790.3h2.5v2.5h-2.5zM1293.3,1808h2.5v2.5h-2.5zM1301.2,1794.1h2.5v2.5h-2.5zM1320.5,1731.3h2.5v2.5h-2.5zM1292.6,1777.8h2.5v2.5h-2.5zM1292.7,1804h2.5v2.5h-2.5zM1300.2,1801.7h2.5v2.5h-2.5zM1322.3,1703.3h2.5v2.5h-2.5zM1318.6,1730.3h2.5v2.5h-2.5zM1304.9,1736.9h2.5v2.5h-2.5zM1304.6,1795.3h2.5v2.5h-2.5zM1322.5,1710.5h2.5v2.5h-2.5zM1316.8,1699h2.5v2.5h-2.5zM1298,1794.6h2.5v2.5h-2.5zM1297.5,1769.5h2.5v2.5h-2.5zM1299.3,1802.3h2.5v2.5h-2.5zM1308.1,1724.3h2.5v2.5h-2.5zM1291.5,1810.7h2.5v2.5h-2.5zM1315.7,1755.3h2.5v2.5h-2.5zM1308.7,1774.4h2.5v2.5h-2.5zM1315.7,1736.2h2.5v2.5h-2.5zM1314.6,1710.8h2.5v2.5h-2.5zM1292.1,1810.3h2.5v2.5h-2.5zM1312,1764.3h2.5v2.5h-2.5zM1299.5,1766.6h2.5v2.5h-2.5zM1317.2,1725.5h2.5v2.5h-2.5zM1305,1784.9h2.5v2.5h-2.5zM1308.3,1724.7h2.5v2.5h-2.5zM1308.6,1719.7h2.5v2.5h-2.5zM1322.7,1702.2h2.5v2.5h-2.5zM1311.4,1723.8h2.5v2.5h-2.5zM1299.2,1763.1h2.5v2.5h-2.5zM1314.1,1763.6h2.5v2.5h-2.5zM1313,1722.5h2.5v2.5h-2.5zM1296.9,1800.2h2.5v2.5h-2.5zM1313.6,1713.2h2.5v2.5h-2.5zM1307.2,1721h2.5v2.5h-2.5zM1291.7,1791.9h2.5v2.5h-2.5zM1315.7,1740.9h2.5v2.5h-2.5zM1320.1,1738.4h2.5v2.5h-2.5zM1305.2,1793.1h2.5v2.5h-2.5zM1308.4,1714.8h2.5v2.5h-2.5zM1293.3,1791.8h2.5v2.5h-2.5zM1322.1,1721.6h2.5v2.5h-2.5zM1317.6,1744.6h2.5v2.5h-2.5zM1309.4,1727.2h2.5v2.5h-2.5zM1316.9,1702.3h2.5v2.5h-2.5zM1309.7,1715.7h2.5v2.5h-2.5zM1296.8,1817.2h2.5v2.5h-2.5zM1319.1,1753.5h2.5v2.5h-2.5zM1299.9,1743.8h2.5v2.5h-2.5zM1290.8,1811.8h2.5v2.5h-2.5zM1318.4,1726.5h2.5v2.5h-2.5zM1308.8,1782.6h2.5v2.5h-2.5zM1301.2,1739.6h2.5v2.5h-2.5zM1300.6,1760.1h2.5v2.5h-2.5zM1315.5,1728.2h2.5v2.5h-2.5zM1316.2,1724.2h2.5v2.5h-2.5zM1291.5,1805.9h2.5v2.5h-2.5zM1304.8,1787.4h2.5v2.5h-2.5zM1298.5,1751.2h2.5v2.5h-2.5zM1321.2,1715.2h2.5v2.5h-2.5zM1317.8,1744.8h2.5v2.5h-2.5zM1314.7,1749.3h2.5v2.5h-2.5zM1298.3,1806.1h2.5v2.5h-2.5zM1293.2,1810.6h2.5v2.5h-2.5zM1309.1,1721.1h2.5v2.5h-2.5zM1320.1,1719.1h2.5v2.5h-2.5zM1295.4,1798.2h2.5v2.5h-2.5zM1323.1,1710.9h2.5v2.5h-2.5zM1297.5,1815.3h2.5v2.5h-2.5zM1316.9,1751.1h2.5v2.5h-2.5zM1304.4,1740.9h2.5v2.5h-2.5zM1301,1746.5h2.5v2.5h-2.5zM1306.5,1738.1h2.5v2.5h-2.5zM1316.8,1751.4h2.5v2.5h-2.5zM1291.7,1790h2.5v2.5h-2.5zM1303,1739.2h2.5v2.5h-2.5zM1311.2,1727.2h2.5v2.5h-2.5zM1301.5,1746.5h2.5v2.5h-2.5zM1320.3,1744.8h2.5v2.5h-2.5zM1296,1804.3h2.5v2.5h-2.5zM1305.4,1792h2.5v2.5h-2.5zM1322.5,1705.1h2.5v2.5h-2.5zM1298.3,1763.3h2.5v2.5h-2.5zM1299.9,1806.7h2.5v2.5h-2.5zM1315.7,1743.9h2.5v2.5h-2.5zM1314.5,1727.5h2.5v2.5h-2.5zM1301.4,1795.3h2.5v2.5h-2.5zM1312.1,1720h2.5v2.5h-2.5zM1292.8,1797.6h2.5v2.5h-2.5zM1307.2,1793.5h2.5v2.5h-2.5zM1305.7,1793h2.5v2.5h-2.5zM1298.8,1796.2h2.5v2.5h-2.5zM1300.8,1748.6h2.5v2.5h-2.5zM1294.6,1788.7h2.5v2.5h-2.5zM1301.9,1750.8h2.5v2.5h-2.5zM1298.9,1808.3h2.5v2.5h-2.5zM1309.1,1721h2.5v2.5h-2.5zM1320.6,1719.3h2.5v2.5h-2.5zM1317.4,1729.4h2.5v2.5h-2.5zM1318.2,1702.1h2.5v2.5h-2.5zM1317.7,1736.4h2.5v2.5h-2.5zM1290.8,1813.1h2.5v2.5h-2.5zM1295.9,1820.5h2.5v2.5h-2.5zM1316.4,1736.7h2.5v2.5h-2.5zM1295.9,1812.8h2.5v2.5h-2.5zM1299.1,1793h2.5v2.5h-2.5zM1318.8,1720.9h2.5v2.5h-2.5zM1315.5,1724.9h2.5v2.5h-2.5zM1292.8,1787.4h2.5v2.5h-2.5zM1312.4,1764.3h2.5v2.5h-2.5zM1314,1703.3h2.5v2.5h-2.5zM1314.2,1753.1h2.5v2.5h-2.5zM1297.5,1754.7h2.5v2.5h-2.5zM1297.7,1755.9h2.5v2.5h-2.5zM1302.3,1790.3h2.5v2.5h-2.5zM1306.9,1779.8h2.5v2.5h-2.5zM1302.1,1742h2.5v2.5h-2.5zM1304.2,1742.5h2.5v2.5h-2.5zM1302,1793.9h2.5v2.5h-2.5zM1323.8,1707.4h2.5v2.5h-2.5zM1315.4,1744.7h2.5v2.5h-2.5zM1311.7,1784h2.5v2.5h-2.5zM1294.6,1769.8h2.5v2.5h-2.5zM1294.4,1798.6h2.5v2.5h-2.5zM1299.9,1752.8h2.5v2.5h-2.5zM1306.3,1739h2.5v2.5h-2.5zM1315.4,1703.1h2.5v2.5h-2.5zM1301.3,1800.8h2.5v2.5h-2.5zM1315.6,1714.8h2.5v2.5h-2.5zM1301.6,1793.5h2.5v2.5h-2.5zM1301.7,1755.1h2.5v2.5h-2.5zM1321.9,1725.3h2.5v2.5h-2.5zM1315.8,1702.2h2.5v2.5h-2.5zM1308.2,1725.7h2.5v2.5h-2.5zM1305.9,1729.7h2.5v2.5h-2.5zM1317.9,1754.7h2.5v2.5h-2.5zM1293.5,1818.4h2.5v2.5h-2.5zM1318.2,1703.1h2.5v2.5h-2.5zM1318.4,1719h2.5v2.5h-2.5zM1322.5,1724.9h2.5v2.5h-2.5zM1314.5,1706h2.5v2.5h-2.5zM1316.8,1715.1h2.5v2.5h-2.5zM1312.8,1725.5h2.5v2.5h-2.5zM1294.2,1796.4h2.5v2.5h-2.5zM1313.6,1763.1h2.5v2.5h-2.5zM1309.3,1718.6h2.5v2.5h-2.5zM1295.1,1819.5h2.5v2.5h-2.5zM1310.8,1721.8h2.5v2.5h-2.5zM1310.9,1716.3h2.5v2.5h-2.5zM1301.2,1748.2h2.5v2.5h-2.5zM1315.8,1760.6h2.5v2.5h-2.5zM1315,1705.6h2.5v2.5h-2.5zM1313.2,1755.9h2.5v2.5h-2.5zM1307.3,1721.1h2.5v2.5h-2.5zM1297.1,1802.5h2.5v2.5h-2.5zM1310.5,1771.7h2.5v2.5h-2.5zM1301.1,1800.5h2.5v2.5h-2.5zM1301.7,1809.2h2.5v2.5h-2.5zM1297.4,1798.1h2.5v2.5h-2.5zM1306.8,1798.5h2.5v2.5h-2.5zM1307.6,1799.5h2.5v2.5h-2.5zM1302,1799h2.5v2.5h-2.5zM1296.1,1795.2h2.5v2.5h-2.5zM1309.9,1802.5h2.5v2.5h-2.5zM1304.1,1803.9h2.5v2.5h-2.5zM1303.9,1804.3h2.5v2.5h-2.5zM1301.3,1799.4h2.5v2.5h-2.5zM1305.4,1798.3h2.5v2.5h-2.5zM1296.4,1798.7h2.5v2.5h-2.5zM1300,1802h2.5v2.5h-2.5zM1298.9,1794.9h2.5v2.5h-2.5zM1300.4,1807h2.5v2.5h-2.5zM1301.7,1799.9h2.5v2.5h-2.5zM1301.8,1800.2h2.5v2.5h-2.5zM1305.6,1806.3h2.5v2.5h-2.5zM1295.5,1805.7h2.5v2.5h-2.5zM1301.7,1799.2h2.5v2.5h-2.5zM1310.3,1799.1h2.5v2.5h-2.5zM1309.1,1803.9h2.5v2.5h-2.5zM1297.8,1801.9h2.5v2.5h-2.5zM1303.9,1799.3h2.5v2.5h-2.5zM1293.3,1798.3h2.5v2.5h-2.5zM1301,1795h2.5v2.5h-2.5zM1309.1,1798.6h2.5v2.5h-2.5zM1300.9,1799h2.5v2.5h-2.5zM1298.8,1796.4h2.5v2.5h-2.5zM1301.9,1800.3h2.5v2.5h-2.5zM1300.6,1799.5h2.5v2.5h-2.5zM1296.1,1802.2h2.5v2.5h-2.5zM1299.5,1800.5h2.5v2.5h-2.5zM1298.4,1797.6h2.5v2.5h-2.5zM1302.6,1794.3h2.5v2.5h-2.5zM1310.4,1799.6h2.5v2.5h-2.5zM1301.5,1797.3h2.5v2.5h-2.5zM1307.9,1805.8h2.5v2.5h-2.5zM1303,1793.4h2.5v2.5h-2.5zM1300.2,1801.9h2.5v2.5h-2.5zM1299.7,1794.4h2.5v2.5h-2.5zM1296.9,1796.2h2.5v2.5h-2.5zM1301.8,1797.8h2.5v2.5h-2.5zM1301.8,1809.9h2.5v2.5h-2.5zM1308.7,1795.1h2.5v2.5h-2.5zM1302.3,1799.9h2.5v2.5h-2.5zM1301.2,1804.1h2.5v2.5h-2.5zM1301.1,1799h2.5v2.5h-2.5zM1301.1,1799.6h2.5v2.5h-2.5zM1307,1803.4h2.5v2.5h-2.5zM1296.3,1797.7h2.5v2.5h-2.5zM1298.7,1803.3h2.5v2.5h-2.5zM1302.5,1803.2h2.5v2.5h-2.5zM1301.5,1791h2.5v2.5h-2.5zM1302.7,1800.3h2.5v2.5h-2.5zM1303.8,1793.7h2.5v2.5h-2.5zM1302,1797.5h2.5v2.5h-2.5zM1299.7,1801h2.5v2.5h-2.5zM1303,1796.2h2.5v2.5h-2.5zM1296.6,1791.3h2.5v2.5h-2.5zM1299.5,1804.8h2.5v2.5h-2.5zM1301.5,1790.2h2.5v2.5h-2.5zM1298.7,1801.4h2.5v2.5h-2.5zM1308.3,1805h2.5v2.5h-2.5zM1302.4,1800.2h2.5v2.5h-2.5zM1297.7,1797.8h2.5v2.5h-2.5zM1300.7,1796.9h2.5v2.5h-2.5zM1301.9,1799h2.5v2.5h-2.5zM1303.1,1806.5h2.5v2.5h-2.5zM1314,1863.4h2.5v2.5h-2.5zM1289.3,1809.8h2.5v2.5h-2.5zM1295.7,1804h2.5v2.5h-2.5zM1306.9,1865.4h2.5v2.5h-2.5zM1281.6,1821.7h2.5v2.5h-2.5zM1287.4,1812.4h2.5v2.5h-2.5zM1281.1,1842.8h2.5v2.5h-2.5zM1321.9,1845.8h2.5v2.5h-2.5zM1307.7,1801.2h2.5v2.5h-2.5zM1301.6,1802h2.5v2.5h-2.5zM1288,1862.1h2.5v2.5h-2.5zM1286.3,1815h2.5v2.5h-2.5zM1319.9,1856.9h2.5v2.5h-2.5zM1323.9,1847.8h2.5v2.5h-2.5zM1316.4,1859.8h2.5v2.5h-2.5zM1314.3,1861.7h2.5v2.5h-2.5zM1308.7,1863.2h2.5v2.5h-2.5zM1295.7,1867h2.5v2.5h-2.5zM1315.6,1808.1h2.5v2.5h-2.5zM1292.3,1805.1h2.5v2.5h-2.5zM1292.6,1805.2h2.5v2.5h-2.5zM1299.9,1866h2.5v2.5h-2.5zM1318.7,1862.3h2.5v2.5h-2.5zM1316.9,1803.5h2.5v2.5h-2.5zM1295.5,1801.2h2.5v2.5h-2.5zM1314.9,1865.9h2.5v2.5h-2.5zM1323.5,1846.9h2.5v2.5h-2.5zM1306.3,1865.3h2.5v2.5h-2.5zM1296.3,1863.4h2.5v2.5h-2.5zM1306.9,1803.4h2.5v2.5h-2.5zM1305.4,1803.5h2.5v2.5h-2.5zM1320.9,1857.1h2.5v2.5h-2.5zM1285,1810.3h2.5v2.5h-2.5zM1286.3,1859.9h2.5v2.5h-2.5zM1324.6,1847.4h2.5v2.5h-2.5zM1320,1850.8h2.5v2.5h-2.5zM1294.2,1805h2.5v2.5h-2.5zM1321,1822.3h2.5v2.5h-2.5zM1287.8,1858.7h2.5v2.5h-2.5zM1284.1,1810h2.5v2.5h-2.5zM1322.6,1823.6h2.5v2.5h-2.5zM1312.2,1804.6h2.5v2.5h-2.5zM1313.7,1861.7h2.5v2.5h-2.5zM1318.4,1854.7h2.5v2.5h-2.5zM1308.8,1801h2.5v2.5h-2.5zM1286,1820.1h2.5v2.5h-2.5zM1280.7,1835.2h2.5v2.5h-2.5zM1299.7,1803.8h2.5v2.5h-2.5zM1313.8,1806.9h2.5v2.5h-2.5zM1291.5,1860.9h2.5v2.5h-2.5zM1298.9,1868.4h2.5v2.5h-2.5zM1285.8,1821.7h2.5v2.5h-2.5zM1288.1,1862.8h2.5v2.5h-2.5zM1294.4,1862.3h2.5v2.5h-2.5zM1283.3,1820.8h2.5v2.5h-2.5zM1320.3,1823h2.5v2.5h-2.5zM1286.7,1814.1h2.5v2.5h-2.5zM1287.3,1854.1h2.5v2.5h-2.5zM1319.4,1810.3h2.5v2.5h-2.5zM1324.7,1826h2.5v2.5h-2.5zM1286.2,1812.5h2.5v2.5h-2.5zM1286.2,1809.3h2.5v2.5h-2.5zM1318.6,1860.5h2.5v2.5h-2.5zM1310.7,1866h2.5v2.5h-2.5zM1304.8,1863.2h2.5v2.5h-2.5zM1307.1,1802.6h2.5v2.5h-2.5zM1284.7,1815.8h2.5v2.5h-2.5zM1324.7,1842.3h2.5v2.5h-2.5zM1285.7,1849.7h2.5v2.5h-2.5zM1308.5,1801.2h2.5v2.5h-2.5zM1318.9,1872.3h2.5v2.5h-2.5zM1313.9,1878.4h2.5v2.5h-2.5zM1318.4,1885.4h2.5v2.5h-2.5zM1318.1,1882.1h2.5v2.5h-2.5zM1317.6,1888.4h2.5v2.5h-2.5zM1310,1872.6h2.5v2.5h-2.5zM1314.7,1880.4h2.5v2.5h-2.5zM1313.3,1877.2h2.5v2.5h-2.5zM1312.8,1876.4h2.5v2.5h-2.5zM1315.1,1879.4h2.5v2.5h-2.5zM1310.5,1884h2.5v2.5h-2.5zM1315.1,1879.1h2.5v2.5h-2.5zM1317.9,1876.8h2.5v2.5h-2.5zM1312.6,1871.7h2.5v2.5h-2.5zM1311.9,1860.7h2.5v2.5h-2.5zM1317,1881.6h2.5v2.5h-2.5zM1322.1,1888.8h2.5v2.5h-2.5zM1308.3,1883.4h2.5v2.5h-2.5zM1306.9,1869.9h2.5v2.5h-2.5zM1311.3,1875.2h2.5v2.5h-2.5zM1313.5,1873.8h2.5v2.5h-2.5zM1318.6,1876.3h2.5v2.5h-2.5zM1316,1882.6h2.5v2.5h-2.5zM1316.6,1887.6h2.5v2.5h-2.5zM1312.7,1877.8h2.5v2.5h-2.5zM1315.5,1884.3h2.5v2.5h-2.5zM1322.4,1885.8h2.5v2.5h-2.5zM1318.6,1889.7h2.5v2.5h-2.5zM1315.8,1883.5h2.5v2.5h-2.5zM1309.2,1873.1h2.5v2.5h-2.5zM1312.7,1877.5h2.5v2.5h-2.5zM1319,1867.9h2.5v2.5h-2.5zM1306.1,1861.2h2.5v2.5h-2.5zM1314.5,1878.6h2.5v2.5h-2.5zM1306.6,1866.7h2.5v2.5h-2.5zM1319.9,1885.2h2.5v2.5h-2.5zM1313.7,1882.9h2.5v2.5h-2.5zM1324,1886.3h2.5v2.5h-2.5zM1320.5,1896.8h2.5v2.5h-2.5zM1310.8,1885.1h2.5v2.5h-2.5zM1325.9,1848.7h2.5v2.5h-2.5zM1325.5,1833.3h2.5v2.5h-2.5zM1326.3,1831.5h2.5v2.5h-2.5zM1325.7,1810.1h2.5v2.5h-2.5zM1325.5,1837.1h2.5v2.5h-2.5zM1325.8,1833.7h2.5v2.5h-2.5zM1325.2,1824.9h2.5v2.5h-2.5zM1325.8,1824.2h2.5v2.5h-2.5zM1326.8,1847.4h2.5v2.5h-2.5zM1326.4,1822.6h2.5v2.5h-2.5zM1323.4,1845.5h2.5v2.5h-2.5zM1329,1822.5h2.5v2.5h-2.5z" fill="#000"/>
<rect x="-6.5" y="-40" width="13" height="80" rx="6.5" transform="translate(1308,1758) rotate(12)" fill="#0a0a0a" stroke="none" stroke-width="0"/>
<rect x="-3.75" y="-34" width="7.5" height="68" rx="3.7" transform="translate(1308,1757) rotate(12)" fill="#dcdcdc" stroke="none" stroke-width="0"/>
<clipPath id="hp4"><path d="M1323.1,1835.3 C1323.1,1838.5 1323,1842.2 1322.8,1844.8 C1322.6,1847.3 1322.4,1848.9 1322,1850.7 C1321.7,1852.5 1321.2,1854 1320.7,1855.4 C1320.2,1856.8 1319.6,1858.1 1318.9,1859.2 C1318.2,1860.4 1317.4,1861.3 1316.5,1862.2 C1315.7,1863 1314.7,1863.7 1313.6,1864.3 C1312.5,1864.9 1311.5,1865.3 1310,1865.6 C1308.4,1865.9 1306.1,1866 1304.1,1866 C1302.2,1866 1299.9,1865.9 1298.3,1865.6 C1296.7,1865.3 1295.7,1864.9 1294.6,1864.3 C1293.5,1863.7 1292.6,1863 1291.7,1862.2 C1290.8,1861.3 1290.1,1860.4 1289.4,1859.2 C1288.7,1858.1 1288.1,1856.8 1287.5,1855.4 C1287,1854 1286.6,1852.5 1286.2,1850.7 C1285.9,1848.9 1285.6,1847.3 1285.4,1844.8 C1285.3,1842.2 1285.2,1838.5 1285.2,1835.3 C1285.2,1832.2 1285.3,1828.4 1285.4,1825.9 C1285.6,1823.3 1285.9,1821.7 1286.2,1820 C1286.6,1818.2 1287,1816.7 1287.5,1815.2 C1288.1,1813.8 1288.7,1812.6 1289.4,1811.4 C1290.1,1810.3 1290.8,1809.3 1291.7,1808.5 C1292.6,1807.6 1293.5,1806.9 1294.6,1806.4 C1295.7,1805.8 1296.7,1805.4 1298.3,1805.1 C1299.9,1804.8 1302.2,1804.7 1304.1,1804.7 C1306.1,1804.7 1308.4,1804.8 1310,1805.1 C1311.5,1805.4 1312.5,1805.8 1313.6,1806.4 C1314.7,1806.9 1315.7,1807.6 1316.5,1808.5 C1317.4,1809.3 1318.2,1810.3 1318.9,1811.4 C1319.6,1812.6 1320.2,1813.8 1320.7,1815.2 C1321.2,1816.7 1321.7,1818.2 1322,1820 C1322.4,1821.7 1322.6,1823.3 1322.8,1825.9 C1323,1828.4 1323.1,1832.2 1323.1,1835.3Z"/></clipPath>
<g clip-path="url(#hp4)"><path d="M1323.1,1835.3 C1323.1,1838.5 1323,1842.2 1322.8,1844.8 C1322.6,1847.3 1322.4,1848.9 1322,1850.7 C1321.7,1852.5 1321.2,1854 1320.7,1855.4 C1320.2,1856.8 1319.6,1858.1 1318.9,1859.2 C1318.2,1860.4 1317.4,1861.3 1316.5,1862.2 C1315.7,1863 1314.7,1863.7 1313.6,1864.3 C1312.5,1864.9 1311.5,1865.3 1310,1865.6 C1308.4,1865.9 1306.1,1866 1304.1,1866 C1302.2,1866 1299.9,1865.9 1298.3,1865.6 C1296.7,1865.3 1295.7,1864.9 1294.6,1864.3 C1293.5,1863.7 1292.6,1863 1291.7,1862.2 C1290.8,1861.3 1290.1,1860.4 1289.4,1859.2 C1288.7,1858.1 1288.1,1856.8 1287.5,1855.4 C1287,1854 1286.6,1852.5 1286.2,1850.7 C1285.9,1848.9 1285.6,1847.3 1285.4,1844.8 C1285.3,1842.2 1285.2,1838.5 1285.2,1835.3 C1285.2,1832.2 1285.3,1828.4 1285.4,1825.9 C1285.6,1823.3 1285.9,1821.7 1286.2,1820 C1286.6,1818.2 1287,1816.7 1287.5,1815.2 C1288.1,1813.8 1288.7,1812.6 1289.4,1811.4 C1290.1,1810.3 1290.8,1809.3 1291.7,1808.5 C1292.6,1807.6 1293.5,1806.9 1294.6,1806.4 C1295.7,1805.8 1296.7,1805.4 1298.3,1805.1 C1299.9,1804.8 1302.2,1804.7 1304.1,1804.7 C1306.1,1804.7 1308.4,1804.8 1310,1805.1 C1311.5,1805.4 1312.5,1805.8 1313.6,1806.4 C1314.7,1806.9 1315.7,1807.6 1316.5,1808.5 C1317.4,1809.3 1318.2,1810.3 1318.9,1811.4 C1319.6,1812.6 1320.2,1813.8 1320.7,1815.2 C1321.2,1816.7 1321.7,1818.2 1322,1820 C1322.4,1821.7 1322.6,1823.3 1322.8,1825.9 C1323,1828.4 1323.1,1832.2 1323.1,1835.3Z" fill="#bdbdbd"/><path d="M1323.1,1835.3 C1323.1,1838.5 1323,1842.2 1322.8,1844.8 C1322.6,1847.3 1322.4,1848.9 1322,1850.7 C1321.7,1852.5 1321.2,1854 1320.7,1855.4 C1320.2,1856.8 1319.6,1858.1 1318.9,1859.2 C1318.2,1860.4 1317.4,1861.3 1316.5,1862.2 C1315.7,1863 1314.7,1863.7 1313.6,1864.3 C1312.5,1864.9 1311.5,1865.3 1310,1865.6 C1308.4,1865.9 1306.1,1866 1304.1,1866 C1302.2,1866 1299.9,1865.9 1298.3,1865.6 C1296.7,1865.3 1295.7,1864.9 1294.6,1864.3 C1293.5,1863.7 1292.6,1863 1291.7,1862.2 C1290.8,1861.3 1290.1,1860.4 1289.4,1859.2 C1288.7,1858.1 1288.1,1856.8 1287.5,1855.4 C1287,1854 1286.6,1852.5 1286.2,1850.7 C1285.9,1848.9 1285.6,1847.3 1285.4,1844.8 C1285.3,1842.2 1285.2,1838.5 1285.2,1835.3 C1285.2,1832.2 1285.3,1828.4 1285.4,1825.9 C1285.6,1823.3 1285.9,1821.7 1286.2,1820 C1286.6,1818.2 1287,1816.7 1287.5,1815.2 C1288.1,1813.8 1288.7,1812.6 1289.4,1811.4 C1290.1,1810.3 1290.8,1809.3 1291.7,1808.5 C1292.6,1807.6 1293.5,1806.9 1294.6,1806.4 C1295.7,1805.8 1296.7,1805.4 1298.3,1805.1 C1299.9,1804.8 1302.2,1804.7 1304.1,1804.7 C1306.1,1804.7 1308.4,1804.8 1310,1805.1 C1311.5,1805.4 1312.5,1805.8 1313.6,1806.4 C1314.7,1806.9 1315.7,1807.6 1316.5,1808.5 C1317.4,1809.3 1318.2,1810.3 1318.9,1811.4 C1319.6,1812.6 1320.2,1813.8 1320.7,1815.2 C1321.2,1816.7 1321.7,1818.2 1322,1820 C1322.4,1821.7 1322.6,1823.3 1322.8,1825.9 C1323,1828.4 1323.1,1832.2 1323.1,1835.3Z" fill="none" stroke="#161616" stroke-width="9" filter="url(#bl)" style="--b:2.2"/></g>
<path d="M1323.1,1835.3 C1323.1,1838.5 1323,1842.2 1322.8,1844.8 C1322.6,1847.3 1322.4,1848.9 1322,1850.7 C1321.7,1852.5 1321.2,1854 1320.7,1855.4 C1320.2,1856.8 1319.6,1858.1 1318.9,1859.2 C1318.2,1860.4 1317.4,1861.3 1316.5,1862.2 C1315.7,1863 1314.7,1863.7 1313.6,1864.3 C1312.5,1864.9 1311.5,1865.3 1310,1865.6 C1308.4,1865.9 1306.1,1866 1304.1,1866 C1302.2,1866 1299.9,1865.9 1298.3,1865.6 C1296.7,1865.3 1295.7,1864.9 1294.6,1864.3 C1293.5,1863.7 1292.6,1863 1291.7,1862.2 C1290.8,1861.3 1290.1,1860.4 1289.4,1859.2 C1288.7,1858.1 1288.1,1856.8 1287.5,1855.4 C1287,1854 1286.6,1852.5 1286.2,1850.7 C1285.9,1848.9 1285.6,1847.3 1285.4,1844.8 C1285.3,1842.2 1285.2,1838.5 1285.2,1835.3 C1285.2,1832.2 1285.3,1828.4 1285.4,1825.9 C1285.6,1823.3 1285.9,1821.7 1286.2,1820 C1286.6,1818.2 1287,1816.7 1287.5,1815.2 C1288.1,1813.8 1288.7,1812.6 1289.4,1811.4 C1290.1,1810.3 1290.8,1809.3 1291.7,1808.5 C1292.6,1807.6 1293.5,1806.9 1294.6,1806.4 C1295.7,1805.8 1296.7,1805.4 1298.3,1805.1 C1299.9,1804.8 1302.2,1804.7 1304.1,1804.7 C1306.1,1804.7 1308.4,1804.8 1310,1805.1 C1311.5,1805.4 1312.5,1805.8 1313.6,1806.4 C1314.7,1806.9 1315.7,1807.6 1316.5,1808.5 C1317.4,1809.3 1318.2,1810.3 1318.9,1811.4 C1319.6,1812.6 1320.2,1813.8 1320.7,1815.2 C1321.2,1816.7 1321.7,1818.2 1322,1820 C1322.4,1821.7 1322.6,1823.3 1322.8,1825.9 C1323,1828.4 1323.1,1832.2 1323.1,1835.3Z" fill="none" stroke="#000" stroke-width="2.2" stroke-linejoin="round"/>
<ellipse cx="0" cy="0" rx="12" ry="17.5" transform="translate(1302.5,1835.5) rotate(0)" fill="url(#zb)" stroke="none" stroke-width="0"/>
</g>
<g clip-path="url(#fc1)">
<path d="M1462.2,1862.6h2.5v2.5h-2.5zM1479.3,1811.3h2.5v2.5h-2.5zM1488.2,1849.4h2.5v2.5h-2.5zM1486.2,1853.8h2.5v2.5h-2.5zM1482.3,1812.9h2.5v2.5h-2.5zM1447.1,1829.7h2.5v2.5h-2.5zM1481.4,1857.3h2.5v2.5h-2.5zM1456.5,1859.8h2.5v2.5h-2.5zM1473,1862.7h2.5v2.5h-2.5zM1487.5,1816.5h2.5v2.5h-2.5zM1494.1,1827.2h2.5v2.5h-2.5zM1486.5,1818.1h2.5v2.5h-2.5zM1465,1862.5h2.5v2.5h-2.5zM1487.3,1819.8h2.5v2.5h-2.5zM1484.3,1858.4h2.5v2.5h-2.5zM1490.2,1819.1h2.5v2.5h-2.5zM1455.8,1812.3h2.5v2.5h-2.5zM1447.8,1838.9h2.5v2.5h-2.5zM1485.1,1814.6h2.5v2.5h-2.5zM1472.7,1861.9h2.5v2.5h-2.5zM1455,1812.7h2.5v2.5h-2.5zM1479.5,1862.9h2.5v2.5h-2.5zM1474.3,1811.2h2.5v2.5h-2.5zM1452.7,1859h2.5v2.5h-2.5zM1465.3,1860.4h2.5v2.5h-2.5zM1463.5,1862.3h2.5v2.5h-2.5zM1490.6,1824.2h2.5v2.5h-2.5zM1456.1,1817.1h2.5v2.5h-2.5zM1493.1,1822.9h2.5v2.5h-2.5zM1482.6,1812.1h2.5v2.5h-2.5zM1449.5,1844.8h2.5v2.5h-2.5zM1458.6,1812.6h2.5v2.5h-2.5zM1490.8,1832.6h2.5v2.5h-2.5zM1485.4,1858.9h2.5v2.5h-2.5zM1468.4,1812.4h2.5v2.5h-2.5zM1449.6,1850.6h2.5v2.5h-2.5zM1482.3,1858.3h2.5v2.5h-2.5zM1461.2,1812.4h2.5v2.5h-2.5zM1486.2,1817.7h2.5v2.5h-2.5zM1489.5,1822.4h2.5v2.5h-2.5zM1454.5,1815h2.5v2.5h-2.5zM1452.2,1824.1h2.5v2.5h-2.5zM1454.8,1817.2h2.5v2.5h-2.5zM1467.2,1861.4h2.5v2.5h-2.5zM1458.4,1814.7h2.5v2.5h-2.5zM1446.5,1843.5h2.5v2.5h-2.5zM1476.4,1860.5h2.5v2.5h-2.5zM1479.1,1859.1h2.5v2.5h-2.5zM1454.1,1818h2.5v2.5h-2.5zM1478.8,1864.5h2.5v2.5h-2.5zM1449.8,1851.6h2.5v2.5h-2.5zM1490.4,1850.4h2.5v2.5h-2.5zM1487.4,1856.8h2.5v2.5h-2.5zM1475.8,1809h2.5v2.5h-2.5zM1484.4,1857.9h2.5v2.5h-2.5zM1470.9,1810.3h2.5v2.5h-2.5zM1485.9,1855.4h2.5v2.5h-2.5zM1448.9,1855h2.5v2.5h-2.5zM1467,1861.4h2.5v2.5h-2.5zM1490.1,1822.7h2.5v2.5h-2.5zM1470.6,1793.4h2.5v2.5h-2.5zM1473.1,1806.4h2.5v2.5h-2.5zM1481.3,1795.7h2.5v2.5h-2.5zM1473.5,1802.9h2.5v2.5h-2.5zM1474.8,1800.6h2.5v2.5h-2.5zM1456.4,1803.7h2.5v2.5h-2.5zM1468,1806.4h2.5v2.5h-2.5zM1460.7,1795.5h2.5v2.5h-2.5zM1458.7,1800.6h2.5v2.5h-2.5zM1474.1,1800.5h2.5v2.5h-2.5zM1476.5,1802h2.5v2.5h-2.5zM1466.1,1796.1h2.5v2.5h-2.5zM1471.5,1794.4h2.5v2.5h-2.5zM1482.1,1802.2h2.5v2.5h-2.5zM1468,1792.7h2.5v2.5h-2.5zM1472.6,1792.7h2.5v2.5h-2.5zM1474.7,1795.6h2.5v2.5h-2.5zM1467.5,1796.5h2.5v2.5h-2.5zM1470,1802.5h2.5v2.5h-2.5zM1460,1800.9h2.5v2.5h-2.5zM1466,1798.1h2.5v2.5h-2.5zM1469.8,1805.2h2.5v2.5h-2.5zM1478.8,1867.8h2.5v2.5h-2.5zM1483.4,1874.4h2.5v2.5h-2.5zM1482,1868.5h2.5v2.5h-2.5zM1488.2,1880.5h2.5v2.5h-2.5zM1469.1,1873.4h2.5v2.5h-2.5zM1487.1,1874.8h2.5v2.5h-2.5zM1480.6,1874.6h2.5v2.5h-2.5zM1476,1873.1h2.5v2.5h-2.5zM1493.4,1870.8h2.5v2.5h-2.5zM1467.2,1755.8h2.5v2.5h-2.5zM1468.8,1758.8h2.5v2.5h-2.5zM1470.8,1756.8h2.5v2.5h-2.5zM1469.8,1762.8h2.5v2.5h-2.5zM1471.8,1766.8h2.5v2.5h-2.5zM1472.8,1773.8h2.5v2.5h-2.5zM1464.8,1780.8h2.5v2.5h-2.5zM1466.8,1783.8h2.5v2.5h-2.5zM1463.8,1778.8h2.5v2.5h-2.5z" fill="#000"/>
<clipPath id="hp5"><path d="M1491.2,1842.1 C1490.6,1844.7 1489.9,1847.7 1489.3,1849.7 C1488.6,1851.7 1488.1,1852.9 1487.4,1854.3 C1486.7,1855.6 1486,1856.8 1485.2,1857.8 C1484.4,1858.8 1483.6,1859.7 1482.6,1860.4 C1481.7,1861.2 1480.7,1861.8 1479.6,1862.3 C1478.5,1862.8 1477.4,1863.1 1476.1,1863.3 C1474.9,1863.5 1473.8,1863.7 1472.1,1863.5 C1470.3,1863.4 1467.8,1863 1465.8,1862.6 C1463.7,1862.1 1461.3,1861.5 1459.6,1860.9 C1458,1860.3 1457.1,1859.8 1456,1859.1 C1454.9,1858.4 1454,1857.6 1453.3,1856.7 C1452.5,1855.8 1451.8,1854.8 1451.3,1853.8 C1450.7,1852.7 1450.3,1851.6 1450,1850.3 C1449.7,1849 1449.5,1847.7 1449.4,1846.2 C1449.3,1844.7 1449.3,1843.4 1449.6,1841.3 C1449.8,1839.2 1450.4,1836.1 1450.9,1833.6 C1451.5,1831 1452.2,1828 1452.8,1826 C1453.4,1824 1454,1822.8 1454.7,1821.4 C1455.3,1820.1 1456.1,1819 1456.9,1817.9 C1457.7,1816.9 1458.5,1816 1459.4,1815.3 C1460.4,1814.5 1461.4,1813.9 1462.5,1813.4 C1463.5,1812.9 1464.7,1812.6 1465.9,1812.4 C1467.2,1812.2 1468.3,1812 1470,1812.2 C1471.7,1812.3 1474.2,1812.7 1476.3,1813.1 C1478.4,1813.6 1480.8,1814.2 1482.4,1814.8 C1484,1815.4 1485,1816 1486.1,1816.7 C1487.1,1817.4 1488,1818.1 1488.8,1819 C1489.6,1819.9 1490.3,1820.9 1490.8,1821.9 C1491.3,1823 1491.8,1824.2 1492.1,1825.4 C1492.4,1826.7 1492.6,1828 1492.7,1829.5 C1492.7,1831 1492.7,1832.4 1492.5,1834.5 C1492.2,1836.6 1491.7,1839.6 1491.2,1842.1Z"/></clipPath>
<g clip-path="url(#hp5)"><path d="M1491.2,1842.1 C1490.6,1844.7 1489.9,1847.7 1489.3,1849.7 C1488.6,1851.7 1488.1,1852.9 1487.4,1854.3 C1486.7,1855.6 1486,1856.8 1485.2,1857.8 C1484.4,1858.8 1483.6,1859.7 1482.6,1860.4 C1481.7,1861.2 1480.7,1861.8 1479.6,1862.3 C1478.5,1862.8 1477.4,1863.1 1476.1,1863.3 C1474.9,1863.5 1473.8,1863.7 1472.1,1863.5 C1470.3,1863.4 1467.8,1863 1465.8,1862.6 C1463.7,1862.1 1461.3,1861.5 1459.6,1860.9 C1458,1860.3 1457.1,1859.8 1456,1859.1 C1454.9,1858.4 1454,1857.6 1453.3,1856.7 C1452.5,1855.8 1451.8,1854.8 1451.3,1853.8 C1450.7,1852.7 1450.3,1851.6 1450,1850.3 C1449.7,1849 1449.5,1847.7 1449.4,1846.2 C1449.3,1844.7 1449.3,1843.4 1449.6,1841.3 C1449.8,1839.2 1450.4,1836.1 1450.9,1833.6 C1451.5,1831 1452.2,1828 1452.8,1826 C1453.4,1824 1454,1822.8 1454.7,1821.4 C1455.3,1820.1 1456.1,1819 1456.9,1817.9 C1457.7,1816.9 1458.5,1816 1459.4,1815.3 C1460.4,1814.5 1461.4,1813.9 1462.5,1813.4 C1463.5,1812.9 1464.7,1812.6 1465.9,1812.4 C1467.2,1812.2 1468.3,1812 1470,1812.2 C1471.7,1812.3 1474.2,1812.7 1476.3,1813.1 C1478.4,1813.6 1480.8,1814.2 1482.4,1814.8 C1484,1815.4 1485,1816 1486.1,1816.7 C1487.1,1817.4 1488,1818.1 1488.8,1819 C1489.6,1819.9 1490.3,1820.9 1490.8,1821.9 C1491.3,1823 1491.8,1824.2 1492.1,1825.4 C1492.4,1826.7 1492.6,1828 1492.7,1829.5 C1492.7,1831 1492.7,1832.4 1492.5,1834.5 C1492.2,1836.6 1491.7,1839.6 1491.2,1842.1Z" fill="#bdbdbd"/><path d="M1491.2,1842.1 C1490.6,1844.7 1489.9,1847.7 1489.3,1849.7 C1488.6,1851.7 1488.1,1852.9 1487.4,1854.3 C1486.7,1855.6 1486,1856.8 1485.2,1857.8 C1484.4,1858.8 1483.6,1859.7 1482.6,1860.4 C1481.7,1861.2 1480.7,1861.8 1479.6,1862.3 C1478.5,1862.8 1477.4,1863.1 1476.1,1863.3 C1474.9,1863.5 1473.8,1863.7 1472.1,1863.5 C1470.3,1863.4 1467.8,1863 1465.8,1862.6 C1463.7,1862.1 1461.3,1861.5 1459.6,1860.9 C1458,1860.3 1457.1,1859.8 1456,1859.1 C1454.9,1858.4 1454,1857.6 1453.3,1856.7 C1452.5,1855.8 1451.8,1854.8 1451.3,1853.8 C1450.7,1852.7 1450.3,1851.6 1450,1850.3 C1449.7,1849 1449.5,1847.7 1449.4,1846.2 C1449.3,1844.7 1449.3,1843.4 1449.6,1841.3 C1449.8,1839.2 1450.4,1836.1 1450.9,1833.6 C1451.5,1831 1452.2,1828 1452.8,1826 C1453.4,1824 1454,1822.8 1454.7,1821.4 C1455.3,1820.1 1456.1,1819 1456.9,1817.9 C1457.7,1816.9 1458.5,1816 1459.4,1815.3 C1460.4,1814.5 1461.4,1813.9 1462.5,1813.4 C1463.5,1812.9 1464.7,1812.6 1465.9,1812.4 C1467.2,1812.2 1468.3,1812 1470,1812.2 C1471.7,1812.3 1474.2,1812.7 1476.3,1813.1 C1478.4,1813.6 1480.8,1814.2 1482.4,1814.8 C1484,1815.4 1485,1816 1486.1,1816.7 C1487.1,1817.4 1488,1818.1 1488.8,1819 C1489.6,1819.9 1490.3,1820.9 1490.8,1821.9 C1491.3,1823 1491.8,1824.2 1492.1,1825.4 C1492.4,1826.7 1492.6,1828 1492.7,1829.5 C1492.7,1831 1492.7,1832.4 1492.5,1834.5 C1492.2,1836.6 1491.7,1839.6 1491.2,1842.1Z" fill="none" stroke="#161616" stroke-width="9" filter="url(#bl)" style="--b:2.2"/></g>
<path d="M1491.2,1842.1 C1490.6,1844.7 1489.9,1847.7 1489.3,1849.7 C1488.6,1851.7 1488.1,1852.9 1487.4,1854.3 C1486.7,1855.6 1486,1856.8 1485.2,1857.8 C1484.4,1858.8 1483.6,1859.7 1482.6,1860.4 C1481.7,1861.2 1480.7,1861.8 1479.6,1862.3 C1478.5,1862.8 1477.4,1863.1 1476.1,1863.3 C1474.9,1863.5 1473.8,1863.7 1472.1,1863.5 C1470.3,1863.4 1467.8,1863 1465.8,1862.6 C1463.7,1862.1 1461.3,1861.5 1459.6,1860.9 C1458,1860.3 1457.1,1859.8 1456,1859.1 C1454.9,1858.4 1454,1857.6 1453.3,1856.7 C1452.5,1855.8 1451.8,1854.8 1451.3,1853.8 C1450.7,1852.7 1450.3,1851.6 1450,1850.3 C1449.7,1849 1449.5,1847.7 1449.4,1846.2 C1449.3,1844.7 1449.3,1843.4 1449.6,1841.3 C1449.8,1839.2 1450.4,1836.1 1450.9,1833.6 C1451.5,1831 1452.2,1828 1452.8,1826 C1453.4,1824 1454,1822.8 1454.7,1821.4 C1455.3,1820.1 1456.1,1819 1456.9,1817.9 C1457.7,1816.9 1458.5,1816 1459.4,1815.3 C1460.4,1814.5 1461.4,1813.9 1462.5,1813.4 C1463.5,1812.9 1464.7,1812.6 1465.9,1812.4 C1467.2,1812.2 1468.3,1812 1470,1812.2 C1471.7,1812.3 1474.2,1812.7 1476.3,1813.1 C1478.4,1813.6 1480.8,1814.2 1482.4,1814.8 C1484,1815.4 1485,1816 1486.1,1816.7 C1487.1,1817.4 1488,1818.1 1488.8,1819 C1489.6,1819.9 1490.3,1820.9 1490.8,1821.9 C1491.3,1823 1491.8,1824.2 1492.1,1825.4 C1492.4,1826.7 1492.6,1828 1492.7,1829.5 C1492.7,1831 1492.7,1832.4 1492.5,1834.5 C1492.2,1836.6 1491.7,1839.6 1491.2,1842.1Z" fill="none" stroke="#000" stroke-width="2.2" stroke-linejoin="round"/>
<ellipse cx="0" cy="0" rx="15" ry="14" transform="translate(1465,1842) rotate(20)" fill="url(#zb)" stroke="none" stroke-width="0"/>
</g>
<g clip-path="url(#fc2)">
<path d="M1654.4,1719.2h2.5v2.5h-2.5zM1658.8,1755.8h2.5v2.5h-2.5zM1650.4,1767.9h2.5v2.5h-2.5zM1657.3,1740.2h2.5v2.5h-2.5zM1652.7,1768.4h2.5v2.5h-2.5zM1640.4,1816.2h2.5v2.5h-2.5zM1654.6,1754.6h2.5v2.5h-2.5zM1650.6,1792.6h2.5v2.5h-2.5zM1659.6,1760.3h2.5v2.5h-2.5zM1646.5,1735.8h2.5v2.5h-2.5zM1664.3,1722.9h2.5v2.5h-2.5zM1648.8,1810.2h2.5v2.5h-2.5zM1654.5,1755.7h2.5v2.5h-2.5zM1651.1,1762.9h2.5v2.5h-2.5zM1648.5,1768.1h2.5v2.5h-2.5zM1660.9,1712h2.5v2.5h-2.5zM1647.2,1763.3h2.5v2.5h-2.5zM1649,1733.1h2.5v2.5h-2.5zM1646,1765.4h2.5v2.5h-2.5zM1651.6,1752.3h2.5v2.5h-2.5zM1645.8,1762.7h2.5v2.5h-2.5zM1651.1,1762.1h2.5v2.5h-2.5zM1641.8,1819.8h2.5v2.5h-2.5zM1651.1,1737.5h2.5v2.5h-2.5zM1656,1728.3h2.5v2.5h-2.5zM1648,1743h2.5v2.5h-2.5zM1651.1,1767.2h2.5v2.5h-2.5zM1656.5,1778h2.5v2.5h-2.5zM1653.2,1752.2h2.5v2.5h-2.5zM1644.8,1813.9h2.5v2.5h-2.5zM1653.2,1804.9h2.5v2.5h-2.5zM1657.6,1736.9h2.5v2.5h-2.5zM1656.8,1741.9h2.5v2.5h-2.5zM1643.6,1816.3h2.5v2.5h-2.5zM1652.6,1743.8h2.5v2.5h-2.5zM1650.6,1740.8h2.5v2.5h-2.5zM1649.5,1791.1h2.5v2.5h-2.5zM1651.9,1770.5h2.5v2.5h-2.5zM1645.3,1776.3h2.5v2.5h-2.5zM1654.2,1729.7h2.5v2.5h-2.5zM1649.5,1754.4h2.5v2.5h-2.5zM1647,1767.4h2.5v2.5h-2.5zM1663.1,1725.5h2.5v2.5h-2.5zM1648.1,1753.9h2.5v2.5h-2.5zM1651.7,1786h2.5v2.5h-2.5zM1650.4,1765.8h2.5v2.5h-2.5zM1643.5,1788.3h2.5v2.5h-2.5zM1651.5,1803h2.5v2.5h-2.5zM1656,1730.1h2.5v2.5h-2.5zM1659.1,1765.3h2.5v2.5h-2.5zM1657.3,1718.9h2.5v2.5h-2.5zM1656.7,1783.9h2.5v2.5h-2.5zM1649.5,1752.3h2.5v2.5h-2.5zM1652.7,1795.6h2.5v2.5h-2.5zM1641.1,1795.2h2.5v2.5h-2.5zM1644.1,1811.3h2.5v2.5h-2.5zM1652.5,1782.6h2.5v2.5h-2.5zM1641.7,1763.1h2.5v2.5h-2.5zM1644.1,1804.1h2.5v2.5h-2.5zM1645.3,1818.7h2.5v2.5h-2.5zM1647.6,1807.6h2.5v2.5h-2.5zM1642.3,1796.5h2.5v2.5h-2.5zM1645,1753.7h2.5v2.5h-2.5zM1662.6,1733.7h2.5v2.5h-2.5zM1648.8,1762.6h2.5v2.5h-2.5zM1655.9,1745.4h2.5v2.5h-2.5zM1663.8,1732.6h2.5v2.5h-2.5zM1653,1801.3h2.5v2.5h-2.5zM1655.4,1752.1h2.5v2.5h-2.5zM1640.2,1797.3h2.5v2.5h-2.5zM1643.4,1803.8h2.5v2.5h-2.5zM1652.7,1757.8h2.5v2.5h-2.5zM1654.4,1765.7h2.5v2.5h-2.5zM1647.7,1773.9h2.5v2.5h-2.5zM1662.6,1709.7h2.5v2.5h-2.5zM1651.9,1741.4h2.5v2.5h-2.5zM1640,1807.8h2.5v2.5h-2.5zM1657.7,1770.4h2.5v2.5h-2.5zM1651.3,1765.5h2.5v2.5h-2.5zM1655.7,1771.7h2.5v2.5h-2.5zM1651.6,1758.1h2.5v2.5h-2.5zM1654.4,1773.6h2.5v2.5h-2.5zM1639.6,1778.5h2.5v2.5h-2.5zM1640.8,1793.6h2.5v2.5h-2.5zM1652.8,1744.8h2.5v2.5h-2.5zM1646.7,1761h2.5v2.5h-2.5zM1657.2,1766.7h2.5v2.5h-2.5zM1649.1,1776.9h2.5v2.5h-2.5zM1648.2,1793.3h2.5v2.5h-2.5zM1664.7,1734.3h2.5v2.5h-2.5zM1657.3,1762.3h2.5v2.5h-2.5zM1661.9,1722h2.5v2.5h-2.5zM1655.7,1786.7h2.5v2.5h-2.5zM1661.2,1732.4h2.5v2.5h-2.5zM1654.8,1744.8h2.5v2.5h-2.5zM1651.8,1761.5h2.5v2.5h-2.5zM1654.2,1748.5h2.5v2.5h-2.5zM1649.6,1766.6h2.5v2.5h-2.5zM1651,1770.4h2.5v2.5h-2.5zM1642.9,1798.1h2.5v2.5h-2.5zM1655.2,1743.4h2.5v2.5h-2.5zM1646.8,1772.2h2.5v2.5h-2.5zM1653.1,1732.9h2.5v2.5h-2.5zM1652.1,1742.2h2.5v2.5h-2.5zM1657,1704.4h2.5v2.5h-2.5zM1658.8,1705.2h2.5v2.5h-2.5zM1660.6,1758.4h2.5v2.5h-2.5zM1656,1748.1h2.5v2.5h-2.5zM1658.5,1734.8h2.5v2.5h-2.5zM1651.9,1758.4h2.5v2.5h-2.5zM1651.2,1742.2h2.5v2.5h-2.5zM1647.9,1762.7h2.5v2.5h-2.5zM1641.7,1788.1h2.5v2.5h-2.5zM1653,1745.6h2.5v2.5h-2.5zM1651.7,1742.9h2.5v2.5h-2.5zM1652.5,1750h2.5v2.5h-2.5zM1654.5,1750.7h2.5v2.5h-2.5zM1651,1757.4h2.5v2.5h-2.5zM1658.9,1757.4h2.5v2.5h-2.5zM1652.4,1794.8h2.5v2.5h-2.5zM1650.1,1770.8h2.5v2.5h-2.5zM1648.4,1798.5h2.5v2.5h-2.5zM1644.4,1800.4h2.5v2.5h-2.5zM1657.2,1756.5h2.5v2.5h-2.5zM1655.5,1713.3h2.5v2.5h-2.5zM1655.3,1753.6h2.5v2.5h-2.5zM1649.2,1776.5h2.5v2.5h-2.5zM1652.7,1739.3h2.5v2.5h-2.5zM1652.3,1752.7h2.5v2.5h-2.5zM1650,1814.3h2.5v2.5h-2.5zM1654.4,1752h2.5v2.5h-2.5zM1644.5,1787h2.5v2.5h-2.5zM1656.5,1736.6h2.5v2.5h-2.5zM1663,1732h2.5v2.5h-2.5zM1654,1752.4h2.5v2.5h-2.5zM1654.3,1772.8h2.5v2.5h-2.5zM1660.5,1731.3h2.5v2.5h-2.5zM1646.6,1806h2.5v2.5h-2.5zM1649.8,1765.5h2.5v2.5h-2.5zM1648.4,1740.1h2.5v2.5h-2.5zM1649.9,1778.4h2.5v2.5h-2.5zM1657.7,1740.3h2.5v2.5h-2.5zM1658.9,1730.7h2.5v2.5h-2.5zM1663.7,1728h2.5v2.5h-2.5zM1649.8,1764.5h2.5v2.5h-2.5zM1655.4,1749.7h2.5v2.5h-2.5zM1650.2,1753.1h2.5v2.5h-2.5zM1647.4,1772.4h2.5v2.5h-2.5zM1652.7,1767.2h2.5v2.5h-2.5zM1647.9,1748.7h2.5v2.5h-2.5zM1651.7,1761.1h2.5v2.5h-2.5zM1658.2,1718.4h2.5v2.5h-2.5zM1655.1,1761.8h2.5v2.5h-2.5zM1651.5,1800h2.5v2.5h-2.5zM1656.1,1760h2.5v2.5h-2.5zM1654.7,1765.7h2.5v2.5h-2.5zM1648.2,1747h2.5v2.5h-2.5zM1647.8,1799.1h2.5v2.5h-2.5zM1655,1746.8h2.5v2.5h-2.5zM1650.5,1778h2.5v2.5h-2.5zM1644.6,1811.8h2.5v2.5h-2.5zM1646.6,1733.7h2.5v2.5h-2.5zM1658,1777.7h2.5v2.5h-2.5zM1658.6,1749.9h2.5v2.5h-2.5zM1652.6,1745.3h2.5v2.5h-2.5zM1656.7,1766.8h2.5v2.5h-2.5zM1654.6,1772.7h2.5v2.5h-2.5zM1652.6,1758.2h2.5v2.5h-2.5zM1641.4,1796.6h2.5v2.5h-2.5zM1649.3,1776.2h2.5v2.5h-2.5zM1658.3,1747.1h2.5v2.5h-2.5zM1645.4,1791.9h2.5v2.5h-2.5zM1653.8,1716.2h2.5v2.5h-2.5zM1661.1,1702h2.5v2.5h-2.5zM1642.3,1765.5h2.5v2.5h-2.5zM1639.6,1790.6h2.5v2.5h-2.5zM1651.7,1760.3h2.5v2.5h-2.5zM1651.6,1776.9h2.5v2.5h-2.5zM1655.4,1729h2.5v2.5h-2.5zM1641.3,1822.5h2.5v2.5h-2.5zM1651.4,1739.9h2.5v2.5h-2.5zM1650.9,1764.6h2.5v2.5h-2.5zM1652.6,1729.3h2.5v2.5h-2.5zM1649.7,1774.2h2.5v2.5h-2.5zM1651.6,1763.5h2.5v2.5h-2.5zM1651.9,1775.2h2.5v2.5h-2.5zM1649.7,1782.1h2.5v2.5h-2.5zM1651.1,1780.6h2.5v2.5h-2.5zM1651.7,1762h2.5v2.5h-2.5zM1651,1762.6h2.5v2.5h-2.5zM1655.1,1795.7h2.5v2.5h-2.5zM1661.7,1720.6h2.5v2.5h-2.5zM1653.3,1762.4h2.5v2.5h-2.5zM1655.2,1776.7h2.5v2.5h-2.5zM1650.2,1750.7h2.5v2.5h-2.5zM1640.8,1769.3h2.5v2.5h-2.5zM1643.7,1759.8h2.5v2.5h-2.5zM1662.8,1728.3h2.5v2.5h-2.5zM1653.9,1771.8h2.5v2.5h-2.5zM1663.5,1735.2h2.5v2.5h-2.5zM1657.3,1728.1h2.5v2.5h-2.5zM1658.8,1764.7h2.5v2.5h-2.5zM1653.8,1710.8h2.5v2.5h-2.5zM1655.8,1774.9h2.5v2.5h-2.5zM1646,1783.5h2.5v2.5h-2.5zM1654.5,1734.4h2.5v2.5h-2.5zM1662.7,1750.8h2.5v2.5h-2.5zM1652.7,1793.9h2.5v2.5h-2.5zM1655.5,1733.1h2.5v2.5h-2.5zM1641.8,1770.4h2.5v2.5h-2.5zM1647.9,1760h2.5v2.5h-2.5zM1651.4,1760h2.5v2.5h-2.5zM1658.8,1745.3h2.5v2.5h-2.5zM1648.2,1765.7h2.5v2.5h-2.5zM1652.1,1761.8h2.5v2.5h-2.5zM1645,1790.7h2.5v2.5h-2.5zM1648.5,1774.9h2.5v2.5h-2.5zM1651.5,1752.2h2.5v2.5h-2.5zM1645.2,1766.7h2.5v2.5h-2.5zM1658.4,1781.9h2.5v2.5h-2.5zM1659.9,1703.9h2.5v2.5h-2.5zM1652.2,1768.6h2.5v2.5h-2.5zM1662.2,1738.7h2.5v2.5h-2.5zM1651.7,1766.5h2.5v2.5h-2.5zM1652.4,1770.8h2.5v2.5h-2.5zM1650,1772.4h2.5v2.5h-2.5zM1654.4,1766.4h2.5v2.5h-2.5zM1648.5,1757.8h2.5v2.5h-2.5zM1651.7,1761.6h2.5v2.5h-2.5zM1645.3,1773.9h2.5v2.5h-2.5zM1654.6,1757.5h2.5v2.5h-2.5zM1652.8,1778.7h2.5v2.5h-2.5zM1660,1705.3h2.5v2.5h-2.5zM1654.4,1775.2h2.5v2.5h-2.5zM1657.5,1780.9h2.5v2.5h-2.5zM1652.5,1760.1h2.5v2.5h-2.5zM1662.1,1743.4h2.5v2.5h-2.5zM1650.6,1780h2.5v2.5h-2.5zM1664.3,1735.8h2.5v2.5h-2.5zM1649.8,1778.8h2.5v2.5h-2.5zM1643.5,1779.6h2.5v2.5h-2.5zM1657.5,1770.1h2.5v2.5h-2.5zM1645.9,1766.7h2.5v2.5h-2.5zM1654.4,1783.2h2.5v2.5h-2.5zM1649.1,1756.3h2.5v2.5h-2.5zM1663.7,1745.7h2.5v2.5h-2.5zM1645.5,1736.2h2.5v2.5h-2.5zM1640.6,1795.7h2.5v2.5h-2.5zM1656.2,1709.5h2.5v2.5h-2.5zM1660.1,1747.7h2.5v2.5h-2.5zM1650.5,1773.7h2.5v2.5h-2.5zM1653.5,1750h2.5v2.5h-2.5zM1651.6,1759.4h2.5v2.5h-2.5zM1649,1776.8h2.5v2.5h-2.5zM1643.6,1793h2.5v2.5h-2.5zM1651.7,1761.2h2.5v2.5h-2.5zM1652.9,1766.5h2.5v2.5h-2.5zM1657.5,1706.5h2.5v2.5h-2.5zM1653.8,1748.2h2.5v2.5h-2.5zM1653.2,1768.4h2.5v2.5h-2.5zM1643.4,1787.7h2.5v2.5h-2.5zM1650.3,1769.1h2.5v2.5h-2.5zM1651.9,1765.1h2.5v2.5h-2.5zM1647.8,1757.8h2.5v2.5h-2.5zM1650.5,1760.9h2.5v2.5h-2.5zM1652.7,1800.5h2.5v2.5h-2.5zM1652.7,1759.4h2.5v2.5h-2.5zM1652,1749.1h2.5v2.5h-2.5zM1649.5,1762.2h2.5v2.5h-2.5zM1648.8,1767.7h2.5v2.5h-2.5zM1651.8,1742.5h2.5v2.5h-2.5zM1644.2,1792.4h2.5v2.5h-2.5zM1652.3,1746.3h2.5v2.5h-2.5zM1651.8,1760.1h2.5v2.5h-2.5zM1651.7,1760.1h2.5v2.5h-2.5zM1643.7,1786.8h2.5v2.5h-2.5zM1657,1742.8h2.5v2.5h-2.5zM1650.7,1767.1h2.5v2.5h-2.5zM1662.2,1728.2h2.5v2.5h-2.5zM1653.5,1786.9h2.5v2.5h-2.5zM1649.1,1764.3h2.5v2.5h-2.5zM1651.9,1759.8h2.5v2.5h-2.5zM1656.7,1768.7h2.5v2.5h-2.5zM1656.8,1701h2.5v2.5h-2.5zM1662.5,1710.6h2.5v2.5h-2.5zM1652.2,1752.1h2.5v2.5h-2.5zM1652.7,1765.7h2.5v2.5h-2.5zM1647,1759h2.5v2.5h-2.5zM1651.8,1757.5h2.5v2.5h-2.5zM1651.6,1762.1h2.5v2.5h-2.5zM1656.6,1734.3h2.5v2.5h-2.5zM1647.7,1794.9h2.5v2.5h-2.5zM1651.9,1763.1h2.5v2.5h-2.5zM1658.5,1761.6h2.5v2.5h-2.5zM1662.2,1703.9h2.5v2.5h-2.5zM1646.4,1755.8h2.5v2.5h-2.5zM1643.1,1760.4h2.5v2.5h-2.5zM1650.9,1760h2.5v2.5h-2.5zM1651.8,1760.5h2.5v2.5h-2.5zM1660.3,1750.3h2.5v2.5h-2.5zM1661.7,1705.1h2.5v2.5h-2.5zM1654,1707.4h2.5v2.5h-2.5zM1641.5,1768.7h2.5v2.5h-2.5zM1649.7,1764.6h2.5v2.5h-2.5zM1646.8,1777.2h2.5v2.5h-2.5zM1663.1,1712.8h2.5v2.5h-2.5zM1652.7,1777.8h2.5v2.5h-2.5zM1645.7,1736.3h2.5v2.5h-2.5zM1652.7,1754.9h2.5v2.5h-2.5zM1657.6,1761.3h2.5v2.5h-2.5zM1653.1,1767.3h2.5v2.5h-2.5zM1652.9,1732.8h2.5v2.5h-2.5zM1647.5,1781.4h2.5v2.5h-2.5zM1646.6,1798.2h2.5v2.5h-2.5zM1639.9,1772.5h2.5v2.5h-2.5zM1651.1,1754.8h2.5v2.5h-2.5zM1652.1,1766.2h2.5v2.5h-2.5zM1662.7,1731.2h2.5v2.5h-2.5zM1650.3,1760.3h2.5v2.5h-2.5zM1650.7,1756.2h2.5v2.5h-2.5zM1638.4,1794h2.5v2.5h-2.5zM1645.5,1799.5h2.5v2.5h-2.5zM1646.8,1798.6h2.5v2.5h-2.5zM1646.1,1799.7h2.5v2.5h-2.5zM1645.4,1796.8h2.5v2.5h-2.5zM1644,1806.9h2.5v2.5h-2.5zM1641.5,1803.6h2.5v2.5h-2.5zM1650.6,1797.8h2.5v2.5h-2.5zM1646.4,1792.7h2.5v2.5h-2.5zM1643.4,1802.7h2.5v2.5h-2.5zM1647,1806.2h2.5v2.5h-2.5zM1643.3,1797.1h2.5v2.5h-2.5zM1647.4,1799.5h2.5v2.5h-2.5zM1651.6,1800.5h2.5v2.5h-2.5zM1652.4,1808.5h2.5v2.5h-2.5zM1646.7,1800.3h2.5v2.5h-2.5zM1643.8,1798.8h2.5v2.5h-2.5zM1643.9,1799.4h2.5v2.5h-2.5zM1652.9,1804.9h2.5v2.5h-2.5zM1640.7,1805.2h2.5v2.5h-2.5zM1645.1,1801.8h2.5v2.5h-2.5zM1643.7,1805.9h2.5v2.5h-2.5zM1647.8,1804.1h2.5v2.5h-2.5zM1642,1808.4h2.5v2.5h-2.5zM1642.4,1794.1h2.5v2.5h-2.5zM1649.4,1801.5h2.5v2.5h-2.5zM1650.9,1799.1h2.5v2.5h-2.5zM1638.2,1799.5h2.5v2.5h-2.5zM1641.4,1805.2h2.5v2.5h-2.5zM1651.4,1805.1h2.5v2.5h-2.5zM1644.2,1802.8h2.5v2.5h-2.5zM1652.8,1799.1h2.5v2.5h-2.5zM1646.9,1798.9h2.5v2.5h-2.5zM1645.8,1800.2h2.5v2.5h-2.5zM1646.2,1801.9h2.5v2.5h-2.5zM1645.9,1797.2h2.5v2.5h-2.5zM1647.1,1799h2.5v2.5h-2.5zM1638.6,1796.3h2.5v2.5h-2.5zM1652.1,1798.4h2.5v2.5h-2.5zM1645.1,1801.4h2.5v2.5h-2.5zM1644.8,1800.3h2.5v2.5h-2.5zM1643.9,1802.2h2.5v2.5h-2.5zM1645.7,1801.1h2.5v2.5h-2.5zM1646.7,1802.1h2.5v2.5h-2.5zM1645.1,1803.6h2.5v2.5h-2.5zM1650.8,1800.7h2.5v2.5h-2.5zM1645.1,1801.3h2.5v2.5h-2.5zM1648,1803.5h2.5v2.5h-2.5zM1644.5,1794.5h2.5v2.5h-2.5zM1644.8,1798.7h2.5v2.5h-2.5zM1637.6,1798.3h2.5v2.5h-2.5zM1642.3,1801.2h2.5v2.5h-2.5zM1639,1794h2.5v2.5h-2.5zM1646.5,1799.1h2.5v2.5h-2.5zM1651.9,1804.3h2.5v2.5h-2.5zM1650.8,1806.8h2.5v2.5h-2.5zM1642.1,1793.3h2.5v2.5h-2.5zM1637,1803.9h2.5v2.5h-2.5zM1644.5,1792.1h2.5v2.5h-2.5zM1649.3,1799.8h2.5v2.5h-2.5zM1651.9,1863.3h2.5v2.5h-2.5zM1650.6,1862.5h2.5v2.5h-2.5zM1659.7,1806.4h2.5v2.5h-2.5zM1654.9,1862.5h2.5v2.5h-2.5zM1659.7,1804.6h2.5v2.5h-2.5zM1651.5,1801.5h2.5v2.5h-2.5zM1670.1,1828.5h2.5v2.5h-2.5zM1653.1,1802.7h2.5v2.5h-2.5zM1639,1859.8h2.5v2.5h-2.5zM1667.5,1836.3h2.5v2.5h-2.5zM1641.7,1802.2h2.5v2.5h-2.5zM1652.8,1802.2h2.5v2.5h-2.5zM1667.8,1815h2.5v2.5h-2.5zM1668.3,1822.2h2.5v2.5h-2.5zM1659.9,1860.4h2.5v2.5h-2.5zM1631.7,1829.9h2.5v2.5h-2.5zM1665.8,1849h2.5v2.5h-2.5zM1630.2,1829.7h2.5v2.5h-2.5zM1663.2,1810.4h2.5v2.5h-2.5zM1633.8,1858.3h2.5v2.5h-2.5zM1665.6,1815.7h2.5v2.5h-2.5zM1637.5,1856.5h2.5v2.5h-2.5zM1636,1812.1h2.5v2.5h-2.5zM1642.7,1803.2h2.5v2.5h-2.5zM1639.3,1805.5h2.5v2.5h-2.5zM1644.3,1805h2.5v2.5h-2.5zM1644.1,1861.8h2.5v2.5h-2.5zM1640.8,1802.7h2.5v2.5h-2.5zM1636.8,1862h2.5v2.5h-2.5zM1634.4,1806.9h2.5v2.5h-2.5zM1631.4,1814.8h2.5v2.5h-2.5zM1631.9,1832.2h2.5v2.5h-2.5zM1637.4,1857.6h2.5v2.5h-2.5zM1632.3,1816.6h2.5v2.5h-2.5zM1632.4,1828.7h2.5v2.5h-2.5zM1631.1,1813.8h2.5v2.5h-2.5zM1641.9,1860.8h2.5v2.5h-2.5zM1646.7,1863.9h2.5v2.5h-2.5zM1638.6,1861.7h2.5v2.5h-2.5zM1631.6,1830.3h2.5v2.5h-2.5zM1648.2,1802.3h2.5v2.5h-2.5zM1668,1820.8h2.5v2.5h-2.5zM1632.3,1848.6h2.5v2.5h-2.5zM1644.6,1805h2.5v2.5h-2.5zM1652.8,1865.9h2.5v2.5h-2.5zM1662.4,1856.3h2.5v2.5h-2.5zM1654.7,1863h2.5v2.5h-2.5zM1644.6,1805.1h2.5v2.5h-2.5zM1664.4,1857.1h2.5v2.5h-2.5zM1640.6,1863.1h2.5v2.5h-2.5zM1664.8,1858.8h2.5v2.5h-2.5zM1660.7,1860.5h2.5v2.5h-2.5zM1671.1,1832.4h2.5v2.5h-2.5zM1658.1,1862.7h2.5v2.5h-2.5zM1659.3,1859.6h2.5v2.5h-2.5zM1661.7,1859.5h2.5v2.5h-2.5zM1639.1,1806.8h2.5v2.5h-2.5zM1640.2,1864.4h2.5v2.5h-2.5zM1640.6,1864.5h2.5v2.5h-2.5zM1670,1846.2h2.5v2.5h-2.5zM1662,1878h2.5v2.5h-2.5zM1659.6,1874.2h2.5v2.5h-2.5zM1663.1,1894h2.5v2.5h-2.5zM1664.1,1896h2.5v2.5h-2.5zM1660.7,1882.9h2.5v2.5h-2.5zM1660,1900.7h2.5v2.5h-2.5zM1658.3,1880.6h2.5v2.5h-2.5zM1661.9,1891.5h2.5v2.5h-2.5zM1659.2,1863.8h2.5v2.5h-2.5zM1658.3,1877.1h2.5v2.5h-2.5zM1657.2,1895.4h2.5v2.5h-2.5zM1660.5,1887.6h2.5v2.5h-2.5zM1660.1,1886.8h2.5v2.5h-2.5zM1660.4,1887.6h2.5v2.5h-2.5zM1659.4,1875.3h2.5v2.5h-2.5zM1661.2,1881h2.5v2.5h-2.5zM1656.6,1866.9h2.5v2.5h-2.5zM1658.2,1891.2h2.5v2.5h-2.5zM1660.4,1874.4h2.5v2.5h-2.5zM1659.8,1883.4h2.5v2.5h-2.5zM1657.7,1880.5h2.5v2.5h-2.5zM1659.4,1876.5h2.5v2.5h-2.5zM1655.4,1866.2h2.5v2.5h-2.5zM1654.9,1871.6h2.5v2.5h-2.5zM1658.6,1878.5h2.5v2.5h-2.5zM1658.8,1880.2h2.5v2.5h-2.5zM1654.3,1878.3h2.5v2.5h-2.5zM1658.9,1879.5h2.5v2.5h-2.5zM1659.1,1880.9h2.5v2.5h-2.5zM1656.1,1868.2h2.5v2.5h-2.5zM1658.6,1879.2h2.5v2.5h-2.5zM1657.8,1877.7h2.5v2.5h-2.5zM1658.4,1877.4h2.5v2.5h-2.5zM1664.3,1886.7h2.5v2.5h-2.5zM1661.2,1878.4h2.5v2.5h-2.5zM1657.4,1874.1h2.5v2.5h-2.5zM1659.9,1878.4h2.5v2.5h-2.5zM1660.5,1871.2h2.5v2.5h-2.5zM1659,1878.2h2.5v2.5h-2.5zM1663.5,1874.6h2.5v2.5h-2.5zM1659,1879h2.5v2.5h-2.5zM1660.7,1875.6h2.5v2.5h-2.5zM1659.1,1880h2.5v2.5h-2.5zM1661.6,1888.2h2.5v2.5h-2.5zM1660.1,1886h2.5v2.5h-2.5zM1659.6,1881.1h2.5v2.5h-2.5zM1658.4,1871.7h2.5v2.5h-2.5zM1660.3,1880h2.5v2.5h-2.5zM1657.6,1873.6h2.5v2.5h-2.5zM1659.4,1861.7h2.5v2.5h-2.5zM1656.7,1871.5h2.5v2.5h-2.5zM1655,1857.7h2.5v2.5h-2.5zM1664.1,1894.4h2.5v2.5h-2.5zM1662.7,1876.4h2.5v2.5h-2.5zM1658.1,1876.2h2.5v2.5h-2.5zM1659,1891.1h2.5v2.5h-2.5zM1660,1890.8h2.5v2.5h-2.5zM1658.5,1869.2h2.5v2.5h-2.5zM1658.4,1873h2.5v2.5h-2.5zM1663.1,1886.6h2.5v2.5h-2.5zM1664.4,1880.2h2.5v2.5h-2.5zM1663.6,1874.7h2.5v2.5h-2.5zM1657.7,1875h2.5v2.5h-2.5zM1661.9,1875h2.5v2.5h-2.5zM1661.9,1885.3h2.5v2.5h-2.5zM1660.3,1869.8h2.5v2.5h-2.5zM1658,1897.9h2.5v2.5h-2.5zM1658.5,1878.8h2.5v2.5h-2.5zM1661.6,1887.2h2.5v2.5h-2.5zM1656.4,1869.7h2.5v2.5h-2.5zM1655.1,1872.8h2.5v2.5h-2.5zM1658.8,1879.8h2.5v2.5h-2.5zM1656.4,1890.4h2.5v2.5h-2.5zM1658.9,1878.6h2.5v2.5h-2.5zM1655.2,1889.7h2.5v2.5h-2.5zM1658.3,1877.8h2.5v2.5h-2.5zM1660.9,1879.7h2.5v2.5h-2.5zM1664.3,1897.8h2.5v2.5h-2.5zM1658.6,1895.9h2.5v2.5h-2.5zM1654.2,1873.2h2.5v2.5h-2.5zM1661.1,1896h2.5v2.5h-2.5zM1659.6,1881.6h2.5v2.5h-2.5zM1654.7,1872.4h2.5v2.5h-2.5zM1656.5,1885h2.5v2.5h-2.5zM1661.6,1900.8h2.5v2.5h-2.5zM1654.9,1880.1h2.5v2.5h-2.5zM1653,1865h2.5v2.5h-2.5zM1656,1869.9h2.5v2.5h-2.5zM1652.7,1871.4h2.5v2.5h-2.5zM1656.2,1857.1h2.5v2.5h-2.5z" fill="#000"/>
<rect x="-5.5" y="-37" width="11" height="74" rx="5.5" transform="translate(1654,1761) rotate(8)" fill="#0a0a0a" stroke="none" stroke-width="0"/>
<rect x="-2.5" y="-11" width="5" height="22" rx="2.5" transform="translate(1656,1748) rotate(8)" fill="#d0d0d0" stroke="none" stroke-width="0"/>
<clipPath id="hp6"><path d="M1669.5,1834.4 C1669.5,1837.5 1669.4,1841.1 1669.3,1843.6 C1669.1,1846.1 1668.8,1847.6 1668.5,1849.3 C1668.2,1851.1 1667.8,1852.5 1667.3,1853.9 C1666.8,1855.3 1666.2,1856.5 1665.5,1857.6 C1664.9,1858.7 1664.1,1859.7 1663.3,1860.5 C1662.5,1861.3 1661.6,1862 1660.5,1862.6 C1659.5,1863.1 1658.5,1863.5 1657,1863.8 C1655.5,1864.1 1653.3,1864.2 1651.5,1864.2 C1649.6,1864.2 1647.4,1864.1 1645.9,1863.8 C1644.4,1863.5 1643.5,1863.1 1642.4,1862.6 C1641.4,1862 1640.5,1861.3 1639.7,1860.5 C1638.8,1859.7 1638.1,1858.7 1637.4,1857.6 C1636.7,1856.5 1636.2,1855.3 1635.7,1853.9 C1635.2,1852.5 1634.8,1851.1 1634.4,1849.3 C1634.1,1847.6 1633.8,1846.1 1633.7,1843.6 C1633.5,1841.1 1633.4,1837.5 1633.4,1834.4 C1633.4,1831.4 1633.5,1827.7 1633.7,1825.2 C1633.8,1822.8 1634.1,1821.2 1634.4,1819.5 C1634.8,1817.8 1635.2,1816.3 1635.7,1814.9 C1636.2,1813.5 1636.7,1812.3 1637.4,1811.2 C1638.1,1810.1 1638.8,1809.2 1639.7,1808.4 C1640.5,1807.5 1641.4,1806.9 1642.4,1806.3 C1643.5,1805.8 1644.4,1805.3 1645.9,1805.1 C1647.4,1804.8 1649.6,1804.7 1651.5,1804.7 C1653.3,1804.7 1655.5,1804.8 1657,1805.1 C1658.5,1805.3 1659.5,1805.8 1660.5,1806.3 C1661.6,1806.9 1662.5,1807.5 1663.3,1808.4 C1664.1,1809.2 1664.9,1810.1 1665.5,1811.2 C1666.2,1812.3 1666.8,1813.5 1667.3,1814.9 C1667.8,1816.3 1668.2,1817.8 1668.5,1819.5 C1668.8,1821.2 1669.1,1822.8 1669.3,1825.2 C1669.4,1827.7 1669.5,1831.4 1669.5,1834.4Z"/></clipPath>
<g clip-path="url(#hp6)"><path d="M1669.5,1834.4 C1669.5,1837.5 1669.4,1841.1 1669.3,1843.6 C1669.1,1846.1 1668.8,1847.6 1668.5,1849.3 C1668.2,1851.1 1667.8,1852.5 1667.3,1853.9 C1666.8,1855.3 1666.2,1856.5 1665.5,1857.6 C1664.9,1858.7 1664.1,1859.7 1663.3,1860.5 C1662.5,1861.3 1661.6,1862 1660.5,1862.6 C1659.5,1863.1 1658.5,1863.5 1657,1863.8 C1655.5,1864.1 1653.3,1864.2 1651.5,1864.2 C1649.6,1864.2 1647.4,1864.1 1645.9,1863.8 C1644.4,1863.5 1643.5,1863.1 1642.4,1862.6 C1641.4,1862 1640.5,1861.3 1639.7,1860.5 C1638.8,1859.7 1638.1,1858.7 1637.4,1857.6 C1636.7,1856.5 1636.2,1855.3 1635.7,1853.9 C1635.2,1852.5 1634.8,1851.1 1634.4,1849.3 C1634.1,1847.6 1633.8,1846.1 1633.7,1843.6 C1633.5,1841.1 1633.4,1837.5 1633.4,1834.4 C1633.4,1831.4 1633.5,1827.7 1633.7,1825.2 C1633.8,1822.8 1634.1,1821.2 1634.4,1819.5 C1634.8,1817.8 1635.2,1816.3 1635.7,1814.9 C1636.2,1813.5 1636.7,1812.3 1637.4,1811.2 C1638.1,1810.1 1638.8,1809.2 1639.7,1808.4 C1640.5,1807.5 1641.4,1806.9 1642.4,1806.3 C1643.5,1805.8 1644.4,1805.3 1645.9,1805.1 C1647.4,1804.8 1649.6,1804.7 1651.5,1804.7 C1653.3,1804.7 1655.5,1804.8 1657,1805.1 C1658.5,1805.3 1659.5,1805.8 1660.5,1806.3 C1661.6,1806.9 1662.5,1807.5 1663.3,1808.4 C1664.1,1809.2 1664.9,1810.1 1665.5,1811.2 C1666.2,1812.3 1666.8,1813.5 1667.3,1814.9 C1667.8,1816.3 1668.2,1817.8 1668.5,1819.5 C1668.8,1821.2 1669.1,1822.8 1669.3,1825.2 C1669.4,1827.7 1669.5,1831.4 1669.5,1834.4Z" fill="#bdbdbd"/><path d="M1669.5,1834.4 C1669.5,1837.5 1669.4,1841.1 1669.3,1843.6 C1669.1,1846.1 1668.8,1847.6 1668.5,1849.3 C1668.2,1851.1 1667.8,1852.5 1667.3,1853.9 C1666.8,1855.3 1666.2,1856.5 1665.5,1857.6 C1664.9,1858.7 1664.1,1859.7 1663.3,1860.5 C1662.5,1861.3 1661.6,1862 1660.5,1862.6 C1659.5,1863.1 1658.5,1863.5 1657,1863.8 C1655.5,1864.1 1653.3,1864.2 1651.5,1864.2 C1649.6,1864.2 1647.4,1864.1 1645.9,1863.8 C1644.4,1863.5 1643.5,1863.1 1642.4,1862.6 C1641.4,1862 1640.5,1861.3 1639.7,1860.5 C1638.8,1859.7 1638.1,1858.7 1637.4,1857.6 C1636.7,1856.5 1636.2,1855.3 1635.7,1853.9 C1635.2,1852.5 1634.8,1851.1 1634.4,1849.3 C1634.1,1847.6 1633.8,1846.1 1633.7,1843.6 C1633.5,1841.1 1633.4,1837.5 1633.4,1834.4 C1633.4,1831.4 1633.5,1827.7 1633.7,1825.2 C1633.8,1822.8 1634.1,1821.2 1634.4,1819.5 C1634.8,1817.8 1635.2,1816.3 1635.7,1814.9 C1636.2,1813.5 1636.7,1812.3 1637.4,1811.2 C1638.1,1810.1 1638.8,1809.2 1639.7,1808.4 C1640.5,1807.5 1641.4,1806.9 1642.4,1806.3 C1643.5,1805.8 1644.4,1805.3 1645.9,1805.1 C1647.4,1804.8 1649.6,1804.7 1651.5,1804.7 C1653.3,1804.7 1655.5,1804.8 1657,1805.1 C1658.5,1805.3 1659.5,1805.8 1660.5,1806.3 C1661.6,1806.9 1662.5,1807.5 1663.3,1808.4 C1664.1,1809.2 1664.9,1810.1 1665.5,1811.2 C1666.2,1812.3 1666.8,1813.5 1667.3,1814.9 C1667.8,1816.3 1668.2,1817.8 1668.5,1819.5 C1668.8,1821.2 1669.1,1822.8 1669.3,1825.2 C1669.4,1827.7 1669.5,1831.4 1669.5,1834.4Z" fill="none" stroke="#161616" stroke-width="9" filter="url(#bl)" style="--b:2.2"/></g>
<path d="M1669.5,1834.4 C1669.5,1837.5 1669.4,1841.1 1669.3,1843.6 C1669.1,1846.1 1668.8,1847.6 1668.5,1849.3 C1668.2,1851.1 1667.8,1852.5 1667.3,1853.9 C1666.8,1855.3 1666.2,1856.5 1665.5,1857.6 C1664.9,1858.7 1664.1,1859.7 1663.3,1860.5 C1662.5,1861.3 1661.6,1862 1660.5,1862.6 C1659.5,1863.1 1658.5,1863.5 1657,1863.8 C1655.5,1864.1 1653.3,1864.2 1651.5,1864.2 C1649.6,1864.2 1647.4,1864.1 1645.9,1863.8 C1644.4,1863.5 1643.5,1863.1 1642.4,1862.6 C1641.4,1862 1640.5,1861.3 1639.7,1860.5 C1638.8,1859.7 1638.1,1858.7 1637.4,1857.6 C1636.7,1856.5 1636.2,1855.3 1635.7,1853.9 C1635.2,1852.5 1634.8,1851.1 1634.4,1849.3 C1634.1,1847.6 1633.8,1846.1 1633.7,1843.6 C1633.5,1841.1 1633.4,1837.5 1633.4,1834.4 C1633.4,1831.4 1633.5,1827.7 1633.7,1825.2 C1633.8,1822.8 1634.1,1821.2 1634.4,1819.5 C1634.8,1817.8 1635.2,1816.3 1635.7,1814.9 C1636.2,1813.5 1636.7,1812.3 1637.4,1811.2 C1638.1,1810.1 1638.8,1809.2 1639.7,1808.4 C1640.5,1807.5 1641.4,1806.9 1642.4,1806.3 C1643.5,1805.8 1644.4,1805.3 1645.9,1805.1 C1647.4,1804.8 1649.6,1804.7 1651.5,1804.7 C1653.3,1804.7 1655.5,1804.8 1657,1805.1 C1658.5,1805.3 1659.5,1805.8 1660.5,1806.3 C1661.6,1806.9 1662.5,1807.5 1663.3,1808.4 C1664.1,1809.2 1664.9,1810.1 1665.5,1811.2 C1666.2,1812.3 1666.8,1813.5 1667.3,1814.9 C1667.8,1816.3 1668.2,1817.8 1668.5,1819.5 C1668.8,1821.2 1669.1,1822.8 1669.3,1825.2 C1669.4,1827.7 1669.5,1831.4 1669.5,1834.4Z" fill="none" stroke="#000" stroke-width="2.2" stroke-linejoin="round"/>
<ellipse cx="0" cy="0" rx="11.5" ry="17" transform="translate(1649.7,1834) rotate(0)" fill="url(#zb)" stroke="none" stroke-width="0"/>
</g>
<text x="1219.5" y="1774" font-size="18.6" textLength="37.5" lengthAdjust="spacingAndGlyphs" fill="#2a2a2a" font-weight="bold">3.52</text>
<text x="1392.4" y="1774" font-size="18.6" textLength="37.6" lengthAdjust="spacingAndGlyphs" fill="#2a2a2a" font-weight="bold">0.39</text>
<text x="1566.6" y="1774" font-size="18.6" textLength="37.4" lengthAdjust="spacingAndGlyphs" fill="#2a2a2a" font-weight="bold">2.52</text>
<text x="1145.5" y="1747.3" font-size="12.5" fill="#3c3c3c">10</text>
<text x="1160.6" y="1739.5" font-size="14" fill="#3c3c3c">5</text>
<text x="1145.5" y="1778.1" font-size="12.5" fill="#3c3c3c">10</text>
<text x="1160.6" y="1770.3" font-size="14" fill="#3c3c3c">4</text>
<text x="1145.5" y="1815.5" font-size="12.5" fill="#3c3c3c">10</text>
<text x="1160.6" y="1807.8" font-size="14" fill="#3c3c3c">3</text>
<text x="1154" y="1841.8" font-size="14" text-anchor="middle" fill="#3c3c3c">0</text>
<text x="1141" y="1873.8" font-size="12.5" fill="#3c3c3c">-10</text>
<text x="1160.3" y="1866" font-size="14" fill="#3c3c3c">3</text>
<text x="1217.4" y="1924.4" font-size="14" text-anchor="middle" fill="#3c3c3c">0</text>
<text x="1265.3" y="1923.9" font-size="12.5" fill="#3c3c3c">10</text>
<text x="1280.4" y="1916.2" font-size="14" fill="#3c3c3c">3</text>
<text x="1295.3" y="1923.9" font-size="12.5" fill="#3c3c3c">10</text>
<text x="1310.4" y="1916.2" font-size="14" fill="#3c3c3c">4</text>
<text x="1317.7" y="1923.9" font-size="12.5" fill="#3c3c3c">10</text>
<text x="1332.8" y="1916.2" font-size="14" fill="#3c3c3c">5</text>
<text x="1180.8" y="1952.7" font-size="32" textLength="275.5" lengthAdjust="spacingAndGlyphs">APC-Cy-7-A :: CD4</text>
<line x1="1487.2" y1="1939.5" x2="1662.5" y2="1939.5" stroke="#000" stroke-width="3.6" />
<polygon points="1682.5,1939.5 1660.5,1928.9 1660.5,1950.1" fill="#000"/>
<text font-size="32" textLength="281" lengthAdjust="spacingAndGlyphs" transform="translate(1102.7,1950) rotate(-90)">Alexa Fluor 700-A ::</text>
<text font-size="32" textLength="68.4" lengthAdjust="spacingAndGlyphs" transform="translate(1140.2,1843.4) rotate(-90)">IL-17</text>
<path d="M1447.6,2211.1 V2196 H1483.4 V2211.1" fill="none" stroke="#ff0000" stroke-width="3.2"/>
<path d="M1507.5,2211.1 V2086.8 H1544.2 V2211.1" fill="none" stroke="#00b400" stroke-width="3.2"/>
<path d="M1569,2211.1 V2172.1 H1604.8 V2211.1" fill="none" stroke="#b41de0" stroke-width="3.2"/>
<line x1="1465" y1="2166" x2="1465" y2="2210" stroke="#000" stroke-width="2.6" />
<line x1="1456" y1="2166" x2="1474" y2="2166" stroke="#000" stroke-width="2.6" />
<line x1="1525.6" y1="2055.6" x2="1525.6" y2="2112.9" stroke="#000" stroke-width="2.6" />
<line x1="1516.1" y1="2055.6" x2="1535.1" y2="2055.6" stroke="#000" stroke-width="2.6" />
<line x1="1516.1" y1="2112.9" x2="1535.1" y2="2112.9" stroke="#000" stroke-width="2.6" />
<line x1="1586.7" y1="2121.2" x2="1586.7" y2="2220" stroke="#000" stroke-width="2.6" />
<line x1="1577.2" y1="2121.2" x2="1596.2" y2="2121.2" stroke="#000" stroke-width="2.6" />
<line x1="1425.1" y1="2037" x2="1425.1" y2="2212.6" stroke="#000" stroke-width="3" />
<line x1="1415.6" y1="2211.1" x2="1628" y2="2211.1" stroke="#000" stroke-width="3" />
<line x1="1415.6" y1="2038.5" x2="1425.1" y2="2038.5" stroke="#000" stroke-width="3" />
<text x="1407.5" y="2049.6" font-size="31" text-anchor="end">90</text>
<line x1="1415.6" y1="2095.8" x2="1425.1" y2="2095.8" stroke="#000" stroke-width="3" />
<text x="1407.5" y="2106.9" font-size="31" text-anchor="end">60</text>
<line x1="1415.6" y1="2153.5" x2="1425.1" y2="2153.5" stroke="#000" stroke-width="3" />
<text x="1407.5" y="2164.6" font-size="31" text-anchor="end">30</text>
<line x1="1415.6" y1="2211.1" x2="1425.1" y2="2211.1" stroke="#000" stroke-width="3" />
<text x="1407.5" y="2222.2" font-size="31" text-anchor="end">0</text>
<line x1="1465" y1="2211.1" x2="1465" y2="2220.6" stroke="#000" stroke-width="3" />
<line x1="1525.6" y1="2211.1" x2="1525.6" y2="2220.6" stroke="#000" stroke-width="3" />
<line x1="1586.7" y1="2211.1" x2="1586.7" y2="2220.6" stroke="#000" stroke-width="3" />
<circle cx="1465" cy="2152.3" r="4.7" fill="#ff0000"/>
<circle cx="1465" cy="2178.9" r="4.7" fill="#ff0000"/>
<circle cx="1449.8" cy="2211.1" r="4.7" fill="#ff0000"/>
<circle cx="1465" cy="2211.1" r="4.7" fill="#ff0000"/>
<circle cx="1480" cy="2211.1" r="4.7" fill="#ff0000"/>
<rect x="1521.2" y="2041" width="8.8" height="8.8" fill="#00b400"/>
<rect x="1521.2" y="2058.8" width="8.8" height="8.8" fill="#00b400"/>
<rect x="1512.1" y="2092.9" width="8.8" height="8.8" fill="#00b400"/>
<rect x="1531.1" y="2101.6" width="8.8" height="8.8" fill="#00b400"/>
<rect x="1512.1" y="2106.2" width="8.8" height="8.8" fill="#00b400"/>
<polygon points="1586.7,2088.8 1582,2097.3 1591.4,2097.3" fill="#b41dd0"/>
<polygon points="1596.2,2157.5 1591.5,2166 1600.9,2166" fill="#b41dd0"/>
<polygon points="1577.2,2163.9 1572.5,2172.4 1581.9,2172.4" fill="#b41dd0"/>
<polygon points="1577.2,2207.6 1572.5,2216.1 1581.9,2216.1" fill="#b41dd0"/>
<polygon points="1596.2,2207.6 1591.5,2216.1 1600.9,2216.1" fill="#b41dd0"/>
<text x="1485" y="1982.8" font-size="24.5" textLength="78.6" lengthAdjust="spacingAndGlyphs">P=0.35</text>
<line x1="1452" y1="1989.2" x2="1601.5" y2="1989.2" stroke="#000" stroke-width="2" />
<text x="1414" y="2020.7" font-size="24.5" textLength="92.7" lengthAdjust="spacingAndGlyphs">P=0.004</text>
<line x1="1440.7" y1="2029.4" x2="1511.6" y2="2029.4" stroke="#000" stroke-width="2" />
<text x="1523.7" y="2017.7" font-size="24.5" textLength="92.3" lengthAdjust="spacingAndGlyphs">P=0.017</text>
<line x1="1523.7" y1="2022.6" x2="1594" y2="2022.6" stroke="#000" stroke-width="2" />
<text font-size="32" textLength="214.4" lengthAdjust="spacingAndGlyphs" transform="translate(1353.4,2221.8) rotate(-90)">% Suppression</text>
<text x="1238.5" y="2269.2" font-size="32" textLength="111.1" lengthAdjust="spacingAndGlyphs">MDDCs</text>
<text x="1238.5" y="2309" font-size="32" textLength="177.1" lengthAdjust="spacingAndGlyphs">CD4<tspan dy="-11.52" font-size="19.84">+</tspan><tspan dy="11.52"> T cells</tspan></text>
<text x="1151.2" y="2348.8" font-size="32" textLength="285.7" lengthAdjust="spacingAndGlyphs">TIGIT<tspan dy="-11.52" font-size="19.84">+</tspan><tspan dy="11.52"> Mem. B cells</tspan></text>
<text x="1236.6" y="2386.8" font-size="32" textLength="191.5" lengthAdjust="spacingAndGlyphs">TIGIT<tspan dy="-11.52" font-size="19.84">-</tspan><tspan dy="11.52"> B cells</tspan></text>
<text x="1457.7" y="2270.9" font-size="32" text-anchor="middle">+</text>
<text x="1521.1" y="2270.9" font-size="32" text-anchor="middle">+</text>
<text x="1584.8" y="2270.9" font-size="32" text-anchor="middle">+</text>
<text x="1461.5" y="2310" font-size="32" text-anchor="middle">+</text>
<text x="1524.9" y="2310" font-size="32" text-anchor="middle">+</text>
<text x="1589.4" y="2310" font-size="32" text-anchor="middle">+</text>
<text x="1461.5" y="2349.4" font-size="32" text-anchor="middle">-</text>
<text x="1521" y="2349.4" font-size="32" text-anchor="middle">+</text>
<text x="1589.4" y="2349.4" font-size="32" text-anchor="middle">-</text>
<text x="1461.5" y="2388.5" font-size="32" text-anchor="middle">-</text>
<text x="1525.6" y="2388.5" font-size="32" text-anchor="middle">-</text>
<text x="1594.3" y="2388.5" font-size="32" text-anchor="middle">+</text>
</svg></body></html>
